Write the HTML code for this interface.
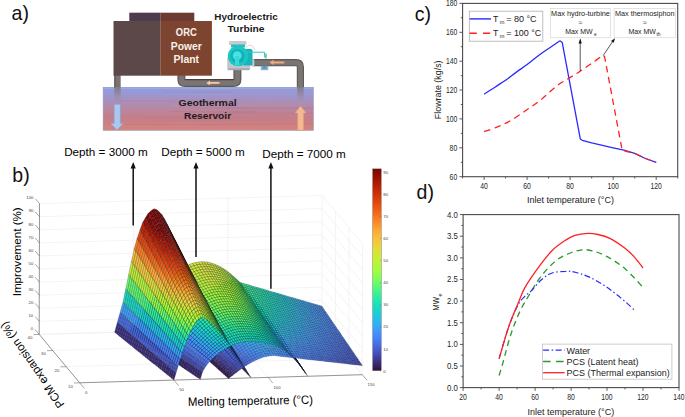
<!DOCTYPE html><html><head><meta charset="utf-8"><style>html,body{margin:0;padding:0;background:#fff;}svg{display:block}</style></head><body><svg width="685" height="417" viewBox="0 0 685 417"><line x1="39.2" y1="334.4" x2="321.8" y2="326.3" stroke="#ececec" stroke-width="0.6"/>
<line x1="321.8" y1="326.3" x2="362.3" y2="374.7" stroke="#ececec" stroke-width="0.6"/>
<line x1="39.2" y1="321.3" x2="321.8" y2="313.2" stroke="#ececec" stroke-width="0.6"/>
<line x1="321.8" y1="313.2" x2="362.3" y2="361.6" stroke="#ececec" stroke-width="0.6"/>
<line x1="39.3" y1="308.2" x2="321.9" y2="300.1" stroke="#ececec" stroke-width="0.6"/>
<line x1="321.9" y1="300.1" x2="362.4" y2="348.5" stroke="#ececec" stroke-width="0.6"/>
<line x1="39.3" y1="295.2" x2="321.9" y2="287.1" stroke="#ececec" stroke-width="0.6"/>
<line x1="321.9" y1="287.1" x2="362.4" y2="335.5" stroke="#ececec" stroke-width="0.6"/>
<line x1="39.3" y1="282.1" x2="321.9" y2="274.0" stroke="#ececec" stroke-width="0.6"/>
<line x1="321.9" y1="274.0" x2="362.4" y2="322.4" stroke="#ececec" stroke-width="0.6"/>
<line x1="39.4" y1="269.0" x2="321.9" y2="260.9" stroke="#ececec" stroke-width="0.6"/>
<line x1="321.9" y1="260.9" x2="362.4" y2="309.3" stroke="#ececec" stroke-width="0.6"/>
<line x1="39.4" y1="255.9" x2="322.0" y2="247.8" stroke="#ececec" stroke-width="0.6"/>
<line x1="322.0" y1="247.8" x2="362.5" y2="296.2" stroke="#ececec" stroke-width="0.6"/>
<line x1="39.4" y1="242.9" x2="322.0" y2="234.8" stroke="#ececec" stroke-width="0.6"/>
<line x1="322.0" y1="234.8" x2="362.5" y2="283.1" stroke="#ececec" stroke-width="0.6"/>
<line x1="39.4" y1="229.8" x2="322.0" y2="221.7" stroke="#ececec" stroke-width="0.6"/>
<line x1="322.0" y1="221.7" x2="362.5" y2="270.1" stroke="#ececec" stroke-width="0.6"/>
<line x1="39.5" y1="216.7" x2="322.1" y2="208.6" stroke="#ececec" stroke-width="0.6"/>
<line x1="322.1" y1="208.6" x2="362.6" y2="257.0" stroke="#ececec" stroke-width="0.6"/>
<line x1="39.5" y1="203.6" x2="322.1" y2="195.5" stroke="#ececec" stroke-width="0.6"/>
<line x1="322.1" y1="195.5" x2="362.6" y2="243.9" stroke="#ececec" stroke-width="0.6"/>
<line x1="39.2" y1="334.4" x2="39.5" y2="203.6" stroke="#ececec" stroke-width="0.6"/>
<line x1="39.2" y1="334.4" x2="79.7" y2="382.8" stroke="#ececec" stroke-width="0.6"/>
<line x1="133.4" y1="331.7" x2="133.7" y2="200.9" stroke="#ececec" stroke-width="0.6"/>
<line x1="133.4" y1="331.7" x2="173.9" y2="380.1" stroke="#ececec" stroke-width="0.6"/>
<line x1="227.6" y1="329.0" x2="227.9" y2="198.2" stroke="#ececec" stroke-width="0.6"/>
<line x1="227.6" y1="329.0" x2="268.1" y2="377.4" stroke="#ececec" stroke-width="0.6"/>
<line x1="321.8" y1="326.3" x2="322.1" y2="195.5" stroke="#ececec" stroke-width="0.6"/>
<line x1="321.8" y1="326.3" x2="362.3" y2="374.7" stroke="#ececec" stroke-width="0.6"/>
<line x1="362.3" y1="374.7" x2="362.6" y2="243.9" stroke="#ececec" stroke-width="0.6"/>
<line x1="348.8" y1="358.6" x2="349.1" y2="227.8" stroke="#ececec" stroke-width="0.6"/>
<line x1="335.3" y1="342.4" x2="335.6" y2="211.6" stroke="#ececec" stroke-width="0.6"/>
<line x1="79.7" y1="382.8" x2="362.3" y2="374.7" stroke="#ececec" stroke-width="0.6"/>
<line x1="66.2" y1="366.7" x2="348.8" y2="358.6" stroke="#ececec" stroke-width="0.6"/>
<line x1="52.7" y1="350.5" x2="335.3" y2="342.4" stroke="#ececec" stroke-width="0.6"/>
<line x1="39.2" y1="334.4" x2="321.8" y2="326.3" stroke="#ececec" stroke-width="0.6"/>
<line x1="39.2" y1="334.4" x2="39.5" y2="203.6" stroke="#555" stroke-width="0.6"/>
<line x1="39.2" y1="334.4" x2="79.7" y2="382.8" stroke="#555" stroke-width="0.6"/>
<line x1="79.7" y1="382.8" x2="362.3" y2="374.7" stroke="#555" stroke-width="0.6"/>
<line x1="39.2" y1="334.4" x2="35.1" y2="329.6" stroke="#555" stroke-width="0.5"/>
<text x="33.2" y="330.1" font-size="4.3" fill="#444" text-anchor="end" font-family="Liberation Sans, sans-serif">0</text>
<line x1="39.2" y1="321.3" x2="35.2" y2="316.5" stroke="#555" stroke-width="0.5"/>
<text x="33.2" y="317.0" font-size="4.3" fill="#444" text-anchor="end" font-family="Liberation Sans, sans-serif">10</text>
<line x1="39.3" y1="308.2" x2="35.2" y2="303.4" stroke="#555" stroke-width="0.5"/>
<text x="33.3" y="303.9" font-size="4.3" fill="#444" text-anchor="end" font-family="Liberation Sans, sans-serif">20</text>
<line x1="39.3" y1="295.2" x2="35.2" y2="290.3" stroke="#555" stroke-width="0.5"/>
<text x="33.3" y="290.9" font-size="4.3" fill="#444" text-anchor="end" font-family="Liberation Sans, sans-serif">30</text>
<line x1="39.3" y1="282.1" x2="35.3" y2="277.3" stroke="#555" stroke-width="0.5"/>
<text x="33.3" y="277.8" font-size="4.3" fill="#444" text-anchor="end" font-family="Liberation Sans, sans-serif">40</text>
<line x1="39.4" y1="269.0" x2="35.3" y2="264.2" stroke="#555" stroke-width="0.5"/>
<text x="33.4" y="264.7" font-size="4.3" fill="#444" text-anchor="end" font-family="Liberation Sans, sans-serif">50</text>
<line x1="39.4" y1="255.9" x2="35.3" y2="251.1" stroke="#555" stroke-width="0.5"/>
<text x="33.4" y="251.6" font-size="4.3" fill="#444" text-anchor="end" font-family="Liberation Sans, sans-serif">60</text>
<line x1="39.4" y1="242.9" x2="35.4" y2="238.0" stroke="#555" stroke-width="0.5"/>
<text x="33.4" y="238.6" font-size="4.3" fill="#444" text-anchor="end" font-family="Liberation Sans, sans-serif">70</text>
<line x1="39.4" y1="229.8" x2="35.4" y2="224.9" stroke="#555" stroke-width="0.5"/>
<text x="33.4" y="225.5" font-size="4.3" fill="#444" text-anchor="end" font-family="Liberation Sans, sans-serif">80</text>
<line x1="39.5" y1="216.7" x2="35.4" y2="211.9" stroke="#555" stroke-width="0.5"/>
<text x="33.5" y="212.4" font-size="4.3" fill="#444" text-anchor="end" font-family="Liberation Sans, sans-serif">90</text>
<line x1="39.5" y1="203.6" x2="35.4" y2="198.8" stroke="#555" stroke-width="0.5"/>
<text x="33.5" y="199.3" font-size="4.3" fill="#444" text-anchor="end" font-family="Liberation Sans, sans-serif">100</text>
<line x1="79.7" y1="382.8" x2="74.0" y2="383.0" stroke="#555" stroke-width="0.5"/>
<text x="70.5" y="387.6" font-size="4.3" fill="#444" text-anchor="middle" font-family="Liberation Sans, sans-serif">10</text>
<line x1="66.2" y1="366.7" x2="60.5" y2="366.8" stroke="#555" stroke-width="0.5"/>
<text x="57.0" y="371.5" font-size="4.3" fill="#444" text-anchor="middle" font-family="Liberation Sans, sans-serif">20</text>
<line x1="52.7" y1="350.5" x2="47.0" y2="350.7" stroke="#555" stroke-width="0.5"/>
<text x="43.5" y="355.3" font-size="4.3" fill="#444" text-anchor="middle" font-family="Liberation Sans, sans-serif">30</text>
<line x1="39.2" y1="334.4" x2="33.5" y2="334.6" stroke="#555" stroke-width="0.5"/>
<text x="30.0" y="339.2" font-size="4.3" fill="#444" text-anchor="middle" font-family="Liberation Sans, sans-serif">40</text>
<line x1="79.7" y1="382.8" x2="84.4" y2="388.4" stroke="#555" stroke-width="0.5"/>
<text x="85.0" y="394.1" font-size="4.3" fill="#444" font-family="Liberation Sans, sans-serif">0</text>
<line x1="173.9" y1="380.1" x2="178.6" y2="385.7" stroke="#555" stroke-width="0.5"/>
<text x="179.2" y="391.4" font-size="4.3" fill="#444" font-family="Liberation Sans, sans-serif">50</text>
<line x1="268.1" y1="377.4" x2="272.8" y2="383.0" stroke="#555" stroke-width="0.5"/>
<text x="273.4" y="388.7" font-size="4.3" fill="#444" font-family="Liberation Sans, sans-serif">100</text>
<line x1="362.3" y1="374.7" x2="367.0" y2="380.3" stroke="#555" stroke-width="0.5"/>
<text x="367.6" y="386.0" font-size="4.3" fill="#444" font-family="Liberation Sans, sans-serif">150</text>
<g stroke="#101018" stroke-opacity="0.55" stroke-width="0.45" stroke-linejoin="round">
<path d="M320.7 307.3l2.5 0.7 -1.3 -1.9 -2.5 -0.7z" fill="#458cfd"/>
<path d="M318.2 306.6l2.5 0.7 -1.3 -1.9 -2.5 -0.7z" fill="#4391fe"/>
<path d="M315.7 305.9l2.5 0.7 -1.3 -1.9 -2.5 -0.7z" fill="#4294ff"/>
<path d="M313.3 305.2l2.5 0.7 -1.3 -1.9 -2.5 -0.7z" fill="#4099ff"/>
<path d="M310.8 304.5l2.5 0.7 -1.3 -1.9 -2.5 -0.7z" fill="#3d9efe"/>
<path d="M308.4 303.8l2.5 0.7 -1.3 -1.9 -2.5 -0.7z" fill="#3ba0fd"/>
<path d="M305.9 303.1l2.5 0.7 -1.3 -1.9 -2.5 -0.7z" fill="#38a5fb"/>
<path d="M303.4 302.4l2.5 0.7 -1.3 -2.0 -2.5 -0.7z" fill="#35abf8"/>
<path d="M273.1 325.5l2.6 3.7 -1.0 -1.5 -2.6 -3.7z" fill="#351e58"/>
<path d="M301.0 301.7l2.5 0.7 -1.3 -2.0 -2.5 -0.7z" fill="#31aff5"/>
<path d="M298.5 301.0l2.5 0.7 -1.3 -2.0 -2.5 -0.7z" fill="#2fb2f4"/>
<path d="M270.5 321.8l2.6 3.7 -1.0 -1.5 -2.6 -3.7z" fill="#3d358b"/>
<path d="M296.1 300.3l2.5 0.7 -1.3 -2.0 -2.5 -0.7z" fill="#2cb7f0"/>
<path d="M293.6 299.6l2.5 0.7 -1.3 -2.0 -2.5 -0.7z" fill="#28bceb"/>
<path d="M267.9 318.1l2.6 3.7 -1.1 -1.6 -2.6 -3.7z" fill="#434eba"/>
<path d="M291.2 298.9l2.5 0.7 -1.3 -2.0 -2.5 -0.7z" fill="#25c0e7"/>
<path d="M288.7 298.2l2.5 0.7 -1.3 -2.0 -2.5 -0.7z" fill="#23c3e4"/>
<path d="M265.3 314.4l2.6 3.6 -1.1 -1.6 -2.6 -3.7z" fill="#4664da"/>
<path d="M286.2 297.5l2.5 0.7 -1.3 -2.0 -2.5 -0.7z" fill="#20c7df"/>
<path d="M321.9 309.2l2.5 0.7 -1.3 -1.9 -2.5 -0.7z" fill="#458cfd"/>
<path d="M283.8 296.8l2.5 0.7 -1.3 -2.1 -2.5 -0.7z" fill="#1ecbda"/>
<path d="M319.5 308.5l2.5 0.7 -1.3 -1.9 -2.5 -0.7z" fill="#448ffe"/>
<path d="M262.7 310.9l2.6 3.6 -1.1 -1.6 -2.6 -3.6z" fill="#4778f0"/>
<path d="M281.3 296.1l2.5 0.7 -1.3 -2.1 -2.5 -0.7z" fill="#1bd0d5"/>
<path d="M317.0 307.8l2.5 0.7 -1.3 -1.9 -2.5 -0.7z" fill="#4294ff"/>
<path d="M278.9 295.4l2.5 0.7 -1.3 -2.1 -2.5 -0.7z" fill="#1ad2d2"/>
<path d="M314.5 307.1l2.5 0.7 -1.3 -1.9 -2.5 -0.7z" fill="#4099ff"/>
<path d="M260.1 307.3l2.6 3.5 -1.1 -1.7 -2.6 -3.6z" fill="#458cfd"/>
<path d="M276.4 294.7l2.5 0.7 -1.3 -2.1 -2.5 -0.7z" fill="#19d5cd"/>
<path d="M312.1 306.5l2.5 0.7 -1.3 -1.9 -2.5 -0.7z" fill="#3d9efe"/>
<path d="M274.0 294.0l2.5 0.7 -1.3 -2.1 -2.5 -0.7z" fill="#18d9c8"/>
<path d="M309.6 305.8l2.5 0.7 -1.3 -1.9 -2.5 -0.7z" fill="#3ba0fd"/>
<path d="M257.5 303.9l2.6 3.4 -1.1 -1.7 -2.6 -3.5z" fill="#3ba0fd"/>
<path d="M271.5 293.3l2.5 0.7 -1.3 -2.1 -2.5 -0.7z" fill="#18dbc5"/>
<path d="M307.2 305.1l2.5 0.7 -1.3 -1.9 -2.5 -0.7z" fill="#38a5fb"/>
<path d="M269.0 292.6l2.5 0.7 -1.3 -2.1 -2.5 -0.7z" fill="#18dec0"/>
<path d="M304.7 304.4l2.5 0.7 -1.3 -2.0 -2.5 -0.7z" fill="#35abf8"/>
<path d="M274.2 327.0l2.6 3.7 -1.0 -1.5 -2.6 -3.7z" fill="#351e58"/>
<path d="M254.9 300.5l2.6 3.4 -1.1 -1.7 -2.6 -3.4z" fill="#2eb4f2"/>
<path d="M266.6 291.9l2.5 0.7 -1.3 -2.2 -2.5 -0.7z" fill="#19e2bb"/>
<path d="M302.3 303.7l2.5 0.7 -1.3 -2.0 -2.5 -0.7z" fill="#33adf7"/>
<path d="M264.1 291.2l2.5 0.7 -1.3 -2.2 -2.5 -0.7z" fill="#1ae4b6"/>
<path d="M299.8 303.0l2.5 0.7 -1.3 -2.0 -2.5 -0.7z" fill="#2fb2f4"/>
<path d="M271.6 323.3l2.6 3.7 -1.0 -1.5 -2.6 -3.7z" fill="#3d358b"/>
<path d="M252.3 297.3l2.6 3.3 -1.2 -1.8 -2.6 -3.3z" fill="#22c5e2"/>
<path d="M261.7 290.5l2.5 0.7 -1.3 -2.2 -2.5 -0.7z" fill="#1ce6b4"/>
<path d="M297.3 302.3l2.5 0.7 -1.3 -2.0 -2.5 -0.7z" fill="#2cb7f0"/>
<path d="M259.2 289.8l2.5 0.7 -1.3 -2.2 -2.5 -0.7z" fill="#1fe9af"/>
<path d="M294.9 301.6l2.5 0.7 -1.3 -2.0 -2.5 -0.7z" fill="#28bceb"/>
<path d="M269.0 319.7l2.6 3.6 -1.1 -1.6 -2.6 -3.7z" fill="#424bb5"/>
<path d="M249.7 294.1l2.6 3.2 -1.2 -1.8 -2.6 -3.2z" fill="#19d5cd"/>
<path d="M256.7 289.1l2.5 0.7 -1.3 -2.2 -2.5 -0.7z" fill="#22ebaa"/>
<path d="M292.4 301.0l2.5 0.7 -1.3 -2.0 -2.5 -0.7z" fill="#27bee9"/>
<path d="M254.3 288.4l2.5 0.7 -1.3 -2.2 -2.5 -0.7z" fill="#27eea4"/>
<path d="M290.0 300.3l2.5 0.7 -1.3 -2.0 -2.5 -0.7z" fill="#23c3e4"/>
<path d="M247.1 291.1l2.6 3.0 -1.2 -1.9 -2.6 -3.1z" fill="#19e2bb"/>
<path d="M266.4 316.1l2.6 3.6 -1.1 -1.6 -2.6 -3.6z" fill="#4664da"/>
<path d="M203.9 325.2l2.5 6.0 -1.4 -1.5 -2.5 -6.0z" fill="#372466"/>
<path d="M251.8 287.7l2.5 0.7 -1.3 -2.2 -2.5 -0.7z" fill="#2aefa1"/>
<path d="M287.5 299.6l2.5 0.7 -1.3 -2.0 -2.5 -0.7z" fill="#20c7df"/>
<path d="M323.2 311.1l2.5 0.7 -1.3 -1.9 -2.5 -0.7z" fill="#458afc"/>
<path d="M249.4 287.0l2.5 0.7 -1.3 -2.3 -2.5 -0.7z" fill="#2ff19b"/>
<path d="M285.0 298.9l2.5 0.7 -1.3 -2.1 -2.5 -0.7z" fill="#1ecbda"/>
<path d="M320.7 310.4l2.5 0.7 -1.3 -1.9 -2.5 -0.7z" fill="#448ffe"/>
<path d="M244.5 288.1l2.6 2.9 -1.2 -1.9 -2.6 -3.0z" fill="#22ebaa"/>
<path d="M263.9 312.5l2.6 3.5 -1.1 -1.6 -2.6 -3.6z" fill="#4778f0"/>
<path d="M246.9 286.3l2.5 0.7 -1.3 -2.3 -2.5 -0.7z" fill="#35f394"/>
<path d="M282.6 298.2l2.5 0.7 -1.3 -2.1 -2.5 -0.7z" fill="#1ccdd8"/>
<path d="M318.3 309.7l2.5 0.7 -1.3 -1.9 -2.5 -0.7z" fill="#4294ff"/>
<path d="M244.5 285.6l2.5 0.7 -1.3 -2.3 -2.5 -0.7z" fill="#3cf58e"/>
<path d="M201.3 317.8l2.5 7.4 -1.4 -1.6 -2.5 -7.5z" fill="#434eba"/>
<path d="M280.1 297.5l2.5 0.7 -1.3 -2.1 -2.5 -0.7z" fill="#1ad2d2"/>
<path d="M315.8 309.1l2.5 0.7 -1.3 -1.9 -2.5 -0.7z" fill="#4196ff"/>
<path d="M241.9 285.3l2.6 2.8 -1.2 -2.0 -2.6 -2.8z" fill="#32f298"/>
<path d="M261.3 309.0l2.6 3.5 -1.1 -1.7 -2.6 -3.5z" fill="#458cfd"/>
<path d="M242.0 284.9l2.5 0.7 -1.3 -2.3 -2.5 -0.7z" fill="#3ff68a"/>
<path d="M277.7 296.8l2.5 0.7 -1.3 -2.1 -2.5 -0.7z" fill="#19d5cd"/>
<path d="M313.4 308.4l2.5 0.7 -1.3 -1.9 -2.5 -0.7z" fill="#3e9bfe"/>
<path d="M239.5 284.2l2.5 0.7 -1.3 -2.3 -2.5 -0.7z" fill="#46f884"/>
<path d="M275.2 296.1l2.5 0.7 -1.3 -2.1 -2.5 -0.7z" fill="#18d7ca"/>
<path d="M239.3 282.7l2.6 2.6 -1.2 -2.0 -2.6 -2.7z" fill="#4af880"/>
<path d="M310.9 307.7l2.5 0.7 -1.3 -1.9 -2.5 -0.7z" fill="#3ba0fd"/>
<path d="M237.1 283.5l2.5 0.7 -1.3 -2.3 -2.5 -0.7z" fill="#4ef97d"/>
<path d="M258.7 305.6l2.6 3.4 -1.1 -1.7 -2.6 -3.4z" fill="#3ba0fd"/>
<path d="M272.8 295.5l2.5 0.7 -1.3 -2.1 -2.5 -0.7z" fill="#18dbc5"/>
<path d="M308.4 307.0l2.5 0.7 -1.3 -1.9 -2.5 -0.7z" fill="#38a5fb"/>
<path d="M198.8 309.4l2.5 8.4 -1.5 -1.7 -2.5 -8.5z" fill="#467df4"/>
<path d="M236.7 280.2l2.6 2.5 -1.3 -2.1 -2.6 -2.5z" fill="#61fc6c"/>
<path d="M234.6 282.8l2.5 0.7 -1.3 -2.3 -2.5 -0.7z" fill="#52fa7a"/>
<path d="M270.3 294.8l2.5 0.7 -1.3 -2.1 -2.5 -0.7z" fill="#18dec0"/>
<path d="M306.0 306.4l2.5 0.7 -1.3 -2.0 -2.5 -0.7z" fill="#37a8fa"/>
<path d="M176.5 332.0l3.2 -4.2 -1.7 -1.6 -3.3 4.3z" fill="#351e58"/>
<path d="M275.2 328.5l2.6 3.7 -1.0 -1.5 -2.6 -3.7z" fill="#351e58"/>
<path d="M231.4 283.1l3.2 -0.3 -1.3 -2.3 -3.2 0.3z" fill="#55fa76"/>
<path d="M179.8 327.8l3.2 -4.2 -1.6 -1.6 -3.3 4.3z" fill="#3e3891"/>
<path d="M256.1 302.3l2.6 3.3 -1.1 -1.7 -2.6 -3.4z" fill="#2eb4f2"/>
<path d="M267.8 294.1l2.5 0.7 -1.3 -2.2 -2.5 -0.7z" fill="#19e2bb"/>
<path d="M303.5 305.7l2.5 0.7 -1.3 -2.0 -2.5 -0.7z" fill="#33adf7"/>
<path d="M183.0 323.6l3.2 -4.1 -1.6 -1.7 -3.3 4.2z" fill="#4454c3"/>
<path d="M234.1 277.9l2.6 2.3 -1.3 -2.1 -2.6 -2.4z" fill="#75fe5c"/>
<path d="M228.2 283.7l3.2 -0.6 -1.3 -2.3 -3.2 0.6z" fill="#52fa7a"/>
<path d="M265.4 293.4l2.5 0.7 -1.3 -2.2 -2.5 -0.7z" fill="#19e3b9"/>
<path d="M186.2 319.4l3.2 -4.0 -1.6 -1.8 -3.3 4.1z" fill="#466be3"/>
<path d="M301.1 305.0l2.5 0.7 -1.3 -2.0 -2.5 -0.7z" fill="#2fb2f4"/>
<path d="M225.0 284.7l3.2 -1.0 -1.3 -2.3 -3.2 1.0z" fill="#4ef97d"/>
<path d="M189.5 315.4l3.2 -3.9 -1.6 -1.9 -3.3 4.0z" fill="#4680f6"/>
<path d="M272.7 324.9l2.6 3.7 -1.0 -1.5 -2.6 -3.7z" fill="#3d358b"/>
<path d="M192.7 311.5l3.2 -3.8 -1.5 -1.9 -3.3 3.8z" fill="#4196ff"/>
<path d="M221.7 286.0l3.2 -1.3 -1.3 -2.3 -3.2 1.4z" fill="#43f787"/>
<path d="M253.5 299.1l2.6 3.2 -1.2 -1.8 -2.6 -3.3z" fill="#22c5e2"/>
<path d="M262.9 292.7l2.5 0.7 -1.3 -2.2 -2.5 -0.7z" fill="#1ce6b4"/>
<path d="M298.6 304.3l2.5 0.7 -1.3 -2.0 -2.5 -0.7z" fill="#2eb4f2"/>
<path d="M231.5 275.7l2.6 2.2 -1.3 -2.2 -2.6 -2.2z" fill="#8bff4b"/>
<path d="M195.9 307.7l3.2 -3.6 -1.5 -2.0 -3.3 3.7z" fill="#35abf8"/>
<path d="M218.5 287.7l3.2 -1.7 -1.4 -2.3 -3.2 1.7z" fill="#38f491"/>
<path d="M199.1 304.1l3.2 -3.4 -1.5 -2.0 -3.3 3.4z" fill="#28bceb"/>
<path d="M215.3 289.7l3.2 -2.0 -1.4 -2.3 -3.2 2.0z" fill="#2cf09e"/>
<path d="M196.3 299.7l2.5 9.7 -1.5 -1.8 -2.5 -9.9z" fill="#2fb2f4"/>
<path d="M202.4 300.7l3.2 -3.2 -1.5 -2.1 -3.3 3.2z" fill="#1ccdd8"/>
<path d="M212.1 292.0l3.2 -2.3 -1.4 -2.2 -3.2 2.4z" fill="#22ebaa"/>
<path d="M205.6 297.6l3.2 -2.9 -1.4 -2.1 -3.3 2.9z" fill="#18d9c8"/>
<path d="M208.8 294.7l3.2 -2.6 -1.4 -2.2 -3.3 2.7z" fill="#19e3b9"/>
<path d="M260.5 292.0l2.5 0.7 -1.3 -2.2 -2.5 -0.7z" fill="#1fe9af"/>
<path d="M296.1 303.7l2.5 0.7 -1.3 -2.0 -2.5 -0.7z" fill="#2ab9ee"/>
<path d="M228.9 273.7l2.6 2.0 -1.3 -2.2 -2.6 -2.0z" fill="#99fe42"/>
<path d="M250.9 296.0l2.6 3.1 -1.2 -1.8 -2.6 -3.2z" fill="#19d5cd"/>
<path d="M258.0 291.3l2.5 0.7 -1.3 -2.2 -2.5 -0.7z" fill="#22ebaa"/>
<path d="M270.1 321.3l2.6 3.6 -1.1 -1.6 -2.6 -3.6z" fill="#424bb5"/>
<path d="M293.7 303.0l2.5 0.7 -1.3 -2.0 -2.5 -0.7z" fill="#27bee9"/>
<path d="M255.6 290.6l2.5 0.7 -1.3 -2.2 -2.5 -0.7z" fill="#25eca7"/>
<path d="M291.2 302.3l2.5 0.7 -1.3 -2.0 -2.5 -0.7z" fill="#23c3e4"/>
<path d="M226.3 271.9l2.6 1.8 -1.3 -2.3 -2.6 -1.9z" fill="#a7fc3a"/>
<path d="M248.4 293.0l2.6 3.0 -1.2 -1.9 -2.6 -3.0z" fill="#19e2bb"/>
<path d="M253.1 290.0l2.5 0.7 -1.3 -2.2 -2.5 -0.7z" fill="#2aefa1"/>
<path d="M205.3 326.8l2.5 5.9 -1.4 -1.5 -2.5 -6.0z" fill="#372466"/>
<path d="M267.5 317.7l2.6 3.6 -1.1 -1.6 -2.6 -3.6z" fill="#4664da"/>
<path d="M288.8 301.6l2.5 0.7 -1.3 -2.0 -2.5 -0.7z" fill="#22c5e2"/>
<path d="M324.4 312.9l2.5 0.7 -1.3 -1.9 -2.5 -0.7z" fill="#458afc"/>
<path d="M223.7 270.2l2.6 1.6 -1.3 -2.3 -2.6 -1.7z" fill="#b1f936"/>
<path d="M250.6 289.3l2.5 0.7 -1.3 -2.3 -2.5 -0.7z" fill="#2ff19b"/>
<path d="M193.7 290.5l2.5 9.1 -1.5 -2.0 -2.5 -9.3z" fill="#18dec0"/>
<path d="M286.3 301.0l2.5 0.7 -1.3 -2.1 -2.5 -0.7z" fill="#1fc9dd"/>
<path d="M322.0 312.3l2.5 0.7 -1.3 -1.9 -2.5 -0.7z" fill="#448ffe"/>
<path d="M245.8 290.1l2.6 2.9 -1.2 -1.9 -2.6 -2.9z" fill="#22ebaa"/>
<path d="M248.2 288.6l2.5 0.7 -1.3 -2.3 -2.5 -0.7z" fill="#32f298"/>
<path d="M221.1 268.8l2.6 1.4 -1.4 -2.3 -2.6 -1.5z" fill="#bcf534"/>
<path d="M283.9 300.3l2.5 0.7 -1.3 -2.1 -2.5 -0.7z" fill="#1ccdd8"/>
<path d="M265.0 314.2l2.6 3.5 -1.1 -1.6 -2.6 -3.5z" fill="#4778f0"/>
<path d="M319.5 311.6l2.5 0.7 -1.3 -1.9 -2.5 -0.7z" fill="#4391fe"/>
<path d="M245.7 287.9l2.5 0.7 -1.3 -2.3 -2.5 -0.7z" fill="#38f491"/>
<path d="M281.4 299.6l2.5 0.7 -1.3 -2.1 -2.5 -0.7z" fill="#1bd0d5"/>
<path d="M202.8 319.5l2.5 7.3 -1.4 -1.6 -2.5 -7.4z" fill="#434eba"/>
<path d="M218.5 267.5l2.6 1.3 -1.4 -2.4 -2.6 -1.3z" fill="#c3f134"/>
<path d="M317.1 311.0l2.5 0.7 -1.3 -1.9 -2.5 -0.7z" fill="#4196ff"/>
<path d="M243.2 287.4l2.6 2.7 -1.2 -2.0 -2.6 -2.8z" fill="#32f298"/>
<path d="M243.3 287.2l2.5 0.7 -1.3 -2.3 -2.5 -0.7z" fill="#3ff68a"/>
<path d="M278.9 298.9l2.5 0.7 -1.3 -2.1 -2.5 -0.7z" fill="#1ad4d0"/>
<path d="M262.4 310.7l2.6 3.4 -1.1 -1.7 -2.6 -3.5z" fill="#458cfd"/>
<path d="M314.6 310.3l2.5 0.7 -1.3 -1.9 -2.5 -0.7z" fill="#3e9bfe"/>
<path d="M215.9 266.5l2.6 1.1 -1.4 -2.4 -2.6 -1.1z" fill="#cbed34"/>
<path d="M240.8 286.5l2.5 0.7 -1.3 -2.3 -2.5 -0.7z" fill="#46f884"/>
<path d="M191.2 282.1l2.5 8.4 -1.5 -2.2 -2.5 -8.5z" fill="#43f787"/>
<path d="M276.5 298.3l2.5 0.7 -1.3 -2.1 -2.5 -0.7z" fill="#18d7ca"/>
<path d="M240.6 284.8l2.6 2.6 -1.2 -2.0 -2.6 -2.6z" fill="#46f884"/>
<path d="M312.2 309.6l2.5 0.7 -1.3 -1.9 -2.5 -0.7z" fill="#3d9efe"/>
<path d="M213.3 265.6l2.6 0.9 -1.4 -2.4 -2.6 -0.9z" fill="#d0ea34"/>
<path d="M238.3 285.8l2.5 0.7 -1.3 -2.3 -2.5 -0.7z" fill="#4af880"/>
<path d="M274.0 297.6l2.5 0.7 -1.3 -2.1 -2.5 -0.7z" fill="#18dbc5"/>
<path d="M259.8 307.4l2.6 3.4 -1.1 -1.7 -2.6 -3.4z" fill="#3ba0fd"/>
<path d="M309.7 309.0l2.5 0.7 -1.3 -1.9 -2.5 -0.7z" fill="#3aa3fc"/>
<path d="M131.8 333.3l3.0 -4.6 -2.2 -1.4 -3.0 4.5z" fill="#351e58"/>
<path d="M210.7 264.9l2.6 0.7 -1.4 -2.4 -2.6 -0.7z" fill="#d4e735"/>
<path d="M200.3 311.3l2.5 8.2 -1.5 -1.7 -2.5 -8.4z" fill="#467df4"/>
<path d="M235.9 285.1l2.5 0.7 -1.3 -2.3 -2.5 -0.7z" fill="#52fa7a"/>
<path d="M238.0 282.3l2.6 2.5 -1.3 -2.1 -2.6 -2.5z" fill="#5dfc6f"/>
<path d="M271.6 296.9l2.5 0.7 -1.3 -2.1 -2.5 -0.7z" fill="#18ddc2"/>
<path d="M307.2 308.3l2.5 0.7 -1.3 -2.0 -2.5 -0.7z" fill="#37a8fa"/>
<path d="M134.8 328.7l3.0 -4.5 -2.1 -1.4 -3.0 4.5z" fill="#3f3b97"/>
<path d="M178.2 333.5l3.2 -4.2 -1.7 -1.6 -3.2 4.2z" fill="#351e58"/>
<path d="M208.1 264.5l2.6 0.4 -1.4 -2.5 -2.6 -0.5z" fill="#d7e535"/>
<path d="M232.7 285.4l3.2 -0.3 -1.3 -2.3 -3.2 0.3z" fill="#55fa76"/>
<path d="M269.1 296.2l2.5 0.7 -1.3 -2.2 -2.5 -0.7z" fill="#18e0bd"/>
<path d="M181.4 329.4l3.2 -4.1 -1.6 -1.6 -3.2 4.2z" fill="#3e3891"/>
<path d="M137.8 324.2l3.0 -4.4 -2.1 -1.5 -3.0 4.5z" fill="#4456c7"/>
<path d="M276.3 330.1l2.5 3.7 -1.0 -1.5 -2.6 -3.7z" fill="#351e58"/>
<path d="M257.3 304.1l2.6 3.3 -1.1 -1.7 -2.6 -3.3z" fill="#2eb4f2"/>
<path d="M304.8 307.7l2.5 0.7 -1.3 -2.0 -2.5 -0.7z" fill="#33adf7"/>
<path d="M235.4 280.0l2.6 2.3 -1.3 -2.1 -2.6 -2.3z" fill="#75fe5c"/>
<path d="M184.6 325.2l3.2 -4.1 -1.6 -1.7 -3.2 4.1z" fill="#4454c3"/>
<path d="M205.5 264.3l2.6 0.2 -1.5 -2.5 -2.6 -0.2z" fill="#d9e436"/>
<path d="M229.5 286.0l3.2 -0.6 -1.3 -2.3 -3.2 0.6z" fill="#52fa7a"/>
<path d="M188.7 273.9l2.5 8.3 -1.5 -2.4 -2.5 -8.4z" fill="#8bff4b"/>
<path d="M140.7 319.8l3.0 -4.4 -2.1 -1.5 -3.0 4.4z" fill="#4771e9"/>
<path d="M266.6 295.6l2.5 0.7 -1.3 -2.2 -2.5 -0.7z" fill="#19e3b9"/>
<path d="M187.8 321.2l3.2 -4.0 -1.6 -1.8 -3.2 4.0z" fill="#4669e0"/>
<path d="M302.3 307.0l2.5 0.7 -1.3 -2.0 -2.5 -0.7z" fill="#31aff5"/>
<path d="M226.3 287.0l3.2 -1.0 -1.3 -2.3 -3.2 1.0z" fill="#4af880"/>
<path d="M202.9 264.2l2.6 0.0 -1.5 -2.5 -2.6 -0.0z" fill="#dbe236"/>
<path d="M143.7 315.4l3.0 -4.3 -2.1 -1.6 -3.0 4.3z" fill="#4687fb"/>
<path d="M191.0 317.2l3.2 -3.9 -1.6 -1.9 -3.2 3.9z" fill="#4680f6"/>
<path d="M223.1 288.3l3.2 -1.3 -1.3 -2.3 -3.2 1.3z" fill="#43f787"/>
<path d="M194.2 313.3l3.2 -3.7 -1.5 -1.9 -3.2 3.8z" fill="#4196ff"/>
<path d="M264.2 294.9l2.5 0.7 -1.3 -2.2 -2.5 -0.7z" fill="#1ae4b6"/>
<path d="M146.7 311.1l3.0 -4.2 -2.0 -1.7 -3.0 4.3z" fill="#3d9efe"/>
<path d="M254.7 300.9l2.6 3.2 -1.2 -1.8 -2.6 -3.2z" fill="#22c5e2"/>
<path d="M232.8 277.9l2.6 2.1 -1.3 -2.2 -2.6 -2.2z" fill="#88ff4e"/>
<path d="M273.7 326.4l2.5 3.6 -1.0 -1.5 -2.6 -3.7z" fill="#3d358b"/>
<path d="M299.9 306.3l2.5 0.7 -1.3 -2.0 -2.5 -0.7z" fill="#2eb4f2"/>
<path d="M199.9 264.5l3.0 -0.2 -1.5 -2.5 -3.0 0.2z" fill="#dbe236"/>
<path d="M197.5 309.6l3.2 -3.5 -1.5 -2.0 -3.2 3.6z" fill="#35abf8"/>
<path d="M219.9 290.0l3.2 -1.7 -1.4 -2.3 -3.2 1.7z" fill="#38f491"/>
<path d="M200.7 306.1l3.2 -3.3 -1.5 -2.0 -3.2 3.4z" fill="#28bceb"/>
<path d="M216.7 292.0l3.2 -2.0 -1.4 -2.3 -3.2 2.0z" fill="#2cf09e"/>
<path d="M149.6 306.9l3.0 -4.1 -2.0 -1.7 -3.0 4.1z" fill="#2cb7f0"/>
<path d="M203.9 302.8l3.2 -3.1 -1.5 -2.1 -3.2 3.2z" fill="#1ecbda"/>
<path d="M197.7 301.7l2.5 9.6 -1.5 -1.8 -2.5 -9.7z" fill="#2fb2f4"/>
<path d="M213.5 294.2l3.2 -2.3 -1.4 -2.2 -3.2 2.3z" fill="#20eaac"/>
<path d="M207.1 299.7l3.2 -2.8 -1.4 -2.1 -3.2 2.9z" fill="#18d9c8"/>
<path d="M210.3 296.8l3.2 -2.6 -1.4 -2.2 -3.2 2.6z" fill="#19e3b9"/>
<path d="M261.7 294.2l2.5 0.7 -1.3 -2.2 -2.5 -0.7z" fill="#1de7b2"/>
<path d="M197.0 265.0l3.0 -0.5 -1.5 -2.5 -3.0 0.5z" fill="#d9e436"/>
<path d="M297.4 305.7l2.5 0.7 -1.3 -2.0 -2.5 -0.7z" fill="#2ab9ee"/>
<path d="M152.6 302.9l3.0 -3.9 -2.0 -1.8 -3.0 4.0z" fill="#1fc9dd"/>
<path d="M194.0 265.8l3.0 -0.8 -1.6 -2.5 -3.0 0.8z" fill="#d7e535"/>
<path d="M230.3 275.9l2.6 2.0 -1.3 -2.2 -2.6 -2.0z" fill="#99fe42"/>
<path d="M155.5 298.9l3.0 -3.8 -1.9 -1.9 -3.0 3.9z" fill="#18dbc5"/>
<path d="M259.3 293.6l2.5 0.7 -1.3 -2.2 -2.5 -0.7z" fill="#20eaac"/>
<path d="M252.1 297.9l2.6 3.1 -1.2 -1.8 -2.6 -3.1z" fill="#1ad4d0"/>
<path d="M116.4 333.7l2.8 -9.9 -1.8 -1.6 -2.8 10.0z" fill="#3b2f80"/>
<path d="M295.0 305.0l2.5 0.7 -1.3 -2.0 -2.5 -0.7z" fill="#28bceb"/>
<path d="M191.1 266.8l3.0 -1.1 -1.6 -2.5 -3.0 1.1z" fill="#d2e935"/>
<path d="M158.5 295.1l3.0 -3.6 -1.9 -1.9 -3.0 3.7z" fill="#1de7b2"/>
<path d="M271.2 322.9l2.5 3.6 -1.1 -1.6 -2.6 -3.6z" fill="#424bb5"/>
<path d="M186.1 265.6l2.5 8.3 -1.5 -2.5 -2.5 -8.4z" fill="#c1f334"/>
<path d="M161.5 291.5l3.0 -3.5 -1.9 -2.0 -3.0 3.5z" fill="#2ff19b"/>
<path d="M188.1 268.2l3.0 -1.3 -1.6 -2.4 -3.0 1.4z" fill="#cbed34"/>
<path d="M164.4 288.0l3.0 -3.3 -1.9 -2.1 -3.0 3.3z" fill="#46f884"/>
<path d="M256.8 292.9l2.5 0.7 -1.3 -2.2 -2.5 -0.7z" fill="#25eca7"/>
<path d="M185.1 269.8l3.0 -1.6 -1.6 -2.4 -3.0 1.7z" fill="#c3f134"/>
<path d="M227.7 274.1l2.6 1.8 -1.3 -2.3 -2.6 -1.8z" fill="#a4fc3c"/>
<path d="M292.5 304.4l2.5 0.7 -1.3 -2.0 -2.5 -0.7z" fill="#25c0e7"/>
<path d="M167.4 284.8l3.0 -3.1 -1.8 -2.1 -3.0 3.1z" fill="#61fc6c"/>
<path d="M182.2 271.7l3.0 -1.9 -1.7 -2.4 -3.0 1.9z" fill="#b9f635"/>
<path d="M170.4 281.7l3.0 -2.9 -1.8 -2.2 -3.0 2.9z" fill="#7dff56"/>
<path d="M179.2 273.8l3.0 -2.1 -1.7 -2.3 -3.0 2.2z" fill="#affa37"/>
<path d="M173.3 278.8l3.0 -2.6 -1.8 -2.2 -3.0 2.7z" fill="#92ff47"/>
<path d="M176.3 276.2l3.0 -2.4 -1.7 -2.3 -3.0 2.4z" fill="#a1fd3d"/>
<path d="M249.6 294.9l2.6 3.0 -1.2 -1.9 -2.6 -3.0z" fill="#18e0bd"/>
<path d="M254.4 292.2l2.5 0.7 -1.3 -2.2 -2.5 -0.7z" fill="#27eea4"/>
<path d="M290.0 303.7l2.5 0.7 -1.3 -2.0 -2.5 -0.7z" fill="#22c5e2"/>
<path d="M206.8 328.3l2.5 5.8 -1.4 -1.5 -2.5 -5.9z" fill="#372466"/>
<path d="M268.6 319.3l2.5 3.5 -1.1 -1.6 -2.6 -3.6z" fill="#4664da"/>
<path d="M325.7 314.8l2.5 0.6 -1.3 -1.9 -2.5 -0.7z" fill="#458afc"/>
<path d="M225.1 272.5l2.6 1.6 -1.3 -2.3 -2.6 -1.6z" fill="#affa37"/>
<path d="M119.2 323.9l2.8 -9.9 -1.8 -1.7 -2.8 10.0z" fill="#466be3"/>
<path d="M195.2 292.7l2.5 9.0 -1.5 -2.0 -2.5 -9.1z" fill="#18dec0"/>
<path d="M251.9 291.5l2.5 0.7 -1.3 -2.3 -2.5 -0.7z" fill="#2cf09e"/>
<path d="M287.6 303.0l2.5 0.7 -1.3 -2.1 -2.5 -0.7z" fill="#1fc9dd"/>
<path d="M323.3 314.2l2.5 0.6 -1.3 -1.9 -2.5 -0.7z" fill="#458cfd"/>
<path d="M247.0 292.1l2.6 2.8 -1.2 -1.9 -2.6 -2.9z" fill="#20eaac"/>
<path d="M222.5 271.1l2.6 1.4 -1.4 -2.3 -2.6 -1.4z" fill="#b9f635"/>
<path d="M249.4 290.9l2.5 0.7 -1.3 -2.3 -2.5 -0.7z" fill="#32f298"/>
<path d="M183.6 259.1l2.5 6.5 -1.5 -2.7 -2.5 -6.6z" fill="#e7d739"/>
<path d="M285.1 302.4l2.5 0.7 -1.3 -2.1 -2.5 -0.7z" fill="#1ecbda"/>
<path d="M266.1 315.8l2.5 3.5 -1.1 -1.6 -2.6 -3.5z" fill="#4778f0"/>
<path d="M320.8 313.5l2.5 0.6 -1.3 -1.9 -2.5 -0.7z" fill="#4391fe"/>
<path d="M247.0 290.2l2.5 0.7 -1.3 -2.3 -2.5 -0.7z" fill="#38f491"/>
<path d="M282.7 301.7l2.5 0.7 -1.3 -2.1 -2.5 -0.7z" fill="#1bd0d5"/>
<path d="M219.9 269.9l2.6 1.2 -1.4 -2.4 -2.6 -1.3z" fill="#c1f334"/>
<path d="M204.3 321.2l2.5 7.2 -1.4 -1.6 -2.5 -7.3z" fill="#434eba"/>
<path d="M318.3 312.9l2.5 0.6 -1.3 -1.9 -2.5 -0.7z" fill="#4196ff"/>
<path d="M122.0 314.0l2.8 -9.9 -1.8 -1.8 -2.8 10.0z" fill="#3aa3fc"/>
<path d="M244.4 289.4l2.6 2.7 -1.2 -2.0 -2.6 -2.7z" fill="#32f298"/>
<path d="M244.5 289.5l2.5 0.7 -1.3 -2.3 -2.5 -0.7z" fill="#3cf58e"/>
<path d="M280.2 301.1l2.5 0.7 -1.3 -2.1 -2.5 -0.7z" fill="#1ad4d0"/>
<path d="M217.3 268.9l2.6 1.0 -1.4 -2.4 -2.6 -1.1z" fill="#c8ef34"/>
<path d="M263.5 312.4l2.5 3.4 -1.1 -1.7 -2.6 -3.4z" fill="#458cfd"/>
<path d="M315.9 312.2l2.5 0.6 -1.3 -1.9 -2.5 -0.7z" fill="#4099ff"/>
<path d="M192.7 284.5l2.5 8.2 -1.5 -2.2 -2.5 -8.4z" fill="#43f787"/>
<path d="M242.1 288.8l2.5 0.7 -1.3 -2.3 -2.5 -0.7z" fill="#43f787"/>
<path d="M277.7 300.4l2.5 0.7 -1.3 -2.1 -2.5 -0.7z" fill="#19d5cd"/>
<path d="M181.0 252.8l2.5 6.3 -1.5 -2.8 -2.5 -6.4z" fill="#faba39"/>
<path d="M241.9 286.8l2.6 2.6 -1.2 -2.0 -2.6 -2.6z" fill="#46f884"/>
<path d="M313.4 311.6l2.5 0.6 -1.3 -1.9 -2.5 -0.7z" fill="#3d9efe"/>
<path d="M214.7 268.0l2.6 0.8 -1.4 -2.4 -2.6 -0.9z" fill="#cdec34"/>
<path d="M239.6 288.2l2.5 0.7 -1.3 -2.3 -2.5 -0.7z" fill="#4af880"/>
<path d="M275.3 299.7l2.5 0.7 -1.3 -2.1 -2.5 -0.7z" fill="#18d9c8"/>
<path d="M311.0 310.9l2.5 0.6 -1.3 -1.9 -2.5 -0.7z" fill="#3aa3fc"/>
<path d="M261.0 309.1l2.5 3.3 -1.1 -1.7 -2.6 -3.4z" fill="#3ba0fd"/>
<path d="M212.1 267.4l2.6 0.6 -1.4 -2.4 -2.6 -0.7z" fill="#d2e935"/>
<path d="M134.0 334.8l2.9 -4.7 -2.2 -1.4 -3.0 4.6z" fill="#351e58"/>
<path d="M237.2 287.5l2.5 0.7 -1.3 -2.3 -2.5 -0.7z" fill="#4ef97d"/>
<path d="M201.7 313.1l2.5 8.1 -1.5 -1.7 -2.5 -8.2z" fill="#467df4"/>
<path d="M124.8 304.1l2.8 -13.3 -1.8 -2.0 -2.8 13.6z" fill="#18ddc2"/>
<path d="M239.3 284.4l2.6 2.4 -1.3 -2.1 -2.6 -2.5z" fill="#5dfc6f"/>
<path d="M272.8 299.1l2.5 0.7 -1.3 -2.1 -2.5 -0.7z" fill="#18ddc2"/>
<path d="M137.0 330.1l2.9 -4.5 -2.1 -1.4 -3.0 4.5z" fill="#3f3b97"/>
<path d="M308.5 310.3l2.5 0.6 -1.3 -2.0 -2.5 -0.7z" fill="#38a5fb"/>
<path d="M209.6 267.0l2.6 0.4 -1.4 -2.5 -2.6 -0.4z" fill="#d7e535"/>
<path d="M179.9 335.0l3.2 -4.1 -1.7 -1.6 -3.2 4.2z" fill="#351e58"/>
<path d="M234.0 287.8l3.2 -0.3 -1.3 -2.3 -3.2 0.3z" fill="#52fa7a"/>
<path d="M270.4 298.4l2.5 0.7 -1.3 -2.2 -2.5 -0.7z" fill="#18dec0"/>
<path d="M178.5 247.0l2.5 5.7 -1.5 -2.9 -2.5 -5.8z" fill="#fe962b"/>
<path d="M139.9 325.6l2.9 -4.4 -2.1 -1.5 -3.0 4.4z" fill="#4456c7"/>
<path d="M183.1 330.9l3.2 -4.1 -1.6 -1.6 -3.2 4.1z" fill="#3e3891"/>
<path d="M306.0 309.6l2.5 0.6 -1.3 -2.0 -2.5 -0.7z" fill="#35abf8"/>
<path d="M258.4 305.9l2.5 3.2 -1.1 -1.7 -2.6 -3.3z" fill="#2fb2f4"/>
<path d="M277.3 331.6l2.5 3.6 -1.0 -1.5 -2.5 -3.7z" fill="#351e58"/>
<path d="M207.0 266.7l2.6 0.2 -1.5 -2.5 -2.6 -0.2z" fill="#d9e436"/>
<path d="M236.7 282.2l2.6 2.2 -1.3 -2.1 -2.6 -2.3z" fill="#71fe5f"/>
<path d="M230.8 288.4l3.2 -0.6 -1.3 -2.3 -3.2 0.6z" fill="#4ef97d"/>
<path d="M190.1 276.4l2.5 8.1 -1.5 -2.4 -2.5 -8.3z" fill="#88ff4e"/>
<path d="M186.3 326.9l3.2 -4.0 -1.6 -1.7 -3.2 4.1z" fill="#4451bf"/>
<path d="M142.9 321.2l2.9 -4.3 -2.1 -1.5 -3.0 4.4z" fill="#4771e9"/>
<path d="M267.9 297.8l2.5 0.7 -1.3 -2.2 -2.5 -0.7z" fill="#19e2bb"/>
<path d="M189.4 322.9l3.2 -3.9 -1.6 -1.8 -3.2 4.0z" fill="#4669e0"/>
<path d="M204.4 266.7l2.6 0.0 -1.5 -2.5 -2.6 -0.0z" fill="#d9e436"/>
<path d="M227.6 289.3l3.2 -1.0 -1.3 -2.3 -3.2 1.0z" fill="#4af880"/>
<path d="M303.6 309.0l2.5 0.6 -1.3 -2.0 -2.5 -0.7z" fill="#31aff5"/>
<path d="M145.8 316.9l2.9 -4.2 -2.1 -1.6 -3.0 4.3z" fill="#4687fb"/>
<path d="M192.6 319.0l3.2 -3.8 -1.6 -1.9 -3.2 3.9z" fill="#4680f6"/>
<path d="M224.4 290.6l3.2 -1.3 -1.3 -2.3 -3.2 1.3z" fill="#3ff68a"/>
<path d="M195.8 315.2l3.2 -3.6 -1.5 -1.9 -3.2 3.7z" fill="#4294ff"/>
<path d="M265.5 297.1l2.5 0.7 -1.3 -2.2 -2.5 -0.7z" fill="#1ae4b6"/>
<path d="M148.7 312.7l2.9 -4.1 -2.0 -1.7 -3.0 4.2z" fill="#3d9efe"/>
<path d="M201.5 266.9l2.9 -0.2 -1.5 -2.5 -3.0 0.2z" fill="#d9e436"/>
<path d="M234.2 280.1l2.6 2.1 -1.3 -2.2 -2.6 -2.1z" fill="#88ff4e"/>
<path d="M221.3 292.2l3.2 -1.6 -1.4 -2.3 -3.2 1.7z" fill="#35f394"/>
<path d="M255.9 302.8l2.5 3.1 -1.2 -1.8 -2.6 -3.2z" fill="#22c5e2"/>
<path d="M301.1 308.3l2.5 0.6 -1.3 -2.0 -2.5 -0.7z" fill="#2fb2f4"/>
<path d="M199.0 311.5l3.2 -3.5 -1.5 -2.0 -3.2 3.5z" fill="#37a8fa"/>
<path d="M274.8 328.0l2.5 3.6 -1.0 -1.5 -2.5 -3.6z" fill="#3d358b"/>
<path d="M218.1 294.2l3.2 -1.9 -1.4 -2.3 -3.2 2.0z" fill="#2aefa1"/>
<path d="M202.2 308.1l3.2 -3.3 -1.5 -2.0 -3.2 3.3z" fill="#28bceb"/>
<path d="M151.7 308.6l2.9 -4.0 -2.0 -1.7 -3.0 4.1z" fill="#2eb4f2"/>
<path d="M205.4 304.8l3.2 -3.0 -1.5 -2.1 -3.2 3.1z" fill="#1ecbda"/>
<path d="M214.9 296.4l3.2 -2.2 -1.4 -2.2 -3.2 2.3z" fill="#20eaac"/>
<path d="M175.9 242.0l2.5 5.0 -1.5 -3.0 -2.6 -5.1z" fill="#f8721c"/>
<path d="M198.5 267.4l2.9 -0.5 -1.5 -2.5 -3.0 0.5z" fill="#d7e535"/>
<path d="M199.2 303.7l2.5 9.4 -1.5 -1.8 -2.5 -9.6z" fill="#31aff5"/>
<path d="M208.5 301.8l3.2 -2.8 -1.4 -2.1 -3.2 2.8z" fill="#18d7ca"/>
<path d="M211.7 299.0l3.2 -2.5 -1.4 -2.2 -3.2 2.6z" fill="#19e2bb"/>
<path d="M263.0 296.4l2.5 0.7 -1.3 -2.2 -2.5 -0.7z" fill="#1de7b2"/>
<path d="M127.6 290.8l2.8 -14.0 -1.7 -2.3 -2.8 14.3z" fill="#69fd66"/>
<path d="M154.6 304.6l2.9 -3.9 -2.0 -1.8 -3.0 3.9z" fill="#1fc9dd"/>
<path d="M298.7 307.7l2.5 0.6 -1.3 -2.0 -2.5 -0.7z" fill="#2cb7f0"/>
<path d="M195.6 268.2l2.9 -0.8 -1.6 -2.5 -3.0 0.8z" fill="#d4e735"/>
<path d="M231.6 278.2l2.6 1.9 -1.3 -2.2 -2.6 -2.0z" fill="#96fe44"/>
<path d="M157.5 300.7l2.9 -3.7 -1.9 -1.9 -3.0 3.8z" fill="#18dbc5"/>
<path d="M260.5 295.8l2.5 0.7 -1.3 -2.2 -2.5 -0.7z" fill="#1fe9af"/>
<path d="M192.7 269.3l2.9 -1.1 -1.6 -2.5 -3.0 1.1z" fill="#d0ea34"/>
<path d="M118.3 335.2l2.8 -9.8 -1.8 -1.6 -2.8 9.9z" fill="#3b2f80"/>
<path d="M160.4 297.0l2.9 -3.6 -1.9 -1.9 -3.0 3.6z" fill="#1de7b2"/>
<path d="M253.3 299.7l2.5 3.0 -1.2 -1.8 -2.6 -3.1z" fill="#1ad4d0"/>
<path d="M296.2 307.1l2.5 0.6 -1.3 -2.0 -2.5 -0.7z" fill="#28bceb"/>
<path d="M187.6 268.3l2.5 8.1 -1.5 -2.5 -2.5 -8.3z" fill="#bef434"/>
<path d="M189.7 270.6l2.9 -1.3 -1.6 -2.4 -3.0 1.3z" fill="#cbed34"/>
<path d="M163.4 293.4l2.9 -3.4 -1.9 -2.0 -3.0 3.5z" fill="#2ff19b"/>
<path d="M272.3 324.4l2.5 3.6 -1.1 -1.6 -2.5 -3.6z" fill="#424bb5"/>
<path d="M166.3 290.0l2.9 -3.2 -1.9 -2.1 -3.0 3.3z" fill="#46f884"/>
<path d="M186.8 272.2l2.9 -1.6 -1.6 -2.4 -3.0 1.6z" fill="#c3f134"/>
<path d="M258.1 295.1l2.5 0.7 -1.3 -2.2 -2.5 -0.7z" fill="#22ebaa"/>
<path d="M169.2 286.8l2.9 -3.0 -1.8 -2.1 -3.0 3.1z" fill="#61fc6c"/>
<path d="M183.9 274.0l2.9 -1.8 -1.7 -2.4 -3.0 1.9z" fill="#b9f635"/>
<path d="M229.0 276.4l2.6 1.7 -1.3 -2.3 -2.6 -1.8z" fill="#a4fc3c"/>
<path d="M293.8 306.4l2.5 0.6 -1.3 -2.0 -2.5 -0.7z" fill="#27bee9"/>
<path d="M172.2 283.8l2.9 -2.8 -1.8 -2.2 -3.0 2.9z" fill="#79fe59"/>
<path d="M181.0 276.1l2.9 -2.1 -1.7 -2.3 -3.0 2.1z" fill="#acfb38"/>
<path d="M175.1 281.0l2.9 -2.6 -1.8 -2.2 -3.0 2.6z" fill="#8fff49"/>
<path d="M178.0 278.5l2.9 -2.3 -1.7 -2.3 -3.0 2.4z" fill="#a1fd3d"/>
<path d="M173.4 237.0l2.5 5.0 -1.5 -3.0 -2.6 -5.1z" fill="#ec530f"/>
<path d="M255.6 294.5l2.5 0.7 -1.3 -2.2 -2.5 -0.7z" fill="#27eea4"/>
<path d="M250.8 296.8l2.6 2.9 -1.2 -1.9 -2.6 -3.0z" fill="#18e0bd"/>
<path d="M291.3 305.8l2.5 0.6 -1.3 -2.0 -2.5 -0.7z" fill="#23c3e4"/>
<path d="M208.2 329.9l2.5 5.8 -1.4 -1.5 -2.5 -5.8z" fill="#372466"/>
<path d="M226.5 274.9l2.6 1.6 -1.3 -2.3 -2.6 -1.6z" fill="#affa37"/>
<path d="M269.7 320.9l2.5 3.5 -1.1 -1.6 -2.5 -3.5z" fill="#4661d6"/>
<path d="M327.0 316.7l2.5 0.6 -1.3 -1.9 -2.5 -0.6z" fill="#4687fb"/>
<path d="M121.0 325.5l2.8 -9.8 -1.8 -1.7 -2.8 9.9z" fill="#466be3"/>
<path d="M196.7 294.9l2.5 8.8 -1.5 -2.0 -2.5 -9.0z" fill="#18ddc2"/>
<path d="M253.2 293.8l2.5 0.7 -1.3 -2.3 -2.5 -0.7z" fill="#2aefa1"/>
<path d="M130.4 276.7l2.8 -13.2 -1.7 -2.5 -2.8 13.4z" fill="#c6f034"/>
<path d="M288.8 305.1l2.5 0.6 -1.3 -2.1 -2.5 -0.7z" fill="#20c7df"/>
<path d="M324.5 316.0l2.5 0.6 -1.3 -1.9 -2.5 -0.6z" fill="#458cfd"/>
<path d="M185.1 261.9l2.5 6.4 -1.5 -2.7 -2.5 -6.5z" fill="#e5d938"/>
<path d="M223.9 273.5l2.6 1.4 -1.4 -2.3 -2.6 -1.4z" fill="#b7f735"/>
<path d="M248.2 294.1l2.6 2.8 -1.2 -1.9 -2.6 -2.8z" fill="#20eaac"/>
<path d="M250.7 293.1l2.5 0.7 -1.3 -2.3 -2.5 -0.7z" fill="#2ff19b"/>
<path d="M170.9 232.0l2.5 5.0 -1.5 -3.1 -2.6 -5.1z" fill="#da3907"/>
<path d="M286.4 304.5l2.5 0.6 -1.3 -2.1 -2.5 -0.7z" fill="#1ecbda"/>
<path d="M322.1 315.4l2.5 0.6 -1.3 -1.9 -2.5 -0.6z" fill="#448ffe"/>
<path d="M267.2 317.5l2.5 3.4 -1.1 -1.6 -2.5 -3.5z" fill="#4778f0"/>
<path d="M248.2 292.5l2.5 0.7 -1.3 -2.3 -2.5 -0.7z" fill="#35f394"/>
<path d="M221.3 272.3l2.6 1.2 -1.4 -2.4 -2.6 -1.2z" fill="#c1f334"/>
<path d="M283.9 303.8l2.5 0.6 -1.3 -2.1 -2.5 -0.7z" fill="#1ccdd8"/>
<path d="M205.7 322.8l2.5 7.1 -1.4 -1.6 -2.5 -7.2z" fill="#434eba"/>
<path d="M123.8 315.7l2.8 -9.8 -1.8 -1.8 -2.8 9.9z" fill="#3aa3fc"/>
<path d="M319.6 314.8l2.5 0.6 -1.3 -1.9 -2.5 -0.6z" fill="#4294ff"/>
<path d="M245.7 291.4l2.6 2.6 -1.2 -2.0 -2.6 -2.7z" fill="#2ff19b"/>
<path d="M245.8 291.8l2.5 0.7 -1.3 -2.3 -2.5 -0.7z" fill="#38f491"/>
<path d="M281.5 303.2l2.5 0.6 -1.3 -2.1 -2.5 -0.7z" fill="#1ad2d2"/>
<path d="M218.7 271.3l2.6 1.0 -1.4 -2.4 -2.6 -1.0z" fill="#c6f034"/>
<path d="M317.1 314.2l2.5 0.6 -1.3 -1.9 -2.5 -0.6z" fill="#4099ff"/>
<path d="M168.3 226.9l2.5 5.0 -1.5 -3.2 -2.6 -5.1z" fill="#c32503"/>
<path d="M264.7 314.1l2.5 3.4 -1.1 -1.7 -2.5 -3.4z" fill="#458cfd"/>
<path d="M194.1 286.9l2.5 8.1 -1.5 -2.2 -2.5 -8.2z" fill="#3ff68a"/>
<path d="M182.5 255.6l2.5 6.2 -1.5 -2.8 -2.5 -6.3z" fill="#f9bc39"/>
<path d="M243.3 291.2l2.5 0.7 -1.3 -2.3 -2.5 -0.7z" fill="#3ff68a"/>
<path d="M133.2 263.6l2.8 -12.3 -1.7 -2.7 -2.8 12.5z" fill="#f9bc39"/>
<path d="M279.0 302.5l2.5 0.6 -1.3 -2.1 -2.5 -0.7z" fill="#19d5cd"/>
<path d="M243.1 288.9l2.6 2.5 -1.2 -2.0 -2.6 -2.6z" fill="#43f787"/>
<path d="M216.2 270.5l2.6 0.8 -1.4 -2.4 -2.6 -0.8z" fill="#cdec34"/>
<path d="M314.7 313.5l2.5 0.6 -1.3 -1.9 -2.5 -0.6z" fill="#3e9bfe"/>
<path d="M240.9 290.5l2.5 0.7 -1.3 -2.3 -2.5 -0.7z" fill="#46f884"/>
<path d="M276.6 301.9l2.5 0.6 -1.3 -2.1 -2.5 -0.7z" fill="#18d7ca"/>
<path d="M213.6 269.9l2.6 0.6 -1.4 -2.4 -2.6 -0.6z" fill="#d0ea34"/>
<path d="M312.2 312.9l2.5 0.6 -1.3 -1.9 -2.5 -0.6z" fill="#3ba0fd"/>
<path d="M136.3 336.3l2.9 -4.8 -2.2 -1.4 -2.9 4.7z" fill="#351e58"/>
<path d="M262.1 310.9l2.5 3.3 -1.1 -1.7 -2.5 -3.3z" fill="#3d9efe"/>
<path d="M238.4 289.8l2.5 0.7 -1.3 -2.3 -2.5 -0.7z" fill="#4ef97d"/>
<path d="M126.6 305.9l2.8 -13.1 -1.8 -2.0 -2.8 13.3z" fill="#18ddc2"/>
<path d="M203.2 314.9l2.5 7.9 -1.5 -1.7 -2.5 -8.1z" fill="#467df4"/>
<path d="M240.6 286.6l2.6 2.4 -1.3 -2.1 -2.6 -2.4z" fill="#59fb73"/>
<path d="M274.1 301.2l2.5 0.6 -1.3 -2.1 -2.5 -0.7z" fill="#18dbc5"/>
<path d="M165.8 221.9l2.5 5.0 -1.5 -3.2 -2.6 -5.1z" fill="#a41301"/>
<path d="M211.0 269.5l2.6 0.4 -1.4 -2.5 -2.6 -0.4z" fill="#d4e735"/>
<path d="M139.2 331.5l2.9 -4.4 -2.1 -1.4 -2.9 4.5z" fill="#3f3b97"/>
<path d="M309.8 312.3l2.5 0.6 -1.3 -2.0 -2.5 -0.6z" fill="#38a5fb"/>
<path d="M235.3 290.1l3.2 -0.3 -1.3 -2.3 -3.2 0.3z" fill="#4ef97d"/>
<path d="M180.0 250.0l2.5 5.6 -1.5 -2.9 -2.5 -5.7z" fill="#fe992c"/>
<path d="M181.6 336.5l3.2 -4.0 -1.7 -1.6 -3.2 4.1z" fill="#351e58"/>
<path d="M271.6 300.6l2.5 0.6 -1.3 -2.2 -2.5 -0.7z" fill="#18dec0"/>
<path d="M142.1 327.1l2.9 -4.3 -2.1 -1.5 -2.9 4.4z" fill="#4456c7"/>
<path d="M136.0 251.3l2.8 -10.0 -1.7 -2.9 -2.8 10.2z" fill="#f9781e"/>
<path d="M184.7 332.5l3.2 -4.0 -1.6 -1.6 -3.2 4.1z" fill="#3e3891"/>
<path d="M208.5 269.2l2.6 0.2 -1.5 -2.5 -2.6 -0.2z" fill="#d7e535"/>
<path d="M307.3 311.6l2.5 0.6 -1.3 -2.0 -2.5 -0.6z" fill="#37a8fa"/>
<path d="M191.6 278.9l2.5 8.0 -1.5 -2.4 -2.5 -8.1z" fill="#88ff4e"/>
<path d="M232.1 290.7l3.2 -0.6 -1.3 -2.3 -3.2 0.6z" fill="#4af880"/>
<path d="M259.6 307.7l2.5 3.2 -1.1 -1.7 -2.5 -3.2z" fill="#2fb2f4"/>
<path d="M238.0 284.4l2.6 2.2 -1.3 -2.1 -2.6 -2.2z" fill="#71fe5f"/>
<path d="M278.4 333.2l2.5 3.6 -1.0 -1.5 -2.5 -3.6z" fill="#351e58"/>
<path d="M187.9 328.5l3.2 -3.9 -1.6 -1.7 -3.2 4.0z" fill="#4451bf"/>
<path d="M145.0 322.7l2.9 -4.2 -2.1 -1.5 -2.9 4.3z" fill="#4771e9"/>
<path d="M269.2 299.9l2.5 0.6 -1.3 -2.2 -2.5 -0.7z" fill="#18e0bd"/>
<path d="M205.9 269.2l2.6 0.0 -1.5 -2.5 -2.6 -0.0z" fill="#d7e535"/>
<path d="M191.0 324.6l3.2 -3.8 -1.6 -1.8 -3.2 3.9z" fill="#4669e0"/>
<path d="M229.0 291.6l3.2 -0.9 -1.3 -2.3 -3.2 1.0z" fill="#46f884"/>
<path d="M304.9 311.0l2.5 0.6 -1.3 -2.0 -2.5 -0.6z" fill="#33adf7"/>
<path d="M147.9 318.5l2.9 -4.2 -2.1 -1.6 -2.9 4.2z" fill="#4687fb"/>
<path d="M163.2 217.8l2.5 4.1 -1.5 -3.3 -2.6 -4.1z" fill="#850702"/>
<path d="M194.2 320.8l3.2 -3.7 -1.6 -1.9 -3.2 3.8z" fill="#4680f6"/>
<path d="M225.8 292.9l3.2 -1.3 -1.3 -2.3 -3.2 1.3z" fill="#3cf58e"/>
<path d="M203.0 269.4l2.9 -0.2 -1.5 -2.5 -2.9 0.2z" fill="#d7e535"/>
<path d="M197.4 317.0l3.2 -3.6 -1.5 -1.9 -3.2 3.6z" fill="#4294ff"/>
<path d="M266.7 299.3l2.5 0.6 -1.3 -2.2 -2.5 -0.7z" fill="#19e3b9"/>
<path d="M150.8 314.3l2.9 -4.0 -2.0 -1.7 -2.9 4.1z" fill="#3d9efe"/>
<path d="M235.5 282.3l2.6 2.0 -1.3 -2.2 -2.6 -2.1z" fill="#84ff51"/>
<path d="M222.6 294.5l3.2 -1.6 -1.4 -2.3 -3.2 1.6z" fill="#32f298"/>
<path d="M200.5 313.5l3.2 -3.4 -1.5 -2.0 -3.2 3.5z" fill="#37a8fa"/>
<path d="M302.4 310.4l2.5 0.6 -1.3 -2.0 -2.5 -0.6z" fill="#2fb2f4"/>
<path d="M177.4 245.0l2.5 5.0 -1.5 -3.0 -2.5 -5.0z" fill="#f9751d"/>
<path d="M257.1 304.6l2.5 3.1 -1.2 -1.8 -2.5 -3.1z" fill="#23c3e4"/>
<path d="M219.5 296.4l3.2 -1.9 -1.4 -2.3 -3.2 1.9z" fill="#27eea4"/>
<path d="M203.7 310.0l3.2 -3.2 -1.5 -2.0 -3.2 3.3z" fill="#2ab9ee"/>
<path d="M153.7 310.3l2.9 -3.9 -2.0 -1.7 -2.9 4.0z" fill="#2eb4f2"/>
<path d="M200.1 269.9l2.9 -0.5 -1.5 -2.5 -2.9 0.5z" fill="#d7e535"/>
<path d="M138.8 241.3l2.8 -8.4 -1.6 -3.0 -2.8 8.6z" fill="#e14109"/>
<path d="M216.3 298.6l3.2 -2.2 -1.4 -2.2 -3.2 2.2z" fill="#1fe9af"/>
<path d="M206.9 306.8l3.2 -3.0 -1.5 -2.1 -3.2 3.0z" fill="#1fc9dd"/>
<path d="M275.9 329.6l2.5 3.6 -1.0 -1.5 -2.5 -3.6z" fill="#3d358b"/>
<path d="M213.2 301.1l3.2 -2.5 -1.4 -2.2 -3.2 2.5z" fill="#19e2bb"/>
<path d="M210.0 303.8l3.2 -2.7 -1.4 -2.1 -3.2 2.8z" fill="#18d7ca"/>
<path d="M200.7 305.8l2.5 9.2 -1.5 -1.8 -2.5 -9.4z" fill="#31aff5"/>
<path d="M129.4 292.8l2.8 -13.8 -1.7 -2.3 -2.8 14.0z" fill="#65fd69"/>
<path d="M264.3 298.6l2.5 0.6 -1.3 -2.2 -2.5 -0.7z" fill="#1ce6b4"/>
<path d="M156.6 306.3l2.9 -3.8 -2.0 -1.8 -2.9 3.9z" fill="#1fc9dd"/>
<path d="M197.2 270.7l2.9 -0.8 -1.6 -2.5 -2.9 0.8z" fill="#d2e935"/>
<path d="M299.9 309.7l2.5 0.6 -1.3 -2.0 -2.5 -0.6z" fill="#2eb4f2"/>
<path d="M160.7 215.3l2.6 2.6 -1.5 -3.4 -2.6 -2.6z" fill="#7a0403"/>
<path d="M159.5 302.5l2.9 -3.7 -1.9 -1.9 -2.9 3.7z" fill="#18d9c8"/>
<path d="M232.9 280.4l2.6 1.9 -1.3 -2.2 -2.6 -1.9z" fill="#96fe44"/>
<path d="M194.3 271.7l2.9 -1.0 -1.6 -2.5 -2.9 1.1z" fill="#cdec34"/>
<path d="M261.8 298.0l2.5 0.6 -1.3 -2.2 -2.5 -0.7z" fill="#1de7b2"/>
<path d="M162.4 298.9l2.9 -3.5 -1.9 -1.9 -2.9 3.6z" fill="#1ce6b4"/>
<path d="M189.1 270.9l2.5 7.9 -1.5 -2.5 -2.5 -8.1z" fill="#bcf534"/>
<path d="M120.1 336.7l2.8 -9.7 -1.8 -1.6 -2.8 9.8z" fill="#3b2f80"/>
<path d="M191.4 273.0l2.9 -1.3 -1.6 -2.4 -2.9 1.3z" fill="#c8ef34"/>
<path d="M297.5 309.1l2.5 0.6 -1.3 -2.0 -2.5 -0.6z" fill="#2ab9ee"/>
<path d="M254.5 301.6l2.5 3.0 -1.2 -1.8 -2.5 -3.0z" fill="#1ad4d0"/>
<path d="M165.3 295.4l2.9 -3.3 -1.9 -2.0 -2.9 3.4z" fill="#2cf09e"/>
<path d="M188.5 274.6l2.9 -1.6 -1.6 -2.4 -2.9 1.6z" fill="#c1f334"/>
<path d="M168.2 292.0l2.9 -3.1 -1.9 -2.1 -2.9 3.2z" fill="#43f787"/>
<path d="M141.6 232.9l2.8 -7.5 -1.6 -3.2 -2.8 7.6z" fill="#be2102"/>
<path d="M273.3 326.0l2.5 3.5 -1.1 -1.6 -2.5 -3.6z" fill="#424bb5"/>
<path d="M185.6 276.4l2.9 -1.8 -1.7 -2.4 -2.9 1.8z" fill="#b7f735"/>
<path d="M171.1 288.9l2.9 -2.9 -1.8 -2.1 -2.9 3.0z" fill="#5dfc6f"/>
<path d="M259.3 297.4l2.5 0.6 -1.3 -2.2 -2.5 -0.7z" fill="#20eaac"/>
<path d="M174.9 240.1l2.5 5.0 -1.5 -3.0 -2.5 -5.0z" fill="#ed5510"/>
<path d="M230.4 278.7l2.6 1.7 -1.3 -2.3 -2.6 -1.7z" fill="#a1fd3d"/>
<path d="M182.7 278.4l2.9 -2.1 -1.7 -2.3 -2.9 2.1z" fill="#acfb38"/>
<path d="M174.0 286.0l2.9 -2.7 -1.8 -2.2 -2.9 2.8z" fill="#79fe59"/>
<path d="M179.8 280.7l2.9 -2.3 -1.7 -2.3 -2.9 2.3z" fill="#9ffd3f"/>
<path d="M176.9 283.2l2.9 -2.5 -1.8 -2.2 -2.9 2.6z" fill="#8fff49"/>
<path d="M158.1 213.1l2.6 2.1 -1.5 -3.4 -2.6 -2.2z" fill="#7a0403"/>
<path d="M295.0 308.5l2.5 0.6 -1.3 -2.0 -2.5 -0.6z" fill="#27bee9"/>
<path d="M256.9 296.7l2.5 0.6 -1.3 -2.2 -2.5 -0.7z" fill="#25eca7"/>
<path d="M144.4 225.4l2.8 -4.6 -1.6 -3.2 -2.8 4.7z" fill="#980e01"/>
<path d="M252.0 298.8l2.5 2.9 -1.2 -1.9 -2.6 -2.9z" fill="#18e0bd"/>
<path d="M292.6 307.8l2.5 0.6 -1.3 -2.0 -2.5 -0.6z" fill="#25c0e7"/>
<path d="M227.8 277.2l2.6 1.5 -1.3 -2.3 -2.6 -1.6z" fill="#acfb38"/>
<path d="M155.6 212.2l2.6 0.9 -1.5 -3.4 -2.6 -0.9z" fill="#7a0403"/>
<path d="M209.7 331.5l2.5 5.7 -1.4 -1.5 -2.5 -5.8z" fill="#372466"/>
<path d="M328.2 318.6l2.5 0.6 -1.3 -1.9 -2.5 -0.6z" fill="#4687fb"/>
<path d="M122.9 327.0l2.8 -9.7 -1.8 -1.7 -2.8 9.8z" fill="#466be3"/>
<path d="M270.8 322.6l2.5 3.5 -1.1 -1.6 -2.5 -3.5z" fill="#4661d6"/>
<path d="M198.1 297.1l2.5 8.6 -1.5 -2.0 -2.5 -8.8z" fill="#18ddc2"/>
<path d="M254.4 296.1l2.5 0.6 -1.3 -2.3 -2.5 -0.7z" fill="#27eea4"/>
<path d="M147.2 220.7l2.8 -4.4 -1.6 -3.3 -2.8 4.5z" fill="#7a0403"/>
<path d="M132.2 279.0l2.8 -12.9 -1.7 -2.5 -2.8 13.2z" fill="#c3f134"/>
<path d="M152.8 213.8l2.8 -1.6 -1.5 -3.4 -2.8 1.6z" fill="#7a0403"/>
<path d="M290.1 307.2l2.5 0.6 -1.3 -2.1 -2.5 -0.6z" fill="#22c5e2"/>
<path d="M150.0 216.3l2.8 -2.5 -1.5 -3.3 -2.8 2.6z" fill="#7a0403"/>
<path d="M186.5 264.6l2.5 6.3 -1.5 -2.7 -2.5 -6.4z" fill="#e3db38"/>
<path d="M172.4 235.1l2.5 5.0 -1.5 -3.1 -2.5 -5.0z" fill="#dc3b07"/>
<path d="M225.3 275.9l2.6 1.3 -1.4 -2.3 -2.6 -1.4z" fill="#b7f735"/>
<path d="M325.8 317.9l2.5 0.6 -1.3 -1.9 -2.5 -0.6z" fill="#458afc"/>
<path d="M252.0 295.4l2.5 0.6 -1.3 -2.3 -2.5 -0.7z" fill="#2cf09e"/>
<path d="M249.5 296.0l2.5 2.7 -1.2 -1.9 -2.6 -2.8z" fill="#1fe9af"/>
<path d="M287.6 306.6l2.5 0.6 -1.3 -2.1 -2.5 -0.6z" fill="#1fc9dd"/>
<path d="M323.3 317.3l2.5 0.6 -1.3 -1.9 -2.5 -0.6z" fill="#448ffe"/>
<path d="M249.5 294.8l2.5 0.6 -1.3 -2.3 -2.5 -0.7z" fill="#32f298"/>
<path d="M268.3 319.2l2.5 3.4 -1.1 -1.6 -2.5 -3.4z" fill="#4776ee"/>
<path d="M222.7 274.7l2.6 1.2 -1.4 -2.4 -2.6 -1.2z" fill="#bef434"/>
<path d="M285.2 305.9l2.5 0.6 -1.3 -2.1 -2.5 -0.6z" fill="#1ecbda"/>
<path d="M125.6 317.3l2.8 -9.7 -1.8 -1.8 -2.8 9.8z" fill="#3aa3fc"/>
<path d="M207.2 324.5l2.5 6.9 -1.4 -1.6 -2.5 -7.1z" fill="#434eba"/>
<path d="M320.9 316.7l2.5 0.6 -1.3 -1.9 -2.5 -0.6z" fill="#4294ff"/>
<path d="M246.9 293.4l2.5 2.6 -1.2 -2.0 -2.6 -2.6z" fill="#2ff19b"/>
<path d="M247.1 294.1l2.5 0.6 -1.3 -2.3 -2.5 -0.7z" fill="#38f491"/>
<path d="M220.2 273.7l2.6 1.0 -1.4 -2.4 -2.6 -1.0z" fill="#c3f134"/>
<path d="M169.8 230.2l2.5 5.0 -1.5 -3.2 -2.5 -5.0z" fill="#c52603"/>
<path d="M282.7 305.3l2.5 0.6 -1.3 -2.1 -2.5 -0.6z" fill="#1bd0d5"/>
<path d="M184.0 258.5l2.5 6.1 -1.5 -2.8 -2.5 -6.2z" fill="#f8be39"/>
<path d="M318.4 316.1l2.5 0.6 -1.3 -1.9 -2.5 -0.6z" fill="#4196ff"/>
<path d="M195.6 289.2l2.5 7.9 -1.5 -2.2 -2.5 -8.1z" fill="#3cf58e"/>
<path d="M134.9 266.1l2.8 -12.1 -1.7 -2.7 -2.8 12.3z" fill="#f9bc39"/>
<path d="M244.6 293.5l2.5 0.6 -1.3 -2.3 -2.5 -0.7z" fill="#3cf58e"/>
<path d="M265.8 315.8l2.5 3.3 -1.1 -1.7 -2.5 -3.4z" fill="#458afc"/>
<path d="M280.3 304.7l2.5 0.6 -1.3 -2.1 -2.5 -0.6z" fill="#1ad4d0"/>
<path d="M217.6 272.9l2.6 0.8 -1.4 -2.4 -2.6 -0.8z" fill="#cbed34"/>
<path d="M244.4 291.0l2.5 2.5 -1.2 -2.0 -2.6 -2.5z" fill="#43f787"/>
<path d="M316.0 315.5l2.5 0.6 -1.3 -1.9 -2.5 -0.6z" fill="#3e9bfe"/>
<path d="M242.1 292.8l2.5 0.6 -1.3 -2.3 -2.5 -0.7z" fill="#43f787"/>
<path d="M277.8 304.0l2.5 0.6 -1.3 -2.1 -2.5 -0.6z" fill="#19d5cd"/>
<path d="M215.0 272.3l2.6 0.6 -1.4 -2.4 -2.6 -0.6z" fill="#d0ea34"/>
<path d="M313.5 314.8l2.5 0.6 -1.3 -1.9 -2.5 -0.6z" fill="#3ba0fd"/>
<path d="M138.5 337.8l2.9 -4.9 -2.2 -1.4 -2.9 4.8z" fill="#36215f"/>
<path d="M167.3 225.2l2.5 4.9 -1.5 -3.2 -2.5 -5.0z" fill="#a71401"/>
<path d="M239.7 292.2l2.5 0.6 -1.3 -2.3 -2.5 -0.7z" fill="#4af880"/>
<path d="M128.4 307.7l2.8 -12.9 -1.8 -2.0 -2.8 13.1z" fill="#18dbc5"/>
<path d="M263.3 312.6l2.5 3.2 -1.1 -1.7 -2.5 -3.3z" fill="#3d9efe"/>
<path d="M241.9 288.7l2.5 2.3 -1.3 -2.1 -2.6 -2.4z" fill="#59fb73"/>
<path d="M275.4 303.4l2.5 0.6 -1.3 -2.1 -2.5 -0.6z" fill="#18d9c8"/>
<path d="M204.6 316.8l2.5 7.8 -1.5 -1.7 -2.5 -7.9z" fill="#477bf2"/>
<path d="M212.5 271.9l2.6 0.4 -1.4 -2.5 -2.6 -0.4z" fill="#d2e935"/>
<path d="M141.3 332.9l2.9 -4.4 -2.1 -1.4 -2.9 4.4z" fill="#3f3b97"/>
<path d="M181.5 252.9l2.5 5.5 -1.5 -2.9 -2.5 -5.6z" fill="#fe9b2d"/>
<path d="M311.0 314.2l2.5 0.6 -1.3 -2.0 -2.5 -0.6z" fill="#3aa3fc"/>
<path d="M236.6 292.4l3.1 -0.3 -1.3 -2.3 -3.2 0.3z" fill="#4af880"/>
<path d="M137.7 254.0l2.8 -9.8 -1.7 -2.9 -2.8 10.0z" fill="#f9781e"/>
<path d="M183.2 338.0l3.1 -3.9 -1.7 -1.6 -3.2 4.0z" fill="#351e58"/>
<path d="M272.9 302.8l2.5 0.6 -1.3 -2.2 -2.5 -0.6z" fill="#18ddc2"/>
<path d="M144.2 328.5l2.9 -4.3 -2.1 -1.5 -2.9 4.3z" fill="#4456c7"/>
<path d="M209.9 271.7l2.6 0.2 -1.5 -2.5 -2.6 -0.2z" fill="#d4e735"/>
<path d="M193.1 281.4l2.5 7.8 -1.5 -2.4 -2.5 -8.0z" fill="#84ff51"/>
<path d="M186.4 334.1l3.1 -3.9 -1.6 -1.6 -3.2 4.0z" fill="#3e3891"/>
<path d="M233.4 293.0l3.1 -0.6 -1.3 -2.3 -3.2 0.6z" fill="#46f884"/>
<path d="M308.6 313.6l2.5 0.6 -1.3 -2.0 -2.5 -0.6z" fill="#37a8fa"/>
<path d="M239.3 286.5l2.5 2.2 -1.3 -2.1 -2.6 -2.2z" fill="#6dfe62"/>
<path d="M260.8 309.5l2.5 3.1 -1.1 -1.7 -2.5 -3.2z" fill="#2fb2f4"/>
<path d="M147.1 324.2l2.9 -4.2 -2.1 -1.5 -2.9 4.2z" fill="#4771e9"/>
<path d="M189.5 330.2l3.1 -3.9 -1.6 -1.7 -3.2 3.9z" fill="#4451bf"/>
<path d="M207.4 271.7l2.6 0.0 -1.5 -2.5 -2.6 -0.0z" fill="#d4e735"/>
<path d="M279.4 334.7l2.5 3.6 -1.0 -1.5 -2.5 -3.6z" fill="#351e58"/>
<path d="M270.4 302.1l2.5 0.6 -1.3 -2.2 -2.5 -0.6z" fill="#18dec0"/>
<path d="M164.7 221.2l2.5 4.0 -1.5 -3.3 -2.5 -4.1z" fill="#880802"/>
<path d="M230.3 294.0l3.1 -0.9 -1.3 -2.3 -3.2 0.9z" fill="#43f787"/>
<path d="M192.7 326.3l3.1 -3.8 -1.6 -1.8 -3.2 3.8z" fill="#4669e0"/>
<path d="M150.0 320.0l2.9 -4.1 -2.1 -1.6 -2.9 4.2z" fill="#4687fb"/>
<path d="M306.1 313.0l2.5 0.6 -1.3 -2.0 -2.5 -0.6z" fill="#35abf8"/>
<path d="M195.8 322.5l3.1 -3.7 -1.6 -1.9 -3.2 3.7z" fill="#467df4"/>
<path d="M204.5 271.9l2.9 -0.2 -1.5 -2.5 -2.9 0.2z" fill="#d4e735"/>
<path d="M227.2 295.2l3.1 -1.2 -1.3 -2.3 -3.2 1.3z" fill="#38f491"/>
<path d="M152.8 315.9l2.9 -4.0 -2.0 -1.7 -2.9 4.0z" fill="#3d9efe"/>
<path d="M268.0 301.5l2.5 0.6 -1.3 -2.2 -2.5 -0.6z" fill="#19e2bb"/>
<path d="M198.9 318.9l3.1 -3.5 -1.5 -1.9 -3.2 3.6z" fill="#4391fe"/>
<path d="M178.9 248.0l2.5 4.9 -1.5 -3.0 -2.5 -5.0z" fill="#f9781e"/>
<path d="M236.8 284.5l2.5 2.0 -1.3 -2.2 -2.6 -2.0z" fill="#80ff53"/>
<path d="M224.0 296.8l3.1 -1.6 -1.4 -2.3 -3.2 1.6z" fill="#2ff19b"/>
<path d="M140.5 244.2l2.8 -8.3 -1.6 -3.0 -2.8 8.4z" fill="#e2430a"/>
<path d="M202.1 315.4l3.1 -3.3 -1.5 -2.0 -3.2 3.4z" fill="#38a5fb"/>
<path d="M201.6 272.4l2.9 -0.5 -1.5 -2.5 -2.9 0.5z" fill="#d4e735"/>
<path d="M303.7 312.4l2.5 0.6 -1.3 -2.0 -2.5 -0.6z" fill="#31aff5"/>
<path d="M220.9 298.6l3.1 -1.9 -1.4 -2.3 -3.2 1.9z" fill="#27eea4"/>
<path d="M155.7 311.9l2.9 -3.9 -2.0 -1.7 -2.9 3.9z" fill="#2eb4f2"/>
<path d="M205.2 312.0l3.1 -3.2 -1.5 -2.0 -3.2 3.2z" fill="#2ab9ee"/>
<path d="M258.2 306.4l2.5 3.0 -1.2 -1.8 -2.5 -3.1z" fill="#23c3e4"/>
<path d="M217.8 300.8l3.1 -2.2 -1.4 -2.2 -3.2 2.2z" fill="#1de7b2"/>
<path d="M208.3 308.9l3.1 -2.9 -1.5 -2.1 -3.2 3.0z" fill="#1fc9dd"/>
<path d="M214.6 303.2l3.1 -2.4 -1.4 -2.2 -3.2 2.5z" fill="#18e0bd"/>
<path d="M211.5 305.9l3.1 -2.7 -1.4 -2.1 -3.2 2.7z" fill="#19d5cd"/>
<path d="M131.1 294.8l2.8 -13.5 -1.7 -2.3 -2.8 13.8z" fill="#65fd69"/>
<path d="M202.1 307.8l2.5 9.0 -1.5 -1.8 -2.5 -9.2z" fill="#33adf7"/>
<path d="M265.5 300.9l2.5 0.6 -1.3 -2.2 -2.5 -0.6z" fill="#1ae4b6"/>
<path d="M158.6 308.1l2.9 -3.7 -2.0 -1.8 -2.9 3.8z" fill="#1fc9dd"/>
<path d="M276.9 331.1l2.5 3.6 -1.0 -1.5 -2.5 -3.6z" fill="#3d358b"/>
<path d="M198.8 273.1l2.9 -0.7 -1.6 -2.5 -2.9 0.8z" fill="#d0ea34"/>
<path d="M162.2 218.7l2.5 2.5 -1.5 -3.4 -2.6 -2.6z" fill="#7a0403"/>
<path d="M301.2 311.7l2.5 0.6 -1.3 -2.0 -2.5 -0.6z" fill="#2eb4f2"/>
<path d="M161.5 304.3l2.9 -3.6 -1.9 -1.9 -2.9 3.7z" fill="#18d9c8"/>
<path d="M234.3 282.7l2.5 1.8 -1.3 -2.2 -2.6 -1.9z" fill="#92ff47"/>
<path d="M195.9 274.1l2.9 -1.0 -1.6 -2.5 -2.9 1.0z" fill="#cbed34"/>
<path d="M190.5 273.6l2.5 7.8 -1.5 -2.5 -2.5 -7.9z" fill="#b9f635"/>
<path d="M164.3 300.7l2.9 -3.4 -1.9 -1.9 -2.9 3.5z" fill="#1ce6b4"/>
<path d="M263.1 300.2l2.5 0.6 -1.3 -2.2 -2.5 -0.6z" fill="#1ce6b4"/>
<path d="M193.0 275.4l2.9 -1.3 -1.6 -2.4 -2.9 1.3z" fill="#c6f034"/>
<path d="M122.0 338.2l2.7 -9.6 -1.8 -1.6 -2.8 9.7z" fill="#3b2f80"/>
<path d="M167.2 297.3l2.9 -3.3 -1.9 -2.0 -2.9 3.3z" fill="#2cf09e"/>
<path d="M143.3 235.9l2.8 -7.4 -1.6 -3.2 -2.8 7.5z" fill="#be2102"/>
<path d="M298.7 311.1l2.5 0.6 -1.3 -2.0 -2.5 -0.6z" fill="#2cb7f0"/>
<path d="M190.2 276.9l2.9 -1.5 -1.6 -2.4 -2.9 1.6z" fill="#bef434"/>
<path d="M255.7 303.5l2.5 2.9 -1.2 -1.8 -2.5 -3.0z" fill="#1ad2d2"/>
<path d="M170.1 294.0l2.9 -3.1 -1.9 -2.1 -2.9 3.1z" fill="#43f787"/>
<path d="M176.4 243.2l2.5 4.9 -1.5 -3.0 -2.5 -5.0z" fill="#ef5811"/>
<path d="M159.6 216.5l2.5 2.1 -1.5 -3.4 -2.6 -2.1z" fill="#7a0403"/>
<path d="M187.3 278.7l2.9 -1.8 -1.7 -2.4 -2.9 1.8z" fill="#b4f836"/>
<path d="M173.0 291.0l2.9 -2.9 -1.8 -2.1 -2.9 2.9z" fill="#5dfc6f"/>
<path d="M184.4 280.7l2.9 -2.0 -1.7 -2.3 -2.9 2.1z" fill="#a9fb39"/>
<path d="M260.6 299.6l2.5 0.6 -1.3 -2.2 -2.5 -0.6z" fill="#1fe9af"/>
<path d="M175.8 288.1l2.9 -2.7 -1.8 -2.2 -2.9 2.7z" fill="#75fe5c"/>
<path d="M181.6 282.9l2.9 -2.2 -1.7 -2.3 -2.9 2.3z" fill="#9cfe40"/>
<path d="M231.7 281.0l2.5 1.7 -1.3 -2.3 -2.6 -1.7z" fill="#9ffd3f"/>
<path d="M178.7 285.4l2.9 -2.5 -1.8 -2.2 -2.9 2.5z" fill="#8bff4b"/>
<path d="M274.4 327.6l2.5 3.5 -1.1 -1.6 -2.5 -3.5z" fill="#424bb5"/>
<path d="M296.3 310.5l2.5 0.6 -1.3 -2.0 -2.5 -0.6z" fill="#28bceb"/>
<path d="M146.0 228.5l2.8 -4.6 -1.6 -3.2 -2.8 4.6z" fill="#9b0f01"/>
<path d="M258.2 299.0l2.5 0.6 -1.3 -2.2 -2.5 -0.6z" fill="#22ebaa"/>
<path d="M157.1 215.6l2.6 0.9 -1.5 -3.4 -2.6 -0.9z" fill="#7a0403"/>
<path d="M253.2 300.7l2.5 2.8 -1.2 -1.9 -2.5 -2.9z" fill="#18dec0"/>
<path d="M293.8 309.9l2.5 0.6 -1.3 -2.0 -2.5 -0.6z" fill="#25c0e7"/>
<path d="M229.2 279.5l2.5 1.5 -1.3 -2.3 -2.6 -1.5z" fill="#a9fb39"/>
<path d="M148.8 224.0l2.8 -4.3 -1.6 -3.3 -2.8 4.4z" fill="#7a0403"/>
<path d="M154.3 217.2l2.8 -1.6 -1.5 -3.4 -2.8 1.6z" fill="#7a0403"/>
<path d="M133.9 281.3l2.8 -12.7 -1.7 -2.5 -2.8 12.9z" fill="#c3f134"/>
<path d="M211.1 333.1l2.5 5.6 -1.4 -1.5 -2.5 -5.7z" fill="#372466"/>
<path d="M151.6 219.6l2.8 -2.5 -1.5 -3.3 -2.8 2.5z" fill="#7a0403"/>
<path d="M199.6 299.4l2.5 8.4 -1.5 -2.0 -2.5 -8.6z" fill="#18dbc5"/>
<path d="M255.7 298.3l2.5 0.6 -1.3 -2.3 -2.5 -0.6z" fill="#25eca7"/>
<path d="M329.5 320.4l2.5 0.6 -1.3 -1.9 -2.5 -0.6z" fill="#4685fa"/>
<path d="M124.7 328.6l2.7 -9.6 -1.8 -1.7 -2.8 9.7z" fill="#466be3"/>
<path d="M271.9 324.2l2.5 3.4 -1.1 -1.6 -2.5 -3.5z" fill="#4661d6"/>
<path d="M173.9 238.3l2.5 4.9 -1.5 -3.1 -2.5 -5.0z" fill="#dd3d08"/>
<path d="M188.0 267.4l2.5 6.2 -1.5 -2.7 -2.5 -6.3z" fill="#e1dd37"/>
<path d="M291.4 309.3l2.5 0.6 -1.3 -2.1 -2.5 -0.6z" fill="#23c3e4"/>
<path d="M226.6 278.2l2.5 1.3 -1.4 -2.3 -2.6 -1.3z" fill="#b4f836"/>
<path d="M327.0 319.8l2.5 0.6 -1.3 -1.9 -2.5 -0.6z" fill="#458afc"/>
<path d="M253.2 297.7l2.5 0.6 -1.3 -2.3 -2.5 -0.6z" fill="#2aefa1"/>
<path d="M250.7 298.0l2.5 2.7 -1.2 -1.9 -2.5 -2.7z" fill="#1fe9af"/>
<path d="M288.9 308.6l2.5 0.6 -1.3 -2.1 -2.5 -0.6z" fill="#20c7df"/>
<path d="M324.6 319.2l2.5 0.6 -1.3 -1.9 -2.5 -0.6z" fill="#458cfd"/>
<path d="M250.8 297.1l2.5 0.6 -1.3 -2.3 -2.5 -0.6z" fill="#2ff19b"/>
<path d="M224.1 277.1l2.5 1.1 -1.4 -2.4 -2.6 -1.2z" fill="#bcf534"/>
<path d="M269.4 320.8l2.5 3.4 -1.1 -1.6 -2.5 -3.4z" fill="#4776ee"/>
<path d="M286.5 308.0l2.5 0.6 -1.3 -2.1 -2.5 -0.6z" fill="#1ecbda"/>
<path d="M127.4 319.0l2.7 -9.6 -1.8 -1.8 -2.8 9.7z" fill="#3aa3fc"/>
<path d="M171.3 233.4l2.5 4.9 -1.5 -3.2 -2.5 -5.0z" fill="#c82803"/>
<path d="M322.1 318.6l2.5 0.6 -1.3 -1.9 -2.5 -0.6z" fill="#4391fe"/>
<path d="M248.2 295.5l2.5 2.5 -1.2 -2.0 -2.5 -2.6z" fill="#2cf09e"/>
<path d="M208.6 326.2l2.5 6.8 -1.4 -1.6 -2.5 -6.9z" fill="#434eba"/>
<path d="M248.3 296.4l2.5 0.6 -1.3 -2.3 -2.5 -0.6z" fill="#32f298"/>
<path d="M221.6 276.1l2.5 0.9 -1.4 -2.4 -2.6 -1.0z" fill="#c1f334"/>
<path d="M284.0 307.4l2.5 0.6 -1.3 -2.1 -2.5 -0.6z" fill="#1ccdd8"/>
<path d="M185.5 261.4l2.5 6.0 -1.5 -2.8 -2.5 -6.1z" fill="#f7c13a"/>
<path d="M136.7 268.6l2.8 -11.8 -1.7 -2.7 -2.8 12.1z" fill="#f8be39"/>
<path d="M197.1 291.6l2.5 7.8 -1.5 -2.2 -2.5 -7.9z" fill="#38f491"/>
<path d="M319.7 318.0l2.5 0.6 -1.3 -1.9 -2.5 -0.6z" fill="#4196ff"/>
<path d="M245.9 295.8l2.5 0.6 -1.3 -2.3 -2.5 -0.6z" fill="#38f491"/>
<path d="M219.0 275.4l2.5 0.8 -1.4 -2.4 -2.6 -0.8z" fill="#c8ef34"/>
<path d="M266.9 317.5l2.5 3.3 -1.1 -1.7 -2.5 -3.3z" fill="#458afc"/>
<path d="M281.5 306.8l2.5 0.6 -1.3 -2.1 -2.5 -0.6z" fill="#1ad2d2"/>
<path d="M245.7 293.1l2.5 2.4 -1.2 -2.0 -2.5 -2.5z" fill="#3ff68a"/>
<path d="M317.2 317.4l2.5 0.6 -1.3 -1.9 -2.5 -0.6z" fill="#4099ff"/>
<path d="M243.4 295.2l2.5 0.6 -1.3 -2.3 -2.5 -0.6z" fill="#3ff68a"/>
<path d="M216.5 274.8l2.5 0.6 -1.4 -2.4 -2.6 -0.6z" fill="#cbed34"/>
<path d="M279.1 306.2l2.5 0.6 -1.3 -2.1 -2.5 -0.6z" fill="#19d5cd"/>
<path d="M168.8 228.5l2.5 4.9 -1.5 -3.2 -2.5 -4.9z" fill="#ac1701"/>
<path d="M140.7 339.2l2.8 -4.9 -2.2 -1.4 -2.9 4.9z" fill="#36215f"/>
<path d="M314.8 316.8l2.5 0.6 -1.3 -1.9 -2.5 -0.6z" fill="#3d9efe"/>
<path d="M240.9 294.5l2.5 0.6 -1.3 -2.3 -2.5 -0.6z" fill="#43f787"/>
<path d="M130.2 309.5l2.7 -12.7 -1.8 -2.0 -2.8 12.9z" fill="#18dbc5"/>
<path d="M264.4 314.4l2.5 3.2 -1.1 -1.7 -2.5 -3.2z" fill="#3d9efe"/>
<path d="M214.0 274.4l2.5 0.4 -1.4 -2.5 -2.6 -0.4z" fill="#d0ea34"/>
<path d="M243.1 290.8l2.5 2.3 -1.3 -2.1 -2.5 -2.3z" fill="#55fa76"/>
<path d="M183.0 255.9l2.5 5.5 -1.5 -2.9 -2.5 -5.5z" fill="#fea130"/>
<path d="M276.6 305.5l2.5 0.6 -1.3 -2.1 -2.5 -0.6z" fill="#18d7ca"/>
<path d="M206.1 318.6l2.5 7.6 -1.5 -1.7 -2.5 -7.8z" fill="#477bf2"/>
<path d="M143.5 334.3l2.8 -4.4 -2.1 -1.4 -2.9 4.4z" fill="#3f3e9c"/>
<path d="M139.4 256.7l2.8 -9.6 -1.7 -2.9 -2.8 9.8z" fill="#fb7e21"/>
<path d="M237.8 294.8l3.1 -0.3 -1.3 -2.3 -3.1 0.3z" fill="#46f884"/>
<path d="M312.3 316.2l2.5 0.6 -1.3 -2.0 -2.5 -0.6z" fill="#3ba0fd"/>
<path d="M211.4 274.2l2.5 0.2 -1.5 -2.5 -2.6 -0.2z" fill="#d2e935"/>
<path d="M184.9 339.5l3.1 -3.9 -1.7 -1.6 -3.1 3.9z" fill="#351e58"/>
<path d="M274.2 304.9l2.5 0.6 -1.3 -2.2 -2.5 -0.6z" fill="#18dbc5"/>
<path d="M146.4 329.9l2.8 -4.2 -2.1 -1.5 -2.9 4.3z" fill="#4456c7"/>
<path d="M194.5 283.9l2.5 7.7 -1.5 -2.4 -2.5 -7.8z" fill="#80ff53"/>
<path d="M234.7 295.4l3.1 -0.6 -1.3 -2.3 -3.1 0.6z" fill="#43f787"/>
<path d="M188.0 335.7l3.1 -3.8 -1.6 -1.6 -3.1 3.9z" fill="#3e3891"/>
<path d="M309.8 315.6l2.5 0.6 -1.3 -2.0 -2.5 -0.6z" fill="#38a5fb"/>
<path d="M240.6 288.7l2.5 2.1 -1.3 -2.1 -2.5 -2.2z" fill="#69fd66"/>
<path d="M166.2 224.6l2.5 4.0 -1.5 -3.3 -2.5 -4.0z" fill="#8e0a01"/>
<path d="M208.9 274.2l2.5 0.0 -1.5 -2.5 -2.6 -0.0z" fill="#d2e935"/>
<path d="M149.2 325.7l2.8 -4.1 -2.1 -1.5 -2.9 4.2z" fill="#4771e9"/>
<path d="M191.1 331.8l3.1 -3.8 -1.6 -1.7 -3.1 3.9z" fill="#4451bf"/>
<path d="M261.9 311.3l2.5 3.1 -1.1 -1.7 -2.5 -3.1z" fill="#31aff5"/>
<path d="M271.7 304.3l2.5 0.6 -1.3 -2.2 -2.5 -0.6z" fill="#18dec0"/>
<path d="M231.6 296.3l3.1 -0.9 -1.3 -2.3 -3.1 0.9z" fill="#3ff68a"/>
<path d="M194.3 328.0l3.1 -3.7 -1.6 -1.8 -3.1 3.8z" fill="#4666dd"/>
<path d="M280.5 336.2l2.5 3.6 -1.0 -1.5 -2.5 -3.6z" fill="#351e58"/>
<path d="M152.1 321.5l2.8 -4.0 -2.1 -1.6 -2.9 4.1z" fill="#4687fb"/>
<path d="M206.0 274.4l2.8 -0.2 -1.5 -2.5 -2.9 0.2z" fill="#d2e935"/>
<path d="M307.4 315.0l2.5 0.6 -1.3 -2.0 -2.5 -0.6z" fill="#35abf8"/>
<path d="M228.5 297.5l3.1 -1.2 -1.3 -2.3 -3.1 1.2z" fill="#35f394"/>
<path d="M197.4 324.3l3.1 -3.6 -1.6 -1.9 -3.1 3.7z" fill="#467df4"/>
<path d="M180.4 251.1l2.5 4.8 -1.5 -3.0 -2.5 -4.9z" fill="#fb7e21"/>
<path d="M142.2 247.1l2.7 -8.1 -1.6 -3.0 -2.8 8.3z" fill="#e4450a"/>
<path d="M154.9 317.5l2.8 -3.9 -2.0 -1.7 -2.9 4.0z" fill="#3d9efe"/>
<path d="M269.2 303.7l2.5 0.6 -1.3 -2.2 -2.5 -0.6z" fill="#18e0bd"/>
<path d="M200.5 320.7l3.1 -3.4 -1.5 -1.9 -3.1 3.5z" fill="#4391fe"/>
<path d="M225.4 299.0l3.1 -1.5 -1.4 -2.3 -3.1 1.6z" fill="#2cf09e"/>
<path d="M238.1 286.7l2.5 2.0 -1.3 -2.2 -2.5 -2.0z" fill="#7dff56"/>
<path d="M203.2 274.9l2.8 -0.5 -1.5 -2.5 -2.9 0.5z" fill="#d0ea34"/>
<path d="M203.6 317.3l3.1 -3.3 -1.5 -2.0 -3.1 3.3z" fill="#38a5fb"/>
<path d="M222.3 300.9l3.1 -1.8 -1.4 -2.3 -3.1 1.9z" fill="#25eca7"/>
<path d="M157.7 313.6l2.8 -3.8 -2.0 -1.7 -2.9 3.9z" fill="#2eb4f2"/>
<path d="M304.9 314.4l2.5 0.6 -1.3 -2.0 -2.5 -0.6z" fill="#33adf7"/>
<path d="M206.7 314.0l3.1 -3.1 -1.5 -2.0 -3.1 3.2z" fill="#2cb7f0"/>
<path d="M163.7 222.0l2.5 2.5 -1.5 -3.4 -2.5 -2.5z" fill="#7a0403"/>
<path d="M219.2 303.0l3.1 -2.1 -1.4 -2.2 -3.1 2.2z" fill="#1ce6b4"/>
<path d="M132.9 296.8l2.7 -13.3 -1.7 -2.3 -2.8 13.5z" fill="#61fc6c"/>
<path d="M209.8 310.9l3.1 -2.9 -1.5 -2.1 -3.1 2.9z" fill="#20c7df"/>
<path d="M216.1 305.4l3.1 -2.4 -1.4 -2.2 -3.1 2.4z" fill="#18dec0"/>
<path d="M213.0 308.0l3.1 -2.6 -1.4 -2.1 -3.1 2.7z" fill="#1ad4d0"/>
<path d="M259.4 308.3l2.5 3.0 -1.2 -1.8 -2.5 -3.0z" fill="#23c3e4"/>
<path d="M200.4 275.6l2.8 -0.7 -1.6 -2.5 -2.9 0.7z" fill="#cdec34"/>
<path d="M203.6 309.8l2.5 8.8 -1.5 -1.8 -2.5 -9.0z" fill="#33adf7"/>
<path d="M266.8 303.1l2.5 0.6 -1.3 -2.2 -2.5 -0.6z" fill="#19e3b9"/>
<path d="M160.6 309.8l2.8 -3.7 -2.0 -1.8 -2.9 3.7z" fill="#20c7df"/>
<path d="M278.0 332.7l2.5 3.5 -1.0 -1.5 -2.5 -3.6z" fill="#3d358b"/>
<path d="M197.5 276.6l2.8 -1.0 -1.6 -2.5 -2.9 1.0z" fill="#c8ef34"/>
<path d="M163.4 306.1l2.8 -3.5 -1.9 -1.9 -2.9 3.6z" fill="#18d9c8"/>
<path d="M302.5 313.8l2.5 0.6 -1.3 -2.0 -2.5 -0.6z" fill="#2fb2f4"/>
<path d="M235.6 284.9l2.5 1.8 -1.3 -2.2 -2.5 -1.8z" fill="#8fff49"/>
<path d="M192.0 276.3l2.5 7.6 -1.5 -2.5 -2.5 -7.8z" fill="#b7f735"/>
<path d="M166.3 302.6l2.8 -3.4 -1.9 -1.9 -2.9 3.4z" fill="#1ce6b4"/>
<path d="M144.9 238.9l2.7 -7.2 -1.6 -3.2 -2.8 7.4z" fill="#c32503"/>
<path d="M194.7 277.8l2.8 -1.2 -1.6 -2.4 -2.9 1.3z" fill="#c3f134"/>
<path d="M264.3 302.4l2.5 0.6 -1.3 -2.2 -2.5 -0.6z" fill="#1ae4b6"/>
<path d="M169.1 299.2l2.8 -3.2 -1.9 -2.0 -2.9 3.3z" fill="#2aefa1"/>
<path d="M161.2 219.9l2.5 2.1 -1.5 -3.4 -2.5 -2.1z" fill="#7a0403"/>
<path d="M177.9 246.2l2.5 4.8 -1.5 -3.0 -2.5 -4.9z" fill="#f05b12"/>
<path d="M191.8 279.3l2.8 -1.5 -1.6 -2.4 -2.9 1.5z" fill="#bcf534"/>
<path d="M123.8 339.7l2.7 -9.5 -1.8 -1.6 -2.7 9.6z" fill="#3b2f80"/>
<path d="M300.0 313.2l2.5 0.6 -1.3 -2.0 -2.5 -0.6z" fill="#2cb7f0"/>
<path d="M172.0 296.1l2.8 -3.0 -1.9 -2.1 -2.9 3.1z" fill="#3ff68a"/>
<path d="M189.0 281.0l2.8 -1.7 -1.7 -2.4 -2.9 1.8z" fill="#b1f936"/>
<path d="M256.9 305.4l2.5 2.9 -1.2 -1.8 -2.5 -2.9z" fill="#1ad2d2"/>
<path d="M174.8 293.0l2.8 -2.8 -1.8 -2.1 -2.9 2.9z" fill="#59fb73"/>
<path d="M186.2 283.0l2.8 -2.0 -1.7 -2.3 -2.9 2.0z" fill="#a7fc3a"/>
<path d="M177.6 290.2l2.8 -2.6 -1.8 -2.2 -2.9 2.7z" fill="#71fe5f"/>
<path d="M183.3 285.2l2.8 -2.2 -1.7 -2.3 -2.9 2.2z" fill="#99fe42"/>
<path d="M180.5 287.6l2.8 -2.4 -1.8 -2.2 -2.9 2.5z" fill="#88ff4e"/>
<path d="M261.9 301.8l2.5 0.6 -1.3 -2.2 -2.5 -0.6z" fill="#1de7b2"/>
<path d="M233.1 283.3l2.5 1.6 -1.3 -2.3 -2.5 -1.7z" fill="#9cfe40"/>
<path d="M147.7 231.7l2.7 -4.5 -1.6 -3.2 -2.8 4.6z" fill="#9e1001"/>
<path d="M275.5 329.2l2.5 3.5 -1.1 -1.6 -2.5 -3.5z" fill="#424bb5"/>
<path d="M297.6 312.5l2.5 0.6 -1.3 -2.0 -2.5 -0.6z" fill="#2ab9ee"/>
<path d="M158.6 219.0l2.5 0.9 -1.5 -3.4 -2.6 -0.9z" fill="#7a0403"/>
<path d="M259.4 301.2l2.5 0.6 -1.3 -2.2 -2.5 -0.6z" fill="#20eaac"/>
<path d="M150.4 227.2l2.7 -4.3 -1.6 -3.3 -2.8 4.3z" fill="#810602"/>
<path d="M155.9 220.5l2.7 -1.5 -1.5 -3.4 -2.8 1.6z" fill="#7a0403"/>
<path d="M230.5 281.9l2.5 1.5 -1.3 -2.3 -2.5 -1.5z" fill="#a7fc3a"/>
<path d="M153.1 222.9l2.7 -2.4 -1.5 -3.3 -2.8 2.5z" fill="#7a0403"/>
<path d="M295.1 311.9l2.5 0.6 -1.3 -2.0 -2.5 -0.6z" fill="#27bee9"/>
<path d="M254.4 302.6l2.5 2.8 -1.2 -1.9 -2.5 -2.8z" fill="#18dec0"/>
<path d="M135.6 283.5l2.7 -12.5 -1.7 -2.5 -2.8 12.7z" fill="#c1f334"/>
<path d="M175.4 241.4l2.5 4.8 -1.5 -3.1 -2.5 -4.9z" fill="#e14109"/>
<path d="M201.1 301.6l2.5 8.3 -1.5 -2.0 -2.5 -8.4z" fill="#18d9c8"/>
<path d="M257.0 300.6l2.5 0.6 -1.3 -2.3 -2.5 -0.6z" fill="#22ebaa"/>
<path d="M126.5 330.2l2.7 -9.5 -1.8 -1.7 -2.7 9.6z" fill="#466be3"/>
<path d="M212.6 334.6l2.5 5.6 -1.4 -1.5 -2.5 -5.6z" fill="#372466"/>
<path d="M189.5 270.2l2.5 6.1 -1.5 -2.7 -2.5 -6.2z" fill="#dde037"/>
<path d="M330.8 322.3l2.5 0.6 -1.3 -1.9 -2.5 -0.6z" fill="#4682f8"/>
<path d="M292.6 311.3l2.5 0.6 -1.3 -2.1 -2.5 -0.6z" fill="#25c0e7"/>
<path d="M273.0 325.8l2.5 3.4 -1.1 -1.6 -2.5 -3.4z" fill="#4661d6"/>
<path d="M228.0 280.6l2.5 1.3 -1.4 -2.3 -2.5 -1.3z" fill="#b1f936"/>
<path d="M254.5 300.0l2.5 0.6 -1.3 -2.3 -2.5 -0.6z" fill="#27eea4"/>
<path d="M328.3 321.7l2.5 0.6 -1.3 -1.9 -2.5 -0.6z" fill="#4687fb"/>
<path d="M251.9 300.0l2.5 2.6 -1.2 -1.9 -2.5 -2.7z" fill="#1de7b2"/>
<path d="M290.2 310.7l2.5 0.6 -1.3 -2.1 -2.5 -0.6z" fill="#22c5e2"/>
<path d="M225.5 279.5l2.5 1.1 -1.4 -2.4 -2.5 -1.1z" fill="#b9f635"/>
<path d="M252.0 299.4l2.5 0.6 -1.3 -2.3 -2.5 -0.6z" fill="#2cf09e"/>
<path d="M325.9 321.1l2.5 0.6 -1.3 -1.9 -2.5 -0.6z" fill="#458cfd"/>
<path d="M287.7 310.1l2.5 0.6 -1.3 -2.1 -2.5 -0.6z" fill="#1fc9dd"/>
<path d="M172.8 236.6l2.5 4.8 -1.5 -3.2 -2.5 -4.9z" fill="#cc2b04"/>
<path d="M270.5 322.5l2.5 3.3 -1.1 -1.6 -2.5 -3.4z" fill="#4776ee"/>
<path d="M129.2 320.7l2.7 -9.5 -1.8 -1.8 -2.7 9.6z" fill="#3ba0fd"/>
<path d="M249.6 298.7l2.5 0.6 -1.3 -2.3 -2.5 -0.6z" fill="#2ff19b"/>
<path d="M249.4 297.5l2.5 2.5 -1.2 -2.0 -2.5 -2.5z" fill="#2aefa1"/>
<path d="M323.4 320.5l2.5 0.6 -1.3 -1.9 -2.5 -0.6z" fill="#448ffe"/>
<path d="M223.0 278.6l2.5 0.9 -1.4 -2.4 -2.5 -0.9z" fill="#bef434"/>
<path d="M210.1 327.9l2.5 6.7 -1.4 -1.6 -2.5 -6.8z" fill="#434eba"/>
<path d="M187.0 264.2l2.5 5.9 -1.5 -2.8 -2.5 -6.0z" fill="#f5c53a"/>
<path d="M138.4 271.1l2.7 -11.6 -1.7 -2.7 -2.8 11.8z" fill="#f7c13a"/>
<path d="M285.3 309.5l2.5 0.6 -1.3 -2.1 -2.5 -0.6z" fill="#1ecbda"/>
<path d="M198.5 293.9l2.5 7.6 -1.5 -2.2 -2.5 -7.8z" fill="#35f394"/>
<path d="M247.1 298.1l2.5 0.6 -1.3 -2.3 -2.5 -0.6z" fill="#35f394"/>
<path d="M320.9 319.9l2.5 0.6 -1.3 -1.9 -2.5 -0.6z" fill="#4294ff"/>
<path d="M220.5 277.8l2.5 0.7 -1.4 -2.4 -2.5 -0.8z" fill="#c3f134"/>
<path d="M282.8 308.9l2.5 0.6 -1.3 -2.1 -2.5 -0.6z" fill="#1bd0d5"/>
<path d="M268.1 319.2l2.5 3.2 -1.1 -1.7 -2.5 -3.3z" fill="#458afc"/>
<path d="M246.9 295.1l2.5 2.4 -1.2 -2.0 -2.5 -2.4z" fill="#3cf58e"/>
<path d="M244.7 297.5l2.5 0.6 -1.3 -2.3 -2.5 -0.6z" fill="#3cf58e"/>
<path d="M318.5 319.3l2.5 0.6 -1.3 -1.9 -2.5 -0.6z" fill="#4099ff"/>
<path d="M170.3 231.8l2.5 4.8 -1.5 -3.2 -2.5 -4.9z" fill="#b21a01"/>
<path d="M217.9 277.3l2.5 0.6 -1.4 -2.4 -2.5 -0.6z" fill="#c8ef34"/>
<path d="M280.3 308.3l2.5 0.6 -1.3 -2.1 -2.5 -0.6z" fill="#1ad4d0"/>
<path d="M142.9 340.7l2.8 -5.0 -2.2 -1.4 -2.8 4.9z" fill="#36215f"/>
<path d="M242.2 296.9l2.5 0.6 -1.3 -2.3 -2.5 -0.6z" fill="#3ff68a"/>
<path d="M131.9 311.2l2.7 -12.5 -1.8 -2.0 -2.7 12.7z" fill="#18dbc5"/>
<path d="M316.0 318.7l2.5 0.6 -1.3 -1.9 -2.5 -0.6z" fill="#3e9bfe"/>
<path d="M184.4 258.8l2.5 5.4 -1.5 -2.9 -2.5 -5.5z" fill="#fea431"/>
<path d="M215.4 276.9l2.5 0.4 -1.4 -2.5 -2.5 -0.4z" fill="#cdec34"/>
<path d="M244.4 292.9l2.5 2.2 -1.3 -2.1 -2.5 -2.3z" fill="#52fa7a"/>
<path d="M277.9 307.7l2.5 0.6 -1.3 -2.1 -2.5 -0.6z" fill="#19d5cd"/>
<path d="M141.1 259.5l2.7 -9.5 -1.7 -2.9 -2.8 9.6z" fill="#fb8122"/>
<path d="M265.6 316.1l2.5 3.2 -1.1 -1.7 -2.5 -3.2z" fill="#3e9bfe"/>
<path d="M207.5 320.4l2.5 7.5 -1.5 -1.7 -2.5 -7.6z" fill="#477bf2"/>
<path d="M145.7 335.7l2.8 -4.4 -2.1 -1.4 -2.8 4.4z" fill="#3f3e9c"/>
<path d="M239.1 297.1l3.1 -0.3 -1.3 -2.3 -3.1 0.3z" fill="#43f787"/>
<path d="M313.6 318.1l2.5 0.6 -1.3 -2.0 -2.5 -0.6z" fill="#3ba0fd"/>
<path d="M212.9 276.7l2.5 0.2 -1.5 -2.5 -2.5 -0.2z" fill="#cdec34"/>
<path d="M196.0 286.4l2.5 7.5 -1.5 -2.4 -2.5 -7.7z" fill="#79fe59"/>
<path d="M275.4 307.1l2.5 0.6 -1.3 -2.2 -2.5 -0.6z" fill="#18d9c8"/>
<path d="M148.5 331.3l2.8 -4.2 -2.1 -1.5 -2.8 4.2z" fill="#4456c7"/>
<path d="M186.6 341.0l3.1 -3.8 -1.7 -1.6 -3.1 3.9z" fill="#351e58"/>
<path d="M167.8 227.9l2.5 3.9 -1.5 -3.3 -2.5 -4.0z" fill="#920b01"/>
<path d="M236.0 297.7l3.1 -0.6 -1.3 -2.3 -3.1 0.6z" fill="#3ff68a"/>
<path d="M189.7 337.2l3.1 -3.8 -1.6 -1.6 -3.1 3.8z" fill="#3e3891"/>
<path d="M210.4 276.7l2.5 0.0 -1.5 -2.5 -2.5 -0.0z" fill="#d0ea34"/>
<path d="M241.9 290.8l2.5 2.1 -1.3 -2.1 -2.5 -2.1z" fill="#65fd69"/>
<path d="M311.1 317.6l2.5 0.6 -1.3 -2.0 -2.5 -0.6z" fill="#3aa3fc"/>
<path d="M151.3 327.1l2.8 -4.1 -2.1 -1.5 -2.8 4.1z" fill="#4771e9"/>
<path d="M192.8 333.5l3.1 -3.7 -1.6 -1.7 -3.1 3.8z" fill="#434eba"/>
<path d="M233.0 298.6l3.1 -0.9 -1.3 -2.3 -3.1 0.9z" fill="#3cf58e"/>
<path d="M273.0 306.5l2.5 0.6 -1.3 -2.2 -2.5 -0.6z" fill="#18dbc5"/>
<path d="M263.1 313.0l2.5 3.1 -1.1 -1.7 -2.5 -3.1z" fill="#31aff5"/>
<path d="M207.6 276.9l2.8 -0.2 -1.5 -2.5 -2.8 0.2z" fill="#d0ea34"/>
<path d="M154.1 323.1l2.8 -4.0 -2.1 -1.6 -2.8 4.0z" fill="#4687fb"/>
<path d="M195.9 329.7l3.1 -3.6 -1.6 -1.8 -3.1 3.7z" fill="#4666dd"/>
<path d="M181.9 254.1l2.5 4.8 -1.5 -3.0 -2.5 -4.8z" fill="#fb8122"/>
<path d="M143.8 250.0l2.7 -8.0 -1.6 -3.0 -2.7 8.1z" fill="#e7490c"/>
<path d="M229.9 299.8l3.1 -1.2 -1.3 -2.3 -3.1 1.2z" fill="#32f298"/>
<path d="M308.6 317.0l2.5 0.6 -1.3 -2.0 -2.5 -0.6z" fill="#37a8fa"/>
<path d="M281.5 337.8l2.5 3.6 -1.0 -1.5 -2.5 -3.6z" fill="#351e58"/>
<path d="M199.0 326.1l3.1 -3.5 -1.6 -1.9 -3.1 3.6z" fill="#477bf2"/>
<path d="M157.0 319.1l2.8 -3.8 -2.0 -1.7 -2.8 3.9z" fill="#3d9efe"/>
<path d="M270.5 305.9l2.5 0.6 -1.3 -2.2 -2.5 -0.6z" fill="#18dec0"/>
<path d="M226.8 301.3l3.1 -1.5 -1.4 -2.3 -3.1 1.5z" fill="#2aefa1"/>
<path d="M204.8 277.3l2.8 -0.5 -1.5 -2.5 -2.8 0.5z" fill="#cdec34"/>
<path d="M202.1 322.6l3.1 -3.4 -1.5 -1.9 -3.1 3.4z" fill="#448ffe"/>
<path d="M165.2 225.4l2.5 2.5 -1.5 -3.4 -2.5 -2.5z" fill="#7a0403"/>
<path d="M239.4 288.9l2.5 1.9 -1.3 -2.2 -2.5 -2.0z" fill="#79fe59"/>
<path d="M205.1 319.2l3.1 -3.2 -1.5 -2.0 -3.1 3.3z" fill="#3aa3fc"/>
<path d="M223.7 303.1l3.1 -1.8 -1.4 -2.3 -3.1 1.8z" fill="#22ebaa"/>
<path d="M159.8 315.2l2.8 -3.7 -2.0 -1.7 -2.8 3.8z" fill="#2eb4f2"/>
<path d="M208.2 316.0l3.1 -3.0 -1.5 -2.0 -3.1 3.1z" fill="#2eb4f2"/>
<path d="M134.7 298.8l2.7 -13.0 -1.7 -2.3 -2.7 13.3z" fill="#5dfc6f"/>
<path d="M220.6 305.2l3.1 -2.1 -1.4 -2.2 -3.1 2.1z" fill="#1ae4b6"/>
<path d="M306.2 316.4l2.5 0.6 -1.3 -2.0 -2.5 -0.6z" fill="#33adf7"/>
<path d="M211.3 313.0l3.1 -2.8 -1.5 -2.1 -3.1 2.9z" fill="#22c5e2"/>
<path d="M217.5 307.5l3.1 -2.3 -1.4 -2.2 -3.1 2.4z" fill="#18ddc2"/>
<path d="M202.0 278.1l2.8 -0.7 -1.6 -2.5 -2.8 0.7z" fill="#cbed34"/>
<path d="M214.4 310.1l3.1 -2.6 -1.4 -2.1 -3.1 2.6z" fill="#1ad2d2"/>
<path d="M162.6 311.5l2.8 -3.6 -2.0 -1.8 -2.8 3.7z" fill="#20c7df"/>
<path d="M260.6 310.1l2.5 2.9 -1.2 -1.8 -2.5 -3.0z" fill="#25c0e7"/>
<path d="M268.1 305.3l2.5 0.6 -1.3 -2.2 -2.5 -0.6z" fill="#19e2bb"/>
<path d="M205.0 311.8l2.5 8.6 -1.5 -1.8 -2.5 -8.8z" fill="#35abf8"/>
<path d="M199.1 279.0l2.8 -1.0 -1.6 -2.5 -2.8 1.0z" fill="#c6f034"/>
<path d="M165.4 307.9l2.8 -3.4 -1.9 -1.9 -2.8 3.5z" fill="#18d7ca"/>
<path d="M146.6 242.0l2.7 -7.1 -1.6 -3.2 -2.7 7.2z" fill="#c52603"/>
<path d="M193.5 278.9l2.5 7.5 -1.5 -2.5 -2.5 -7.6z" fill="#b4f836"/>
<path d="M236.9 287.2l2.5 1.7 -1.3 -2.2 -2.5 -1.8z" fill="#8bff4b"/>
<path d="M303.7 315.8l2.5 0.6 -1.3 -2.0 -2.5 -0.6z" fill="#31aff5"/>
<path d="M279.0 334.3l2.5 3.5 -1.0 -1.5 -2.5 -3.5z" fill="#3d358b"/>
<path d="M162.7 223.3l2.5 2.1 -1.5 -3.4 -2.5 -2.1z" fill="#7a0403"/>
<path d="M196.3 280.2l2.8 -1.2 -1.6 -2.4 -2.8 1.2z" fill="#c1f334"/>
<path d="M168.2 304.5l2.8 -3.3 -1.9 -1.9 -2.8 3.4z" fill="#1ae4b6"/>
<path d="M179.4 249.3l2.5 4.8 -1.5 -3.0 -2.5 -4.8z" fill="#f26014"/>
<path d="M265.6 304.7l2.5 0.6 -1.3 -2.2 -2.5 -0.6z" fill="#19e3b9"/>
<path d="M171.0 301.2l2.8 -3.1 -1.9 -2.0 -2.8 3.2z" fill="#27eea4"/>
<path d="M193.5 281.7l2.8 -1.5 -1.6 -2.4 -2.8 1.5z" fill="#b9f635"/>
<path d="M173.8 298.1l2.8 -2.9 -1.9 -2.1 -2.8 3.0z" fill="#3ff68a"/>
<path d="M190.7 283.4l2.8 -1.7 -1.7 -2.4 -2.8 1.7z" fill="#affa37"/>
<path d="M125.7 341.2l2.7 -9.4 -1.8 -1.6 -2.7 9.5z" fill="#3b2f80"/>
<path d="M301.3 315.2l2.5 0.6 -1.3 -2.0 -2.5 -0.6z" fill="#2eb4f2"/>
<path d="M176.7 295.1l2.8 -2.8 -1.8 -2.1 -2.8 2.8z" fill="#55fa76"/>
<path d="M187.9 285.3l2.8 -1.9 -1.7 -2.3 -2.8 2.0z" fill="#a4fc3c"/>
<path d="M179.5 292.3l2.8 -2.6 -1.8 -2.2 -2.8 2.6z" fill="#6dfe62"/>
<path d="M185.1 287.4l2.8 -2.1 -1.7 -2.3 -2.8 2.2z" fill="#96fe44"/>
<path d="M182.3 289.8l2.8 -2.4 -1.8 -2.2 -2.8 2.4z" fill="#84ff51"/>
<path d="M149.3 234.9l2.7 -4.5 -1.6 -3.2 -2.7 4.5z" fill="#a41301"/>
<path d="M258.1 307.3l2.5 2.8 -1.2 -1.8 -2.5 -2.9z" fill="#1bd0d5"/>
<path d="M263.1 304.1l2.5 0.6 -1.3 -2.2 -2.5 -0.6z" fill="#1ce6b4"/>
<path d="M234.4 285.6l2.5 1.6 -1.3 -2.3 -2.5 -1.6z" fill="#99fe42"/>
<path d="M160.1 222.4l2.5 0.9 -1.5 -3.4 -2.5 -0.9z" fill="#7a0403"/>
<path d="M152.0 230.4l2.7 -4.2 -1.6 -3.3 -2.7 4.3z" fill="#850702"/>
<path d="M298.8 314.6l2.5 0.6 -1.3 -2.0 -2.5 -0.6z" fill="#2cb7f0"/>
<path d="M276.6 330.8l2.5 3.4 -1.1 -1.6 -2.5 -3.5z" fill="#424bb5"/>
<path d="M157.4 223.8l2.7 -1.5 -1.5 -3.4 -2.7 1.5z" fill="#7a0403"/>
<path d="M154.7 226.2l2.7 -2.4 -1.5 -3.3 -2.7 2.4z" fill="#7a0403"/>
<path d="M260.7 303.5l2.5 0.6 -1.3 -2.2 -2.5 -0.6z" fill="#1fe9af"/>
<path d="M231.9 284.2l2.5 1.4 -1.3 -2.3 -2.5 -1.5z" fill="#a4fc3c"/>
<path d="M137.4 285.8l2.7 -12.2 -1.7 -2.5 -2.7 12.5z" fill="#bef434"/>
<path d="M176.9 244.6l2.5 4.7 -1.5 -3.1 -2.5 -4.8z" fill="#e4450a"/>
<path d="M296.4 314.0l2.5 0.6 -1.3 -2.0 -2.5 -0.6z" fill="#28bceb"/>
<path d="M255.6 304.6l2.5 2.7 -1.2 -1.9 -2.5 -2.8z" fill="#18ddc2"/>
<path d="M191.0 272.9l2.5 6.0 -1.5 -2.7 -2.5 -6.1z" fill="#dbe236"/>
<path d="M202.5 303.8l2.5 8.1 -1.5 -2.0 -2.5 -8.3z" fill="#18d7ca"/>
<path d="M258.2 302.9l2.5 0.6 -1.3 -2.3 -2.5 -0.6z" fill="#20eaac"/>
<path d="M128.4 331.8l2.7 -9.4 -1.8 -1.7 -2.7 9.5z" fill="#466be3"/>
<path d="M214.0 336.2l2.5 5.5 -1.4 -1.5 -2.5 -5.6z" fill="#372466"/>
<path d="M332.0 324.2l2.5 0.6 -1.3 -1.9 -2.5 -0.6z" fill="#4682f8"/>
<path d="M293.9 313.4l2.5 0.6 -1.3 -2.1 -2.5 -0.6z" fill="#25c0e7"/>
<path d="M229.4 282.9l2.5 1.2 -1.4 -2.3 -2.5 -1.3z" fill="#acfb38"/>
<path d="M274.1 327.4l2.5 3.4 -1.1 -1.6 -2.5 -3.4z" fill="#4661d6"/>
<path d="M255.8 302.2l2.5 0.6 -1.3 -2.3 -2.5 -0.6z" fill="#25eca7"/>
<path d="M329.6 323.6l2.5 0.6 -1.3 -1.9 -2.5 -0.6z" fill="#4685fa"/>
<path d="M253.2 302.0l2.5 2.6 -1.2 -1.9 -2.5 -2.6z" fill="#1ce6b4"/>
<path d="M291.4 312.8l2.5 0.6 -1.3 -2.1 -2.5 -0.6z" fill="#23c3e4"/>
<path d="M226.9 281.9l2.5 1.1 -1.4 -2.4 -2.5 -1.1z" fill="#b4f836"/>
<path d="M253.3 301.6l2.5 0.6 -1.3 -2.3 -2.5 -0.6z" fill="#2aefa1"/>
<path d="M174.3 239.9l2.5 4.7 -1.5 -3.2 -2.5 -4.8z" fill="#d02f05"/>
<path d="M327.1 323.0l2.5 0.6 -1.3 -1.9 -2.5 -0.6z" fill="#458afc"/>
<path d="M289.0 312.2l2.5 0.6 -1.3 -2.1 -2.5 -0.6z" fill="#20c7df"/>
<path d="M131.0 322.4l2.7 -9.4 -1.8 -1.8 -2.7 9.5z" fill="#3ba0fd"/>
<path d="M271.6 324.1l2.5 3.3 -1.1 -1.6 -2.5 -3.3z" fill="#4776ee"/>
<path d="M188.5 267.1l2.5 5.8 -1.5 -2.8 -2.5 -5.9z" fill="#f4c73a"/>
<path d="M250.8 301.0l2.5 0.6 -1.3 -2.3 -2.5 -0.6z" fill="#2cf09e"/>
<path d="M224.4 281.0l2.5 0.9 -1.4 -2.4 -2.5 -0.9z" fill="#bcf534"/>
<path d="M140.1 273.6l2.7 -11.4 -1.7 -2.7 -2.7 11.6z" fill="#f5c53a"/>
<path d="M250.7 299.5l2.5 2.5 -1.2 -2.0 -2.5 -2.5z" fill="#2aefa1"/>
<path d="M324.7 322.4l2.5 0.6 -1.3 -1.9 -2.5 -0.6z" fill="#448ffe"/>
<path d="M211.5 329.6l2.5 6.6 -1.4 -1.6 -2.5 -6.7z" fill="#424bb5"/>
<path d="M286.5 311.6l2.5 0.6 -1.3 -2.1 -2.5 -0.6z" fill="#1fc9dd"/>
<path d="M200.0 296.3l2.5 7.5 -1.5 -2.2 -2.5 -7.6z" fill="#32f298"/>
<path d="M248.4 300.4l2.5 0.6 -1.3 -2.3 -2.5 -0.6z" fill="#32f298"/>
<path d="M221.9 280.3l2.5 0.7 -1.4 -2.4 -2.5 -0.7z" fill="#c1f334"/>
<path d="M322.2 321.8l2.5 0.6 -1.3 -1.9 -2.5 -0.6z" fill="#4391fe"/>
<path d="M284.1 311.0l2.5 0.6 -1.3 -2.1 -2.5 -0.6z" fill="#1ccdd8"/>
<path d="M171.8 235.1l2.5 4.7 -1.5 -3.2 -2.5 -4.8z" fill="#b71d02"/>
<path d="M248.2 297.2l2.5 2.3 -1.2 -2.0 -2.5 -2.4z" fill="#38f491"/>
<path d="M269.2 320.9l2.5 3.2 -1.1 -1.7 -2.5 -3.2z" fill="#458afc"/>
<path d="M245.9 299.8l2.5 0.6 -1.3 -2.3 -2.5 -0.6z" fill="#35f394"/>
<path d="M219.4 279.7l2.5 0.5 -1.4 -2.4 -2.5 -0.6z" fill="#c6f034"/>
<path d="M319.7 321.3l2.5 0.6 -1.3 -1.9 -2.5 -0.6z" fill="#4196ff"/>
<path d="M281.6 310.4l2.5 0.6 -1.3 -2.1 -2.5 -0.6z" fill="#1ad2d2"/>
<path d="M185.9 261.8l2.5 5.3 -1.5 -2.9 -2.5 -5.4z" fill="#fea933"/>
<path d="M145.1 342.2l2.8 -5.1 -2.2 -1.4 -2.8 5.0z" fill="#36215f"/>
<path d="M243.5 299.2l2.5 0.6 -1.3 -2.3 -2.5 -0.6z" fill="#3cf58e"/>
<path d="M133.7 313.0l2.7 -12.2 -1.8 -2.0 -2.7 12.5z" fill="#18d9c8"/>
<path d="M216.9 279.4l2.5 0.4 -1.4 -2.5 -2.5 -0.4z" fill="#c8ef34"/>
<path d="M142.8 262.2l2.7 -9.3 -1.7 -2.9 -2.7 9.5z" fill="#fc8423"/>
<path d="M317.3 320.7l2.5 0.6 -1.3 -1.9 -2.5 -0.6z" fill="#4099ff"/>
<path d="M245.7 295.0l2.5 2.2 -1.3 -2.1 -2.5 -2.2z" fill="#4ef97d"/>
<path d="M279.2 309.9l2.5 0.6 -1.3 -2.1 -2.5 -0.6z" fill="#1ad4d0"/>
<path d="M209.0 322.3l2.5 7.3 -1.5 -1.7 -2.5 -7.5z" fill="#4778f0"/>
<path d="M147.9 337.1l2.8 -4.3 -2.1 -1.4 -2.8 4.4z" fill="#3f3e9c"/>
<path d="M266.7 317.8l2.5 3.1 -1.1 -1.7 -2.5 -3.2z" fill="#3e9bfe"/>
<path d="M240.4 299.5l3.1 -0.2 -1.3 -2.3 -3.1 0.3z" fill="#3ff68a"/>
<path d="M214.4 279.2l2.5 0.2 -1.5 -2.5 -2.5 -0.2z" fill="#cbed34"/>
<path d="M169.3 231.3l2.5 3.9 -1.5 -3.3 -2.5 -3.9z" fill="#9b0f01"/>
<path d="M314.8 320.1l2.5 0.6 -1.3 -2.0 -2.5 -0.6z" fill="#3d9efe"/>
<path d="M197.5 288.9l2.5 7.4 -1.5 -2.4 -2.5 -7.5z" fill="#75fe5c"/>
<path d="M276.7 309.3l2.5 0.6 -1.3 -2.2 -2.5 -0.6z" fill="#18d7ca"/>
<path d="M150.7 332.8l2.8 -4.2 -2.1 -1.5 -2.8 4.2z" fill="#4456c7"/>
<path d="M188.3 342.5l3.1 -3.7 -1.7 -1.6 -3.1 3.8z" fill="#351e58"/>
<path d="M237.3 300.0l3.1 -0.6 -1.3 -2.3 -3.1 0.6z" fill="#3cf58e"/>
<path d="M211.9 279.2l2.5 0.0 -1.5 -2.5 -2.5 -0.0z" fill="#cbed34"/>
<path d="M243.2 293.0l2.5 2.0 -1.3 -2.1 -2.5 -2.1z" fill="#61fc6c"/>
<path d="M191.3 338.8l3.1 -3.7 -1.6 -1.6 -3.1 3.8z" fill="#3e3891"/>
<path d="M312.4 319.5l2.5 0.6 -1.3 -2.0 -2.5 -0.6z" fill="#3aa3fc"/>
<path d="M153.4 328.6l2.8 -4.0 -2.1 -1.5 -2.8 4.1z" fill="#4771e9"/>
<path d="M234.3 300.9l3.1 -0.9 -1.3 -2.3 -3.1 0.9z" fill="#35f394"/>
<path d="M183.4 257.1l2.5 4.7 -1.5 -3.0 -2.5 -4.8z" fill="#fc8725"/>
<path d="M274.2 308.7l2.5 0.6 -1.3 -2.2 -2.5 -0.6z" fill="#18d9c8"/>
<path d="M194.4 335.1l3.1 -3.6 -1.6 -1.7 -3.1 3.7z" fill="#434eba"/>
<path d="M145.5 252.9l2.7 -7.9 -1.6 -3.0 -2.7 8.0z" fill="#e84b0c"/>
<path d="M209.1 279.4l2.8 -0.2 -1.5 -2.5 -2.8 0.2z" fill="#cbed34"/>
<path d="M264.3 314.8l2.5 3.0 -1.1 -1.7 -2.5 -3.1z" fill="#33adf7"/>
<path d="M156.2 324.6l2.8 -3.9 -2.1 -1.6 -2.8 4.0z" fill="#4687fb"/>
<path d="M197.5 331.5l3.1 -3.6 -1.6 -1.8 -3.1 3.6z" fill="#4666dd"/>
<path d="M231.2 302.1l3.1 -1.2 -1.3 -2.3 -3.1 1.2z" fill="#2ff19b"/>
<path d="M166.7 228.8l2.5 2.5 -1.5 -3.4 -2.5 -2.5z" fill="#810602"/>
<path d="M309.9 319.0l2.5 0.6 -1.3 -2.0 -2.5 -0.6z" fill="#38a5fb"/>
<path d="M200.5 327.9l3.1 -3.5 -1.6 -1.9 -3.1 3.5z" fill="#477bf2"/>
<path d="M206.3 279.8l2.8 -0.5 -1.5 -2.5 -2.8 0.5z" fill="#cbed34"/>
<path d="M159.0 320.7l2.8 -3.8 -2.0 -1.7 -2.8 3.8z" fill="#3d9efe"/>
<path d="M228.2 303.6l3.1 -1.5 -1.4 -2.3 -3.1 1.5z" fill="#27eea4"/>
<path d="M282.6 339.3l2.4 3.5 -1.0 -1.5 -2.5 -3.6z" fill="#351e58"/>
<path d="M271.8 308.1l2.5 0.6 -1.3 -2.2 -2.5 -0.6z" fill="#18ddc2"/>
<path d="M203.6 324.5l3.1 -3.3 -1.5 -1.9 -3.1 3.4z" fill="#448ffe"/>
<path d="M240.7 291.2l2.5 1.9 -1.3 -2.2 -2.5 -1.9z" fill="#75fe5c"/>
<path d="M225.1 305.3l3.1 -1.8 -1.4 -2.3 -3.1 1.8z" fill="#1fe9af"/>
<path d="M206.7 321.1l3.1 -3.2 -1.5 -2.0 -3.1 3.2z" fill="#3ba0fd"/>
<path d="M161.8 316.9l2.8 -3.7 -2.0 -1.7 -2.8 3.7z" fill="#2fb2f4"/>
<path d="M136.4 300.8l2.7 -12.8 -1.7 -2.3 -2.7 13.0z" fill="#59fb73"/>
<path d="M203.5 280.5l2.8 -0.7 -1.6 -2.5 -2.8 0.7z" fill="#c8ef34"/>
<path d="M222.0 307.4l3.1 -2.0 -1.4 -2.2 -3.1 2.1z" fill="#19e3b9"/>
<path d="M209.8 318.0l3.1 -3.0 -1.5 -2.0 -3.1 3.0z" fill="#2eb4f2"/>
<path d="M219.0 309.7l3.1 -2.3 -1.4 -2.2 -3.1 2.3z" fill="#18dbc5"/>
<path d="M307.5 318.4l2.5 0.6 -1.3 -2.0 -2.5 -0.6z" fill="#35abf8"/>
<path d="M212.8 315.0l3.1 -2.8 -1.5 -2.1 -3.1 2.8z" fill="#23c3e4"/>
<path d="M215.9 312.2l3.1 -2.5 -1.4 -2.1 -3.1 2.6z" fill="#1bd0d5"/>
<path d="M164.6 313.2l2.8 -3.5 -2.0 -1.8 -2.8 3.6z" fill="#20c7df"/>
<path d="M269.3 307.5l2.5 0.6 -1.3 -2.2 -2.5 -0.6z" fill="#18e0bd"/>
<path d="M148.2 245.0l2.7 -7.0 -1.6 -3.2 -2.7 7.1z" fill="#ca2a04"/>
<path d="M206.5 313.9l2.5 8.4 -1.5 -1.8 -2.5 -8.6z" fill="#37a8fa"/>
<path d="M200.8 281.4l2.8 -0.9 -1.6 -2.5 -2.8 1.0z" fill="#c3f134"/>
<path d="M261.8 311.9l2.5 2.9 -1.2 -1.8 -2.5 -2.9z" fill="#25c0e7"/>
<path d="M164.2 226.7l2.5 2.1 -1.5 -3.4 -2.5 -2.1z" fill="#7a0403"/>
<path d="M167.4 309.7l2.8 -3.4 -1.9 -1.9 -2.8 3.4z" fill="#18d7ca"/>
<path d="M195.0 281.6l2.5 7.3 -1.5 -2.5 -2.5 -7.5z" fill="#affa37"/>
<path d="M180.9 252.4l2.5 4.7 -1.5 -3.0 -2.5 -4.8z" fill="#f46617"/>
<path d="M238.2 289.4l2.5 1.7 -1.3 -2.2 -2.5 -1.7z" fill="#88ff4e"/>
<path d="M198.0 282.6l2.8 -1.2 -1.6 -2.4 -2.8 1.2z" fill="#bcf534"/>
<path d="M305.0 317.8l2.5 0.6 -1.3 -2.0 -2.5 -0.6z" fill="#33adf7"/>
<path d="M170.2 306.3l2.8 -3.2 -1.9 -1.9 -2.8 3.3z" fill="#19e3b9"/>
<path d="M195.2 284.0l2.8 -1.4 -1.6 -2.4 -2.8 1.5z" fill="#b4f836"/>
<path d="M266.9 306.9l2.5 0.6 -1.3 -2.2 -2.5 -0.6z" fill="#19e2bb"/>
<path d="M172.9 303.1l2.8 -3.1 -1.9 -2.0 -2.8 3.1z" fill="#27eea4"/>
<path d="M280.1 335.8l2.4 3.5 -1.0 -1.5 -2.5 -3.5z" fill="#3d358b"/>
<path d="M192.4 285.7l2.8 -1.6 -1.7 -2.4 -2.8 1.7z" fill="#acfb38"/>
<path d="M175.7 300.1l2.8 -2.9 -1.9 -2.1 -2.8 2.9z" fill="#3cf58e"/>
<path d="M150.9 238.0l2.7 -4.4 -1.6 -3.2 -2.7 4.5z" fill="#a91601"/>
<path d="M189.6 287.6l2.8 -1.9 -1.7 -2.3 -2.8 1.9z" fill="#a1fd3d"/>
<path d="M178.5 297.2l2.8 -2.7 -1.8 -2.1 -2.8 2.8z" fill="#52fa7a"/>
<path d="M127.5 342.7l2.7 -9.3 -1.8 -1.6 -2.7 9.4z" fill="#3b2f80"/>
<path d="M186.9 289.7l2.8 -2.1 -1.7 -2.3 -2.8 2.1z" fill="#92ff47"/>
<path d="M181.3 294.5l2.8 -2.5 -1.8 -2.2 -2.8 2.6z" fill="#69fd66"/>
<path d="M161.7 225.8l2.5 1.0 -1.5 -3.4 -2.5 -0.9z" fill="#7a0403"/>
<path d="M184.1 292.0l2.8 -2.3 -1.8 -2.2 -2.8 2.4z" fill="#80ff53"/>
<path d="M302.5 317.2l2.5 0.6 -1.3 -2.0 -2.5 -0.6z" fill="#2fb2f4"/>
<path d="M235.8 287.9l2.5 1.5 -1.3 -2.3 -2.5 -1.6z" fill="#96fe44"/>
<path d="M264.4 306.3l2.5 0.6 -1.3 -2.2 -2.5 -0.6z" fill="#1ae4b6"/>
<path d="M259.3 309.1l2.5 2.8 -1.2 -1.8 -2.5 -2.8z" fill="#1bd0d5"/>
<path d="M153.6 233.7l2.7 -4.1 -1.6 -3.3 -2.7 4.2z" fill="#8b0902"/>
<path d="M159.0 227.2l2.7 -1.4 -1.5 -3.4 -2.7 1.5z" fill="#7a0403"/>
<path d="M156.3 229.6l2.7 -2.4 -1.5 -3.3 -2.7 2.4z" fill="#7a0403"/>
<path d="M300.1 316.6l2.5 0.6 -1.3 -2.0 -2.5 -0.6z" fill="#2eb4f2"/>
<path d="M261.9 305.7l2.5 0.6 -1.3 -2.2 -2.5 -0.6z" fill="#1ce6b4"/>
<path d="M277.7 332.4l2.4 3.4 -1.1 -1.6 -2.5 -3.4z" fill="#424bb5"/>
<path d="M178.4 247.7l2.5 4.7 -1.5 -3.1 -2.5 -4.7z" fill="#e7490c"/>
<path d="M139.1 288.0l2.7 -12.0 -1.7 -2.5 -2.7 12.2z" fill="#bcf534"/>
<path d="M233.3 286.5l2.5 1.4 -1.3 -2.3 -2.5 -1.4z" fill="#a1fd3d"/>
<path d="M297.6 316.1l2.5 0.6 -1.3 -2.0 -2.5 -0.6z" fill="#2ab9ee"/>
<path d="M192.5 275.7l2.5 5.9 -1.5 -2.7 -2.5 -6.0z" fill="#d7e535"/>
<path d="M256.9 306.5l2.5 2.7 -1.2 -1.9 -2.5 -2.7z" fill="#18dbc5"/>
<path d="M204.0 306.0l2.5 7.9 -1.5 -2.0 -2.5 -8.1z" fill="#19d5cd"/>
<path d="M259.5 305.1l2.5 0.6 -1.3 -2.3 -2.5 -0.6z" fill="#1fe9af"/>
<path d="M130.2 333.4l2.7 -9.3 -1.8 -1.7 -2.7 9.4z" fill="#4669e0"/>
<path d="M333.3 326.0l2.5 0.6 -1.3 -1.9 -2.5 -0.6z" fill="#4680f6"/>
<path d="M215.5 337.8l2.5 5.4 -1.4 -1.5 -2.5 -5.5z" fill="#372466"/>
<path d="M230.8 285.3l2.5 1.2 -1.4 -2.3 -2.5 -1.2z" fill="#a9fb39"/>
<path d="M295.2 315.5l2.5 0.6 -1.3 -2.1 -2.5 -0.6z" fill="#27bee9"/>
<path d="M257.0 304.5l2.5 0.6 -1.3 -2.3 -2.5 -0.6z" fill="#22ebaa"/>
<path d="M275.2 329.1l2.4 3.3 -1.1 -1.6 -2.5 -3.4z" fill="#4661d6"/>
<path d="M330.8 325.5l2.5 0.6 -1.3 -1.9 -2.5 -0.6z" fill="#4685fa"/>
<path d="M254.4 303.9l2.5 2.5 -1.2 -1.9 -2.5 -2.6z" fill="#1ce6b4"/>
<path d="M292.7 314.9l2.5 0.6 -1.3 -2.1 -2.5 -0.6z" fill="#25c0e7"/>
<path d="M175.8 243.1l2.5 4.7 -1.5 -3.2 -2.5 -4.7z" fill="#d43305"/>
<path d="M228.3 284.3l2.5 1.0 -1.4 -2.4 -2.5 -1.1z" fill="#b1f936"/>
<path d="M254.6 303.9l2.5 0.6 -1.3 -2.3 -2.5 -0.6z" fill="#25eca7"/>
<path d="M328.4 324.9l2.5 0.6 -1.3 -1.9 -2.5 -0.6z" fill="#4687fb"/>
<path d="M290.2 314.3l2.5 0.6 -1.3 -2.1 -2.5 -0.6z" fill="#22c5e2"/>
<path d="M189.9 270.0l2.5 5.7 -1.5 -2.8 -2.5 -5.8z" fill="#f1cb3a"/>
<path d="M141.8 276.1l2.7 -11.1 -1.7 -2.7 -2.7 11.4z" fill="#f4c73a"/>
<path d="M132.9 324.1l2.7 -9.3 -1.8 -1.8 -2.7 9.4z" fill="#3ba0fd"/>
<path d="M225.8 283.4l2.5 0.9 -1.4 -2.4 -2.5 -0.9z" fill="#b9f635"/>
<path d="M252.1 303.3l2.5 0.6 -1.3 -2.3 -2.5 -0.6z" fill="#2aefa1"/>
<path d="M272.8 325.8l2.4 3.3 -1.1 -1.6 -2.5 -3.3z" fill="#4776ee"/>
<path d="M251.9 301.5l2.5 2.4 -1.2 -2.0 -2.5 -2.5z" fill="#27eea4"/>
<path d="M325.9 324.3l2.5 0.6 -1.3 -1.9 -2.5 -0.6z" fill="#458cfd"/>
<path d="M213.0 331.3l2.5 6.5 -1.4 -1.6 -2.5 -6.6z" fill="#424bb5"/>
<path d="M287.8 313.7l2.5 0.6 -1.3 -2.1 -2.5 -0.6z" fill="#20c7df"/>
<path d="M201.5 298.7l2.5 7.3 -1.5 -2.2 -2.5 -7.5z" fill="#2ff19b"/>
<path d="M249.7 302.8l2.5 0.6 -1.3 -2.3 -2.5 -0.6z" fill="#2cf09e"/>
<path d="M223.3 282.7l2.5 0.7 -1.4 -2.4 -2.5 -0.7z" fill="#bef434"/>
<path d="M173.3 238.5l2.5 4.6 -1.5 -3.2 -2.5 -4.7z" fill="#bc2002"/>
<path d="M323.5 323.8l2.5 0.6 -1.3 -1.9 -2.5 -0.6z" fill="#448ffe"/>
<path d="M285.3 313.2l2.5 0.6 -1.3 -2.1 -2.5 -0.6z" fill="#1ecbda"/>
<path d="M247.2 302.2l2.5 0.6 -1.3 -2.3 -2.5 -0.6z" fill="#32f298"/>
<path d="M249.5 299.3l2.5 2.3 -1.2 -2.0 -2.5 -2.3z" fill="#38f491"/>
<path d="M220.8 282.2l2.5 0.5 -1.4 -2.4 -2.5 -0.5z" fill="#c1f334"/>
<path d="M270.3 322.6l2.4 3.2 -1.1 -1.7 -2.5 -3.2z" fill="#4687fb"/>
<path d="M321.0 323.2l2.5 0.6 -1.3 -1.9 -2.5 -0.6z" fill="#4294ff"/>
<path d="M187.4 264.7l2.5 5.2 -1.5 -2.9 -2.5 -5.3z" fill="#fdae35"/>
<path d="M282.9 312.6l2.5 0.6 -1.3 -2.1 -2.5 -0.6z" fill="#1ccdd8"/>
<path d="M144.5 264.9l2.7 -9.1 -1.7 -2.9 -2.7 9.3z" fill="#fd8a26"/>
<path d="M147.3 343.7l2.8 -5.2 -2.2 -1.4 -2.8 5.1z" fill="#36215f"/>
<path d="M244.7 301.6l2.5 0.6 -1.3 -2.3 -2.5 -0.6z" fill="#38f491"/>
<path d="M218.3 281.8l2.5 0.4 -1.4 -2.5 -2.5 -0.4z" fill="#c6f034"/>
<path d="M135.5 314.8l2.7 -12.0 -1.8 -2.0 -2.7 12.2z" fill="#18d7ca"/>
<path d="M318.6 322.6l2.5 0.6 -1.3 -1.9 -2.5 -0.6z" fill="#4099ff"/>
<path d="M280.4 312.0l2.5 0.6 -1.3 -2.1 -2.5 -0.6z" fill="#1ad2d2"/>
<path d="M247.0 297.2l2.5 2.1 -1.3 -2.1 -2.5 -2.2z" fill="#4af880"/>
<path d="M170.8 234.7l2.5 3.8 -1.5 -3.3 -2.5 -3.9z" fill="#a11201"/>
<path d="M150.1 338.5l2.8 -4.3 -2.1 -1.4 -2.8 4.3z" fill="#3f3e9c"/>
<path d="M215.9 281.7l2.5 0.2 -1.5 -2.5 -2.5 -0.2z" fill="#c6f034"/>
<path d="M241.7 301.8l3.0 -0.2 -1.3 -2.3 -3.1 0.2z" fill="#38f491"/>
<path d="M210.4 324.1l2.5 7.2 -1.5 -1.7 -2.5 -7.3z" fill="#4778f0"/>
<path d="M267.9 319.6l2.4 3.1 -1.1 -1.7 -2.5 -3.1z" fill="#3e9bfe"/>
<path d="M199.0 291.4l2.5 7.2 -1.5 -2.4 -2.5 -7.4z" fill="#71fe5f"/>
<path d="M316.1 322.1l2.5 0.6 -1.3 -2.0 -2.5 -0.6z" fill="#3e9bfe"/>
<path d="M278.0 311.4l2.5 0.6 -1.3 -2.2 -2.5 -0.6z" fill="#19d5cd"/>
<path d="M152.8 334.2l2.8 -4.1 -2.1 -1.5 -2.8 4.2z" fill="#4456c7"/>
<path d="M213.4 281.6l2.5 0.0 -1.5 -2.5 -2.5 -0.0z" fill="#c8ef34"/>
<path d="M238.7 302.4l3.0 -0.6 -1.3 -2.3 -3.1 0.6z" fill="#35f394"/>
<path d="M189.9 344.0l3.0 -3.7 -1.7 -1.6 -3.1 3.7z" fill="#351e58"/>
<path d="M244.5 295.2l2.5 2.0 -1.3 -2.1 -2.5 -2.0z" fill="#5dfc6f"/>
<path d="M184.9 260.1l2.5 4.6 -1.5 -3.0 -2.5 -4.7z" fill="#fd8d27"/>
<path d="M147.2 255.8l2.7 -7.7 -1.6 -3.0 -2.7 7.9z" fill="#eb500e"/>
<path d="M193.0 340.4l3.0 -3.6 -1.6 -1.6 -3.1 3.7z" fill="#3d358b"/>
<path d="M155.6 330.1l2.8 -4.0 -2.1 -1.5 -2.8 4.0z" fill="#4771e9"/>
<path d="M313.6 321.5l2.5 0.6 -1.3 -2.0 -2.5 -0.6z" fill="#3ba0fd"/>
<path d="M235.6 303.2l3.0 -0.9 -1.3 -2.3 -3.1 0.9z" fill="#32f298"/>
<path d="M210.6 281.8l2.7 -0.2 -1.5 -2.5 -2.8 0.2z" fill="#c8ef34"/>
<path d="M275.5 310.9l2.5 0.6 -1.3 -2.2 -2.5 -0.6z" fill="#18d7ca"/>
<path d="M168.2 232.2l2.5 2.5 -1.5 -3.4 -2.5 -2.5z" fill="#8b0902"/>
<path d="M196.0 336.8l3.0 -3.6 -1.6 -1.7 -3.1 3.6z" fill="#434eba"/>
<path d="M158.3 326.1l2.8 -3.8 -2.1 -1.6 -2.8 3.9z" fill="#4687fb"/>
<path d="M232.6 304.4l3.0 -1.2 -1.3 -2.3 -3.1 1.2z" fill="#2cf09e"/>
<path d="M265.4 316.6l2.4 3.0 -1.1 -1.7 -2.5 -3.0z" fill="#33adf7"/>
<path d="M199.1 333.2l3.0 -3.5 -1.6 -1.8 -3.1 3.6z" fill="#4664da"/>
<path d="M207.9 282.3l2.7 -0.4 -1.5 -2.5 -2.8 0.5z" fill="#c6f034"/>
<path d="M311.2 320.9l2.5 0.6 -1.3 -2.0 -2.5 -0.6z" fill="#3aa3fc"/>
<path d="M202.1 329.7l3.0 -3.4 -1.6 -1.9 -3.1 3.5z" fill="#4778f0"/>
<path d="M161.1 322.3l2.8 -3.7 -2.0 -1.7 -2.8 3.8z" fill="#3e9bfe"/>
<path d="M229.5 305.8l3.0 -1.5 -1.4 -2.3 -3.1 1.5z" fill="#25eca7"/>
<path d="M273.0 310.3l2.5 0.6 -1.3 -2.2 -2.5 -0.6z" fill="#18dbc5"/>
<path d="M242.0 293.4l2.5 1.8 -1.3 -2.2 -2.5 -1.9z" fill="#71fe5f"/>
<path d="M205.2 326.3l3.0 -3.3 -1.5 -1.9 -3.1 3.3z" fill="#458cfd"/>
<path d="M226.5 307.6l3.0 -1.7 -1.4 -2.3 -3.1 1.8z" fill="#1de7b2"/>
<path d="M283.6 340.8l2.4 3.5 -1.0 -1.5 -2.4 -3.5z" fill="#351e58"/>
<path d="M138.2 302.8l2.7 -12.5 -1.7 -2.3 -2.7 12.8z" fill="#59fb73"/>
<path d="M205.1 283.0l2.7 -0.7 -1.6 -2.5 -2.8 0.7z" fill="#c3f134"/>
<path d="M208.2 323.1l3.0 -3.1 -1.5 -2.0 -3.1 3.2z" fill="#3ba0fd"/>
<path d="M163.8 318.6l2.8 -3.6 -2.0 -1.7 -2.8 3.7z" fill="#2fb2f4"/>
<path d="M223.4 309.6l3.0 -2.0 -1.4 -2.2 -3.1 2.0z" fill="#19e2bb"/>
<path d="M211.3 320.0l3.0 -2.9 -1.5 -2.0 -3.1 3.0z" fill="#2fb2f4"/>
<path d="M149.8 248.1l2.7 -6.8 -1.6 -3.2 -2.7 7.0z" fill="#ce2d04"/>
<path d="M220.4 311.8l3.0 -2.3 -1.4 -2.2 -3.1 2.3z" fill="#18d9c8"/>
<path d="M214.3 317.0l3.0 -2.7 -1.5 -2.1 -3.1 2.8z" fill="#25c0e7"/>
<path d="M217.4 314.3l3.0 -2.5 -1.4 -2.1 -3.1 2.5z" fill="#1ccdd8"/>
<path d="M165.7 230.1l2.5 2.1 -1.5 -3.4 -2.5 -2.1z" fill="#7a0403"/>
<path d="M308.7 320.4l2.5 0.6 -1.3 -2.0 -2.5 -0.6z" fill="#37a8fa"/>
<path d="M166.6 315.0l2.8 -3.5 -2.0 -1.8 -2.8 3.5z" fill="#22c5e2"/>
<path d="M202.4 283.9l2.7 -0.9 -1.6 -2.5 -2.8 0.9z" fill="#bef434"/>
<path d="M270.6 309.7l2.5 0.6 -1.3 -2.2 -2.5 -0.6z" fill="#18ddc2"/>
<path d="M207.9 315.9l2.5 8.2 -1.5 -1.8 -2.5 -8.4z" fill="#37a8fa"/>
<path d="M196.4 284.3l2.5 7.2 -1.5 -2.5 -2.5 -7.3z" fill="#a9fb39"/>
<path d="M182.4 255.5l2.5 4.6 -1.5 -3.0 -2.5 -4.7z" fill="#f66c19"/>
<path d="M169.3 311.5l2.8 -3.3 -1.9 -1.9 -2.8 3.4z" fill="#19d5cd"/>
<path d="M263.0 313.8l2.4 2.9 -1.2 -1.8 -2.5 -2.9z" fill="#27bee9"/>
<path d="M199.6 285.0l2.7 -1.2 -1.6 -2.4 -2.8 1.2z" fill="#b9f635"/>
<path d="M239.6 291.7l2.5 1.7 -1.3 -2.2 -2.5 -1.7z" fill="#84ff51"/>
<path d="M172.1 308.2l2.8 -3.2 -1.9 -1.9 -2.8 3.2z" fill="#19e3b9"/>
<path d="M306.3 319.8l2.5 0.6 -1.3 -2.0 -2.5 -0.6z" fill="#35abf8"/>
<path d="M196.9 286.4l2.8 -1.4 -1.6 -2.4 -2.8 1.4z" fill="#b1f936"/>
<path d="M152.5 241.2l2.7 -4.3 -1.6 -3.2 -2.7 4.4z" fill="#af1801"/>
<path d="M174.9 305.1l2.8 -3.0 -1.9 -2.0 -2.8 3.1z" fill="#25eca7"/>
<path d="M268.1 309.1l2.5 0.6 -1.3 -2.2 -2.5 -0.6z" fill="#18e0bd"/>
<path d="M194.1 288.0l2.8 -1.6 -1.7 -2.4 -2.8 1.6z" fill="#a9fb39"/>
<path d="M163.2 229.1l2.5 1.0 -1.5 -3.4 -2.5 -1.0z" fill="#7a0403"/>
<path d="M177.6 302.1l2.8 -2.8 -1.9 -2.1 -2.8 2.9z" fill="#38f491"/>
<path d="M191.4 289.9l2.8 -1.8 -1.7 -2.3 -2.8 1.9z" fill="#9ffd3f"/>
<path d="M180.4 299.2l2.8 -2.6 -1.8 -2.1 -2.8 2.7z" fill="#4ef97d"/>
<path d="M281.2 337.4l2.4 3.5 -1.0 -1.5 -2.4 -3.5z" fill="#3d358b"/>
<path d="M188.6 291.9l2.8 -2.0 -1.7 -2.3 -2.8 2.1z" fill="#8fff49"/>
<path d="M183.1 296.6l2.8 -2.4 -1.8 -2.2 -2.8 2.5z" fill="#65fd69"/>
<path d="M185.9 294.2l2.8 -2.3 -1.8 -2.2 -2.8 2.3z" fill="#7dff56"/>
<path d="M129.4 344.2l2.6 -9.2 -1.8 -1.6 -2.7 9.3z" fill="#3b2f80"/>
<path d="M155.2 236.9l2.7 -4.0 -1.6 -3.3 -2.7 4.1z" fill="#950d01"/>
<path d="M303.8 319.3l2.5 0.6 -1.3 -2.0 -2.5 -0.6z" fill="#31aff5"/>
<path d="M160.5 230.5l2.7 -1.4 -1.5 -3.4 -2.7 1.4z" fill="#7a0403"/>
<path d="M237.1 290.2l2.5 1.5 -1.3 -2.3 -2.5 -1.5z" fill="#92ff47"/>
<path d="M157.9 232.9l2.7 -2.3 -1.5 -3.3 -2.7 2.4z" fill="#7a0403"/>
<path d="M265.7 308.5l2.5 0.6 -1.3 -2.2 -2.5 -0.6z" fill="#19e3b9"/>
<path d="M260.5 311.0l2.4 2.7 -1.2 -1.8 -2.5 -2.8z" fill="#1ccdd8"/>
<path d="M179.9 250.9l2.5 4.6 -1.5 -3.1 -2.5 -4.7z" fill="#ea4e0d"/>
<path d="M301.3 318.7l2.5 0.6 -1.3 -2.0 -2.5 -0.6z" fill="#2fb2f4"/>
<path d="M263.2 308.0l2.5 0.6 -1.3 -2.2 -2.5 -0.6z" fill="#1ae4b6"/>
<path d="M140.8 290.3l2.7 -11.7 -1.7 -2.5 -2.7 12.0z" fill="#b7f735"/>
<path d="M234.6 288.9l2.5 1.3 -1.3 -2.3 -2.5 -1.4z" fill="#9cfe40"/>
<path d="M193.9 278.5l2.5 5.8 -1.5 -2.7 -2.5 -5.9z" fill="#d2e935"/>
<path d="M278.7 334.0l2.4 3.4 -1.1 -1.6 -2.4 -3.4z" fill="#424bb5"/>
<path d="M298.9 318.1l2.5 0.6 -1.3 -2.0 -2.5 -0.6z" fill="#2cb7f0"/>
<path d="M205.4 308.2l2.5 7.7 -1.5 -2.0 -2.5 -7.9z" fill="#1ad4d0"/>
<path d="M260.7 307.4l2.5 0.6 -1.3 -2.3 -2.5 -0.6z" fill="#1de7b2"/>
<path d="M258.1 308.4l2.4 2.6 -1.2 -1.9 -2.5 -2.7z" fill="#18dbc5"/>
<path d="M132.0 335.0l2.6 -9.2 -1.8 -1.7 -2.7 9.3z" fill="#4669e0"/>
<path d="M232.2 287.7l2.5 1.2 -1.4 -2.3 -2.5 -1.2z" fill="#a7fc3a"/>
<path d="M334.6 327.9l2.5 0.6 -1.3 -1.9 -2.5 -0.6z" fill="#4680f6"/>
<path d="M296.4 317.6l2.5 0.6 -1.3 -2.1 -2.5 -0.6z" fill="#28bceb"/>
<path d="M216.9 339.3l2.5 5.4 -1.4 -1.5 -2.5 -5.4z" fill="#372466"/>
<path d="M258.3 306.8l2.5 0.6 -1.3 -2.3 -2.5 -0.6z" fill="#1fe9af"/>
<path d="M177.3 246.3l2.5 4.6 -1.5 -3.2 -2.5 -4.7z" fill="#d83706"/>
<path d="M276.3 330.7l2.4 3.3 -1.1 -1.6 -2.4 -3.3z" fill="#4661d6"/>
<path d="M332.1 327.4l2.5 0.6 -1.3 -1.9 -2.5 -0.6z" fill="#4682f8"/>
<path d="M294.0 317.0l2.5 0.6 -1.3 -2.1 -2.5 -0.6z" fill="#27bee9"/>
<path d="M229.7 286.7l2.5 1.0 -1.4 -2.4 -2.5 -1.0z" fill="#affa37"/>
<path d="M255.6 305.9l2.5 2.5 -1.2 -1.9 -2.5 -2.5z" fill="#1ae4b6"/>
<path d="M255.8 306.2l2.5 0.6 -1.3 -2.3 -2.5 -0.6z" fill="#22ebaa"/>
<path d="M191.4 272.8l2.5 5.6 -1.5 -2.8 -2.5 -5.7z" fill="#eecf3a"/>
<path d="M329.6 326.8l2.5 0.6 -1.3 -1.9 -2.5 -0.6z" fill="#4687fb"/>
<path d="M143.5 278.5l2.7 -10.9 -1.7 -2.7 -2.7 11.1z" fill="#f1cb3a"/>
<path d="M291.5 316.4l2.5 0.6 -1.3 -2.1 -2.5 -0.6z" fill="#23c3e4"/>
<path d="M227.2 285.8l2.5 0.8 -1.4 -2.4 -2.5 -0.9z" fill="#b4f836"/>
<path d="M134.7 325.8l2.6 -9.2 -1.8 -1.8 -2.7 9.3z" fill="#3d9efe"/>
<path d="M253.4 305.6l2.5 0.6 -1.3 -2.3 -2.5 -0.6z" fill="#25eca7"/>
<path d="M253.2 303.6l2.5 2.4 -1.2 -2.0 -2.5 -2.4z" fill="#25eca7"/>
<path d="M273.9 327.5l2.4 3.2 -1.1 -1.6 -2.4 -3.3z" fill="#4773eb"/>
<path d="M327.2 326.2l2.5 0.6 -1.3 -1.9 -2.5 -0.6z" fill="#458afc"/>
<path d="M202.9 301.0l2.5 7.2 -1.5 -2.2 -2.5 -7.3z" fill="#2cf09e"/>
<path d="M289.1 315.9l2.5 0.6 -1.3 -2.1 -2.5 -0.6z" fill="#22c5e2"/>
<path d="M214.4 333.0l2.5 6.4 -1.4 -1.6 -2.5 -6.5z" fill="#424bb5"/>
<path d="M174.8 241.8l2.5 4.5 -1.5 -3.2 -2.5 -4.6z" fill="#c12302"/>
<path d="M224.8 285.1l2.5 0.7 -1.4 -2.4 -2.5 -0.7z" fill="#b9f635"/>
<path d="M250.9 305.1l2.5 0.6 -1.3 -2.3 -2.5 -0.6z" fill="#2aefa1"/>
<path d="M324.7 325.7l2.5 0.6 -1.3 -1.9 -2.5 -0.6z" fill="#448ffe"/>
<path d="M286.6 315.3l2.5 0.6 -1.3 -2.1 -2.5 -0.6z" fill="#1fc9dd"/>
<path d="M222.3 284.6l2.5 0.5 -1.4 -2.4 -2.5 -0.5z" fill="#bef434"/>
<path d="M248.5 304.5l2.5 0.6 -1.3 -2.3 -2.5 -0.6z" fill="#2ff19b"/>
<path d="M250.7 301.3l2.5 2.2 -1.2 -2.0 -2.5 -2.3z" fill="#35f394"/>
<path d="M188.9 267.7l2.5 5.1 -1.5 -2.9 -2.5 -5.2z" fill="#fcb336"/>
<path d="M271.4 324.3l2.4 3.1 -1.1 -1.7 -2.4 -3.2z" fill="#4687fb"/>
<path d="M322.3 325.1l2.5 0.6 -1.3 -1.9 -2.5 -0.6z" fill="#4391fe"/>
<path d="M146.2 267.6l2.7 -9.0 -1.7 -2.9 -2.7 9.1z" fill="#fe9029"/>
<path d="M284.1 314.7l2.5 0.6 -1.3 -2.1 -2.5 -0.6z" fill="#1ecbda"/>
<path d="M219.8 284.3l2.5 0.3 -1.4 -2.5 -2.5 -0.4z" fill="#c1f334"/>
<path d="M246.0 303.9l2.5 0.6 -1.3 -2.3 -2.5 -0.6z" fill="#32f298"/>
<path d="M149.5 345.2l2.7 -5.3 -2.2 -1.4 -2.8 5.2z" fill="#36215f"/>
<path d="M137.3 316.6l2.6 -11.8 -1.8 -2.0 -2.7 12.0z" fill="#18d7ca"/>
<path d="M172.3 238.0l2.5 3.7 -1.5 -3.3 -2.5 -3.8z" fill="#a91601"/>
<path d="M319.8 324.6l2.5 0.6 -1.3 -1.9 -2.5 -0.6z" fill="#4196ff"/>
<path d="M281.7 314.2l2.5 0.6 -1.3 -2.1 -2.5 -0.6z" fill="#1bd0d5"/>
<path d="M248.3 299.3l2.5 2.1 -1.3 -2.1 -2.5 -2.1z" fill="#46f884"/>
<path d="M217.3 284.1l2.5 0.2 -1.5 -2.5 -2.5 -0.2z" fill="#c3f134"/>
<path d="M243.0 304.2l3.0 -0.2 -1.3 -2.3 -3.0 0.2z" fill="#35f394"/>
<path d="M152.2 339.9l2.7 -4.3 -2.1 -1.4 -2.8 4.3z" fill="#3f3e9c"/>
<path d="M200.4 294.0l2.5 7.1 -1.5 -2.4 -2.5 -7.2z" fill="#69fd66"/>
<path d="M211.9 325.9l2.5 7.0 -1.5 -1.7 -2.5 -7.2z" fill="#4776ee"/>
<path d="M269.0 321.3l2.4 3.0 -1.1 -1.7 -2.4 -3.1z" fill="#4099ff"/>
<path d="M317.4 324.0l2.5 0.6 -1.3 -2.0 -2.5 -0.6z" fill="#4099ff"/>
<path d="M214.9 284.1l2.5 0.0 -1.5 -2.5 -2.5 -0.0z" fill="#c3f134"/>
<path d="M279.2 313.6l2.5 0.6 -1.3 -2.2 -2.5 -0.6z" fill="#1ad2d2"/>
<path d="M155.0 335.6l2.7 -4.1 -2.1 -1.5 -2.8 4.1z" fill="#4456c7"/>
<path d="M240.0 304.7l3.0 -0.5 -1.3 -2.3 -3.0 0.6z" fill="#32f298"/>
<path d="M148.8 258.7l2.7 -7.6 -1.6 -3.0 -2.7 7.7z" fill="#ed5510"/>
<path d="M186.4 263.1l2.5 4.6 -1.5 -3.0 -2.5 -4.6z" fill="#fe962b"/>
<path d="M191.6 345.5l3.0 -3.6 -1.7 -1.6 -3.0 3.7z" fill="#351e58"/>
<path d="M169.8 235.6l2.5 2.5 -1.5 -3.4 -2.5 -2.5z" fill="#920b01"/>
<path d="M245.8 297.3l2.5 1.9 -1.3 -2.1 -2.5 -2.0z" fill="#59fb73"/>
<path d="M157.7 331.6l2.7 -3.9 -2.1 -1.5 -2.8 4.0z" fill="#4771e9"/>
<path d="M212.2 284.3l2.7 -0.2 -1.5 -2.5 -2.7 0.2z" fill="#c3f134"/>
<path d="M236.9 305.5l3.0 -0.8 -1.3 -2.3 -3.0 0.9z" fill="#2ff19b"/>
<path d="M194.6 341.9l3.0 -3.6 -1.6 -1.6 -3.0 3.6z" fill="#3d358b"/>
<path d="M314.9 323.5l2.5 0.6 -1.3 -2.0 -2.5 -0.6z" fill="#3d9efe"/>
<path d="M276.8 313.0l2.5 0.6 -1.3 -2.2 -2.5 -0.6z" fill="#19d5cd"/>
<path d="M197.7 338.4l3.0 -3.5 -1.6 -1.7 -3.0 3.6z" fill="#434eba"/>
<path d="M160.4 327.6l2.7 -3.8 -2.1 -1.6 -2.8 3.8z" fill="#4685fa"/>
<path d="M233.9 306.7l3.0 -1.1 -1.3 -2.3 -3.0 1.2z" fill="#27eea4"/>
<path d="M209.4 284.8l2.7 -0.4 -1.5 -2.5 -2.7 0.4z" fill="#c3f134"/>
<path d="M200.7 334.9l3.0 -3.4 -1.6 -1.8 -3.0 3.5z" fill="#4664da"/>
<path d="M266.6 318.4l2.4 2.9 -1.1 -1.7 -2.4 -3.0z" fill="#33adf7"/>
<path d="M230.9 308.1l3.0 -1.4 -1.4 -2.3 -3.0 1.5z" fill="#20eaac"/>
<path d="M163.1 323.9l2.7 -3.6 -2.0 -1.7 -2.8 3.7z" fill="#3e9bfe"/>
<path d="M312.4 322.9l2.5 0.6 -1.3 -2.0 -2.5 -0.6z" fill="#3ba0fd"/>
<path d="M203.7 331.5l3.0 -3.3 -1.6 -1.9 -3.0 3.4z" fill="#4778f0"/>
<path d="M274.3 312.5l2.5 0.6 -1.3 -2.2 -2.5 -0.6z" fill="#18d9c8"/>
<path d="M243.4 295.6l2.5 1.8 -1.3 -2.2 -2.5 -1.8z" fill="#6dfe62"/>
<path d="M151.5 251.1l2.7 -6.7 -1.6 -3.2 -2.7 6.8z" fill="#d43305"/>
<path d="M206.7 285.4l2.7 -0.7 -1.6 -2.5 -2.7 0.7z" fill="#c1f334"/>
<path d="M206.7 328.2l3.0 -3.2 -1.5 -1.9 -3.0 3.3z" fill="#458afc"/>
<path d="M227.9 309.8l3.0 -1.7 -1.4 -2.3 -3.0 1.7z" fill="#1ce6b4"/>
<path d="M167.2 233.5l2.5 2.1 -1.5 -3.4 -2.5 -2.1z" fill="#810602"/>
<path d="M139.9 304.8l2.6 -12.2 -1.7 -2.3 -2.7 12.5z" fill="#55fa76"/>
<path d="M165.9 320.2l2.7 -3.5 -2.0 -1.7 -2.8 3.6z" fill="#2fb2f4"/>
<path d="M209.8 325.0l3.0 -3.0 -1.5 -2.0 -3.0 3.1z" fill="#3d9efe"/>
<path d="M224.9 311.8l3.0 -2.0 -1.4 -2.2 -3.0 2.0z" fill="#18e0bd"/>
<path d="M212.8 321.9l3.0 -2.9 -1.5 -2.0 -3.0 2.9z" fill="#31aff5"/>
<path d="M221.9 314.0l3.0 -2.2 -1.4 -2.2 -3.0 2.3z" fill="#18d7ca"/>
<path d="M284.6 342.4l2.4 3.5 -1.0 -1.5 -2.4 -3.5z" fill="#351e58"/>
<path d="M215.8 319.1l3.0 -2.7 -1.5 -2.1 -3.0 2.7z" fill="#27bee9"/>
<path d="M218.8 316.4l3.0 -2.4 -1.4 -2.1 -3.0 2.5z" fill="#1ecbda"/>
<path d="M204.0 286.3l2.7 -0.9 -1.6 -2.5 -2.7 0.9z" fill="#bcf534"/>
<path d="M183.9 258.6l2.5 4.6 -1.5 -3.0 -2.5 -4.6z" fill="#f9751d"/>
<path d="M168.6 316.7l2.7 -3.4 -2.0 -1.8 -2.8 3.5z" fill="#22c5e2"/>
<path d="M310.0 322.4l2.5 0.6 -1.3 -2.0 -2.5 -0.6z" fill="#38a5fb"/>
<path d="M197.9 286.9l2.5 7.0 -1.5 -2.5 -2.5 -7.2z" fill="#a4fc3c"/>
<path d="M271.8 311.9l2.5 0.6 -1.3 -2.2 -2.5 -0.6z" fill="#18dbc5"/>
<path d="M209.4 317.9l2.5 8.0 -1.5 -1.8 -2.5 -8.2z" fill="#38a5fb"/>
<path d="M201.3 287.4l2.7 -1.1 -1.6 -2.4 -2.7 1.2z" fill="#b4f836"/>
<path d="M171.3 313.3l2.7 -3.2 -1.9 -1.9 -2.8 3.3z" fill="#19d5cd"/>
<path d="M154.1 244.4l2.6 -4.3 -1.6 -3.2 -2.7 4.3z" fill="#b71d02"/>
<path d="M240.9 294.0l2.5 1.6 -1.3 -2.2 -2.5 -1.7z" fill="#7dff56"/>
<path d="M174.0 310.1l2.7 -3.1 -1.9 -1.9 -2.8 3.2z" fill="#19e2bb"/>
<path d="M264.1 315.6l2.4 2.8 -1.2 -1.8 -2.4 -2.9z" fill="#27bee9"/>
<path d="M164.7 232.5l2.5 1.0 -1.5 -3.4 -2.5 -1.0z" fill="#7a0403"/>
<path d="M198.6 288.8l2.7 -1.4 -1.6 -2.4 -2.8 1.4z" fill="#affa37"/>
<path d="M176.8 307.0l2.7 -2.9 -1.9 -2.0 -2.8 3.0z" fill="#22ebaa"/>
<path d="M307.5 321.8l2.5 0.6 -1.3 -2.0 -2.5 -0.6z" fill="#37a8fa"/>
<path d="M195.8 290.4l2.7 -1.6 -1.7 -2.4 -2.8 1.6z" fill="#a4fc3c"/>
<path d="M269.4 311.3l2.5 0.6 -1.3 -2.2 -2.5 -0.6z" fill="#18dec0"/>
<path d="M179.5 304.1l2.7 -2.8 -1.9 -2.1 -2.8 2.8z" fill="#35f394"/>
<path d="M156.8 240.1l2.6 -3.9 -1.6 -3.3 -2.7 4.0z" fill="#9b0f01"/>
<path d="M193.1 292.2l2.7 -1.8 -1.7 -2.3 -2.8 1.8z" fill="#99fe42"/>
<path d="M182.2 301.3l2.7 -2.6 -1.8 -2.1 -2.8 2.6z" fill="#4af880"/>
<path d="M190.4 294.1l2.7 -2.0 -1.7 -2.3 -2.8 2.0z" fill="#8bff4b"/>
<path d="M184.9 298.7l2.7 -2.4 -1.8 -2.2 -2.8 2.4z" fill="#61fc6c"/>
<path d="M162.1 233.9l2.6 -1.4 -1.5 -3.4 -2.7 1.4z" fill="#7a0403"/>
<path d="M187.7 296.3l2.7 -2.2 -1.8 -2.2 -2.8 2.3z" fill="#79fe59"/>
<path d="M159.4 236.2l2.6 -2.3 -1.5 -3.3 -2.7 2.3z" fill="#850702"/>
<path d="M131.2 345.7l2.6 -9.1 -1.8 -1.6 -2.6 9.2z" fill="#3b2f80"/>
<path d="M282.2 338.9l2.4 3.4 -1.0 -1.5 -2.4 -3.5z" fill="#3d358b"/>
<path d="M305.1 321.3l2.5 0.6 -1.3 -2.0 -2.5 -0.6z" fill="#33adf7"/>
<path d="M238.5 292.5l2.5 1.5 -1.3 -2.3 -2.5 -1.5z" fill="#8bff4b"/>
<path d="M266.9 310.8l2.5 0.6 -1.3 -2.2 -2.5 -0.6z" fill="#18e0bd"/>
<path d="M181.4 254.0l2.5 4.5 -1.5 -3.1 -2.5 -4.6z" fill="#ed5510"/>
<path d="M261.7 312.9l2.4 2.7 -1.2 -1.8 -2.4 -2.7z" fill="#1ecbda"/>
<path d="M302.6 320.7l2.5 0.6 -1.3 -2.0 -2.5 -0.6z" fill="#31aff5"/>
<path d="M142.6 292.5l2.6 -11.5 -1.7 -2.5 -2.7 11.7z" fill="#b4f836"/>
<path d="M264.5 310.2l2.5 0.6 -1.3 -2.2 -2.5 -0.6z" fill="#19e3b9"/>
<path d="M195.4 281.2l2.5 5.7 -1.5 -2.7 -2.5 -5.8z" fill="#cdec34"/>
<path d="M236.0 291.2l2.5 1.3 -1.3 -2.3 -2.5 -1.3z" fill="#99fe42"/>
<path d="M279.8 335.6l2.4 3.4 -1.1 -1.6 -2.4 -3.4z" fill="#424bb5"/>
<path d="M300.2 320.2l2.5 0.6 -1.3 -2.0 -2.5 -0.6z" fill="#2eb4f2"/>
<path d="M206.9 310.4l2.5 7.6 -1.5 -2.0 -2.5 -7.7z" fill="#1ad2d2"/>
<path d="M262.0 309.6l2.5 0.6 -1.3 -2.3 -2.5 -0.6z" fill="#1ae4b6"/>
<path d="M259.3 310.3l2.4 2.6 -1.2 -1.9 -2.4 -2.6z" fill="#18d9c8"/>
<path d="M133.9 336.6l2.6 -9.1 -1.8 -1.7 -2.6 9.2z" fill="#4669e0"/>
<path d="M233.6 290.0l2.5 1.1 -1.4 -2.3 -2.5 -1.2z" fill="#a1fd3d"/>
<path d="M335.8 329.8l2.5 0.5 -1.3 -1.9 -2.5 -0.6z" fill="#467df4"/>
<path d="M297.7 319.6l2.5 0.6 -1.3 -2.1 -2.5 -0.6z" fill="#2cb7f0"/>
<path d="M178.8 249.5l2.5 4.5 -1.5 -3.2 -2.5 -4.6z" fill="#dd3d08"/>
<path d="M218.4 340.9l2.5 5.3 -1.4 -1.5 -2.5 -5.4z" fill="#372466"/>
<path d="M259.6 309.1l2.5 0.6 -1.3 -2.3 -2.5 -0.6z" fill="#1de7b2"/>
<path d="M231.1 289.1l2.5 1.0 -1.4 -2.4 -2.5 -1.0z" fill="#a9fb39"/>
<path d="M333.4 329.2l2.5 0.5 -1.3 -1.9 -2.5 -0.6z" fill="#4680f6"/>
<path d="M295.2 319.1l2.5 0.6 -1.3 -2.1 -2.5 -0.6z" fill="#28bceb"/>
<path d="M277.4 332.3l2.4 3.3 -1.1 -1.6 -2.4 -3.3z" fill="#455ed3"/>
<path d="M256.8 307.9l2.4 2.4 -1.2 -1.9 -2.5 -2.5z" fill="#19e3b9"/>
<path d="M257.1 308.5l2.5 0.6 -1.3 -2.3 -2.5 -0.6z" fill="#1fe9af"/>
<path d="M192.9 275.7l2.5 5.5 -1.5 -2.8 -2.5 -5.6z" fill="#ebd339"/>
<path d="M145.2 281.0l2.6 -10.7 -1.7 -2.7 -2.7 10.9z" fill="#efcd3a"/>
<path d="M330.9 328.7l2.5 0.5 -1.3 -1.9 -2.5 -0.6z" fill="#4685fa"/>
<path d="M228.6 288.2l2.5 0.8 -1.4 -2.4 -2.5 -0.8z" fill="#affa37"/>
<path d="M292.8 318.5l2.5 0.6 -1.3 -2.1 -2.5 -0.6z" fill="#25c0e7"/>
<path d="M136.5 327.4l2.6 -9.1 -1.8 -1.8 -2.6 9.2z" fill="#3d9efe"/>
<path d="M254.6 308.0l2.5 0.6 -1.3 -2.3 -2.5 -0.6z" fill="#22ebaa"/>
<path d="M176.3 245.1l2.5 4.5 -1.5 -3.2 -2.5 -4.5z" fill="#c82803"/>
<path d="M204.4 303.4l2.5 7.0 -1.5 -2.2 -2.5 -7.2z" fill="#27eea4"/>
<path d="M254.4 305.6l2.4 2.3 -1.2 -2.0 -2.5 -2.4z" fill="#22ebaa"/>
<path d="M328.5 328.2l2.5 0.5 -1.3 -1.9 -2.5 -0.6z" fill="#4687fb"/>
<path d="M290.3 318.0l2.5 0.6 -1.3 -2.1 -2.5 -0.6z" fill="#23c3e4"/>
<path d="M275.0 329.1l2.4 3.2 -1.1 -1.6 -2.4 -3.2z" fill="#4773eb"/>
<path d="M226.2 287.6l2.5 0.7 -1.4 -2.4 -2.5 -0.7z" fill="#b4f836"/>
<path d="M215.9 334.7l2.5 6.3 -1.4 -1.6 -2.5 -6.4z" fill="#424bb5"/>
<path d="M252.2 307.4l2.5 0.6 -1.3 -2.3 -2.5 -0.6z" fill="#27eea4"/>
<path d="M326.0 327.6l2.5 0.5 -1.3 -1.9 -2.5 -0.6z" fill="#458cfd"/>
<path d="M287.9 317.4l2.5 0.6 -1.3 -2.1 -2.5 -0.6z" fill="#20c7df"/>
<path d="M223.7 287.1l2.5 0.5 -1.4 -2.4 -2.5 -0.5z" fill="#b9f635"/>
<path d="M190.4 270.7l2.5 5.1 -1.5 -2.9 -2.5 -5.1z" fill="#faba39"/>
<path d="M249.7 306.8l2.5 0.6 -1.3 -2.3 -2.5 -0.6z" fill="#2aefa1"/>
<path d="M252.0 303.4l2.4 2.2 -1.2 -2.0 -2.5 -2.2z" fill="#32f298"/>
<path d="M147.9 270.4l2.6 -8.8 -1.7 -2.9 -2.7 9.0z" fill="#fe962b"/>
<path d="M323.5 327.1l2.5 0.5 -1.3 -1.9 -2.5 -0.6z" fill="#448ffe"/>
<path d="M173.8 241.4l2.5 3.7 -1.5 -3.3 -2.5 -3.7z" fill="#af1801"/>
<path d="M285.4 316.9l2.5 0.6 -1.3 -2.1 -2.5 -0.6z" fill="#1fc9dd"/>
<path d="M272.6 326.0l2.4 3.1 -1.1 -1.7 -2.4 -3.1z" fill="#4687fb"/>
<path d="M221.3 286.8l2.5 0.3 -1.4 -2.5 -2.5 -0.3z" fill="#bcf534"/>
<path d="M247.3 306.3l2.5 0.6 -1.3 -2.3 -2.5 -0.6z" fill="#2ff19b"/>
<path d="M151.7 346.7l2.7 -5.4 -2.2 -1.4 -2.7 5.3z" fill="#36215f"/>
<path d="M139.1 318.4l2.6 -11.6 -1.8 -2.0 -2.6 11.8z" fill="#19d5cd"/>
<path d="M218.8 286.6l2.5 0.2 -1.5 -2.5 -2.5 -0.2z" fill="#bef434"/>
<path d="M321.1 326.5l2.5 0.5 -1.3 -1.9 -2.5 -0.6z" fill="#4294ff"/>
<path d="M282.9 316.3l2.5 0.6 -1.3 -2.1 -2.5 -0.6z" fill="#1ccdd8"/>
<path d="M249.5 301.4l2.4 2.0 -1.3 -2.1 -2.5 -2.1z" fill="#43f787"/>
<path d="M244.3 306.5l3.0 -0.2 -1.3 -2.3 -3.0 0.2z" fill="#2ff19b"/>
<path d="M201.9 296.5l2.5 6.9 -1.5 -2.4 -2.5 -7.1z" fill="#65fd69"/>
<path d="M154.4 341.3l2.7 -4.3 -2.1 -1.4 -2.7 4.3z" fill="#3f3e9c"/>
<path d="M213.4 327.8l2.5 6.9 -1.5 -1.7 -2.5 -7.0z" fill="#4776ee"/>
<path d="M216.4 286.6l2.5 0.0 -1.5 -2.5 -2.5 -0.0z" fill="#c1f334"/>
<path d="M150.5 261.6l2.6 -7.4 -1.6 -3.0 -2.7 7.6z" fill="#f15d13"/>
<path d="M187.9 266.1l2.5 4.5 -1.5 -3.0 -2.5 -4.6z" fill="#fe9b2d"/>
<path d="M318.6 326.0l2.5 0.5 -1.3 -2.0 -2.5 -0.6z" fill="#4196ff"/>
<path d="M270.2 323.1l2.4 3.0 -1.1 -1.7 -2.4 -3.0z" fill="#4099ff"/>
<path d="M171.3 238.9l2.5 2.4 -1.5 -3.4 -2.5 -2.5z" fill="#9b0f01"/>
<path d="M241.3 307.0l3.0 -0.5 -1.3 -2.3 -3.0 0.5z" fill="#2ff19b"/>
<path d="M280.5 315.8l2.5 0.6 -1.3 -2.2 -2.5 -0.6z" fill="#1bd0d5"/>
<path d="M157.1 337.0l2.7 -4.0 -2.1 -1.5 -2.7 4.1z" fill="#4456c7"/>
<path d="M193.3 347.0l3.0 -3.5 -1.7 -1.6 -3.0 3.6z" fill="#351e58"/>
<path d="M213.7 286.8l2.7 -0.2 -1.5 -2.5 -2.7 0.2z" fill="#c1f334"/>
<path d="M247.1 299.5l2.4 1.9 -1.3 -2.1 -2.5 -1.9z" fill="#55fa76"/>
<path d="M159.8 333.0l2.7 -3.9 -2.1 -1.5 -2.7 3.9z" fill="#476ee6"/>
<path d="M238.3 307.9l3.0 -0.8 -1.3 -2.3 -3.0 0.8z" fill="#2aefa1"/>
<path d="M196.3 343.5l3.0 -3.5 -1.6 -1.6 -3.0 3.6z" fill="#3d358b"/>
<path d="M316.2 325.5l2.5 0.5 -1.3 -2.0 -2.5 -0.6z" fill="#3e9bfe"/>
<path d="M278.0 315.2l2.5 0.6 -1.3 -2.2 -2.5 -0.6z" fill="#1ad4d0"/>
<path d="M199.3 340.0l3.0 -3.4 -1.6 -1.7 -3.0 3.5z" fill="#424bb5"/>
<path d="M162.5 329.2l2.7 -3.7 -2.1 -1.6 -2.7 3.8z" fill="#4685fa"/>
<path d="M235.3 309.0l3.0 -1.1 -1.3 -2.3 -3.0 1.1z" fill="#25eca7"/>
<path d="M211.0 287.2l2.7 -0.4 -1.5 -2.5 -2.7 0.4z" fill="#bef434"/>
<path d="M202.3 336.6l3.0 -3.3 -1.6 -1.8 -3.0 3.4z" fill="#4661d6"/>
<path d="M153.1 254.1l2.6 -6.6 -1.6 -3.2 -2.7 6.7z" fill="#d83706"/>
<path d="M168.8 236.9l2.5 2.1 -1.5 -3.4 -2.5 -2.1z" fill="#8b0902"/>
<path d="M232.3 310.4l3.0 -1.4 -1.4 -2.3 -3.0 1.4z" fill="#1fe9af"/>
<path d="M165.2 325.5l2.7 -3.6 -2.0 -1.7 -2.7 3.6z" fill="#3e9bfe"/>
<path d="M267.7 320.2l2.4 2.9 -1.1 -1.7 -2.4 -2.9z" fill="#35abf8"/>
<path d="M205.3 333.3l3.0 -3.2 -1.6 -1.9 -3.0 3.3z" fill="#4776ee"/>
<path d="M313.7 324.9l2.5 0.5 -1.3 -2.0 -2.5 -0.6z" fill="#3d9efe"/>
<path d="M208.3 287.9l2.7 -0.6 -1.6 -2.5 -2.7 0.7z" fill="#bcf534"/>
<path d="M275.6 314.7l2.5 0.6 -1.3 -2.2 -2.5 -0.6z" fill="#19d5cd"/>
<path d="M141.7 306.8l2.6 -12.0 -1.7 -2.3 -2.6 12.2z" fill="#52fa7a"/>
<path d="M244.7 297.8l2.4 1.7 -1.3 -2.2 -2.5 -1.8z" fill="#69fd66"/>
<path d="M229.3 312.0l3.0 -1.7 -1.4 -2.3 -3.0 1.7z" fill="#1ae4b6"/>
<path d="M208.3 330.0l3.0 -3.1 -1.5 -1.9 -3.0 3.2z" fill="#458afc"/>
<path d="M167.9 321.9l2.7 -3.4 -2.0 -1.7 -2.7 3.5z" fill="#31aff5"/>
<path d="M185.4 261.6l2.5 4.5 -1.5 -3.0 -2.5 -4.6z" fill="#fa7b1f"/>
<path d="M226.3 314.0l3.0 -1.9 -1.4 -2.2 -3.0 2.0z" fill="#18ddc2"/>
<path d="M211.3 326.9l3.0 -3.0 -1.5 -2.0 -3.0 3.0z" fill="#3e9bfe"/>
<path d="M205.6 288.8l2.7 -0.9 -1.6 -2.5 -2.7 0.9z" fill="#b7f735"/>
<path d="M214.3 323.9l3.0 -2.8 -1.5 -2.0 -3.0 2.9z" fill="#33adf7"/>
<path d="M223.3 316.1l3.0 -2.2 -1.4 -2.2 -3.0 2.2z" fill="#19d5cd"/>
<path d="M217.3 321.1l3.0 -2.6 -1.5 -2.1 -3.0 2.7z" fill="#28bceb"/>
<path d="M220.3 318.5l3.0 -2.4 -1.4 -2.1 -3.0 2.4z" fill="#1fc9dd"/>
<path d="M199.4 289.6l2.5 6.9 -1.5 -2.5 -2.5 -7.0z" fill="#a1fd3d"/>
<path d="M170.6 318.4l2.7 -3.3 -2.0 -1.8 -2.7 3.4z" fill="#23c3e4"/>
<path d="M155.8 247.5l2.6 -4.2 -1.6 -3.2 -2.6 4.3z" fill="#bc2002"/>
<path d="M311.2 324.4l2.5 0.5 -1.3 -2.0 -2.5 -0.6z" fill="#3aa3fc"/>
<path d="M285.7 343.9l2.4 3.5 -1.0 -1.5 -2.4 -3.5z" fill="#351e58"/>
<path d="M202.9 289.8l2.7 -1.1 -1.6 -2.4 -2.7 1.1z" fill="#b1f936"/>
<path d="M273.1 314.1l2.5 0.6 -1.3 -2.2 -2.5 -0.6z" fill="#18d9c8"/>
<path d="M166.2 235.9l2.5 1.0 -1.5 -3.4 -2.5 -1.0z" fill="#7e0502"/>
<path d="M173.3 315.1l2.7 -3.2 -1.9 -1.9 -2.7 3.2z" fill="#1ad4d0"/>
<path d="M210.9 320.0l2.5 7.8 -1.5 -1.8 -2.5 -8.0z" fill="#3aa3fc"/>
<path d="M200.2 291.2l2.7 -1.3 -1.6 -2.4 -2.7 1.4z" fill="#a9fb39"/>
<path d="M176.0 312.0l2.7 -3.0 -1.9 -1.9 -2.7 3.1z" fill="#18e0bd"/>
<path d="M242.2 296.2l2.4 1.6 -1.3 -2.2 -2.5 -1.6z" fill="#79fe59"/>
<path d="M158.4 243.3l2.6 -3.9 -1.6 -3.3 -2.6 3.9z" fill="#a41301"/>
<path d="M197.5 292.7l2.7 -1.5 -1.7 -2.4 -2.7 1.6z" fill="#a1fd3d"/>
<path d="M178.7 308.9l2.7 -2.9 -1.9 -2.0 -2.7 2.9z" fill="#20eaac"/>
<path d="M265.3 317.4l2.4 2.8 -1.2 -1.8 -2.4 -2.8z" fill="#28bceb"/>
<path d="M163.6 237.2l2.6 -1.3 -1.5 -3.4 -2.6 1.4z" fill="#810602"/>
<path d="M308.8 323.9l2.5 0.5 -1.3 -2.0 -2.5 -0.6z" fill="#38a5fb"/>
<path d="M194.8 294.4l2.7 -1.7 -1.7 -2.3 -2.7 1.8z" fill="#96fe44"/>
<path d="M181.4 306.1l2.7 -2.7 -1.9 -2.1 -2.7 2.8z" fill="#32f298"/>
<path d="M161.0 239.5l2.6 -2.2 -1.5 -3.3 -2.6 2.3z" fill="#8e0a01"/>
<path d="M270.7 313.6l2.5 0.6 -1.3 -2.2 -2.5 -0.6z" fill="#18dbc5"/>
<path d="M184.1 303.4l2.7 -2.5 -1.8 -2.1 -2.7 2.6z" fill="#46f884"/>
<path d="M192.2 296.4l2.7 -1.9 -1.7 -2.3 -2.7 2.0z" fill="#84ff51"/>
<path d="M186.8 300.9l2.7 -2.3 -1.8 -2.2 -2.7 2.4z" fill="#5dfc6f"/>
<path d="M189.5 298.5l2.7 -2.1 -1.8 -2.2 -2.7 2.2z" fill="#71fe5f"/>
<path d="M133.1 347.2l2.6 -9.1 -1.8 -1.6 -2.6 9.1z" fill="#3b2f80"/>
<path d="M239.8 294.8l2.4 1.4 -1.3 -2.3 -2.5 -1.5z" fill="#88ff4e"/>
<path d="M306.3 323.3l2.5 0.5 -1.3 -2.0 -2.5 -0.6z" fill="#35abf8"/>
<path d="M182.9 257.2l2.5 4.5 -1.5 -3.1 -2.5 -4.5z" fill="#f15d13"/>
<path d="M268.2 313.0l2.5 0.6 -1.3 -2.2 -2.5 -0.6z" fill="#18dec0"/>
<path d="M283.3 340.5l2.4 3.4 -1.0 -1.5 -2.4 -3.4z" fill="#3d358b"/>
<path d="M262.9 314.8l2.4 2.6 -1.2 -1.8 -2.4 -2.7z" fill="#1ecbda"/>
<path d="M144.3 294.8l2.6 -11.3 -1.7 -2.5 -2.6 11.5z" fill="#b1f936"/>
<path d="M303.9 322.8l2.5 0.5 -1.3 -2.0 -2.5 -0.6z" fill="#33adf7"/>
<path d="M196.9 284.0l2.5 5.6 -1.5 -2.7 -2.5 -5.7z" fill="#c8ef34"/>
<path d="M265.7 312.5l2.5 0.6 -1.3 -2.2 -2.5 -0.6z" fill="#18e0bd"/>
<path d="M237.4 293.5l2.4 1.3 -1.3 -2.3 -2.5 -1.3z" fill="#92ff47"/>
<path d="M301.4 322.2l2.5 0.5 -1.3 -2.0 -2.5 -0.6z" fill="#2fb2f4"/>
<path d="M208.4 312.6l2.5 7.4 -1.5 -2.0 -2.5 -7.6z" fill="#1bd0d5"/>
<path d="M263.3 311.9l2.5 0.6 -1.3 -2.3 -2.5 -0.6z" fill="#19e3b9"/>
<path d="M280.9 337.2l2.4 3.3 -1.1 -1.6 -2.4 -3.4z" fill="#4249b1"/>
<path d="M260.5 312.3l2.4 2.5 -1.2 -1.9 -2.4 -2.6z" fill="#18d7ca"/>
<path d="M135.7 338.2l2.6 -9.0 -1.8 -1.7 -2.6 9.1z" fill="#4669e0"/>
<path d="M234.9 292.4l2.4 1.1 -1.4 -2.3 -2.5 -1.1z" fill="#9ffd3f"/>
<path d="M180.3 252.8l2.5 4.4 -1.5 -3.2 -2.5 -4.5z" fill="#e2430a"/>
<path d="M299.0 321.7l2.5 0.5 -1.3 -2.1 -2.5 -0.6z" fill="#2eb4f2"/>
<path d="M337.1 331.6l2.5 0.5 -1.3 -1.9 -2.5 -0.5z" fill="#477bf2"/>
<path d="M260.8 311.4l2.5 0.6 -1.3 -2.3 -2.5 -0.6z" fill="#1ae4b6"/>
<path d="M219.8 342.5l2.5 5.3 -1.4 -1.5 -2.5 -5.3z" fill="#372466"/>
<path d="M232.5 291.5l2.4 0.9 -1.4 -2.4 -2.5 -1.0z" fill="#a4fc3c"/>
<path d="M194.4 278.6l2.5 5.4 -1.5 -2.8 -2.5 -5.5z" fill="#e5d938"/>
<path d="M296.5 321.2l2.5 0.5 -1.3 -2.1 -2.5 -0.6z" fill="#2ab9ee"/>
<path d="M334.6 331.1l2.5 0.5 -1.3 -1.9 -2.5 -0.5z" fill="#4680f6"/>
<path d="M258.4 310.8l2.5 0.6 -1.3 -2.3 -2.5 -0.6z" fill="#1de7b2"/>
<path d="M258.1 309.9l2.4 2.4 -1.2 -1.9 -2.4 -2.4z" fill="#19e2bb"/>
<path d="M146.9 283.5l2.6 -10.5 -1.7 -2.7 -2.6 10.7z" fill="#ecd13a"/>
<path d="M278.5 333.9l2.4 3.2 -1.1 -1.6 -2.4 -3.3z" fill="#455ed3"/>
<path d="M230.1 290.7l2.4 0.8 -1.4 -2.4 -2.5 -0.8z" fill="#acfb38"/>
<path d="M294.0 320.6l2.5 0.5 -1.3 -2.1 -2.5 -0.6z" fill="#28bceb"/>
<path d="M332.2 330.6l2.5 0.5 -1.3 -1.9 -2.5 -0.5z" fill="#4682f8"/>
<path d="M177.8 248.4l2.5 4.4 -1.5 -3.2 -2.5 -4.5z" fill="#ce2d04"/>
<path d="M255.9 310.3l2.5 0.6 -1.3 -2.3 -2.5 -0.6z" fill="#1fe9af"/>
<path d="M138.3 329.1l2.6 -9.0 -1.8 -1.8 -2.6 9.1z" fill="#3e9bfe"/>
<path d="M205.9 305.7l2.5 6.8 -1.5 -2.2 -2.5 -7.0z" fill="#25eca7"/>
<path d="M255.7 307.6l2.4 2.3 -1.2 -2.0 -2.4 -2.3z" fill="#20eaac"/>
<path d="M227.6 290.0l2.4 0.6 -1.4 -2.4 -2.5 -0.7z" fill="#b1f936"/>
<path d="M291.6 320.1l2.5 0.5 -1.3 -2.1 -2.5 -0.6z" fill="#25c0e7"/>
<path d="M329.7 330.1l2.5 0.5 -1.3 -1.9 -2.5 -0.5z" fill="#4685fa"/>
<path d="M253.4 309.7l2.5 0.6 -1.3 -2.3 -2.5 -0.6z" fill="#22ebaa"/>
<path d="M276.1 330.8l2.4 3.1 -1.1 -1.6 -2.4 -3.2z" fill="#4773eb"/>
<path d="M217.3 336.3l2.5 6.2 -1.4 -1.6 -2.5 -6.3z" fill="#424bb5"/>
<path d="M191.9 273.6l2.5 5.0 -1.5 -2.9 -2.5 -5.1z" fill="#f8be39"/>
<path d="M225.2 289.6l2.4 0.5 -1.4 -2.4 -2.5 -0.5z" fill="#b4f836"/>
<path d="M289.1 319.6l2.5 0.5 -1.3 -2.1 -2.5 -0.6z" fill="#23c3e4"/>
<path d="M327.3 329.5l2.5 0.5 -1.3 -1.9 -2.5 -0.5z" fill="#458afc"/>
<path d="M149.6 273.1l2.6 -8.6 -1.7 -2.9 -2.6 8.8z" fill="#fe9b2d"/>
<path d="M251.0 309.2l2.5 0.6 -1.3 -2.3 -2.5 -0.6z" fill="#27eea4"/>
<path d="M175.3 244.8l2.5 3.6 -1.5 -3.3 -2.5 -3.7z" fill="#b71d02"/>
<path d="M253.2 305.5l2.4 2.1 -1.2 -2.0 -2.4 -2.2z" fill="#2ff19b"/>
<path d="M222.7 289.3l2.4 0.3 -1.4 -2.5 -2.5 -0.3z" fill="#b9f635"/>
<path d="M286.7 319.0l2.5 0.5 -1.3 -2.1 -2.5 -0.6z" fill="#20c7df"/>
<path d="M324.8 329.0l2.5 0.5 -1.3 -1.9 -2.5 -0.5z" fill="#458cfd"/>
<path d="M248.5 308.6l2.5 0.6 -1.3 -2.3 -2.5 -0.6z" fill="#2aefa1"/>
<path d="M273.7 327.7l2.4 3.0 -1.1 -1.7 -2.4 -3.1z" fill="#4685fa"/>
<path d="M140.9 320.2l2.6 -11.4 -1.8 -2.0 -2.6 11.6z" fill="#19d5cd"/>
<path d="M153.9 348.2l2.7 -5.4 -2.2 -1.4 -2.7 5.4z" fill="#36215f"/>
<path d="M220.3 289.1l2.4 0.2 -1.5 -2.5 -2.5 -0.2z" fill="#b9f635"/>
<path d="M284.2 318.5l2.5 0.5 -1.3 -2.1 -2.5 -0.6z" fill="#1fc9dd"/>
<path d="M322.3 328.5l2.5 0.5 -1.3 -1.9 -2.5 -0.5z" fill="#4391fe"/>
<path d="M250.8 303.5l2.4 2.0 -1.3 -2.1 -2.4 -2.0z" fill="#3ff68a"/>
<path d="M203.4 299.0l2.5 6.8 -1.5 -2.4 -2.5 -6.9z" fill="#5dfc6f"/>
<path d="M245.6 308.8l3.0 -0.2 -1.3 -2.3 -3.0 0.2z" fill="#2cf09e"/>
<path d="M156.6 342.7l2.7 -4.2 -2.1 -1.4 -2.7 4.3z" fill="#3f3e9c"/>
<path d="M152.2 264.5l2.6 -7.3 -1.6 -3.0 -2.6 7.4z" fill="#f36315"/>
<path d="M172.8 242.3l2.5 2.4 -1.5 -3.4 -2.5 -2.4z" fill="#a41301"/>
<path d="M189.4 269.1l2.5 4.5 -1.5 -3.0 -2.5 -4.5z" fill="#fea431"/>
<path d="M217.9 289.1l2.4 0.0 -1.5 -2.5 -2.5 -0.0z" fill="#bcf534"/>
<path d="M214.8 329.6l2.5 6.7 -1.5 -1.7 -2.5 -6.9z" fill="#4773eb"/>
<path d="M242.6 309.4l3.0 -0.5 -1.3 -2.3 -3.0 0.5z" fill="#2aefa1"/>
<path d="M319.9 328.0l2.5 0.5 -1.3 -2.0 -2.5 -0.5z" fill="#4294ff"/>
<path d="M159.3 338.5l2.7 -4.0 -2.1 -1.5 -2.7 4.0z" fill="#4456c7"/>
<path d="M281.7 317.9l2.5 0.5 -1.3 -2.2 -2.5 -0.6z" fill="#1ccdd8"/>
<path d="M271.3 324.8l2.4 2.9 -1.1 -1.7 -2.4 -3.0z" fill="#4099ff"/>
<path d="M215.2 289.3l2.7 -0.2 -1.5 -2.5 -2.7 0.2z" fill="#bcf534"/>
<path d="M248.4 301.7l2.4 1.8 -1.3 -2.1 -2.4 -1.9z" fill="#52fa7a"/>
<path d="M195.0 348.5l3.0 -3.4 -1.7 -1.6 -3.0 3.5z" fill="#351e58"/>
<path d="M239.6 310.2l3.0 -0.8 -1.3 -2.3 -3.0 0.8z" fill="#25eca7"/>
<path d="M161.9 334.5l2.7 -3.8 -2.1 -1.5 -2.7 3.9z" fill="#476ee6"/>
<path d="M198.0 345.1l3.0 -3.4 -1.6 -1.6 -3.0 3.5z" fill="#3d358b"/>
<path d="M317.4 327.4l2.5 0.5 -1.3 -2.0 -2.5 -0.5z" fill="#4099ff"/>
<path d="M279.3 317.4l2.5 0.5 -1.3 -2.2 -2.5 -0.6z" fill="#1bd0d5"/>
<path d="M212.5 289.7l2.7 -0.4 -1.5 -2.5 -2.7 0.4z" fill="#b9f635"/>
<path d="M170.3 240.3l2.5 2.0 -1.5 -3.4 -2.5 -2.1z" fill="#950d01"/>
<path d="M154.8 257.2l2.6 -6.4 -1.6 -3.2 -2.6 6.6z" fill="#dd3d08"/>
<path d="M236.6 311.3l3.0 -1.1 -1.3 -2.3 -3.0 1.1z" fill="#20eaac"/>
<path d="M164.6 330.7l2.7 -3.6 -2.1 -1.6 -2.7 3.7z" fill="#4685fa"/>
<path d="M200.9 341.7l3.0 -3.4 -1.6 -1.7 -3.0 3.4z" fill="#424bb5"/>
<path d="M203.9 338.3l3.0 -3.3 -1.6 -1.8 -3.0 3.3z" fill="#4661d6"/>
<path d="M233.7 312.6l3.0 -1.4 -1.4 -2.3 -3.0 1.4z" fill="#1de7b2"/>
<path d="M209.9 290.3l2.7 -0.6 -1.6 -2.5 -2.7 0.6z" fill="#b7f735"/>
<path d="M167.3 327.1l2.7 -3.5 -2.0 -1.7 -2.7 3.6z" fill="#3e9bfe"/>
<path d="M143.5 308.8l2.6 -11.7 -1.7 -2.3 -2.6 12.0z" fill="#4af880"/>
<path d="M206.9 335.1l3.0 -3.2 -1.6 -1.9 -3.0 3.2z" fill="#4776ee"/>
<path d="M186.9 264.7l2.5 4.4 -1.5 -3.0 -2.5 -4.5z" fill="#fc8423"/>
<path d="M315.0 326.9l2.5 0.5 -1.3 -2.0 -2.5 -0.5z" fill="#3e9bfe"/>
<path d="M276.8 316.9l2.5 0.5 -1.3 -2.2 -2.5 -0.6z" fill="#1ad4d0"/>
<path d="M230.7 314.3l3.0 -1.6 -1.4 -2.3 -3.0 1.7z" fill="#19e2bb"/>
<path d="M246.0 300.0l2.4 1.7 -1.3 -2.2 -2.4 -1.7z" fill="#61fc6c"/>
<path d="M268.9 322.0l2.4 2.8 -1.1 -1.7 -2.4 -2.9z" fill="#35abf8"/>
<path d="M209.9 331.9l3.0 -3.1 -1.5 -1.9 -3.0 3.1z" fill="#4687fb"/>
<path d="M169.9 323.5l2.7 -3.4 -2.0 -1.7 -2.7 3.4z" fill="#31aff5"/>
<path d="M207.2 291.2l2.7 -0.9 -1.6 -2.5 -2.7 0.9z" fill="#b1f936"/>
<path d="M227.7 316.1l3.0 -1.9 -1.4 -2.2 -3.0 1.9z" fill="#18dbc5"/>
<path d="M157.4 250.7l2.6 -4.1 -1.6 -3.2 -2.6 4.2z" fill="#c32503"/>
<path d="M212.8 328.8l3.0 -2.9 -1.5 -2.0 -3.0 3.0z" fill="#4099ff"/>
<path d="M167.8 239.3l2.5 1.0 -1.5 -3.4 -2.5 -1.0z" fill="#880802"/>
<path d="M200.9 292.3l2.5 6.7 -1.5 -2.5 -2.5 -6.9z" fill="#9cfe40"/>
<path d="M224.7 318.3l3.0 -2.1 -1.4 -2.2 -3.0 2.2z" fill="#1ad2d2"/>
<path d="M215.8 325.9l3.0 -2.7 -1.5 -2.0 -3.0 2.8z" fill="#35abf8"/>
<path d="M221.8 320.6l3.0 -2.3 -1.4 -2.1 -3.0 2.4z" fill="#20c7df"/>
<path d="M218.8 323.2l3.0 -2.6 -1.5 -2.1 -3.0 2.6z" fill="#2ab9ee"/>
<path d="M172.6 320.2l2.7 -3.2 -2.0 -1.8 -2.7 3.3z" fill="#23c3e4"/>
<path d="M204.6 292.3l2.7 -1.1 -1.6 -2.4 -2.7 1.1z" fill="#acfb38"/>
<path d="M312.5 326.4l2.5 0.5 -1.3 -2.0 -2.5 -0.5z" fill="#3ba0fd"/>
<path d="M274.4 316.3l2.5 0.5 -1.3 -2.2 -2.5 -0.6z" fill="#19d5cd"/>
<path d="M175.3 316.9l2.7 -3.1 -1.9 -1.9 -2.7 3.2z" fill="#1ad2d2"/>
<path d="M160.0 246.6l2.6 -3.8 -1.6 -3.3 -2.6 3.9z" fill="#ac1701"/>
<path d="M201.9 293.5l2.7 -1.3 -1.6 -2.4 -2.7 1.3z" fill="#a4fc3c"/>
<path d="M212.3 322.0l2.5 7.6 -1.5 -1.8 -2.5 -7.8z" fill="#3ba0fd"/>
<path d="M165.2 240.6l2.6 -1.3 -1.5 -3.4 -2.6 1.3z" fill="#8b0902"/>
<path d="M286.7 345.5l2.4 3.5 -1.0 -1.5 -2.4 -3.5z" fill="#351e58"/>
<path d="M177.9 313.8l2.7 -2.9 -1.9 -1.9 -2.7 3.0z" fill="#18e0bd"/>
<path d="M162.6 242.8l2.6 -2.2 -1.5 -3.3 -2.6 2.2z" fill="#980e01"/>
<path d="M243.6 298.5l2.4 1.5 -1.3 -2.2 -2.4 -1.6z" fill="#75fe5c"/>
<path d="M199.2 295.0l2.7 -1.5 -1.7 -2.4 -2.7 1.5z" fill="#9cfe40"/>
<path d="M180.6 310.9l2.7 -2.8 -1.9 -2.0 -2.7 2.9z" fill="#20eaac"/>
<path d="M196.6 296.7l2.7 -1.7 -1.7 -2.3 -2.7 1.7z" fill="#8fff49"/>
<path d="M183.3 308.1l2.7 -2.6 -1.9 -2.1 -2.7 2.7z" fill="#2ff19b"/>
<path d="M193.9 298.6l2.7 -1.9 -1.7 -2.3 -2.7 1.9z" fill="#80ff53"/>
<path d="M266.5 319.3l2.4 2.7 -1.2 -1.8 -2.4 -2.8z" fill="#2ab9ee"/>
<path d="M185.9 305.5l2.7 -2.5 -1.8 -2.1 -2.7 2.5z" fill="#43f787"/>
<path d="M191.3 300.7l2.7 -2.1 -1.8 -2.2 -2.7 2.1z" fill="#6dfe62"/>
<path d="M310.1 325.9l2.5 0.5 -1.3 -2.0 -2.5 -0.5z" fill="#3aa3fc"/>
<path d="M188.6 303.0l2.7 -2.3 -1.8 -2.2 -2.7 2.3z" fill="#59fb73"/>
<path d="M271.9 315.8l2.5 0.5 -1.3 -2.2 -2.5 -0.6z" fill="#18d9c8"/>
<path d="M184.4 260.3l2.5 4.4 -1.5 -3.1 -2.5 -4.5z" fill="#f36315"/>
<path d="M241.2 297.1l2.4 1.4 -1.3 -2.3 -2.4 -1.4z" fill="#80ff53"/>
<path d="M135.0 348.7l2.6 -9.0 -1.8 -1.6 -2.6 9.1z" fill="#3b2f80"/>
<path d="M307.6 325.4l2.5 0.5 -1.3 -2.0 -2.5 -0.5z" fill="#37a8fa"/>
<path d="M269.5 315.3l2.5 0.5 -1.3 -2.2 -2.5 -0.6z" fill="#18dbc5"/>
<path d="M284.4 342.1l2.4 3.4 -1.0 -1.5 -2.4 -3.4z" fill="#3d358b"/>
<path d="M146.1 297.1l2.6 -11.0 -1.7 -2.5 -2.6 11.3z" fill="#acfb38"/>
<path d="M198.4 286.8l2.5 5.5 -1.5 -2.7 -2.5 -5.6z" fill="#c3f134"/>
<path d="M264.1 316.7l2.4 2.6 -1.2 -1.8 -2.4 -2.6z" fill="#1fc9dd"/>
<path d="M305.1 324.8l2.5 0.5 -1.3 -2.0 -2.5 -0.5z" fill="#35abf8"/>
<path d="M267.0 314.7l2.5 0.5 -1.3 -2.2 -2.5 -0.6z" fill="#18dec0"/>
<path d="M238.7 295.8l2.4 1.2 -1.3 -2.3 -2.4 -1.3z" fill="#8fff49"/>
<path d="M209.8 314.8l2.5 7.2 -1.5 -2.0 -2.5 -7.4z" fill="#1ccdd8"/>
<path d="M302.7 324.3l2.5 0.5 -1.3 -2.0 -2.5 -0.5z" fill="#31aff5"/>
<path d="M181.8 256.0l2.5 4.3 -1.5 -3.2 -2.5 -4.4z" fill="#e7490c"/>
<path d="M264.5 314.2l2.5 0.5 -1.3 -2.3 -2.5 -0.6z" fill="#18e0bd"/>
<path d="M236.3 294.8l2.4 1.1 -1.4 -2.3 -2.4 -1.1z" fill="#99fe42"/>
<path d="M282.0 338.8l2.4 3.3 -1.1 -1.6 -2.4 -3.3z" fill="#4249b1"/>
<path d="M137.5 339.7l2.6 -8.9 -1.8 -1.7 -2.6 9.0z" fill="#4666dd"/>
<path d="M261.7 314.2l2.4 2.5 -1.2 -1.9 -2.4 -2.5z" fill="#19d5cd"/>
<path d="M300.2 323.8l2.5 0.5 -1.3 -2.1 -2.5 -0.5z" fill="#2fb2f4"/>
<path d="M262.1 313.6l2.5 0.5 -1.3 -2.3 -2.5 -0.6z" fill="#19e3b9"/>
<path d="M338.4 333.5l2.5 0.5 -1.3 -1.9 -2.5 -0.5z" fill="#4778f0"/>
<path d="M221.2 344.1l2.5 5.2 -1.4 -1.5 -2.5 -5.3z" fill="#372466"/>
<path d="M233.9 293.8l2.4 0.9 -1.4 -2.4 -2.4 -0.9z" fill="#a1fd3d"/>
<path d="M195.9 281.4l2.5 5.3 -1.5 -2.8 -2.5 -5.4z" fill="#e1dd37"/>
<path d="M148.6 286.0l2.6 -10.2 -1.7 -2.7 -2.6 10.5z" fill="#e9d539"/>
<path d="M297.8 323.3l2.5 0.5 -1.3 -2.1 -2.5 -0.5z" fill="#2cb7f0"/>
<path d="M259.6 313.1l2.5 0.5 -1.3 -2.3 -2.5 -0.6z" fill="#1ae4b6"/>
<path d="M335.9 333.0l2.5 0.5 -1.3 -1.9 -2.5 -0.5z" fill="#467df4"/>
<path d="M259.3 311.8l2.4 2.3 -1.2 -1.9 -2.4 -2.4z" fill="#18e0bd"/>
<path d="M279.6 335.6l2.4 3.2 -1.1 -1.6 -2.4 -3.2z" fill="#455ed3"/>
<path d="M179.3 251.7l2.5 4.3 -1.5 -3.2 -2.5 -4.4z" fill="#d43305"/>
<path d="M231.5 293.1l2.4 0.8 -1.4 -2.4 -2.4 -0.8z" fill="#a7fc3a"/>
<path d="M295.3 322.7l2.5 0.5 -1.3 -2.1 -2.5 -0.5z" fill="#2ab9ee"/>
<path d="M257.2 312.6l2.5 0.5 -1.3 -2.3 -2.5 -0.6z" fill="#1de7b2"/>
<path d="M333.4 332.5l2.5 0.5 -1.3 -1.9 -2.5 -0.5z" fill="#4680f6"/>
<path d="M140.1 330.8l2.6 -8.9 -1.8 -1.8 -2.6 9.0z" fill="#3e9bfe"/>
<path d="M207.3 308.1l2.5 6.7 -1.5 -2.2 -2.5 -6.8z" fill="#20eaac"/>
<path d="M229.1 292.5l2.4 0.6 -1.4 -2.4 -2.4 -0.6z" fill="#acfb38"/>
<path d="M256.9 309.6l2.4 2.2 -1.2 -2.0 -2.4 -2.3z" fill="#1fe9af"/>
<path d="M292.8 322.2l2.5 0.5 -1.3 -2.1 -2.5 -0.5z" fill="#27bee9"/>
<path d="M254.7 312.0l2.5 0.5 -1.3 -2.3 -2.5 -0.6z" fill="#1fe9af"/>
<path d="M331.0 332.0l2.5 0.5 -1.3 -1.9 -2.5 -0.5z" fill="#4685fa"/>
<path d="M193.4 276.6l2.5 4.9 -1.5 -2.9 -2.5 -5.0z" fill="#f5c53a"/>
<path d="M218.8 338.0l2.5 6.0 -1.4 -1.6 -2.5 -6.2z" fill="#4249b1"/>
<path d="M277.2 332.5l2.4 3.1 -1.1 -1.6 -2.4 -3.1z" fill="#4773eb"/>
<path d="M151.2 275.8l2.6 -8.5 -1.7 -2.9 -2.6 8.6z" fill="#fea431"/>
<path d="M226.6 292.0l2.4 0.5 -1.4 -2.4 -2.4 -0.5z" fill="#b1f936"/>
<path d="M176.8 248.1l2.5 3.6 -1.5 -3.3 -2.5 -3.6z" fill="#c12302"/>
<path d="M290.4 321.7l2.5 0.5 -1.3 -2.1 -2.5 -0.5z" fill="#25c0e7"/>
<path d="M252.2 311.5l2.5 0.5 -1.3 -2.3 -2.5 -0.6z" fill="#22ebaa"/>
<path d="M328.5 331.5l2.5 0.5 -1.3 -1.9 -2.5 -0.5z" fill="#4687fb"/>
<path d="M254.5 307.6l2.4 2.1 -1.2 -2.0 -2.4 -2.1z" fill="#2cf09e"/>
<path d="M224.2 291.7l2.4 0.3 -1.4 -2.5 -2.4 -0.3z" fill="#b4f836"/>
<path d="M287.9 321.2l2.5 0.5 -1.3 -2.1 -2.5 -0.5z" fill="#22c5e2"/>
<path d="M249.8 311.0l2.5 0.5 -1.3 -2.3 -2.5 -0.6z" fill="#25eca7"/>
<path d="M326.1 331.0l2.5 0.5 -1.3 -1.9 -2.5 -0.5z" fill="#458cfd"/>
<path d="M142.7 321.9l2.6 -11.1 -1.8 -2.0 -2.6 11.4z" fill="#1ad4d0"/>
<path d="M156.1 349.6l2.6 -5.5 -2.2 -1.4 -2.7 5.4z" fill="#36215f"/>
<path d="M274.8 329.4l2.4 3.0 -1.1 -1.7 -2.4 -3.0z" fill="#4685fa"/>
<path d="M221.8 291.6l2.4 0.1 -1.5 -2.5 -2.4 -0.2z" fill="#b4f836"/>
<path d="M174.3 245.7l2.5 2.4 -1.5 -3.4 -2.5 -2.4z" fill="#ac1701"/>
<path d="M153.8 267.4l2.6 -7.2 -1.6 -3.0 -2.6 7.3z" fill="#f66c19"/>
<path d="M204.8 301.5l2.5 6.6 -1.5 -2.4 -2.5 -6.8z" fill="#55fa76"/>
<path d="M285.5 320.6l2.5 0.5 -1.3 -2.1 -2.5 -0.5z" fill="#20c7df"/>
<path d="M246.8 311.2l2.9 -0.2 -1.3 -2.3 -3.0 0.2z" fill="#27eea4"/>
<path d="M190.9 272.2l2.5 4.4 -1.5 -3.0 -2.5 -4.5z" fill="#fea933"/>
<path d="M252.1 305.6l2.4 1.9 -1.3 -2.1 -2.4 -2.0z" fill="#3cf58e"/>
<path d="M323.6 330.4l2.5 0.5 -1.3 -1.9 -2.5 -0.5z" fill="#448ffe"/>
<path d="M158.8 344.1l2.6 -4.2 -2.1 -1.4 -2.7 4.2z" fill="#3f3e9c"/>
<path d="M219.4 291.6l2.4 0.0 -1.5 -2.5 -2.4 -0.0z" fill="#b7f735"/>
<path d="M216.3 331.4l2.5 6.6 -1.5 -1.7 -2.5 -6.7z" fill="#4773eb"/>
<path d="M243.9 311.7l2.9 -0.5 -1.3 -2.3 -3.0 0.5z" fill="#25eca7"/>
<path d="M161.4 339.9l2.6 -3.9 -2.1 -1.5 -2.7 4.0z" fill="#4559cb"/>
<path d="M283.0 320.1l2.5 0.5 -1.3 -2.2 -2.5 -0.5z" fill="#1fc9dd"/>
<path d="M321.2 329.9l2.5 0.5 -1.3 -2.0 -2.5 -0.5z" fill="#4391fe"/>
<path d="M216.7 291.8l2.6 -0.2 -1.5 -2.5 -2.7 0.2z" fill="#b7f735"/>
<path d="M272.5 326.5l2.4 2.9 -1.1 -1.7 -2.4 -2.9z" fill="#4196ff"/>
<path d="M240.9 312.5l2.9 -0.8 -1.3 -2.3 -3.0 0.8z" fill="#22ebaa"/>
<path d="M171.8 243.7l2.5 2.0 -1.5 -3.4 -2.5 -2.0z" fill="#9e1001"/>
<path d="M249.7 303.8l2.4 1.8 -1.3 -2.1 -2.4 -1.8z" fill="#4af880"/>
<path d="M164.0 336.0l2.6 -3.7 -2.1 -1.5 -2.7 3.8z" fill="#476ee6"/>
<path d="M156.4 260.2l2.6 -6.3 -1.6 -3.2 -2.6 6.4z" fill="#e2430a"/>
<path d="M196.7 350.0l3.0 -3.4 -1.7 -1.6 -3.0 3.4z" fill="#351e58"/>
<path d="M214.1 292.2l2.6 -0.4 -1.5 -2.5 -2.7 0.4z" fill="#b4f836"/>
<path d="M280.6 319.6l2.5 0.5 -1.3 -2.2 -2.5 -0.5z" fill="#1ccdd8"/>
<path d="M199.6 346.7l3.0 -3.3 -1.6 -1.6 -3.0 3.4z" fill="#3d358b"/>
<path d="M318.7 329.4l2.5 0.5 -1.3 -2.0 -2.5 -0.5z" fill="#4196ff"/>
<path d="M238.0 313.6l2.9 -1.1 -1.3 -2.3 -3.0 1.1z" fill="#1fe9af"/>
<path d="M166.7 332.2l2.6 -3.6 -2.1 -1.6 -2.7 3.6z" fill="#4685fa"/>
<path d="M202.6 343.3l3.0 -3.3 -1.6 -1.7 -3.0 3.4z" fill="#424bb5"/>
<path d="M211.5 292.8l2.6 -0.6 -1.6 -2.5 -2.7 0.6z" fill="#b1f936"/>
<path d="M188.4 267.8l2.5 4.3 -1.5 -3.0 -2.5 -4.4z" fill="#fd8d27"/>
<path d="M235.0 314.9l2.9 -1.3 -1.4 -2.3 -3.0 1.4z" fill="#1ae4b6"/>
<path d="M205.5 340.1l3.0 -3.2 -1.6 -1.8 -3.0 3.3z" fill="#455ed3"/>
<path d="M169.3 328.6l2.6 -3.4 -2.0 -1.7 -2.7 3.5z" fill="#4099ff"/>
<path d="M145.2 310.8l2.6 -11.5 -1.7 -2.3 -2.6 11.7z" fill="#46f884"/>
<path d="M159.0 253.9l2.6 -4.1 -1.6 -3.2 -2.6 4.1z" fill="#ca2a04"/>
<path d="M169.3 242.7l2.5 1.0 -1.5 -3.4 -2.5 -1.0z" fill="#950d01"/>
<path d="M208.5 336.8l3.0 -3.1 -1.6 -1.9 -3.0 3.2z" fill="#4773eb"/>
<path d="M232.1 316.5l3.0 -1.6 -1.4 -2.3 -3.0 1.6z" fill="#18e0bd"/>
<path d="M278.1 319.1l2.5 0.5 -1.3 -2.2 -2.5 -0.5z" fill="#1bd0d5"/>
<path d="M247.3 302.2l2.4 1.6 -1.3 -2.2 -2.4 -1.7z" fill="#5dfc6f"/>
<path d="M316.2 328.9l2.5 0.5 -1.3 -2.0 -2.5 -0.5z" fill="#4099ff"/>
<path d="M208.8 293.6l2.6 -0.8 -1.6 -2.5 -2.7 0.9z" fill="#affa37"/>
<path d="M172.0 325.2l2.6 -3.3 -2.0 -1.7 -2.7 3.4z" fill="#33adf7"/>
<path d="M211.4 333.7l3.0 -3.0 -1.5 -1.9 -3.0 3.1z" fill="#4685fa"/>
<path d="M270.1 323.8l2.4 2.8 -1.1 -1.7 -2.4 -2.8z" fill="#37a8fa"/>
<path d="M229.1 318.3l3.0 -1.8 -1.4 -2.2 -3.0 1.9z" fill="#18d9c8"/>
<path d="M202.3 294.9l2.5 6.5 -1.5 -2.5 -2.5 -6.7z" fill="#92ff47"/>
<path d="M214.4 330.7l3.0 -2.8 -1.5 -2.0 -3.0 2.9z" fill="#4196ff"/>
<path d="M226.2 320.4l3.0 -2.1 -1.4 -2.2 -3.0 2.1z" fill="#1bd0d5"/>
<path d="M217.3 327.9l3.0 -2.7 -1.5 -2.0 -3.0 2.7z" fill="#37a8fa"/>
<path d="M223.2 322.7l3.0 -2.3 -1.4 -2.1 -3.0 2.3z" fill="#22c5e2"/>
<path d="M161.6 249.8l2.6 -3.7 -1.6 -3.3 -2.6 3.8z" fill="#b41b01"/>
<path d="M206.2 294.7l2.6 -1.0 -1.6 -2.4 -2.7 1.1z" fill="#a7fc3a"/>
<path d="M220.3 325.2l3.0 -2.5 -1.5 -2.1 -3.0 2.6z" fill="#2cb7f0"/>
<path d="M174.6 321.9l2.6 -3.2 -2.0 -1.8 -2.7 3.2z" fill="#25c0e7"/>
<path d="M166.7 243.9l2.6 -1.3 -1.5 -3.4 -2.6 1.3z" fill="#950d01"/>
<path d="M164.1 246.1l2.6 -2.1 -1.5 -3.3 -2.6 2.2z" fill="#a11201"/>
<path d="M177.2 318.7l2.6 -3.0 -1.9 -1.9 -2.7 3.1z" fill="#1ad2d2"/>
<path d="M203.6 295.9l2.6 -1.3 -1.6 -2.4 -2.7 1.3z" fill="#a1fd3d"/>
<path d="M275.6 318.5l2.5 0.5 -1.3 -2.2 -2.5 -0.5z" fill="#1ad4d0"/>
<path d="M313.8 328.4l2.5 0.5 -1.3 -2.0 -2.5 -0.5z" fill="#3d9efe"/>
<path d="M179.9 315.7l2.6 -2.9 -1.9 -1.9 -2.7 2.9z" fill="#18dec0"/>
<path d="M213.8 324.0l2.5 7.4 -1.5 -1.8 -2.5 -7.6z" fill="#3ba0fd"/>
<path d="M200.9 297.4l2.6 -1.5 -1.7 -2.4 -2.7 1.5z" fill="#96fe44"/>
<path d="M244.9 300.7l2.4 1.5 -1.3 -2.2 -2.4 -1.5z" fill="#6dfe62"/>
<path d="M182.5 312.8l2.6 -2.7 -1.9 -2.0 -2.7 2.8z" fill="#1fe9af"/>
<path d="M198.3 299.0l2.6 -1.7 -1.7 -2.3 -2.7 1.7z" fill="#8bff4b"/>
<path d="M287.8 347.0l2.4 3.5 -1.0 -1.5 -2.4 -3.5z" fill="#351e58"/>
<path d="M185.1 310.1l2.6 -2.6 -1.9 -2.1 -2.7 2.6z" fill="#2cf09e"/>
<path d="M195.7 300.9l2.6 -1.8 -1.7 -2.3 -2.7 1.9z" fill="#79fe59"/>
<path d="M187.8 307.5l2.6 -2.4 -1.8 -2.1 -2.7 2.5z" fill="#3ff68a"/>
<path d="M193.0 302.9l2.6 -2.0 -1.8 -2.2 -2.7 2.1z" fill="#69fd66"/>
<path d="M190.4 305.1l2.6 -2.2 -1.8 -2.2 -2.7 2.3z" fill="#55fa76"/>
<path d="M273.2 318.0l2.5 0.5 -1.3 -2.2 -2.5 -0.5z" fill="#19d5cd"/>
<path d="M311.3 327.9l2.5 0.5 -1.3 -2.0 -2.5 -0.5z" fill="#3ba0fd"/>
<path d="M185.9 263.5l2.5 4.3 -1.5 -3.1 -2.5 -4.4z" fill="#f66c19"/>
<path d="M267.7 321.1l2.4 2.7 -1.2 -1.8 -2.4 -2.7z" fill="#2ab9ee"/>
<path d="M242.5 299.4l2.4 1.3 -1.3 -2.3 -2.4 -1.4z" fill="#7dff56"/>
<path d="M136.8 350.2l2.5 -8.9 -1.8 -1.6 -2.6 9.0z" fill="#3b2f80"/>
<path d="M270.7 317.5l2.5 0.5 -1.3 -2.2 -2.5 -0.5z" fill="#18d9c8"/>
<path d="M308.9 327.4l2.5 0.5 -1.3 -2.0 -2.5 -0.5z" fill="#38a5fb"/>
<path d="M147.8 299.3l2.6 -10.8 -1.7 -2.5 -2.6 11.0z" fill="#a7fc3a"/>
<path d="M199.9 289.6l2.5 5.4 -1.5 -2.7 -2.5 -5.5z" fill="#bcf534"/>
<path d="M285.4 343.6l2.4 3.4 -1.0 -1.5 -2.4 -3.4z" fill="#3c3286"/>
<path d="M265.3 318.5l2.4 2.5 -1.2 -1.8 -2.4 -2.6z" fill="#20c7df"/>
<path d="M268.3 317.0l2.5 0.5 -1.3 -2.2 -2.5 -0.5z" fill="#18dbc5"/>
<path d="M240.1 298.2l2.4 1.2 -1.3 -2.3 -2.4 -1.2z" fill="#88ff4e"/>
<path d="M306.4 326.9l2.5 0.5 -1.3 -2.0 -2.5 -0.5z" fill="#37a8fa"/>
<path d="M183.4 259.2l2.5 4.3 -1.5 -3.2 -2.5 -4.3z" fill="#eb500e"/>
<path d="M211.3 317.0l2.5 7.0 -1.5 -2.0 -2.5 -7.2z" fill="#1ecbda"/>
<path d="M265.8 316.4l2.5 0.5 -1.3 -2.3 -2.5 -0.5z" fill="#18dec0"/>
<path d="M303.9 326.4l2.5 0.5 -1.3 -2.0 -2.5 -0.5z" fill="#33adf7"/>
<path d="M237.7 297.1l2.4 1.0 -1.4 -2.3 -2.4 -1.1z" fill="#92ff47"/>
<path d="M139.4 341.3l2.5 -8.8 -1.8 -1.7 -2.6 8.9z" fill="#4666dd"/>
<path d="M262.9 316.1l2.4 2.4 -1.2 -1.9 -2.4 -2.5z" fill="#1ad4d0"/>
<path d="M283.1 340.4l2.4 3.3 -1.1 -1.6 -2.4 -3.3z" fill="#4249b1"/>
<path d="M263.3 315.9l2.5 0.5 -1.3 -2.3 -2.5 -0.5z" fill="#18e0bd"/>
<path d="M301.5 325.9l2.5 0.5 -1.3 -2.1 -2.5 -0.5z" fill="#31aff5"/>
<path d="M339.6 335.4l2.5 0.5 -1.3 -1.9 -2.5 -0.5z" fill="#4778f0"/>
<path d="M197.4 284.3l2.5 5.2 -1.5 -2.8 -2.5 -5.3z" fill="#dbe236"/>
<path d="M235.3 296.2l2.4 0.9 -1.4 -2.4 -2.4 -0.9z" fill="#9cfe40"/>
<path d="M150.4 288.5l2.6 -10.0 -1.7 -2.7 -2.6 10.2z" fill="#e5d938"/>
<path d="M222.7 345.6l2.5 5.1 -1.4 -1.5 -2.5 -5.2z" fill="#372466"/>
<path d="M260.9 315.4l2.5 0.5 -1.3 -2.3 -2.5 -0.5z" fill="#19e3b9"/>
<path d="M180.8 255.0l2.5 4.2 -1.5 -3.2 -2.5 -4.3z" fill="#dc3b07"/>
<path d="M299.0 325.3l2.5 0.5 -1.3 -2.1 -2.5 -0.5z" fill="#2fb2f4"/>
<path d="M337.2 334.9l2.5 0.5 -1.3 -1.9 -2.5 -0.5z" fill="#477bf2"/>
<path d="M260.5 313.8l2.4 2.3 -1.2 -1.9 -2.4 -2.3z" fill="#18dec0"/>
<path d="M232.9 295.5l2.4 0.7 -1.4 -2.4 -2.4 -0.8z" fill="#a1fd3d"/>
<path d="M280.7 337.2l2.4 3.2 -1.1 -1.6 -2.4 -3.2z" fill="#455ed3"/>
<path d="M258.4 314.9l2.5 0.5 -1.3 -2.3 -2.5 -0.5z" fill="#1ae4b6"/>
<path d="M296.6 324.8l2.5 0.5 -1.3 -2.1 -2.5 -0.5z" fill="#2cb7f0"/>
<path d="M141.9 332.5l2.5 -8.8 -1.8 -1.8 -2.6 8.9z" fill="#3e9bfe"/>
<path d="M334.7 334.4l2.5 0.5 -1.3 -1.9 -2.5 -0.5z" fill="#467df4"/>
<path d="M208.8 310.4l2.5 6.5 -1.5 -2.2 -2.5 -6.7z" fill="#1fe9af"/>
<path d="M230.5 294.9l2.4 0.6 -1.4 -2.4 -2.4 -0.6z" fill="#a7fc3a"/>
<path d="M258.2 311.7l2.4 2.2 -1.2 -2.0 -2.4 -2.2z" fill="#1de7b2"/>
<path d="M256.0 314.3l2.5 0.5 -1.3 -2.3 -2.5 -0.5z" fill="#1de7b2"/>
<path d="M294.1 324.3l2.5 0.5 -1.3 -2.1 -2.5 -0.5z" fill="#2ab9ee"/>
<path d="M194.9 279.5l2.5 4.8 -1.5 -2.9 -2.5 -4.9z" fill="#f2c93a"/>
<path d="M332.3 333.9l2.5 0.5 -1.3 -1.9 -2.5 -0.5z" fill="#4682f8"/>
<path d="M152.9 278.5l2.6 -8.3 -1.7 -2.9 -2.6 8.5z" fill="#fea933"/>
<path d="M178.3 251.5l2.5 3.5 -1.5 -3.3 -2.5 -3.6z" fill="#c82803"/>
<path d="M228.1 294.5l2.4 0.4 -1.4 -2.4 -2.4 -0.5z" fill="#acfb38"/>
<path d="M220.2 339.7l2.5 5.9 -1.4 -1.6 -2.5 -6.0z" fill="#4249b1"/>
<path d="M278.3 334.1l2.4 3.1 -1.1 -1.6 -2.4 -3.1z" fill="#4771e9"/>
<path d="M253.5 313.8l2.5 0.5 -1.3 -2.3 -2.5 -0.5z" fill="#1fe9af"/>
<path d="M291.7 323.8l2.5 0.5 -1.3 -2.1 -2.5 -0.5z" fill="#27bee9"/>
<path d="M329.8 333.4l2.5 0.5 -1.3 -1.9 -2.5 -0.5z" fill="#4685fa"/>
<path d="M225.7 294.2l2.4 0.3 -1.4 -2.5 -2.4 -0.3z" fill="#affa37"/>
<path d="M255.8 309.6l2.4 2.0 -1.2 -2.0 -2.4 -2.1z" fill="#27eea4"/>
<path d="M251.1 313.3l2.5 0.5 -1.3 -2.3 -2.5 -0.5z" fill="#22ebaa"/>
<path d="M289.2 323.3l2.5 0.5 -1.3 -2.1 -2.5 -0.5z" fill="#25c0e7"/>
<path d="M144.4 323.7l2.5 -10.9 -1.8 -2.0 -2.6 11.1z" fill="#1ad2d2"/>
<path d="M327.3 332.9l2.5 0.5 -1.3 -1.9 -2.5 -0.5z" fill="#458afc"/>
<path d="M158.3 351.1l2.6 -5.6 -2.2 -1.4 -2.6 5.5z" fill="#36215f"/>
<path d="M175.8 249.1l2.5 2.4 -1.5 -3.4 -2.5 -2.4z" fill="#b71d02"/>
<path d="M223.3 294.1l2.4 0.1 -1.5 -2.5 -2.4 -0.1z" fill="#affa37"/>
<path d="M155.5 270.2l2.6 -7.0 -1.6 -3.0 -2.6 7.2z" fill="#f8721c"/>
<path d="M192.4 275.2l2.5 4.3 -1.5 -3.0 -2.5 -4.4z" fill="#fcb136"/>
<path d="M276.0 331.1l2.4 3.0 -1.1 -1.7 -2.4 -3.0z" fill="#4685fa"/>
<path d="M206.3 304.0l2.5 6.4 -1.5 -2.4 -2.5 -6.6z" fill="#4ef97d"/>
<path d="M248.1 313.5l2.9 -0.2 -1.3 -2.3 -2.9 0.2z" fill="#22ebaa"/>
<path d="M286.7 322.8l2.5 0.5 -1.3 -2.1 -2.5 -0.5z" fill="#22c5e2"/>
<path d="M253.4 307.8l2.4 1.9 -1.3 -2.1 -2.4 -1.9z" fill="#35f394"/>
<path d="M220.9 294.1l2.4 -0.0 -1.5 -2.5 -2.4 -0.0z" fill="#b1f936"/>
<path d="M324.9 332.4l2.5 0.5 -1.3 -1.9 -2.5 -0.5z" fill="#458cfd"/>
<path d="M160.9 345.5l2.6 -4.2 -2.1 -1.4 -2.6 4.2z" fill="#3f3e9c"/>
<path d="M245.2 314.0l2.9 -0.5 -1.3 -2.3 -2.9 0.5z" fill="#20eaac"/>
<path d="M217.7 333.3l2.5 6.4 -1.5 -1.7 -2.5 -6.6z" fill="#4771e9"/>
<path d="M218.3 294.3l2.6 -0.2 -1.5 -2.5 -2.6 0.2z" fill="#b1f936"/>
<path d="M173.3 247.1l2.5 2.0 -1.5 -3.4 -2.5 -2.0z" fill="#a91601"/>
<path d="M163.6 341.3l2.6 -3.9 -2.1 -1.5 -2.6 3.9z" fill="#4559cb"/>
<path d="M284.3 322.3l2.5 0.5 -1.3 -2.2 -2.5 -0.5z" fill="#20c7df"/>
<path d="M322.4 331.9l2.5 0.5 -1.3 -2.0 -2.5 -0.5z" fill="#448ffe"/>
<path d="M158.1 263.2l2.6 -6.2 -1.6 -3.2 -2.6 6.3z" fill="#e7490c"/>
<path d="M242.3 314.8l2.9 -0.8 -1.3 -2.3 -2.9 0.8z" fill="#1fe9af"/>
<path d="M273.6 328.3l2.4 2.9 -1.1 -1.7 -2.4 -2.9z" fill="#4196ff"/>
<path d="M251.0 306.0l2.4 1.7 -1.3 -2.1 -2.4 -1.8z" fill="#46f884"/>
<path d="M166.2 337.4l2.6 -3.7 -2.1 -1.5 -2.6 3.7z" fill="#476ee6"/>
<path d="M215.7 294.6l2.6 -0.4 -1.5 -2.5 -2.6 0.4z" fill="#affa37"/>
<path d="M198.3 351.5l2.9 -3.3 -1.7 -1.6 -3.0 3.4z" fill="#341b51"/>
<path d="M281.8 321.8l2.5 0.5 -1.3 -2.2 -2.5 -0.5z" fill="#1fc9dd"/>
<path d="M239.4 315.8l2.9 -1.0 -1.3 -2.3 -2.9 1.1z" fill="#1ce6b4"/>
<path d="M201.3 348.2l2.9 -3.3 -1.6 -1.6 -3.0 3.3z" fill="#3c3286"/>
<path d="M320.0 331.4l2.5 0.5 -1.3 -2.0 -2.5 -0.5z" fill="#4294ff"/>
<path d="M189.9 270.9l2.5 4.3 -1.5 -3.0 -2.5 -4.3z" fill="#fe962b"/>
<path d="M168.8 333.8l2.6 -3.5 -2.1 -1.6 -2.6 3.6z" fill="#4685fa"/>
<path d="M213.1 295.2l2.6 -0.6 -1.6 -2.5 -2.6 0.6z" fill="#acfb38"/>
<path d="M160.6 257.0l2.6 -4.0 -1.6 -3.2 -2.6 4.1z" fill="#d02f05"/>
<path d="M170.8 246.1l2.5 1.0 -1.5 -3.4 -2.5 -1.0z" fill="#9e1001"/>
<path d="M204.2 345.0l2.9 -3.2 -1.6 -1.7 -3.0 3.3z" fill="#4249b1"/>
<path d="M236.4 317.2l2.9 -1.3 -1.4 -2.3 -2.9 1.3z" fill="#19e2bb"/>
<path d="M147.0 312.8l2.5 -11.2 -1.7 -2.3 -2.6 11.5z" fill="#43f787"/>
<path d="M171.4 330.2l2.6 -3.4 -2.0 -1.7 -2.6 3.4z" fill="#4099ff"/>
<path d="M207.1 341.8l2.9 -3.1 -1.6 -1.8 -3.0 3.2z" fill="#455ed3"/>
<path d="M210.5 296.1l2.6 -0.8 -1.6 -2.5 -2.6 0.8z" fill="#a9fb39"/>
<path d="M233.5 318.7l2.9 -1.6 -1.4 -2.3 -3.0 1.6z" fill="#18ddc2"/>
<path d="M279.4 321.3l2.5 0.5 -1.3 -2.2 -2.5 -0.5z" fill="#1ccdd8"/>
<path d="M210.1 338.6l2.9 -3.0 -1.6 -1.9 -3.0 3.1z" fill="#4771e9"/>
<path d="M248.6 304.4l2.4 1.6 -1.3 -2.2 -2.4 -1.6z" fill="#55fa76"/>
<path d="M163.2 253.0l2.6 -3.6 -1.6 -3.3 -2.6 3.7z" fill="#bc2002"/>
<path d="M203.8 297.6l2.5 6.4 -1.5 -2.5 -2.5 -6.5z" fill="#8bff4b"/>
<path d="M174.0 326.9l2.6 -3.2 -2.0 -1.7 -2.6 3.3z" fill="#33adf7"/>
<path d="M317.5 330.9l2.5 0.5 -1.3 -2.0 -2.5 -0.5z" fill="#4196ff"/>
<path d="M168.3 247.3l2.5 -1.2 -1.5 -3.4 -2.6 1.3z" fill="#a11201"/>
<path d="M230.6 320.5l2.9 -1.8 -1.4 -2.2 -3.0 1.8z" fill="#19d5cd"/>
<path d="M213.0 335.6l2.9 -2.9 -1.5 -1.9 -3.0 3.0z" fill="#4682f8"/>
<path d="M165.7 249.4l2.5 -2.1 -1.5 -3.3 -2.6 2.1z" fill="#a91601"/>
<path d="M207.9 297.1l2.6 -1.0 -1.6 -2.4 -2.6 1.0z" fill="#a1fd3d"/>
<path d="M215.9 332.7l2.9 -2.8 -1.5 -2.0 -3.0 2.8z" fill="#4294ff"/>
<path d="M227.6 322.6l2.9 -2.0 -1.4 -2.2 -3.0 2.1z" fill="#1ccdd8"/>
<path d="M271.2 325.5l2.4 2.7 -1.1 -1.7 -2.4 -2.8z" fill="#37a8fa"/>
<path d="M218.9 329.9l2.9 -2.6 -1.5 -2.0 -3.0 2.7z" fill="#38a5fb"/>
<path d="M176.6 323.6l2.6 -3.1 -2.0 -1.8 -2.6 3.2z" fill="#25c0e7"/>
<path d="M224.7 324.8l2.9 -2.2 -1.4 -2.1 -3.0 2.3z" fill="#25c0e7"/>
<path d="M221.8 327.3l2.9 -2.4 -1.5 -2.1 -3.0 2.5z" fill="#2eb4f2"/>
<path d="M205.3 298.3l2.6 -1.2 -1.6 -2.4 -2.6 1.3z" fill="#9cfe40"/>
<path d="M179.2 320.5l2.6 -3.0 -1.9 -1.9 -2.6 3.0z" fill="#1bd0d5"/>
<path d="M276.9 320.7l2.5 0.5 -1.3 -2.2 -2.5 -0.5z" fill="#1bd0d5"/>
<path d="M202.7 299.7l2.6 -1.4 -1.7 -2.4 -2.6 1.5z" fill="#92ff47"/>
<path d="M315.0 330.4l2.5 0.5 -1.3 -2.0 -2.5 -0.5z" fill="#3e9bfe"/>
<path d="M181.8 317.6l2.6 -2.8 -1.9 -1.9 -2.6 2.9z" fill="#18ddc2"/>
<path d="M215.2 326.0l2.5 7.2 -1.5 -1.8 -2.5 -7.4z" fill="#3d9efe"/>
<path d="M200.0 301.3l2.6 -1.6 -1.7 -2.3 -2.6 1.7z" fill="#84ff51"/>
<path d="M184.4 314.7l2.6 -2.7 -1.9 -2.0 -2.6 2.7z" fill="#1de7b2"/>
<path d="M246.2 303.0l2.4 1.5 -1.3 -2.2 -2.4 -1.5z" fill="#69fd66"/>
<path d="M197.4 303.1l2.6 -1.8 -1.7 -2.3 -2.6 1.8z" fill="#75fe5c"/>
<path d="M187.0 312.1l2.6 -2.5 -1.9 -2.1 -2.6 2.6z" fill="#2aefa1"/>
<path d="M187.4 266.7l2.5 4.2 -1.5 -3.1 -2.5 -4.3z" fill="#f9781e"/>
<path d="M189.6 309.6l2.6 -2.3 -1.8 -2.1 -2.6 2.4z" fill="#3cf58e"/>
<path d="M194.8 305.1l2.6 -2.0 -1.8 -2.2 -2.6 2.0z" fill="#61fc6c"/>
<path d="M192.2 307.3l2.6 -2.2 -1.8 -2.2 -2.6 2.2z" fill="#4ef97d"/>
<path d="M288.8 348.5l2.3 3.4 -1.0 -1.5 -2.4 -3.5z" fill="#341b51"/>
<path d="M274.4 320.2l2.5 0.5 -1.3 -2.2 -2.5 -0.5z" fill="#1ad4d0"/>
<path d="M312.6 329.9l2.5 0.5 -1.3 -2.0 -2.5 -0.5z" fill="#3d9efe"/>
<path d="M268.9 322.9l2.4 2.6 -1.2 -1.8 -2.4 -2.7z" fill="#2cb7f0"/>
<path d="M243.8 301.7l2.4 1.3 -1.3 -2.3 -2.4 -1.3z" fill="#75fe5c"/>
<path d="M138.7 351.7l2.5 -8.8 -1.8 -1.6 -2.5 8.9z" fill="#3b2f80"/>
<path d="M272.0 319.7l2.5 0.5 -1.3 -2.2 -2.5 -0.5z" fill="#19d5cd"/>
<path d="M149.5 301.6l2.5 -10.5 -1.7 -2.5 -2.6 10.8z" fill="#a4fc3c"/>
<path d="M310.1 329.4l2.5 0.5 -1.3 -2.0 -2.5 -0.5z" fill="#3ba0fd"/>
<path d="M201.3 292.3l2.5 5.3 -1.5 -2.7 -2.5 -5.4z" fill="#b7f735"/>
<path d="M241.5 300.5l2.4 1.2 -1.3 -2.3 -2.4 -1.2z" fill="#84ff51"/>
<path d="M269.5 319.2l2.5 0.5 -1.3 -2.2 -2.5 -0.5z" fill="#18d9c8"/>
<path d="M286.5 345.2l2.3 3.3 -1.0 -1.5 -2.4 -3.4z" fill="#3c3286"/>
<path d="M266.5 320.4l2.4 2.5 -1.2 -1.8 -2.4 -2.5z" fill="#20c7df"/>
<path d="M184.9 262.5l2.5 4.2 -1.5 -3.2 -2.5 -4.3z" fill="#ef5811"/>
<path d="M307.7 328.9l2.5 0.5 -1.3 -2.0 -2.5 -0.5z" fill="#38a5fb"/>
<path d="M212.8 319.2l2.5 6.9 -1.5 -2.0 -2.5 -7.0z" fill="#20c7df"/>
<path d="M267.1 318.7l2.5 0.5 -1.3 -2.3 -2.5 -0.5z" fill="#18dbc5"/>
<path d="M305.2 328.4l2.5 0.5 -1.3 -2.0 -2.5 -0.5z" fill="#37a8fa"/>
<path d="M239.1 299.5l2.4 1.0 -1.4 -2.3 -2.4 -1.0z" fill="#8bff4b"/>
<path d="M141.2 342.9l2.5 -8.7 -1.8 -1.7 -2.5 8.8z" fill="#4666dd"/>
<path d="M264.1 318.0l2.4 2.4 -1.2 -1.9 -2.4 -2.4z" fill="#1ad4d0"/>
<path d="M264.6 318.2l2.5 0.5 -1.3 -2.3 -2.5 -0.5z" fill="#18dec0"/>
<path d="M198.8 287.2l2.5 5.1 -1.5 -2.8 -2.5 -5.2z" fill="#d7e535"/>
<path d="M284.1 342.0l2.3 3.2 -1.1 -1.6 -2.4 -3.3z" fill="#4249b1"/>
<path d="M302.7 327.9l2.5 0.5 -1.3 -2.1 -2.5 -0.5z" fill="#33adf7"/>
<path d="M152.1 291.0l2.5 -9.8 -1.7 -2.7 -2.6 10.0z" fill="#e1dd37"/>
<path d="M236.7 298.6l2.4 0.9 -1.4 -2.4 -2.4 -0.9z" fill="#96fe44"/>
<path d="M340.9 337.3l2.5 0.5 -1.3 -1.9 -2.5 -0.5z" fill="#4776ee"/>
<path d="M182.4 258.3l2.5 4.1 -1.5 -3.2 -2.5 -4.2z" fill="#e14109"/>
<path d="M224.1 347.2l2.5 5.1 -1.4 -1.5 -2.5 -5.1z" fill="#372466"/>
<path d="M262.2 317.7l2.5 0.5 -1.3 -2.3 -2.5 -0.5z" fill="#18e0bd"/>
<path d="M300.3 327.4l2.5 0.5 -1.3 -2.1 -2.5 -0.5z" fill="#31aff5"/>
<path d="M338.4 336.8l2.5 0.5 -1.3 -1.9 -2.5 -0.5z" fill="#4778f0"/>
<path d="M234.3 297.9l2.4 0.7 -1.4 -2.4 -2.4 -0.7z" fill="#9cfe40"/>
<path d="M261.8 315.8l2.4 2.2 -1.2 -1.9 -2.4 -2.3z" fill="#18ddc2"/>
<path d="M259.7 317.2l2.5 0.5 -1.3 -2.3 -2.5 -0.5z" fill="#19e2bb"/>
<path d="M281.8 338.8l2.3 3.1 -1.1 -1.6 -2.4 -3.2z" fill="#455ed3"/>
<path d="M297.8 326.9l2.5 0.5 -1.3 -2.1 -2.5 -0.5z" fill="#2eb4f2"/>
<path d="M143.7 334.2l2.5 -8.7 -1.8 -1.8 -2.5 8.8z" fill="#4099ff"/>
<path d="M210.3 312.8l2.5 6.4 -1.5 -2.2 -2.5 -6.5z" fill="#1ce6b4"/>
<path d="M336.0 336.3l2.5 0.5 -1.3 -1.9 -2.5 -0.5z" fill="#477bf2"/>
<path d="M231.9 297.4l2.4 0.6 -1.4 -2.4 -2.4 -0.6z" fill="#a1fd3d"/>
<path d="M196.3 282.5l2.5 4.7 -1.5 -2.9 -2.5 -4.8z" fill="#eecf3a"/>
<path d="M179.9 254.9l2.5 3.5 -1.5 -3.3 -2.5 -3.5z" fill="#d02f05"/>
<path d="M154.6 281.3l2.5 -8.1 -1.7 -2.9 -2.6 8.3z" fill="#fdae35"/>
<path d="M257.2 316.7l2.5 0.5 -1.3 -2.3 -2.5 -0.5z" fill="#1ae4b6"/>
<path d="M259.4 313.7l2.4 2.1 -1.2 -2.0 -2.4 -2.2z" fill="#1ce6b4"/>
<path d="M295.4 326.4l2.5 0.5 -1.3 -2.1 -2.5 -0.5z" fill="#2cb7f0"/>
<path d="M333.5 335.8l2.5 0.5 -1.3 -1.9 -2.5 -0.5z" fill="#4680f6"/>
<path d="M229.5 297.0l2.4 0.4 -1.4 -2.4 -2.4 -0.4z" fill="#a7fc3a"/>
<path d="M221.7 341.4l2.5 5.8 -1.4 -1.6 -2.5 -5.9z" fill="#4249b1"/>
<path d="M254.8 316.2l2.5 0.5 -1.3 -2.3 -2.5 -0.5z" fill="#1ce6b4"/>
<path d="M279.4 335.8l2.3 3.0 -1.1 -1.6 -2.4 -3.1z" fill="#4771e9"/>
<path d="M292.9 325.9l2.5 0.5 -1.3 -2.1 -2.5 -0.5z" fill="#2ab9ee"/>
<path d="M227.1 296.7l2.4 0.3 -1.4 -2.5 -2.4 -0.3z" fill="#a9fb39"/>
<path d="M331.1 335.3l2.5 0.5 -1.3 -1.9 -2.5 -0.5z" fill="#4682f8"/>
<path d="M257.0 311.7l2.4 2.0 -1.2 -2.0 -2.4 -2.0z" fill="#25eca7"/>
<path d="M177.4 252.5l2.5 2.4 -1.5 -3.4 -2.5 -2.4z" fill="#c12302"/>
<path d="M252.3 315.6l2.5 0.5 -1.3 -2.3 -2.5 -0.5z" fill="#1fe9af"/>
<path d="M157.2 273.1l2.5 -6.9 -1.6 -3.0 -2.6 7.0z" fill="#fa7b1f"/>
<path d="M290.5 325.4l2.5 0.5 -1.3 -2.1 -2.5 -0.5z" fill="#27bee9"/>
<path d="M146.2 325.5l2.5 -10.7 -1.8 -2.0 -2.5 10.9z" fill="#1bd0d5"/>
<path d="M224.8 296.6l2.4 0.1 -1.5 -2.5 -2.4 -0.1z" fill="#a9fb39"/>
<path d="M160.5 352.6l2.6 -5.7 -2.2 -1.4 -2.6 5.6z" fill="#36215f"/>
<path d="M328.6 334.8l2.5 0.5 -1.3 -1.9 -2.5 -0.5z" fill="#4687fb"/>
<path d="M193.8 278.2l2.5 4.3 -1.5 -3.0 -2.5 -4.3z" fill="#fbb838"/>
<path d="M207.8 306.5l2.5 6.3 -1.5 -2.4 -2.5 -6.4z" fill="#46f884"/>
<path d="M249.4 315.9l2.9 -0.2 -1.3 -2.3 -2.9 0.2z" fill="#1fe9af"/>
<path d="M277.1 332.8l2.3 2.9 -1.1 -1.7 -2.4 -3.0z" fill="#4682f8"/>
<path d="M222.4 296.6l2.4 -0.0 -1.5 -2.5 -2.4 0.0z" fill="#acfb38"/>
<path d="M288.0 324.9l2.5 0.5 -1.3 -2.1 -2.5 -0.5z" fill="#25c0e7"/>
<path d="M254.7 309.9l2.4 1.8 -1.3 -2.1 -2.4 -1.9z" fill="#32f298"/>
<path d="M326.1 334.4l2.5 0.5 -1.3 -1.9 -2.5 -0.5z" fill="#458afc"/>
<path d="M163.1 346.9l2.6 -4.2 -2.1 -1.4 -2.6 4.2z" fill="#4040a2"/>
<path d="M174.8 250.5l2.5 2.0 -1.5 -3.4 -2.5 -2.0z" fill="#b21a01"/>
<path d="M246.5 316.4l2.9 -0.5 -1.3 -2.3 -2.9 0.5z" fill="#1fe9af"/>
<path d="M219.8 296.7l2.6 -0.2 -1.5 -2.5 -2.6 0.2z" fill="#acfb38"/>
<path d="M159.7 266.3l2.5 -6.1 -1.6 -3.2 -2.6 6.2z" fill="#eb500e"/>
<path d="M219.2 335.1l2.5 6.3 -1.5 -1.7 -2.5 -6.4z" fill="#4771e9"/>
<path d="M165.7 342.7l2.6 -3.8 -2.1 -1.5 -2.6 3.9z" fill="#4559cb"/>
<path d="M285.5 324.4l2.5 0.5 -1.3 -2.2 -2.5 -0.5z" fill="#22c5e2"/>
<path d="M323.7 333.9l2.5 0.5 -1.3 -2.0 -2.5 -0.5z" fill="#458cfd"/>
<path d="M243.6 317.1l2.9 -0.8 -1.3 -2.3 -2.9 0.8z" fill="#1ce6b4"/>
<path d="M217.2 297.1l2.6 -0.4 -1.5 -2.5 -2.6 0.4z" fill="#a9fb39"/>
<path d="M252.3 308.2l2.4 1.7 -1.3 -2.1 -2.4 -1.7z" fill="#43f787"/>
<path d="M168.3 338.9l2.6 -3.6 -2.1 -1.5 -2.6 3.7z" fill="#476ee6"/>
<path d="M191.4 274.0l2.5 4.2 -1.5 -3.0 -2.5 -4.3z" fill="#fe9e2f"/>
<path d="M274.7 330.0l2.3 2.8 -1.1 -1.7 -2.4 -2.9z" fill="#4294ff"/>
<path d="M172.3 249.4l2.5 1.0 -1.5 -3.4 -2.5 -1.0z" fill="#a91601"/>
<path d="M162.2 260.2l2.5 -4.0 -1.6 -3.2 -2.6 4.0z" fill="#d83706"/>
<path d="M200.0 353.0l2.9 -3.2 -1.7 -1.6 -2.9 3.3z" fill="#341b51"/>
<path d="M240.7 318.1l2.9 -1.0 -1.3 -2.3 -2.9 1.0z" fill="#19e3b9"/>
<path d="M283.1 324.0l2.5 0.5 -1.3 -2.2 -2.5 -0.5z" fill="#20c7df"/>
<path d="M214.6 297.7l2.6 -0.6 -1.6 -2.5 -2.6 0.6z" fill="#a7fc3a"/>
<path d="M170.9 335.3l2.6 -3.5 -2.1 -1.6 -2.6 3.5z" fill="#4685fa"/>
<path d="M321.2 333.4l2.5 0.5 -1.3 -2.0 -2.5 -0.5z" fill="#4391fe"/>
<path d="M202.9 349.8l2.9 -3.2 -1.6 -1.6 -2.9 3.3z" fill="#3c3286"/>
<path d="M237.8 319.4l2.9 -1.3 -1.4 -2.3 -2.9 1.3z" fill="#18e0bd"/>
<path d="M148.7 314.8l2.5 -11.0 -1.7 -2.3 -2.5 11.2z" fill="#3ff68a"/>
<path d="M164.8 256.2l2.5 -3.6 -1.6 -3.3 -2.6 3.6z" fill="#c52603"/>
<path d="M205.8 346.6l2.9 -3.1 -1.6 -1.7 -2.9 3.2z" fill="#4249b1"/>
<path d="M169.8 250.6l2.5 -1.2 -1.5 -3.4 -2.5 1.2z" fill="#a91601"/>
<path d="M173.4 331.8l2.6 -3.3 -2.0 -1.7 -2.6 3.4z" fill="#4099ff"/>
<path d="M212.1 298.5l2.6 -0.8 -1.6 -2.5 -2.6 0.8z" fill="#a4fc3c"/>
<path d="M167.3 252.7l2.5 -2.1 -1.5 -3.3 -2.5 2.1z" fill="#b41b01"/>
<path d="M208.7 343.5l2.9 -3.1 -1.6 -1.8 -2.9 3.1z" fill="#455ccf"/>
<path d="M205.3 300.3l2.5 6.2 -1.5 -2.5 -2.5 -6.4z" fill="#84ff51"/>
<path d="M234.9 320.9l2.9 -1.5 -1.4 -2.3 -2.9 1.6z" fill="#18d9c8"/>
<path d="M280.6 323.5l2.5 0.5 -1.3 -2.2 -2.5 -0.5z" fill="#1fc9dd"/>
<path d="M249.9 306.6l2.4 1.6 -1.3 -2.2 -2.4 -1.6z" fill="#52fa7a"/>
<path d="M211.6 340.4l2.9 -3.0 -1.6 -1.9 -2.9 3.0z" fill="#4771e9"/>
<path d="M176.0 328.5l2.6 -3.2 -2.0 -1.7 -2.6 3.2z" fill="#33adf7"/>
<path d="M232.0 322.7l2.9 -1.8 -1.4 -2.2 -2.9 1.8z" fill="#1ad4d0"/>
<path d="M209.5 299.5l2.6 -1.0 -1.6 -2.4 -2.6 1.0z" fill="#9ffd3f"/>
<path d="M318.8 332.9l2.5 0.5 -1.3 -2.0 -2.5 -0.5z" fill="#4294ff"/>
<path d="M214.6 337.4l2.9 -2.9 -1.5 -1.9 -2.9 2.9z" fill="#4682f8"/>
<path d="M229.1 324.7l2.9 -2.0 -1.4 -2.2 -2.9 2.0z" fill="#1fc9dd"/>
<path d="M217.5 334.6l2.9 -2.7 -1.5 -2.0 -2.9 2.8z" fill="#4391fe"/>
<path d="M178.6 325.4l2.6 -3.0 -2.0 -1.8 -2.6 3.1z" fill="#27bee9"/>
<path d="M226.2 326.9l2.9 -2.2 -1.4 -2.1 -2.9 2.2z" fill="#27bee9"/>
<path d="M220.4 331.9l2.9 -2.6 -1.5 -2.0 -2.9 2.6z" fill="#3aa3fc"/>
<path d="M223.3 329.3l2.9 -2.4 -1.5 -2.1 -2.9 2.4z" fill="#2fb2f4"/>
<path d="M206.9 300.7l2.6 -1.2 -1.6 -2.4 -2.6 1.2z" fill="#96fe44"/>
<path d="M272.4 327.3l2.3 2.7 -1.1 -1.7 -2.4 -2.7z" fill="#38a5fb"/>
<path d="M181.2 322.3l2.6 -2.9 -1.9 -1.9 -2.6 3.0z" fill="#1ccdd8"/>
<path d="M204.4 302.0l2.6 -1.4 -1.7 -2.4 -2.6 1.4z" fill="#8bff4b"/>
<path d="M278.2 323.0l2.5 0.5 -1.3 -2.2 -2.5 -0.5z" fill="#1ccdd8"/>
<path d="M183.8 319.4l2.6 -2.7 -1.9 -1.9 -2.6 2.8z" fill="#18dbc5"/>
<path d="M201.8 303.6l2.6 -1.6 -1.7 -2.3 -2.6 1.6z" fill="#7dff56"/>
<path d="M188.9 269.8l2.5 4.2 -1.5 -3.1 -2.5 -4.2z" fill="#fb8122"/>
<path d="M316.3 332.4l2.5 0.5 -1.3 -2.0 -2.5 -0.5z" fill="#4196ff"/>
<path d="M186.3 316.7l2.6 -2.6 -1.9 -2.0 -2.6 2.7z" fill="#1ce6b4"/>
<path d="M199.2 305.4l2.6 -1.8 -1.7 -2.3 -2.6 1.8z" fill="#6dfe62"/>
<path d="M216.7 328.1l2.5 7.0 -1.5 -1.8 -2.5 -7.2z" fill="#3e9bfe"/>
<path d="M247.6 305.2l2.4 1.4 -1.3 -2.2 -2.4 -1.5z" fill="#61fc6c"/>
<path d="M188.9 314.1l2.6 -2.4 -1.9 -2.1 -2.6 2.5z" fill="#27eea4"/>
<path d="M196.6 307.3l2.6 -1.9 -1.8 -2.2 -2.6 2.0z" fill="#5dfc6f"/>
<path d="M191.5 311.7l2.6 -2.3 -1.8 -2.1 -2.6 2.3z" fill="#38f491"/>
<path d="M194.1 309.4l2.6 -2.1 -1.8 -2.2 -2.6 2.2z" fill="#4af880"/>
<path d="M275.7 322.5l2.5 0.5 -1.3 -2.2 -2.5 -0.5z" fill="#1bd0d5"/>
<path d="M313.8 331.9l2.5 0.5 -1.3 -2.0 -2.5 -0.5z" fill="#3e9bfe"/>
<path d="M289.9 350.1l2.3 3.4 -1.0 -1.5 -2.3 -3.4z" fill="#341b51"/>
<path d="M270.1 324.8l2.3 2.6 -1.2 -1.8 -2.4 -2.6z" fill="#2eb4f2"/>
<path d="M245.2 303.9l2.4 1.3 -1.3 -2.3 -2.4 -1.3z" fill="#71fe5f"/>
<path d="M151.3 303.8l2.5 -10.3 -1.7 -2.5 -2.5 10.5z" fill="#9ffd3f"/>
<path d="M202.8 295.1l2.5 5.2 -1.5 -2.7 -2.5 -5.3z" fill="#affa37"/>
<path d="M273.2 322.0l2.5 0.5 -1.3 -2.2 -2.5 -0.5z" fill="#1ad4d0"/>
<path d="M140.5 353.2l2.5 -8.7 -1.8 -1.6 -2.5 8.8z" fill="#3b2f80"/>
<path d="M311.4 331.5l2.5 0.5 -1.3 -2.0 -2.5 -0.5z" fill="#3d9efe"/>
<path d="M186.4 265.7l2.5 4.1 -1.5 -3.2 -2.5 -4.2z" fill="#f36315"/>
<path d="M242.8 302.8l2.4 1.1 -1.3 -2.3 -2.4 -1.2z" fill="#7dff56"/>
<path d="M270.8 321.5l2.5 0.5 -1.3 -2.2 -2.5 -0.5z" fill="#19d5cd"/>
<path d="M308.9 331.0l2.5 0.5 -1.3 -2.0 -2.5 -0.5z" fill="#3aa3fc"/>
<path d="M267.7 322.3l2.3 2.5 -1.2 -1.8 -2.4 -2.5z" fill="#22c5e2"/>
<path d="M287.6 346.8l2.3 3.3 -1.0 -1.5 -2.3 -3.3z" fill="#3c3286"/>
<path d="M214.2 321.4l2.5 6.7 -1.5 -2.0 -2.5 -6.9z" fill="#22c5e2"/>
<path d="M268.3 321.0l2.5 0.5 -1.3 -2.3 -2.5 -0.5z" fill="#18d7ca"/>
<path d="M240.5 301.9l2.4 1.0 -1.4 -2.3 -2.4 -1.0z" fill="#88ff4e"/>
<path d="M306.5 330.5l2.5 0.5 -1.3 -2.0 -2.5 -0.5z" fill="#38a5fb"/>
<path d="M143.0 344.5l2.5 -8.6 -1.8 -1.7 -2.5 8.7z" fill="#4666dd"/>
<path d="M200.3 290.0l2.5 5.0 -1.5 -2.8 -2.5 -5.1z" fill="#d0ea34"/>
<path d="M265.4 320.0l2.3 2.3 -1.2 -1.9 -2.4 -2.4z" fill="#1ad2d2"/>
<path d="M153.8 293.5l2.5 -9.6 -1.7 -2.7 -2.5 9.8z" fill="#dbe236"/>
<path d="M265.9 320.5l2.5 0.5 -1.3 -2.3 -2.5 -0.5z" fill="#18dbc5"/>
<path d="M183.9 261.6l2.5 4.1 -1.5 -3.2 -2.5 -4.1z" fill="#e7490c"/>
<path d="M304.0 330.0l2.5 0.5 -1.3 -2.1 -2.5 -0.5z" fill="#37a8fa"/>
<path d="M238.1 301.0l2.4 0.8 -1.4 -2.4 -2.4 -0.9z" fill="#8fff49"/>
<path d="M285.2 343.5l2.3 3.2 -1.1 -1.6 -2.3 -3.2z" fill="#4249b1"/>
<path d="M342.2 339.1l2.5 0.5 -1.3 -1.9 -2.5 -0.5z" fill="#4773eb"/>
<path d="M263.4 320.0l2.5 0.5 -1.3 -2.3 -2.5 -0.5z" fill="#18ddc2"/>
<path d="M225.6 348.8l2.5 5.0 -1.4 -1.5 -2.5 -5.1z" fill="#36215f"/>
<path d="M301.6 329.5l2.5 0.5 -1.3 -2.1 -2.5 -0.5z" fill="#33adf7"/>
<path d="M235.7 300.4l2.4 0.7 -1.4 -2.4 -2.4 -0.7z" fill="#96fe44"/>
<path d="M339.7 338.7l2.5 0.5 -1.3 -1.9 -2.5 -0.5z" fill="#4776ee"/>
<path d="M263.0 317.8l2.3 2.2 -1.2 -1.9 -2.4 -2.2z" fill="#18dbc5"/>
<path d="M261.0 319.5l2.5 0.5 -1.3 -2.3 -2.5 -0.5z" fill="#18e0bd"/>
<path d="M299.1 329.0l2.5 0.5 -1.3 -2.1 -2.5 -0.5z" fill="#31aff5"/>
<path d="M145.5 335.9l2.5 -8.6 -1.8 -1.8 -2.5 8.7z" fill="#4099ff"/>
<path d="M211.7 315.2l2.5 6.2 -1.5 -2.2 -2.5 -6.4z" fill="#1ae4b6"/>
<path d="M233.3 299.8l2.4 0.5 -1.4 -2.4 -2.4 -0.6z" fill="#9cfe40"/>
<path d="M181.4 258.2l2.5 3.4 -1.5 -3.3 -2.5 -3.5z" fill="#d63506"/>
<path d="M282.9 340.4l2.3 3.1 -1.1 -1.6 -2.3 -3.1z" fill="#455ccf"/>
<path d="M197.8 285.4l2.5 4.6 -1.5 -2.9 -2.5 -4.7z" fill="#e9d539"/>
<path d="M337.2 338.2l2.5 0.5 -1.3 -1.9 -2.5 -0.5z" fill="#477bf2"/>
<path d="M156.3 284.0l2.5 -7.9 -1.7 -2.9 -2.5 8.1z" fill="#fbb637"/>
<path d="M258.5 319.0l2.5 0.5 -1.3 -2.3 -2.5 -0.5z" fill="#19e2bb"/>
<path d="M296.6 328.6l2.5 0.5 -1.3 -2.1 -2.5 -0.5z" fill="#2eb4f2"/>
<path d="M260.7 315.7l2.4 2.1 -1.2 -2.0 -2.4 -2.1z" fill="#1ae4b6"/>
<path d="M231.0 299.4l2.4 0.4 -1.4 -2.4 -2.4 -0.4z" fill="#a1fd3d"/>
<path d="M334.8 337.7l2.5 0.5 -1.3 -1.9 -2.5 -0.5z" fill="#467df4"/>
<path d="M256.0 318.5l2.5 0.5 -1.3 -2.3 -2.5 -0.5z" fill="#1ae4b6"/>
<path d="M223.1 343.1l2.5 5.7 -1.4 -1.6 -2.5 -5.8z" fill="#4146ac"/>
<path d="M294.2 328.1l2.5 0.5 -1.3 -2.1 -2.5 -0.5z" fill="#2cb7f0"/>
<path d="M228.6 299.2l2.4 0.3 -1.4 -2.5 -2.4 -0.3z" fill="#a4fc3c"/>
<path d="M178.9 255.9l2.5 2.4 -1.5 -3.4 -2.5 -2.4z" fill="#c82803"/>
<path d="M280.6 337.4l2.3 3.0 -1.1 -1.6 -2.3 -3.0z" fill="#4771e9"/>
<path d="M332.3 337.2l2.5 0.5 -1.3 -1.9 -2.5 -0.5z" fill="#4680f6"/>
<path d="M158.8 276.0l2.5 -6.7 -1.6 -3.0 -2.5 6.9z" fill="#fc8423"/>
<path d="M258.3 313.8l2.4 1.9 -1.2 -2.0 -2.4 -2.0z" fill="#22ebaa"/>
<path d="M253.6 318.0l2.5 0.5 -1.3 -2.3 -2.5 -0.5z" fill="#1ce6b4"/>
<path d="M195.3 281.2l2.5 4.2 -1.5 -3.0 -2.5 -4.3z" fill="#f8be39"/>
<path d="M226.2 299.0l2.4 0.1 -1.5 -2.5 -2.4 -0.1z" fill="#a4fc3c"/>
<path d="M148.0 327.3l2.5 -10.5 -1.8 -2.0 -2.5 10.7z" fill="#1ccdd8"/>
<path d="M291.7 327.6l2.5 0.5 -1.3 -2.1 -2.5 -0.5z" fill="#2ab9ee"/>
<path d="M162.7 354.1l2.6 -5.8 -2.2 -1.4 -2.6 5.7z" fill="#36215f"/>
<path d="M329.9 336.8l2.5 0.5 -1.3 -1.9 -2.5 -0.5z" fill="#4685fa"/>
<path d="M209.3 309.0l2.5 6.1 -1.5 -2.4 -2.5 -6.3z" fill="#3ff68a"/>
<path d="M223.9 299.0l2.4 -0.0 -1.5 -2.5 -2.4 0.0z" fill="#a7fc3a"/>
<path d="M250.7 318.2l2.9 -0.2 -1.3 -2.3 -2.9 0.2z" fill="#1ce6b4"/>
<path d="M176.4 253.9l2.5 2.0 -1.5 -3.4 -2.5 -2.0z" fill="#bc2002"/>
<path d="M289.3 327.1l2.5 0.5 -1.3 -2.1 -2.5 -0.5z" fill="#27bee9"/>
<path d="M256.0 312.0l2.4 1.8 -1.3 -2.1 -2.4 -1.8z" fill="#2ff19b"/>
<path d="M278.2 334.5l2.3 2.9 -1.1 -1.7 -2.3 -2.9z" fill="#4682f8"/>
<path d="M161.3 269.3l2.5 -5.9 -1.6 -3.2 -2.5 6.1z" fill="#ef5811"/>
<path d="M165.3 348.3l2.6 -4.1 -2.1 -1.4 -2.6 4.2z" fill="#4040a2"/>
<path d="M327.4 336.3l2.5 0.5 -1.3 -1.9 -2.5 -0.5z" fill="#4687fb"/>
<path d="M221.3 299.2l2.5 -0.2 -1.5 -2.5 -2.6 0.2z" fill="#a7fc3a"/>
<path d="M247.8 318.7l2.9 -0.5 -1.3 -2.3 -2.9 0.5z" fill="#1ce6b4"/>
<path d="M167.9 344.2l2.5 -3.8 -2.1 -1.5 -2.6 3.8z" fill="#4559cb"/>
<path d="M286.8 326.6l2.5 0.5 -1.3 -2.2 -2.5 -0.5z" fill="#25c0e7"/>
<path d="M220.6 336.9l2.5 6.2 -1.5 -1.7 -2.5 -6.3z" fill="#476ee6"/>
<path d="M218.8 299.6l2.5 -0.4 -1.5 -2.5 -2.6 0.4z" fill="#a4fc3c"/>
<path d="M173.9 252.8l2.5 1.0 -1.5 -3.4 -2.5 -1.0z" fill="#b41b01"/>
<path d="M244.9 319.4l2.9 -0.7 -1.3 -2.3 -2.9 0.8z" fill="#19e3b9"/>
<path d="M324.9 335.8l2.5 0.5 -1.3 -2.0 -2.5 -0.5z" fill="#458afc"/>
<path d="M192.8 277.1l2.5 4.1 -1.5 -3.0 -2.5 -4.2z" fill="#fea732"/>
<path d="M163.9 263.4l2.5 -3.9 -1.6 -3.2 -2.5 4.0z" fill="#dd3d08"/>
<path d="M253.6 310.3l2.4 1.7 -1.3 -2.1 -2.4 -1.7z" fill="#3cf58e"/>
<path d="M170.4 340.4l2.5 -3.6 -2.1 -1.5 -2.6 3.6z" fill="#476ee6"/>
<path d="M216.2 300.2l2.5 -0.6 -1.6 -2.5 -2.6 0.6z" fill="#a1fd3d"/>
<path d="M242.1 320.4l2.9 -1.0 -1.3 -2.3 -2.9 1.0z" fill="#19e2bb"/>
<path d="M166.4 259.5l2.5 -3.5 -1.6 -3.3 -2.5 3.6z" fill="#cc2b04"/>
<path d="M284.3 326.1l2.5 0.5 -1.3 -2.2 -2.5 -0.5z" fill="#23c3e4"/>
<path d="M275.9 331.8l2.3 2.8 -1.1 -1.7 -2.3 -2.8z" fill="#4294ff"/>
<path d="M201.7 354.5l2.9 -3.1 -1.7 -1.6 -2.9 3.2z" fill="#341b51"/>
<path d="M171.4 254.0l2.5 -1.1 -1.5 -3.4 -2.5 1.2z" fill="#b41b01"/>
<path d="M173.0 336.8l2.5 -3.4 -2.1 -1.6 -2.6 3.5z" fill="#4685fa"/>
<path d="M168.9 256.0l2.5 -2.0 -1.5 -3.3 -2.5 2.1z" fill="#be2102"/>
<path d="M322.5 335.4l2.5 0.5 -1.3 -2.0 -2.5 -0.5z" fill="#448ffe"/>
<path d="M204.6 351.4l2.9 -3.1 -1.6 -1.6 -2.9 3.2z" fill="#3c3286"/>
<path d="M150.5 316.8l2.5 -10.7 -1.7 -2.3 -2.5 11.0z" fill="#38f491"/>
<path d="M239.2 321.7l2.9 -1.3 -1.4 -2.3 -2.9 1.3z" fill="#18ddc2"/>
<path d="M213.7 300.9l2.5 -0.8 -1.6 -2.5 -2.6 0.8z" fill="#9ffd3f"/>
<path d="M206.8 302.9l2.5 6.1 -1.5 -2.5 -2.5 -6.2z" fill="#7dff56"/>
<path d="M175.5 333.4l2.5 -3.2 -2.0 -1.7 -2.6 3.3z" fill="#4196ff"/>
<path d="M207.5 348.3l2.9 -3.1 -1.6 -1.7 -2.9 3.1z" fill="#4146ac"/>
<path d="M236.3 323.2l2.9 -1.5 -1.4 -2.3 -2.9 1.5z" fill="#18d7ca"/>
<path d="M210.3 345.2l2.9 -3.0 -1.6 -1.8 -2.9 3.1z" fill="#455ccf"/>
<path d="M211.2 301.9l2.5 -1.0 -1.6 -2.4 -2.6 1.0z" fill="#99fe42"/>
<path d="M251.2 308.8l2.4 1.5 -1.3 -2.2 -2.4 -1.6z" fill="#4af880"/>
<path d="M281.9 325.7l2.5 0.5 -1.3 -2.2 -2.5 -0.5z" fill="#20c7df"/>
<path d="M178.0 330.2l2.5 -3.1 -2.0 -1.7 -2.6 3.2z" fill="#35abf8"/>
<path d="M233.4 324.9l2.9 -1.7 -1.4 -2.2 -2.9 1.8z" fill="#1bd0d5"/>
<path d="M213.2 342.2l2.9 -2.9 -1.6 -1.9 -2.9 3.0z" fill="#476ee6"/>
<path d="M216.1 339.3l2.9 -2.8 -1.5 -1.9 -2.9 2.9z" fill="#4680f6"/>
<path d="M320.0 334.9l2.5 0.5 -1.3 -2.0 -2.5 -0.5z" fill="#4391fe"/>
<path d="M230.5 326.8l2.9 -1.9 -1.4 -2.2 -2.9 2.0z" fill="#20c7df"/>
<path d="M208.6 303.0l2.5 -1.1 -1.6 -2.4 -2.6 1.2z" fill="#8fff49"/>
<path d="M180.6 327.1l2.5 -3.0 -2.0 -1.8 -2.6 3.0z" fill="#28bceb"/>
<path d="M219.0 336.5l2.9 -2.7 -1.5 -2.0 -2.9 2.7z" fill="#448ffe"/>
<path d="M227.7 329.0l2.9 -2.1 -1.4 -2.1 -2.9 2.2z" fill="#28bceb"/>
<path d="M221.9 333.8l2.9 -2.5 -1.5 -2.0 -2.9 2.6z" fill="#3d9efe"/>
<path d="M224.8 331.3l2.9 -2.3 -1.5 -2.1 -2.9 2.4z" fill="#33adf7"/>
<path d="M183.1 324.1l2.5 -2.8 -1.9 -1.9 -2.6 2.9z" fill="#1ccdd8"/>
<path d="M206.1 304.4l2.5 -1.3 -1.7 -2.4 -2.6 1.4z" fill="#84ff51"/>
<path d="M190.4 273.0l2.5 4.1 -1.5 -3.1 -2.5 -4.2z" fill="#fd8a26"/>
<path d="M273.6 329.1l2.3 2.7 -1.1 -1.7 -2.3 -2.7z" fill="#3aa3fc"/>
<path d="M185.7 321.3l2.5 -2.7 -1.9 -1.9 -2.6 2.7z" fill="#18d9c8"/>
<path d="M203.5 305.9l2.5 -1.5 -1.7 -2.3 -2.6 1.6z" fill="#79fe59"/>
<path d="M279.4 325.2l2.5 0.5 -1.3 -2.2 -2.5 -0.5z" fill="#1fc9dd"/>
<path d="M188.2 318.6l2.5 -2.5 -1.9 -2.0 -2.6 2.6z" fill="#1ae4b6"/>
<path d="M201.0 307.6l2.5 -1.7 -1.7 -2.3 -2.6 1.8z" fill="#69fd66"/>
<path d="M190.8 316.1l2.5 -2.4 -1.9 -2.1 -2.6 2.4z" fill="#25eca7"/>
<path d="M317.6 334.4l2.5 0.5 -1.3 -2.0 -2.5 -0.5z" fill="#4294ff"/>
<path d="M198.4 309.5l2.5 -1.9 -1.8 -2.2 -2.6 1.9z" fill="#55fa76"/>
<path d="M248.9 307.5l2.4 1.4 -1.3 -2.2 -2.4 -1.4z" fill="#59fb73"/>
<path d="M193.3 313.7l2.5 -2.2 -1.8 -2.1 -2.6 2.3z" fill="#32f298"/>
<path d="M195.9 311.5l2.5 -2.0 -1.8 -2.2 -2.6 2.1z" fill="#43f787"/>
<path d="M218.2 330.1l2.5 6.8 -1.5 -1.8 -2.5 -7.0z" fill="#4099ff"/>
<path d="M277.0 324.7l2.5 0.5 -1.3 -2.2 -2.5 -0.5z" fill="#1ccdd8"/>
<path d="M315.1 334.0l2.5 0.5 -1.3 -2.0 -2.5 -0.5z" fill="#4099ff"/>
<path d="M290.9 351.6l2.3 3.4 -1.0 -1.5 -2.3 -3.4z" fill="#341b51"/>
<path d="M204.3 297.9l2.5 5.1 -1.5 -2.7 -2.5 -5.2z" fill="#a9fb39"/>
<path d="M246.5 306.2l2.4 1.2 -1.3 -2.3 -2.4 -1.3z" fill="#69fd66"/>
<path d="M271.2 326.6l2.3 2.5 -1.2 -1.8 -2.3 -2.6z" fill="#2eb4f2"/>
<path d="M153.0 306.1l2.5 -10.1 -1.7 -2.5 -2.5 10.3z" fill="#99fe42"/>
<path d="M274.5 324.2l2.5 0.5 -1.3 -2.2 -2.5 -0.5z" fill="#1bd0d5"/>
<path d="M142.4 354.7l2.5 -8.6 -1.8 -1.6 -2.5 8.7z" fill="#3a2d79"/>
<path d="M187.9 268.9l2.5 4.0 -1.5 -3.2 -2.5 -4.1z" fill="#f66c19"/>
<path d="M312.7 333.5l2.5 0.5 -1.3 -2.0 -2.5 -0.5z" fill="#3e9bfe"/>
<path d="M244.2 305.2l2.4 1.1 -1.3 -2.3 -2.4 -1.1z" fill="#75fe5c"/>
<path d="M272.1 323.7l2.5 0.5 -1.3 -2.2 -2.5 -0.5z" fill="#1ad2d2"/>
<path d="M310.2 333.0l2.5 0.5 -1.3 -2.0 -2.5 -0.5z" fill="#3d9efe"/>
<path d="M268.9 324.2l2.3 2.4 -1.2 -1.8 -2.3 -2.5z" fill="#23c3e4"/>
<path d="M288.6 348.3l2.3 3.3 -1.0 -1.5 -2.3 -3.3z" fill="#3c3286"/>
<path d="M215.7 323.6l2.5 6.5 -1.5 -2.0 -2.5 -6.7z" fill="#23c3e4"/>
<path d="M269.6 323.2l2.5 0.5 -1.3 -2.3 -2.5 -0.5z" fill="#19d5cd"/>
<path d="M241.8 304.2l2.4 0.9 -1.4 -2.3 -2.4 -1.0z" fill="#80ff53"/>
<path d="M307.7 332.5l2.5 0.5 -1.3 -2.0 -2.5 -0.5z" fill="#3aa3fc"/>
<path d="M201.8 292.9l2.5 5.0 -1.5 -2.8 -2.5 -5.0z" fill="#c8ef34"/>
<path d="M185.4 264.9l2.5 4.0 -1.5 -3.2 -2.5 -4.1z" fill="#eb500e"/>
<path d="M144.8 346.1l2.5 -8.5 -1.8 -1.7 -2.5 8.6z" fill="#4664da"/>
<path d="M155.5 296.0l2.5 -9.3 -1.7 -2.7 -2.5 9.6z" fill="#d7e535"/>
<path d="M267.1 322.8l2.5 0.5 -1.3 -2.3 -2.5 -0.5z" fill="#18d7ca"/>
<path d="M266.6 321.9l2.3 2.3 -1.2 -1.9 -2.3 -2.3z" fill="#1bd0d5"/>
<path d="M239.5 303.4l2.4 0.8 -1.4 -2.4 -2.4 -0.8z" fill="#88ff4e"/>
<path d="M305.3 332.1l2.5 0.5 -1.3 -2.1 -2.5 -0.5z" fill="#38a5fb"/>
<path d="M343.4 341.0l2.5 0.5 -1.3 -1.9 -2.5 -0.5z" fill="#4771e9"/>
<path d="M286.3 345.1l2.3 3.2 -1.1 -1.6 -2.3 -3.2z" fill="#4249b1"/>
<path d="M264.7 322.3l2.5 0.5 -1.3 -2.3 -2.5 -0.5z" fill="#18d9c8"/>
<path d="M237.1 302.8l2.4 0.7 -1.4 -2.4 -2.4 -0.7z" fill="#8fff49"/>
<path d="M302.8 331.6l2.5 0.5 -1.3 -2.1 -2.5 -0.5z" fill="#37a8fa"/>
<path d="M227.0 350.4l2.5 4.9 -1.4 -1.5 -2.5 -5.0z" fill="#36215f"/>
<path d="M341.0 340.5l2.5 0.5 -1.3 -1.9 -2.5 -0.5z" fill="#4773eb"/>
<path d="M264.2 319.8l2.3 2.1 -1.2 -1.9 -2.3 -2.2z" fill="#18d9c8"/>
<path d="M182.9 261.6l2.5 3.3 -1.5 -3.3 -2.5 -3.4z" fill="#dd3d08"/>
<path d="M262.2 321.8l2.5 0.5 -1.3 -2.3 -2.5 -0.5z" fill="#18ddc2"/>
<path d="M199.3 288.4l2.5 4.6 -1.5 -2.9 -2.5 -4.6z" fill="#e3db38"/>
<path d="M213.2 317.5l2.5 6.1 -1.5 -2.2 -2.5 -6.2z" fill="#19e2bb"/>
<path d="M234.8 302.3l2.4 0.5 -1.4 -2.4 -2.4 -0.5z" fill="#96fe44"/>
<path d="M147.3 337.5l2.5 -8.5 -1.8 -1.8 -2.5 8.6z" fill="#4196ff"/>
<path d="M300.4 331.1l2.5 0.5 -1.3 -2.1 -2.5 -0.5z" fill="#33adf7"/>
<path d="M158.0 286.7l2.5 -7.8 -1.7 -2.9 -2.5 7.9z" fill="#f9bc39"/>
<path d="M338.5 340.1l2.5 0.5 -1.3 -1.9 -2.5 -0.5z" fill="#4778f0"/>
<path d="M284.0 342.1l2.3 3.1 -1.1 -1.6 -2.3 -3.1z" fill="#455ccf"/>
<path d="M259.8 321.3l2.5 0.5 -1.3 -2.3 -2.5 -0.5z" fill="#18dec0"/>
<path d="M232.4 301.9l2.4 0.4 -1.4 -2.4 -2.4 -0.4z" fill="#99fe42"/>
<path d="M297.9 330.7l2.5 0.5 -1.3 -2.1 -2.5 -0.5z" fill="#31aff5"/>
<path d="M261.9 317.7l2.3 2.0 -1.2 -2.0 -2.4 -2.1z" fill="#19e3b9"/>
<path d="M336.0 339.6l2.5 0.5 -1.3 -1.9 -2.5 -0.5z" fill="#477bf2"/>
<path d="M180.4 259.2l2.5 2.4 -1.5 -3.4 -2.5 -2.4z" fill="#d02f05"/>
<path d="M257.3 320.8l2.5 0.5 -1.3 -2.3 -2.5 -0.5z" fill="#19e2bb"/>
<path d="M230.1 301.6l2.4 0.2 -1.4 -2.5 -2.4 -0.3z" fill="#9cfe40"/>
<path d="M224.6 344.8l2.5 5.6 -1.4 -1.6 -2.5 -5.7z" fill="#4146ac"/>
<path d="M295.4 330.2l2.5 0.5 -1.3 -2.1 -2.5 -0.5z" fill="#2fb2f4"/>
<path d="M160.5 278.9l2.5 -6.6 -1.6 -3.0 -2.5 6.7z" fill="#fd8d27"/>
<path d="M333.6 339.2l2.5 0.5 -1.3 -1.9 -2.5 -0.5z" fill="#467df4"/>
<path d="M196.8 284.2l2.5 4.1 -1.5 -3.0 -2.5 -4.2z" fill="#f4c73a"/>
<path d="M281.7 339.1l2.3 3.0 -1.1 -1.6 -2.3 -3.0z" fill="#476ee6"/>
<path d="M259.6 315.9l2.3 1.9 -1.2 -2.0 -2.4 -1.9z" fill="#20eaac"/>
<path d="M227.7 301.5l2.4 0.1 -1.5 -2.5 -2.4 -0.1z" fill="#9ffd3f"/>
<path d="M254.8 320.3l2.5 0.5 -1.3 -2.3 -2.5 -0.5z" fill="#19e3b9"/>
<path d="M149.8 329.1l2.5 -10.3 -1.8 -2.0 -2.5 10.5z" fill="#1ccdd8"/>
<path d="M293.0 329.7l2.5 0.5 -1.3 -2.1 -2.5 -0.5z" fill="#2cb7f0"/>
<path d="M165.0 355.6l2.5 -5.9 -2.2 -1.4 -2.6 5.8z" fill="#36215f"/>
<path d="M210.7 311.5l2.5 6.0 -1.5 -2.4 -2.5 -6.1z" fill="#38f491"/>
<path d="M177.9 257.2l2.5 2.0 -1.5 -3.4 -2.5 -2.0z" fill="#c52603"/>
<path d="M331.1 338.7l2.5 0.5 -1.3 -1.9 -2.5 -0.5z" fill="#4682f8"/>
<path d="M225.4 301.5l2.4 -0.0 -1.5 -2.5 -2.4 0.0z" fill="#9ffd3f"/>
<path d="M252.0 320.5l2.9 -0.2 -1.3 -2.3 -2.9 0.2z" fill="#1ae4b6"/>
<path d="M163.0 272.3l2.5 -5.8 -1.6 -3.2 -2.5 5.9z" fill="#f26014"/>
<path d="M290.5 329.3l2.5 0.5 -1.3 -2.1 -2.5 -0.5z" fill="#2ab9ee"/>
<path d="M257.2 314.1l2.3 1.7 -1.3 -2.1 -2.4 -1.8z" fill="#2aefa1"/>
<path d="M167.5 349.7l2.5 -4.1 -2.1 -1.4 -2.6 4.1z" fill="#4040a2"/>
<path d="M222.8 301.7l2.5 -0.2 -1.5 -2.5 -2.5 0.2z" fill="#9ffd3f"/>
<path d="M279.4 336.2l2.3 2.8 -1.1 -1.7 -2.3 -2.9z" fill="#4680f6"/>
<path d="M328.7 338.3l2.5 0.5 -1.3 -1.9 -2.5 -0.5z" fill="#4685fa"/>
<path d="M249.1 321.0l2.9 -0.5 -1.3 -2.3 -2.9 0.5z" fill="#19e3b9"/>
<path d="M175.4 256.2l2.5 1.0 -1.5 -3.4 -2.5 -1.0z" fill="#be2102"/>
<path d="M165.5 266.5l2.5 -3.8 -1.6 -3.2 -2.5 3.9z" fill="#e4450a"/>
<path d="M194.3 280.1l2.5 4.1 -1.5 -3.0 -2.5 -4.1z" fill="#fcb136"/>
<path d="M170.0 345.6l2.5 -3.7 -2.1 -1.5 -2.5 3.8z" fill="#4559cb"/>
<path d="M288.1 328.8l2.5 0.5 -1.3 -2.2 -2.5 -0.5z" fill="#28bceb"/>
<path d="M220.3 302.1l2.5 -0.4 -1.5 -2.5 -2.5 0.4z" fill="#9ffd3f"/>
<path d="M222.1 338.8l2.5 6.0 -1.5 -1.7 -2.5 -6.2z" fill="#476ee6"/>
<path d="M246.3 321.7l2.9 -0.7 -1.3 -2.3 -2.9 0.7z" fill="#19e2bb"/>
<path d="M326.2 337.8l2.5 0.5 -1.3 -2.0 -2.5 -0.5z" fill="#4687fb"/>
<path d="M168.0 262.7l2.5 -3.4 -1.6 -3.3 -2.5 3.5z" fill="#d43305"/>
<path d="M172.9 257.3l2.5 -1.1 -1.5 -3.4 -2.5 1.1z" fill="#be2102"/>
<path d="M172.5 341.9l2.5 -3.5 -2.1 -1.5 -2.5 3.6z" fill="#476ee6"/>
<path d="M254.9 312.5l2.3 1.6 -1.3 -2.1 -2.4 -1.7z" fill="#38f491"/>
<path d="M217.8 302.6l2.5 -0.6 -1.6 -2.5 -2.5 0.6z" fill="#9cfe40"/>
<path d="M170.4 259.3l2.5 -2.0 -1.5 -3.3 -2.5 2.0z" fill="#c82803"/>
<path d="M243.4 322.7l2.9 -1.0 -1.3 -2.3 -2.9 1.0z" fill="#18dec0"/>
<path d="M285.6 328.3l2.5 0.5 -1.3 -2.2 -2.5 -0.5z" fill="#25c0e7"/>
<path d="M175.0 338.4l2.5 -3.3 -2.1 -1.6 -2.5 3.4z" fill="#4682f8"/>
<path d="M203.4 356.0l2.9 -3.1 -1.7 -1.6 -2.9 3.1z" fill="#341b51"/>
<path d="M152.3 318.8l2.5 -10.5 -1.7 -2.3 -2.5 10.7z" fill="#35f394"/>
<path d="M215.3 303.4l2.5 -0.7 -1.6 -2.5 -2.5 0.8z" fill="#96fe44"/>
<path d="M277.0 333.5l2.3 2.7 -1.1 -1.7 -2.3 -2.8z" fill="#4391fe"/>
<path d="M240.6 324.0l2.9 -1.2 -1.4 -2.3 -2.9 1.3z" fill="#18d9c8"/>
<path d="M208.2 305.6l2.5 5.9 -1.5 -2.5 -2.5 -6.1z" fill="#71fe5f"/>
<path d="M323.8 337.3l2.5 0.5 -1.3 -2.0 -2.5 -0.5z" fill="#458afc"/>
<path d="M206.2 353.0l2.9 -3.0 -1.6 -1.6 -2.9 3.1z" fill="#3c3286"/>
<path d="M177.6 335.0l2.5 -3.2 -2.0 -1.7 -2.5 3.2z" fill="#4196ff"/>
<path d="M209.1 349.9l2.9 -3.0 -1.6 -1.7 -2.9 3.1z" fill="#4146ac"/>
<path d="M237.7 325.4l2.9 -1.5 -1.4 -2.3 -2.9 1.5z" fill="#1ad4d0"/>
<path d="M212.8 304.3l2.5 -0.9 -1.6 -2.4 -2.5 1.0z" fill="#8fff49"/>
<path d="M212.0 346.9l2.9 -2.9 -1.6 -1.8 -2.9 3.0z" fill="#4559cb"/>
<path d="M180.1 331.8l2.5 -3.0 -2.0 -1.7 -2.5 3.1z" fill="#35abf8"/>
<path d="M252.6 311.0l2.3 1.5 -1.3 -2.2 -2.4 -1.5z" fill="#46f884"/>
<path d="M283.2 327.8l2.5 0.5 -1.3 -2.2 -2.5 -0.5z" fill="#23c3e4"/>
<path d="M234.8 327.1l2.9 -1.7 -1.4 -2.2 -2.9 1.7z" fill="#1ecbda"/>
<path d="M214.8 344.0l2.9 -2.8 -1.6 -1.9 -2.9 2.9z" fill="#466be3"/>
<path d="M210.3 305.4l2.5 -1.1 -1.6 -2.4 -2.5 1.1z" fill="#88ff4e"/>
<path d="M232.0 329.0l2.9 -1.9 -1.4 -2.2 -2.9 1.9z" fill="#23c3e4"/>
<path d="M217.7 341.2l2.9 -2.7 -1.5 -1.9 -2.9 2.8z" fill="#467df4"/>
<path d="M182.6 328.8l2.5 -2.9 -2.0 -1.8 -2.5 3.0z" fill="#28bceb"/>
<path d="M191.9 276.1l2.5 4.0 -1.5 -3.1 -2.5 -4.1z" fill="#fe962b"/>
<path d="M321.3 336.9l2.5 0.5 -1.3 -2.0 -2.5 -0.5z" fill="#448ffe"/>
<path d="M229.1 331.1l2.9 -2.1 -1.4 -2.1 -2.9 2.1z" fill="#2cb7f0"/>
<path d="M220.5 338.4l2.9 -2.6 -1.5 -2.0 -2.9 2.7z" fill="#458cfd"/>
<path d="M226.3 333.4l2.9 -2.3 -1.5 -2.1 -2.9 2.3z" fill="#35abf8"/>
<path d="M223.4 335.8l2.9 -2.5 -1.5 -2.0 -2.9 2.5z" fill="#3e9bfe"/>
<path d="M207.8 306.7l2.5 -1.3 -1.7 -2.4 -2.5 1.3z" fill="#7dff56"/>
<path d="M185.1 325.9l2.5 -2.8 -1.9 -1.9 -2.5 2.8z" fill="#1ecbda"/>
<path d="M205.3 308.2l2.5 -1.5 -1.7 -2.3 -2.5 1.5z" fill="#71fe5f"/>
<path d="M187.6 323.2l2.5 -2.6 -1.9 -1.9 -2.5 2.7z" fill="#18d7ca"/>
<path d="M202.7 309.8l2.5 -1.7 -1.7 -2.3 -2.5 1.7z" fill="#61fc6c"/>
<path d="M280.7 327.4l2.5 0.5 -1.3 -2.2 -2.5 -0.5z" fill="#20c7df"/>
<path d="M190.2 320.6l2.5 -2.5 -1.9 -2.0 -2.5 2.5z" fill="#19e2bb"/>
<path d="M274.7 330.9l2.3 2.6 -1.1 -1.7 -2.3 -2.7z" fill="#3aa3fc"/>
<path d="M200.2 311.7l2.5 -1.8 -1.8 -2.2 -2.5 1.9z" fill="#52fa7a"/>
<path d="M192.7 318.1l2.5 -2.3 -1.9 -2.1 -2.5 2.4z" fill="#20eaac"/>
<path d="M197.7 313.6l2.5 -2.0 -1.8 -2.2 -2.5 2.0z" fill="#3ff68a"/>
<path d="M195.2 315.8l2.5 -2.2 -1.8 -2.1 -2.5 2.2z" fill="#2ff19b"/>
<path d="M250.2 309.7l2.3 1.3 -1.3 -2.2 -2.4 -1.4z" fill="#55fa76"/>
<path d="M318.8 336.4l2.5 0.5 -1.3 -2.0 -2.5 -0.5z" fill="#4391fe"/>
<path d="M219.6 332.1l2.5 6.6 -1.5 -1.8 -2.5 -6.8z" fill="#4196ff"/>
<path d="M278.2 326.9l2.5 0.5 -1.3 -2.2 -2.5 -0.5z" fill="#1fc9dd"/>
<path d="M205.8 300.6l2.5 5.0 -1.5 -2.7 -2.5 -5.1z" fill="#a1fd3d"/>
<path d="M316.4 336.0l2.5 0.5 -1.3 -2.0 -2.5 -0.5z" fill="#4294ff"/>
<path d="M154.7 308.4l2.5 -9.8 -1.7 -2.5 -2.5 10.1z" fill="#92ff47"/>
<path d="M247.9 308.5l2.3 1.2 -1.3 -2.3 -2.4 -1.2z" fill="#61fc6c"/>
<path d="M189.4 272.1l2.5 4.0 -1.5 -3.2 -2.5 -4.0z" fill="#f9781e"/>
<path d="M272.4 328.4l2.3 2.5 -1.2 -1.8 -2.3 -2.5z" fill="#2fb2f4"/>
<path d="M292.0 353.1l2.3 3.4 -1.0 -1.5 -2.3 -3.4z" fill="#341b51"/>
<path d="M275.8 326.4l2.5 0.5 -1.3 -2.2 -2.5 -0.5z" fill="#1ecbda"/>
<path d="M144.2 356.2l2.4 -8.5 -1.8 -1.6 -2.5 8.6z" fill="#3a2d79"/>
<path d="M313.9 335.5l2.5 0.5 -1.3 -2.0 -2.5 -0.5z" fill="#4099ff"/>
<path d="M245.6 307.5l2.3 1.0 -1.3 -2.3 -2.4 -1.1z" fill="#6dfe62"/>
<path d="M273.3 326.0l2.5 0.5 -1.3 -2.2 -2.5 -0.5z" fill="#1bd0d5"/>
<path d="M311.5 335.1l2.5 0.5 -1.3 -2.0 -2.5 -0.5z" fill="#3e9bfe"/>
<path d="M270.1 326.1l2.3 2.4 -1.2 -1.8 -2.3 -2.4z" fill="#25c0e7"/>
<path d="M217.1 325.8l2.5 6.3 -1.5 -2.0 -2.5 -6.5z" fill="#27bee9"/>
<path d="M243.2 306.6l2.3 0.9 -1.4 -2.3 -2.4 -0.9z" fill="#79fe59"/>
<path d="M270.9 325.5l2.5 0.5 -1.3 -2.3 -2.5 -0.5z" fill="#1ad2d2"/>
<path d="M289.7 349.9l2.3 3.3 -1.0 -1.5 -2.3 -3.3z" fill="#3c3286"/>
<path d="M186.9 268.3l2.5 3.9 -1.5 -3.2 -2.5 -4.0z" fill="#f05b12"/>
<path d="M203.3 295.8l2.5 4.9 -1.5 -2.8 -2.5 -5.0z" fill="#c1f334"/>
<path d="M309.0 334.6l2.5 0.5 -1.3 -2.0 -2.5 -0.5z" fill="#3d9efe"/>
<path d="M157.2 298.5l2.5 -9.1 -1.7 -2.7 -2.5 9.3z" fill="#d2e935"/>
<path d="M146.7 347.7l2.4 -8.5 -1.8 -1.7 -2.5 8.5z" fill="#4664da"/>
<path d="M268.4 325.0l2.5 0.5 -1.3 -2.3 -2.5 -0.5z" fill="#1ad4d0"/>
<path d="M240.9 305.8l2.3 0.8 -1.4 -2.4 -2.4 -0.8z" fill="#80ff53"/>
<path d="M267.8 323.8l2.3 2.2 -1.2 -1.9 -2.3 -2.3z" fill="#1ccdd8"/>
<path d="M306.5 334.1l2.5 0.5 -1.3 -2.1 -2.5 -0.5z" fill="#3aa3fc"/>
<path d="M344.7 342.9l2.5 0.4 -1.3 -1.9 -2.5 -0.5z" fill="#476ee6"/>
<path d="M265.9 324.6l2.5 0.5 -1.3 -2.3 -2.5 -0.5z" fill="#18d7ca"/>
<path d="M287.4 346.7l2.3 3.2 -1.1 -1.6 -2.3 -3.2z" fill="#4249b1"/>
<path d="M238.5 305.2l2.3 0.6 -1.4 -2.4 -2.4 -0.7z" fill="#88ff4e"/>
<path d="M304.1 333.7l2.5 0.5 -1.3 -2.1 -2.5 -0.5z" fill="#38a5fb"/>
<path d="M184.4 265.0l2.5 3.3 -1.5 -3.3 -2.5 -3.3z" fill="#e4450a"/>
<path d="M228.5 351.9l2.5 4.9 -1.4 -1.5 -2.5 -4.9z" fill="#36215f"/>
<path d="M200.8 291.3l2.5 4.5 -1.5 -2.9 -2.5 -4.6z" fill="#dde037"/>
<path d="M342.2 342.4l2.5 0.4 -1.3 -1.9 -2.5 -0.5z" fill="#4771e9"/>
<path d="M265.5 321.7l2.3 2.1 -1.2 -1.9 -2.3 -2.1z" fill="#18d7ca"/>
<path d="M159.7 289.4l2.5 -7.6 -1.7 -2.9 -2.5 7.8z" fill="#f6c33a"/>
<path d="M263.5 324.1l2.5 0.5 -1.3 -2.3 -2.5 -0.5z" fill="#18d9c8"/>
<path d="M214.7 319.9l2.5 5.9 -1.5 -2.2 -2.5 -6.1z" fill="#18dec0"/>
<path d="M236.2 304.7l2.3 0.5 -1.4 -2.4 -2.4 -0.5z" fill="#8fff49"/>
<path d="M149.1 339.2l2.4 -8.4 -1.8 -1.8 -2.5 8.5z" fill="#4196ff"/>
<path d="M301.6 333.2l2.5 0.5 -1.3 -2.1 -2.5 -0.5z" fill="#37a8fa"/>
<path d="M339.8 342.0l2.5 0.4 -1.3 -1.9 -2.5 -0.5z" fill="#4776ee"/>
<path d="M261.0 323.6l2.5 0.5 -1.3 -2.3 -2.5 -0.5z" fill="#18dbc5"/>
<path d="M285.1 343.7l2.3 3.0 -1.1 -1.6 -2.3 -3.1z" fill="#455ccf"/>
<path d="M233.9 304.3l2.3 0.4 -1.4 -2.4 -2.4 -0.4z" fill="#92ff47"/>
<path d="M181.9 262.6l2.5 2.3 -1.5 -3.4 -2.5 -2.4z" fill="#d83706"/>
<path d="M299.2 332.8l2.5 0.5 -1.3 -2.1 -2.5 -0.5z" fill="#33adf7"/>
<path d="M263.1 319.8l2.3 2.0 -1.2 -2.0 -2.3 -2.0z" fill="#19e2bb"/>
<path d="M337.3 341.5l2.5 0.4 -1.3 -1.9 -2.5 -0.5z" fill="#4778f0"/>
<path d="M162.2 281.8l2.5 -6.5 -1.6 -3.0 -2.5 6.6z" fill="#fe992c"/>
<path d="M231.5 304.1l2.3 0.2 -1.4 -2.5 -2.4 -0.2z" fill="#96fe44"/>
<path d="M258.6 323.2l2.5 0.5 -1.3 -2.3 -2.5 -0.5z" fill="#18dec0"/>
<path d="M296.7 332.3l2.5 0.5 -1.3 -2.1 -2.5 -0.5z" fill="#31aff5"/>
<path d="M198.3 287.2l2.5 4.1 -1.5 -3.0 -2.5 -4.1z" fill="#efcd3a"/>
<path d="M226.0 346.5l2.5 5.5 -1.4 -1.6 -2.5 -5.6z" fill="#4146ac"/>
<path d="M229.2 304.0l2.3 0.1 -1.5 -2.5 -2.4 -0.1z" fill="#99fe42"/>
<path d="M334.9 341.1l2.5 0.4 -1.3 -1.9 -2.5 -0.5z" fill="#477bf2"/>
<path d="M256.1 322.7l2.5 0.5 -1.3 -2.3 -2.5 -0.5z" fill="#18e0bd"/>
<path d="M260.8 317.9l2.3 1.8 -1.2 -2.0 -2.3 -1.9z" fill="#1de7b2"/>
<path d="M282.8 340.8l2.3 2.9 -1.1 -1.6 -2.3 -3.0z" fill="#476ee6"/>
<path d="M179.4 260.6l2.5 2.0 -1.5 -3.4 -2.5 -2.0z" fill="#ce2d04"/>
<path d="M151.6 330.9l2.5 -10.0 -1.8 -2.0 -2.5 10.3z" fill="#1ecbda"/>
<path d="M212.2 314.0l2.5 5.8 -1.5 -2.4 -2.5 -6.0z" fill="#32f298"/>
<path d="M294.3 331.9l2.5 0.5 -1.3 -2.1 -2.5 -0.5z" fill="#2fb2f4"/>
<path d="M167.2 357.1l2.5 -5.9 -2.2 -1.4 -2.5 5.9z" fill="#372466"/>
<path d="M164.6 275.4l2.5 -5.7 -1.6 -3.2 -2.5 5.8z" fill="#f66c19"/>
<path d="M226.9 304.0l2.3 -0.0 -1.5 -2.5 -2.4 0.0z" fill="#99fe42"/>
<path d="M332.4 340.6l2.5 0.4 -1.3 -1.9 -2.5 -0.5z" fill="#467df4"/>
<path d="M253.3 322.9l2.8 -0.2 -1.3 -2.3 -2.9 0.2z" fill="#18e0bd"/>
<path d="M291.8 331.4l2.5 0.5 -1.3 -2.1 -2.5 -0.5z" fill="#2cb7f0"/>
<path d="M224.4 304.2l2.5 -0.2 -1.5 -2.5 -2.5 0.2z" fill="#99fe42"/>
<path d="M176.9 259.6l2.5 1.0 -1.5 -3.4 -2.5 -1.0z" fill="#c82803"/>
<path d="M258.5 316.2l2.3 1.7 -1.3 -2.1 -2.3 -1.7z" fill="#27eea4"/>
<path d="M169.7 351.1l2.5 -4.1 -2.1 -1.4 -2.5 4.1z" fill="#4040a2"/>
<path d="M167.1 269.7l2.5 -3.8 -1.6 -3.2 -2.5 3.8z" fill="#e84b0c"/>
<path d="M250.4 323.4l2.8 -0.5 -1.3 -2.3 -2.9 0.5z" fill="#18e0bd"/>
<path d="M195.8 283.2l2.5 4.0 -1.5 -3.0 -2.5 -4.1z" fill="#fbb838"/>
<path d="M329.9 340.2l2.5 0.4 -1.3 -1.9 -2.5 -0.5z" fill="#4682f8"/>
<path d="M280.5 337.9l2.3 2.8 -1.1 -1.7 -2.3 -2.8z" fill="#4680f6"/>
<path d="M221.9 304.5l2.5 -0.4 -1.5 -2.5 -2.5 0.4z" fill="#99fe42"/>
<path d="M169.6 265.9l2.5 -3.3 -1.6 -3.3 -2.5 3.4z" fill="#dc3b07"/>
<path d="M174.5 260.7l2.5 -1.1 -1.5 -3.4 -2.5 1.1z" fill="#c82803"/>
<path d="M172.1 347.0l2.5 -3.7 -2.1 -1.5 -2.5 3.7z" fill="#4559cb"/>
<path d="M289.3 331.0l2.5 0.5 -1.3 -2.2 -2.5 -0.5z" fill="#2ab9ee"/>
<path d="M247.6 324.1l2.8 -0.7 -1.3 -2.3 -2.9 0.7z" fill="#18dec0"/>
<path d="M172.0 262.6l2.5 -1.9 -1.5 -3.3 -2.5 2.0z" fill="#d02f05"/>
<path d="M223.5 340.6l2.5 5.9 -1.5 -1.7 -2.5 -6.0z" fill="#466be3"/>
<path d="M219.4 305.1l2.5 -0.5 -1.6 -2.5 -2.5 0.6z" fill="#96fe44"/>
<path d="M327.5 339.8l2.5 0.4 -1.3 -2.0 -2.5 -0.5z" fill="#4685fa"/>
<path d="M174.6 343.3l2.5 -3.5 -2.1 -1.5 -2.5 3.5z" fill="#476ee6"/>
<path d="M256.2 314.7l2.3 1.6 -1.3 -2.1 -2.3 -1.6z" fill="#32f298"/>
<path d="M244.8 325.0l2.8 -1.0 -1.3 -2.3 -2.9 1.0z" fill="#18dbc5"/>
<path d="M286.9 330.5l2.5 0.5 -1.3 -2.2 -2.5 -0.5z" fill="#28bceb"/>
<path d="M216.9 305.8l2.5 -0.7 -1.6 -2.5 -2.5 0.7z" fill="#8fff49"/>
<path d="M177.1 339.9l2.5 -3.3 -2.1 -1.6 -2.5 3.3z" fill="#4682f8"/>
<path d="M154.0 320.8l2.5 -10.2 -1.7 -2.3 -2.5 10.5z" fill="#32f298"/>
<path d="M209.7 308.3l2.5 5.8 -1.5 -2.5 -2.5 -5.9z" fill="#69fd66"/>
<path d="M241.9 326.2l2.8 -1.2 -1.4 -2.3 -2.9 1.2z" fill="#19d5cd"/>
<path d="M205.0 357.5l2.8 -3.0 -1.7 -1.6 -2.9 3.1z" fill="#341b51"/>
<path d="M278.2 335.3l2.3 2.7 -1.1 -1.7 -2.3 -2.7z" fill="#4391fe"/>
<path d="M325.0 339.3l2.5 0.4 -1.3 -2.0 -2.5 -0.5z" fill="#4687fb"/>
<path d="M214.4 306.7l2.5 -0.9 -1.6 -2.4 -2.5 0.9z" fill="#88ff4e"/>
<path d="M179.6 336.6l2.5 -3.1 -2.0 -1.7 -2.5 3.2z" fill="#4196ff"/>
<path d="M207.9 354.5l2.8 -3.0 -1.6 -1.6 -2.9 3.0z" fill="#3b2f80"/>
<path d="M239.1 327.6l2.8 -1.4 -1.4 -2.3 -2.9 1.5z" fill="#1bd0d5"/>
<path d="M210.7 351.6l2.8 -2.9 -1.6 -1.7 -2.9 3.0z" fill="#4143a7"/>
<path d="M193.4 279.3l2.5 4.0 -1.5 -3.1 -2.5 -4.0z" fill="#fe9e2f"/>
<path d="M182.1 333.5l2.5 -3.0 -2.0 -1.7 -2.5 3.0z" fill="#37a8fa"/>
<path d="M212.0 307.8l2.5 -1.1 -1.6 -2.4 -2.5 1.1z" fill="#80ff53"/>
<path d="M253.9 313.3l2.3 1.4 -1.3 -2.2 -2.3 -1.5z" fill="#3ff68a"/>
<path d="M236.3 329.3l2.8 -1.6 -1.4 -2.2 -2.9 1.7z" fill="#1fc9dd"/>
<path d="M284.4 330.0l2.5 0.5 -1.3 -2.2 -2.5 -0.5z" fill="#27bee9"/>
<path d="M213.6 348.6l2.8 -2.9 -1.6 -1.8 -2.9 2.9z" fill="#4456c7"/>
<path d="M216.4 345.8l2.8 -2.8 -1.6 -1.9 -2.9 2.8z" fill="#4669e0"/>
<path d="M233.4 331.1l2.8 -1.9 -1.4 -2.2 -2.9 1.9z" fill="#27bee9"/>
<path d="M184.6 330.5l2.5 -2.8 -2.0 -1.8 -2.5 2.9z" fill="#2ab9ee"/>
<path d="M209.5 309.0l2.5 -1.3 -1.7 -2.4 -2.5 1.3z" fill="#75fe5c"/>
<path d="M219.2 343.0l2.8 -2.7 -1.5 -1.9 -2.9 2.7z" fill="#477bf2"/>
<path d="M230.6 333.2l2.8 -2.0 -1.4 -2.1 -2.9 2.1z" fill="#2eb4f2"/>
<path d="M222.1 340.3l2.8 -2.5 -1.5 -2.0 -2.9 2.6z" fill="#458afc"/>
<path d="M227.8 335.4l2.8 -2.2 -1.5 -2.1 -2.9 2.3z" fill="#37a8fa"/>
<path d="M322.6 338.9l2.5 0.4 -1.3 -2.0 -2.5 -0.5z" fill="#458cfd"/>
<path d="M224.9 337.8l2.8 -2.4 -1.5 -2.0 -2.9 2.5z" fill="#4099ff"/>
<path d="M187.1 327.7l2.5 -2.7 -1.9 -1.9 -2.5 2.8z" fill="#1fc9dd"/>
<path d="M207.0 310.5l2.5 -1.4 -1.7 -2.3 -2.5 1.5z" fill="#69fd66"/>
<path d="M189.6 325.0l2.5 -2.5 -1.9 -1.9 -2.5 2.6z" fill="#19d5cd"/>
<path d="M204.5 312.1l2.5 -1.6 -1.7 -2.3 -2.5 1.7z" fill="#59fb73"/>
<path d="M192.1 322.5l2.5 -2.4 -1.9 -2.0 -2.5 2.5z" fill="#18e0bd"/>
<path d="M202.0 313.8l2.5 -1.8 -1.8 -2.2 -2.5 1.8z" fill="#4af880"/>
<path d="M282.0 329.6l2.5 0.5 -1.3 -2.2 -2.5 -0.5z" fill="#23c3e4"/>
<path d="M194.6 320.1l2.5 -2.2 -1.9 -2.1 -2.5 2.3z" fill="#1fe9af"/>
<path d="M199.5 315.8l2.5 -1.9 -1.8 -2.2 -2.5 2.0z" fill="#38f491"/>
<path d="M197.0 317.9l2.5 -2.1 -1.8 -2.1 -2.5 2.2z" fill="#2aefa1"/>
<path d="M275.9 332.7l2.3 2.6 -1.1 -1.7 -2.3 -2.6z" fill="#3ba0fd"/>
<path d="M251.6 312.0l2.3 1.3 -1.3 -2.2 -2.3 -1.3z" fill="#4ef97d"/>
<path d="M320.1 338.4l2.5 0.4 -1.3 -2.0 -2.5 -0.5z" fill="#448ffe"/>
<path d="M221.1 334.1l2.5 6.5 -1.5 -1.8 -2.5 -6.6z" fill="#4294ff"/>
<path d="M279.5 329.1l2.5 0.5 -1.3 -2.2 -2.5 -0.5z" fill="#22c5e2"/>
<path d="M207.2 303.4l2.5 4.9 -1.5 -2.7 -2.5 -5.0z" fill="#99fe42"/>
<path d="M156.5 310.6l2.5 -9.6 -1.7 -2.5 -2.5 9.8z" fill="#8bff4b"/>
<path d="M190.9 275.4l2.5 3.9 -1.5 -3.2 -2.5 -4.0z" fill="#fc8423"/>
<path d="M317.6 338.0l2.5 0.4 -1.3 -2.0 -2.5 -0.5z" fill="#4391fe"/>
<path d="M249.2 310.8l2.3 1.1 -1.3 -2.3 -2.3 -1.2z" fill="#59fb73"/>
<path d="M277.0 328.7l2.5 0.5 -1.3 -2.2 -2.5 -0.5z" fill="#20c7df"/>
<path d="M273.6 330.3l2.3 2.4 -1.2 -1.8 -2.3 -2.5z" fill="#31aff5"/>
<path d="M146.1 357.7l2.4 -8.4 -1.8 -1.6 -2.4 8.5z" fill="#3a2d79"/>
<path d="M293.0 354.7l2.3 3.4 -1.0 -1.5 -2.3 -3.4z" fill="#341b51"/>
<path d="M315.2 337.6l2.5 0.4 -1.3 -2.0 -2.5 -0.5z" fill="#4294ff"/>
<path d="M246.9 309.8l2.3 1.0 -1.3 -2.3 -2.3 -1.0z" fill="#65fd69"/>
<path d="M274.6 328.2l2.5 0.5 -1.3 -2.2 -2.5 -0.5z" fill="#1ecbda"/>
<path d="M312.7 337.1l2.5 0.4 -1.3 -2.0 -2.5 -0.5z" fill="#4099ff"/>
<path d="M188.4 271.6l2.5 3.8 -1.5 -3.2 -2.5 -3.9z" fill="#f46617"/>
<path d="M271.3 327.9l2.3 2.3 -1.2 -1.8 -2.3 -2.4z" fill="#27bee9"/>
<path d="M204.8 298.7l2.5 4.8 -1.5 -2.8 -2.5 -4.9z" fill="#b9f635"/>
<path d="M218.6 328.0l2.5 6.1 -1.5 -2.0 -2.5 -6.3z" fill="#28bceb"/>
<path d="M244.6 308.9l2.3 0.9 -1.4 -2.3 -2.3 -0.9z" fill="#71fe5f"/>
<path d="M272.1 327.8l2.5 0.5 -1.3 -2.3 -2.5 -0.5z" fill="#1ccdd8"/>
<path d="M158.9 301.0l2.4 -8.9 -1.7 -2.7 -2.5 9.1z" fill="#cbed34"/>
<path d="M290.7 351.4l2.3 3.2 -1.0 -1.5 -2.3 -3.3z" fill="#3c3286"/>
<path d="M310.3 336.7l2.5 0.4 -1.3 -2.0 -2.5 -0.5z" fill="#3e9bfe"/>
<path d="M148.5 349.3l2.4 -8.4 -1.8 -1.7 -2.4 8.5z" fill="#4664da"/>
<path d="M269.7 327.3l2.5 0.5 -1.3 -2.3 -2.5 -0.5z" fill="#1bd0d5"/>
<path d="M242.3 308.2l2.3 0.7 -1.4 -2.4 -2.3 -0.8z" fill="#79fe59"/>
<path d="M269.0 325.8l2.3 2.2 -1.2 -1.9 -2.3 -2.2z" fill="#1ecbda"/>
<path d="M307.8 336.2l2.5 0.4 -1.3 -2.1 -2.5 -0.5z" fill="#3d9efe"/>
<path d="M185.9 268.3l2.5 3.2 -1.5 -3.3 -2.5 -3.3z" fill="#ea4e0d"/>
<path d="M267.2 326.9l2.5 0.5 -1.3 -2.3 -2.5 -0.5z" fill="#1ad4d0"/>
<path d="M345.9 344.7l2.5 0.4 -1.3 -1.9 -2.5 -0.4z" fill="#466be3"/>
<path d="M240.0 307.6l2.3 0.6 -1.4 -2.4 -2.3 -0.6z" fill="#80ff53"/>
<path d="M288.5 348.3l2.3 3.1 -1.1 -1.6 -2.3 -3.2z" fill="#4249b1"/>
<path d="M305.3 335.8l2.5 0.4 -1.3 -2.1 -2.5 -0.5z" fill="#3aa3fc"/>
<path d="M202.3 294.3l2.5 4.4 -1.5 -2.9 -2.5 -4.5z" fill="#d4e735"/>
<path d="M161.4 292.2l2.4 -7.4 -1.7 -2.9 -2.5 7.6z" fill="#f2c93a"/>
<path d="M229.9 353.5l2.5 4.8 -1.4 -1.5 -2.5 -4.9z" fill="#36215f"/>
<path d="M264.7 326.4l2.5 0.5 -1.3 -2.3 -2.5 -0.5z" fill="#19d5cd"/>
<path d="M343.5 344.3l2.5 0.4 -1.3 -1.9 -2.5 -0.4z" fill="#476ee6"/>
<path d="M237.6 307.1l2.3 0.5 -1.4 -2.4 -2.3 -0.5z" fill="#88ff4e"/>
<path d="M266.7 323.7l2.3 2.1 -1.2 -1.9 -2.3 -2.1z" fill="#19d5cd"/>
<path d="M216.1 322.2l2.5 5.8 -1.5 -2.2 -2.5 -5.9z" fill="#18dbc5"/>
<path d="M150.9 340.9l2.4 -8.3 -1.8 -1.8 -2.4 8.4z" fill="#4294ff"/>
<path d="M302.9 335.3l2.5 0.4 -1.3 -2.1 -2.5 -0.5z" fill="#38a5fb"/>
<path d="M183.4 266.0l2.5 2.3 -1.5 -3.4 -2.5 -2.3z" fill="#e14109"/>
<path d="M235.3 306.8l2.3 0.3 -1.4 -2.4 -2.3 -0.4z" fill="#8bff4b"/>
<path d="M262.3 325.9l2.5 0.5 -1.3 -2.3 -2.5 -0.5z" fill="#18d7ca"/>
<path d="M341.0 343.9l2.5 0.4 -1.3 -1.9 -2.5 -0.4z" fill="#4773eb"/>
<path d="M286.2 345.3l2.3 3.0 -1.1 -1.6 -2.3 -3.0z" fill="#455ccf"/>
<path d="M300.4 334.9l2.5 0.4 -1.3 -2.1 -2.5 -0.5z" fill="#37a8fa"/>
<path d="M163.8 284.7l2.4 -6.3 -1.6 -3.0 -2.5 6.5z" fill="#fea130"/>
<path d="M264.4 321.8l2.3 1.9 -1.2 -2.0 -2.3 -2.0z" fill="#18dec0"/>
<path d="M233.0 306.6l2.3 0.2 -1.4 -2.5 -2.3 -0.2z" fill="#8fff49"/>
<path d="M259.8 325.5l2.5 0.5 -1.3 -2.3 -2.5 -0.5z" fill="#18dbc5"/>
<path d="M338.6 343.4l2.5 0.4 -1.3 -1.9 -2.5 -0.4z" fill="#4776ee"/>
<path d="M199.8 290.2l2.5 4.0 -1.5 -3.0 -2.5 -4.1z" fill="#ebd339"/>
<path d="M298.0 334.5l2.5 0.4 -1.3 -2.1 -2.5 -0.5z" fill="#35abf8"/>
<path d="M180.9 264.0l2.5 2.0 -1.5 -3.4 -2.5 -2.0z" fill="#d83706"/>
<path d="M227.5 348.1l2.5 5.4 -1.4 -1.6 -2.5 -5.5z" fill="#4146ac"/>
<path d="M230.7 306.5l2.3 0.1 -1.5 -2.5 -2.3 -0.1z" fill="#8fff49"/>
<path d="M336.1 343.0l2.5 0.4 -1.3 -1.9 -2.5 -0.4z" fill="#4778f0"/>
<path d="M257.4 325.0l2.5 0.5 -1.3 -2.3 -2.5 -0.5z" fill="#18ddc2"/>
<path d="M262.1 320.0l2.3 1.8 -1.2 -2.0 -2.3 -1.8z" fill="#1ce6b4"/>
<path d="M166.3 278.4l2.4 -5.5 -1.6 -3.2 -2.5 5.7z" fill="#f9751d"/>
<path d="M153.4 332.6l2.4 -9.8 -1.8 -2.0 -2.5 10.0z" fill="#1fc9dd"/>
<path d="M213.7 316.6l2.5 5.7 -1.5 -2.4 -2.5 -5.8z" fill="#2cf09e"/>
<path d="M283.9 342.4l2.3 2.9 -1.1 -1.6 -2.3 -2.9z" fill="#476ee6"/>
<path d="M295.5 334.0l2.5 0.4 -1.3 -2.1 -2.5 -0.5z" fill="#31aff5"/>
<path d="M169.4 358.6l2.5 -6.0 -2.2 -1.4 -2.5 5.9z" fill="#372466"/>
<path d="M228.4 306.5l2.3 -0.0 -1.5 -2.5 -2.3 0.0z" fill="#92ff47"/>
<path d="M254.6 325.2l2.8 -0.2 -1.3 -2.3 -2.8 0.2z" fill="#18ddc2"/>
<path d="M178.4 263.0l2.5 1.1 -1.5 -3.4 -2.5 -1.0z" fill="#d02f05"/>
<path d="M333.7 342.6l2.5 0.4 -1.3 -1.9 -2.5 -0.4z" fill="#477bf2"/>
<path d="M168.7 272.9l2.4 -3.7 -1.6 -3.2 -2.5 3.8z" fill="#ed5510"/>
<path d="M225.9 306.7l2.5 -0.2 -1.5 -2.5 -2.5 0.2z" fill="#92ff47"/>
<path d="M293.1 333.6l2.5 0.4 -1.3 -2.1 -2.5 -0.5z" fill="#2fb2f4"/>
<path d="M197.3 286.3l2.5 3.9 -1.5 -3.0 -2.5 -4.0z" fill="#f7c13a"/>
<path d="M259.8 318.4l2.3 1.6 -1.3 -2.1 -2.3 -1.7z" fill="#25eca7"/>
<path d="M171.8 352.5l2.5 -4.1 -2.1 -1.4 -2.5 4.1z" fill="#4040a2"/>
<path d="M251.8 325.7l2.8 -0.5 -1.3 -2.3 -2.8 0.5z" fill="#18ddc2"/>
<path d="M171.1 269.2l2.4 -3.2 -1.6 -3.3 -2.5 3.3z" fill="#e2430a"/>
<path d="M176.0 264.0l2.4 -1.0 -1.5 -3.4 -2.5 1.1z" fill="#d02f05"/>
<path d="M223.5 307.0l2.5 -0.3 -1.5 -2.5 -2.5 0.4z" fill="#8fff49"/>
<path d="M331.2 342.2l2.5 0.4 -1.3 -1.9 -2.5 -0.4z" fill="#4680f6"/>
<path d="M173.6 265.9l2.4 -1.9 -1.5 -3.3 -2.5 1.9z" fill="#d83706"/>
<path d="M281.6 339.6l2.3 2.8 -1.1 -1.7 -2.3 -2.8z" fill="#4680f6"/>
<path d="M174.3 348.5l2.5 -3.6 -2.1 -1.5 -2.5 3.7z" fill="#4559cb"/>
<path d="M290.6 333.1l2.5 0.4 -1.3 -2.2 -2.5 -0.5z" fill="#2eb4f2"/>
<path d="M248.9 326.4l2.8 -0.7 -1.3 -2.3 -2.8 0.7z" fill="#18dbc5"/>
<path d="M221.0 307.5l2.5 -0.5 -1.6 -2.5 -2.5 0.5z" fill="#8bff4b"/>
<path d="M225.0 342.4l2.5 5.7 -1.5 -1.7 -2.5 -5.9z" fill="#4669e0"/>
<path d="M176.8 344.8l2.5 -3.4 -2.1 -1.5 -2.5 3.5z" fill="#476ee6"/>
<path d="M328.7 341.7l2.5 0.4 -1.3 -2.0 -2.5 -0.4z" fill="#4682f8"/>
<path d="M257.5 316.8l2.3 1.5 -1.3 -2.1 -2.3 -1.6z" fill="#2ff19b"/>
<path d="M246.1 327.3l2.8 -0.9 -1.3 -2.3 -2.8 1.0z" fill="#18d7ca"/>
<path d="M218.5 308.2l2.5 -0.7 -1.6 -2.5 -2.5 0.7z" fill="#88ff4e"/>
<path d="M211.2 310.9l2.5 5.6 -1.5 -2.5 -2.5 -5.8z" fill="#5dfc6f"/>
<path d="M155.8 322.8l2.4 -10.0 -1.7 -2.3 -2.5 10.2z" fill="#2cf09e"/>
<path d="M288.1 332.7l2.5 0.4 -1.3 -2.2 -2.5 -0.5z" fill="#2cb7f0"/>
<path d="M179.2 341.4l2.5 -3.2 -2.1 -1.6 -2.5 3.3z" fill="#4682f8"/>
<path d="M243.3 328.5l2.8 -1.2 -1.4 -2.3 -2.8 1.2z" fill="#1ad2d2"/>
<path d="M216.1 309.1l2.5 -0.9 -1.6 -2.4 -2.5 0.9z" fill="#80ff53"/>
<path d="M206.7 359.0l2.8 -2.9 -1.7 -1.6 -2.8 3.0z" fill="#341b51"/>
<path d="M194.9 282.4l2.5 3.9 -1.5 -3.1 -2.5 -4.0z" fill="#fea933"/>
<path d="M181.7 338.2l2.5 -3.0 -2.0 -1.7 -2.5 3.1z" fill="#4196ff"/>
<path d="M326.3 341.3l2.5 0.4 -1.3 -2.0 -2.5 -0.4z" fill="#4685fa"/>
<path d="M240.5 329.9l2.8 -1.4 -1.4 -2.3 -2.8 1.4z" fill="#1ecbda"/>
<path d="M209.5 356.1l2.8 -2.9 -1.6 -1.6 -2.8 3.0z" fill="#3b2f80"/>
<path d="M279.3 337.0l2.3 2.6 -1.1 -1.7 -2.3 -2.7z" fill="#448ffe"/>
<path d="M213.6 310.1l2.5 -1.0 -1.6 -2.4 -2.5 1.1z" fill="#79fe59"/>
<path d="M184.1 335.2l2.5 -2.9 -2.0 -1.7 -2.5 3.0z" fill="#37a8fa"/>
<path d="M212.4 353.2l2.8 -2.9 -1.6 -1.7 -2.8 2.9z" fill="#4143a7"/>
<path d="M237.7 331.5l2.8 -1.6 -1.4 -2.2 -2.8 1.6z" fill="#22c5e2"/>
<path d="M255.2 315.5l2.3 1.4 -1.3 -2.2 -2.3 -1.4z" fill="#3cf58e"/>
<path d="M285.7 332.2l2.5 0.4 -1.3 -2.2 -2.5 -0.5z" fill="#28bceb"/>
<path d="M215.2 350.4l2.8 -2.8 -1.6 -1.8 -2.8 2.9z" fill="#4456c7"/>
<path d="M211.2 311.4l2.5 -1.2 -1.7 -2.4 -2.5 1.3z" fill="#6dfe62"/>
<path d="M234.9 333.3l2.8 -1.8 -1.4 -2.2 -2.8 1.9z" fill="#28bceb"/>
<path d="M186.6 332.3l2.5 -2.8 -2.0 -1.8 -2.5 2.8z" fill="#2ab9ee"/>
<path d="M218.0 347.6l2.8 -2.7 -1.6 -1.9 -2.8 2.8z" fill="#4666dd"/>
<path d="M232.1 335.3l2.8 -2.0 -1.4 -2.1 -2.8 2.0z" fill="#31aff5"/>
<path d="M220.8 344.9l2.8 -2.6 -1.5 -1.9 -2.8 2.7z" fill="#4778f0"/>
<path d="M208.7 312.8l2.5 -1.4 -1.7 -2.3 -2.5 1.4z" fill="#61fc6c"/>
<path d="M189.1 329.5l2.5 -2.6 -1.9 -1.9 -2.5 2.7z" fill="#20c7df"/>
<path d="M229.3 337.5l2.8 -2.2 -1.5 -2.1 -2.8 2.2z" fill="#3aa3fc"/>
<path d="M223.6 342.3l2.8 -2.5 -1.5 -2.0 -2.8 2.5z" fill="#4687fb"/>
<path d="M226.4 339.8l2.8 -2.3 -1.5 -2.0 -2.8 2.4z" fill="#4196ff"/>
<path d="M323.8 340.9l2.5 0.4 -1.3 -2.0 -2.5 -0.4z" fill="#4687fb"/>
<path d="M206.3 314.3l2.5 -1.6 -1.7 -2.3 -2.5 1.6z" fill="#52fa7a"/>
<path d="M191.5 326.9l2.5 -2.5 -1.9 -1.9 -2.5 2.5z" fill="#1ad4d0"/>
<path d="M203.8 316.0l2.5 -1.7 -1.8 -2.2 -2.5 1.8z" fill="#43f787"/>
<path d="M194.0 324.4l2.5 -2.3 -1.9 -2.0 -2.5 2.4z" fill="#18dec0"/>
<path d="M201.4 317.9l2.5 -1.9 -1.8 -2.2 -2.5 1.9z" fill="#35f394"/>
<path d="M196.4 322.1l2.5 -2.2 -1.9 -2.1 -2.5 2.2z" fill="#1de7b2"/>
<path d="M198.9 319.9l2.5 -2.0 -1.8 -2.1 -2.5 2.1z" fill="#27eea4"/>
<path d="M283.2 331.8l2.5 0.4 -1.3 -2.2 -2.5 -0.5z" fill="#27bee9"/>
<path d="M252.9 314.2l2.3 1.2 -1.3 -2.2 -2.3 -1.3z" fill="#46f884"/>
<path d="M277.1 334.5l2.3 2.5 -1.1 -1.7 -2.3 -2.6z" fill="#3ba0fd"/>
<path d="M222.5 336.2l2.5 6.3 -1.5 -1.8 -2.5 -6.5z" fill="#4391fe"/>
<path d="M321.4 340.4l2.5 0.4 -1.3 -2.0 -2.5 -0.4z" fill="#458cfd"/>
<path d="M192.4 278.6l2.5 3.8 -1.5 -3.2 -2.5 -3.9z" fill="#fe9029"/>
<path d="M208.7 306.2l2.5 4.8 -1.5 -2.7 -2.5 -4.9z" fill="#8fff49"/>
<path d="M280.8 331.4l2.5 0.4 -1.3 -2.2 -2.5 -0.5z" fill="#25c0e7"/>
<path d="M158.2 312.9l2.4 -9.3 -1.7 -2.5 -2.5 9.6z" fill="#84ff51"/>
<path d="M250.6 313.1l2.3 1.1 -1.3 -2.3 -2.3 -1.1z" fill="#52fa7a"/>
<path d="M318.9 340.0l2.5 0.4 -1.3 -2.0 -2.5 -0.4z" fill="#448ffe"/>
<path d="M278.3 330.9l2.5 0.4 -1.3 -2.2 -2.5 -0.5z" fill="#22c5e2"/>
<path d="M274.8 332.1l2.3 2.4 -1.2 -1.8 -2.3 -2.4z" fill="#31aff5"/>
<path d="M147.9 359.2l2.4 -8.3 -1.8 -1.6 -2.4 8.4z" fill="#3a2d79"/>
<path d="M316.4 339.6l2.5 0.4 -1.3 -2.0 -2.5 -0.4z" fill="#4391fe"/>
<path d="M294.1 356.2l2.3 3.3 -1.0 -1.5 -2.3 -3.4z" fill="#341b51"/>
<path d="M248.3 312.1l2.3 1.0 -1.3 -2.3 -2.3 -1.0z" fill="#5dfc6f"/>
<path d="M275.8 330.5l2.5 0.4 -1.3 -2.2 -2.5 -0.5z" fill="#20c7df"/>
<path d="M189.9 274.9l2.5 3.7 -1.5 -3.2 -2.5 -3.8z" fill="#f8721c"/>
<path d="M314.0 339.2l2.5 0.4 -1.3 -2.0 -2.5 -0.4z" fill="#4294ff"/>
<path d="M206.3 301.5l2.5 4.7 -1.5 -2.8 -2.5 -4.8z" fill="#b1f936"/>
<path d="M246.0 311.3l2.3 0.8 -1.4 -2.3 -2.3 -0.9z" fill="#69fd66"/>
<path d="M220.1 330.2l2.5 6.0 -1.5 -2.0 -2.5 -6.1z" fill="#2cb7f0"/>
<path d="M160.6 303.5l2.4 -8.7 -1.7 -2.7 -2.4 8.9z" fill="#c3f134"/>
<path d="M272.5 329.8l2.3 2.3 -1.2 -1.8 -2.3 -2.3z" fill="#28bceb"/>
<path d="M273.4 330.0l2.5 0.4 -1.3 -2.3 -2.5 -0.5z" fill="#1fc9dd"/>
<path d="M311.5 338.7l2.5 0.4 -1.3 -2.0 -2.5 -0.4z" fill="#4099ff"/>
<path d="M291.8 353.0l2.3 3.2 -1.0 -1.5 -2.3 -3.2z" fill="#3c3286"/>
<path d="M150.3 350.9l2.4 -8.3 -1.8 -1.7 -2.4 8.4z" fill="#4661d6"/>
<path d="M243.7 310.6l2.3 0.7 -1.4 -2.4 -2.3 -0.7z" fill="#71fe5f"/>
<path d="M270.9 329.6l2.5 0.4 -1.3 -2.3 -2.5 -0.5z" fill="#1ecbda"/>
<path d="M187.4 271.7l2.5 3.2 -1.5 -3.3 -2.5 -3.2z" fill="#f05b12"/>
<path d="M309.1 338.3l2.5 0.4 -1.3 -2.1 -2.5 -0.4z" fill="#3e9bfe"/>
<path d="M270.2 327.7l2.3 2.1 -1.2 -1.9 -2.3 -2.2z" fill="#1fc9dd"/>
<path d="M241.4 310.0l2.3 0.6 -1.4 -2.4 -2.3 -0.6z" fill="#79fe59"/>
<path d="M268.5 329.1l2.5 0.4 -1.3 -2.3 -2.5 -0.5z" fill="#1bd0d5"/>
<path d="M203.8 297.2l2.5 4.3 -1.5 -2.9 -2.5 -4.4z" fill="#cdec34"/>
<path d="M347.2 346.6l2.5 0.4 -1.3 -1.9 -2.5 -0.4z" fill="#4669e0"/>
<path d="M163.1 294.9l2.4 -7.3 -1.7 -2.9 -2.4 7.4z" fill="#eecf3a"/>
<path d="M306.6 337.9l2.5 0.4 -1.3 -2.1 -2.5 -0.4z" fill="#3d9efe"/>
<path d="M289.5 349.9l2.3 3.1 -1.1 -1.6 -2.3 -3.1z" fill="#4146ac"/>
<path d="M239.1 309.6l2.3 0.4 -1.4 -2.4 -2.3 -0.5z" fill="#7dff56"/>
<path d="M266.0 328.7l2.5 0.4 -1.3 -2.3 -2.5 -0.5z" fill="#1ad2d2"/>
<path d="M217.6 324.6l2.5 5.6 -1.5 -2.2 -2.5 -5.8z" fill="#18d7ca"/>
<path d="M231.4 355.1l2.5 4.7 -1.4 -1.5 -2.5 -4.8z" fill="#36215f"/>
<path d="M344.8 346.2l2.5 0.4 -1.3 -1.9 -2.5 -0.4z" fill="#466be3"/>
<path d="M267.9 325.7l2.3 2.0 -1.2 -1.9 -2.3 -2.1z" fill="#1ad4d0"/>
<path d="M184.9 269.4l2.5 2.3 -1.5 -3.4 -2.5 -2.3z" fill="#e7490c"/>
<path d="M152.7 342.6l2.4 -8.2 -1.8 -1.8 -2.4 8.3z" fill="#4391fe"/>
<path d="M304.2 337.4l2.5 0.4 -1.3 -2.1 -2.5 -0.4z" fill="#3ba0fd"/>
<path d="M236.8 309.3l2.3 0.3 -1.4 -2.4 -2.3 -0.3z" fill="#84ff51"/>
<path d="M263.6 328.3l2.5 0.4 -1.3 -2.3 -2.5 -0.5z" fill="#1ad4d0"/>
<path d="M165.5 287.6l2.4 -6.2 -1.6 -3.0 -2.4 6.3z" fill="#fea933"/>
<path d="M342.3 345.8l2.5 0.4 -1.3 -1.9 -2.5 -0.4z" fill="#4771e9"/>
<path d="M301.7 337.0l2.5 0.4 -1.3 -2.1 -2.5 -0.4z" fill="#38a5fb"/>
<path d="M201.3 293.3l2.5 3.9 -1.5 -3.0 -2.5 -4.0z" fill="#e3db38"/>
<path d="M234.5 309.1l2.3 0.2 -1.4 -2.5 -2.3 -0.2z" fill="#84ff51"/>
<path d="M287.3 346.9l2.3 3.0 -1.1 -1.6 -2.3 -3.0z" fill="#455ccf"/>
<path d="M265.6 323.8l2.3 1.9 -1.2 -2.0 -2.3 -1.9z" fill="#18ddc2"/>
<path d="M261.1 327.8l2.5 0.4 -1.3 -2.3 -2.5 -0.5z" fill="#18d7ca"/>
<path d="M182.5 267.4l2.5 2.0 -1.5 -3.4 -2.5 -2.0z" fill="#df3f08"/>
<path d="M339.8 345.4l2.5 0.4 -1.3 -1.9 -2.5 -0.4z" fill="#4773eb"/>
<path d="M299.2 336.6l2.5 0.4 -1.3 -2.1 -2.5 -0.4z" fill="#37a8fa"/>
<path d="M232.2 309.0l2.3 0.1 -1.5 -2.5 -2.3 -0.1z" fill="#88ff4e"/>
<path d="M167.9 281.4l2.4 -5.4 -1.6 -3.2 -2.4 5.5z" fill="#fb8122"/>
<path d="M228.9 349.8l2.5 5.2 -1.4 -1.6 -2.5 -5.4z" fill="#4143a7"/>
<path d="M258.6 327.4l2.5 0.4 -1.3 -2.3 -2.5 -0.5z" fill="#18d9c8"/>
<path d="M215.1 319.1l2.5 5.5 -1.5 -2.4 -2.5 -5.7z" fill="#25eca7"/>
<path d="M337.4 344.9l2.5 0.4 -1.3 -1.9 -2.5 -0.4z" fill="#4776ee"/>
<path d="M155.1 334.4l2.4 -9.6 -1.8 -2.0 -2.4 9.8z" fill="#20c7df"/>
<path d="M263.4 322.1l2.3 1.7 -1.2 -2.0 -2.3 -1.8z" fill="#1ae4b6"/>
<path d="M229.9 309.0l2.3 -0.0 -1.5 -2.5 -2.3 0.0z" fill="#88ff4e"/>
<path d="M180.0 266.4l2.5 1.1 -1.5 -3.4 -2.5 -1.1z" fill="#da3907"/>
<path d="M296.8 336.2l2.5 0.4 -1.3 -2.1 -2.5 -0.4z" fill="#35abf8"/>
<path d="M171.6 360.0l2.4 -6.1 -2.2 -1.4 -2.5 6.0z" fill="#372466"/>
<path d="M285.0 344.1l2.3 2.9 -1.1 -1.6 -2.3 -2.9z" fill="#476ee6"/>
<path d="M170.3 276.0l2.4 -3.7 -1.6 -3.2 -2.4 3.7z" fill="#f26014"/>
<path d="M255.9 327.6l2.8 -0.2 -1.3 -2.3 -2.8 0.2z" fill="#18d9c8"/>
<path d="M198.8 289.4l2.5 3.9 -1.5 -3.0 -2.5 -3.9z" fill="#f2c93a"/>
<path d="M227.4 309.1l2.4 -0.2 -1.5 -2.5 -2.5 0.2z" fill="#88ff4e"/>
<path d="M334.9 344.5l2.5 0.4 -1.3 -1.9 -2.5 -0.4z" fill="#4778f0"/>
<path d="M177.6 267.4l2.4 -1.0 -1.5 -3.4 -2.4 1.0z" fill="#da3907"/>
<path d="M172.7 272.4l2.4 -3.2 -1.6 -3.3 -2.4 3.2z" fill="#e84b0c"/>
<path d="M294.3 335.7l2.5 0.4 -1.3 -2.1 -2.5 -0.4z" fill="#33adf7"/>
<path d="M175.2 269.2l2.4 -1.9 -1.5 -3.3 -2.4 1.9z" fill="#df3f08"/>
<path d="M261.1 320.5l2.3 1.6 -1.3 -2.1 -2.3 -1.6z" fill="#20eaac"/>
<path d="M174.0 353.9l2.4 -4.0 -2.1 -1.4 -2.5 4.1z" fill="#4040a2"/>
<path d="M253.1 328.0l2.8 -0.4 -1.3 -2.3 -2.8 0.5z" fill="#18d9c8"/>
<path d="M225.0 309.5l2.4 -0.3 -1.5 -2.5 -2.5 0.3z" fill="#88ff4e"/>
<path d="M332.5 344.1l2.5 0.4 -1.3 -1.9 -2.5 -0.4z" fill="#477bf2"/>
<path d="M250.3 328.7l2.8 -0.7 -1.3 -2.3 -2.8 0.7z" fill="#18d7ca"/>
<path d="M176.4 349.9l2.4 -3.6 -2.1 -1.5 -2.5 3.6z" fill="#4559cb"/>
<path d="M222.6 310.0l2.4 -0.5 -1.6 -2.5 -2.5 0.5z" fill="#84ff51"/>
<path d="M291.9 335.3l2.5 0.4 -1.3 -2.2 -2.5 -0.4z" fill="#31aff5"/>
<path d="M282.7 341.3l2.3 2.7 -1.1 -1.7 -2.3 -2.8z" fill="#467df4"/>
<path d="M226.5 344.3l2.5 5.6 -1.5 -1.7 -2.5 -5.7z" fill="#4669e0"/>
<path d="M178.9 346.3l2.4 -3.3 -2.1 -1.5 -2.5 3.4z" fill="#476ee6"/>
<path d="M247.5 329.6l2.8 -0.9 -1.3 -2.3 -2.8 0.9z" fill="#1ad4d0"/>
<path d="M220.2 310.7l2.4 -0.7 -1.6 -2.5 -2.5 0.7z" fill="#80ff53"/>
<path d="M258.8 319.0l2.3 1.5 -1.3 -2.1 -2.3 -1.5z" fill="#2aefa1"/>
<path d="M330.0 343.7l2.5 0.4 -1.3 -2.0 -2.5 -0.4z" fill="#4680f6"/>
<path d="M212.7 313.6l2.5 5.5 -1.5 -2.5 -2.5 -5.6z" fill="#52fa7a"/>
<path d="M157.5 324.8l2.4 -9.7 -1.7 -2.3 -2.4 10.0z" fill="#2aefa1"/>
<path d="M196.4 285.6l2.5 3.8 -1.5 -3.1 -2.5 -3.9z" fill="#fcb336"/>
<path d="M289.4 334.9l2.5 0.4 -1.3 -2.2 -2.5 -0.4z" fill="#2eb4f2"/>
<path d="M181.3 342.9l2.4 -3.1 -2.1 -1.6 -2.5 3.2z" fill="#4682f8"/>
<path d="M217.7 311.5l2.4 -0.8 -1.6 -2.4 -2.5 0.9z" fill="#79fe59"/>
<path d="M244.7 330.7l2.8 -1.1 -1.4 -2.3 -2.8 1.2z" fill="#1ccdd8"/>
<path d="M183.7 339.8l2.4 -3.0 -2.0 -1.7 -2.5 3.0z" fill="#4294ff"/>
<path d="M215.3 312.5l2.4 -1.0 -1.6 -2.4 -2.5 1.0z" fill="#71fe5f"/>
<path d="M241.9 332.1l2.8 -1.4 -1.4 -2.3 -2.8 1.4z" fill="#20c7df"/>
<path d="M208.4 360.5l2.8 -2.8 -1.7 -1.6 -2.8 2.9z" fill="#341b51"/>
<path d="M327.5 343.3l2.5 0.4 -1.3 -2.0 -2.5 -0.4z" fill="#4682f8"/>
<path d="M211.2 357.7l2.8 -2.8 -1.6 -1.6 -2.8 2.9z" fill="#3b2f80"/>
<path d="M186.2 336.8l2.4 -2.8 -2.0 -1.7 -2.5 2.9z" fill="#38a5fb"/>
<path d="M239.1 333.7l2.8 -1.6 -1.4 -2.2 -2.8 1.6z" fill="#25c0e7"/>
<path d="M212.9 313.7l2.4 -1.2 -1.7 -2.4 -2.5 1.2z" fill="#65fd69"/>
<path d="M280.5 338.7l2.3 2.6 -1.1 -1.7 -2.3 -2.6z" fill="#448ffe"/>
<path d="M256.5 317.7l2.3 1.3 -1.3 -2.2 -2.3 -1.4z" fill="#35f394"/>
<path d="M214.0 354.9l2.8 -2.8 -1.6 -1.7 -2.8 2.9z" fill="#4143a7"/>
<path d="M286.9 334.4l2.5 0.4 -1.3 -2.2 -2.5 -0.4z" fill="#2cb7f0"/>
<path d="M188.6 334.0l2.4 -2.7 -2.0 -1.8 -2.5 2.8z" fill="#2cb7f0"/>
<path d="M236.3 335.4l2.8 -1.8 -1.4 -2.2 -2.8 1.8z" fill="#2cb7f0"/>
<path d="M216.8 352.1l2.8 -2.7 -1.6 -1.8 -2.8 2.8z" fill="#4454c3"/>
<path d="M210.5 315.0l2.4 -1.3 -1.7 -2.3 -2.5 1.4z" fill="#59fb73"/>
<path d="M219.6 349.4l2.8 -2.6 -1.6 -1.9 -2.8 2.7z" fill="#4666dd"/>
<path d="M233.5 337.4l2.8 -1.9 -1.4 -2.1 -2.8 2.0z" fill="#33adf7"/>
<path d="M191.0 331.3l2.4 -2.5 -1.9 -1.9 -2.5 2.6z" fill="#22c5e2"/>
<path d="M222.4 346.7l2.8 -2.5 -1.5 -1.9 -2.8 2.6z" fill="#4776ee"/>
<path d="M230.7 339.5l2.8 -2.1 -1.5 -2.1 -2.8 2.2z" fill="#3ba0fd"/>
<path d="M208.0 316.6l2.4 -1.5 -1.7 -2.3 -2.5 1.6z" fill="#4af880"/>
<path d="M225.2 344.2l2.8 -2.4 -1.5 -2.0 -2.8 2.5z" fill="#4685fa"/>
<path d="M228.0 341.8l2.8 -2.3 -1.5 -2.0 -2.8 2.3z" fill="#4294ff"/>
<path d="M193.5 328.8l2.4 -2.4 -1.9 -1.9 -2.5 2.5z" fill="#1ad2d2"/>
<path d="M205.6 318.2l2.4 -1.7 -1.8 -2.2 -2.5 1.7z" fill="#3cf58e"/>
<path d="M325.1 342.9l2.5 0.4 -1.3 -2.0 -2.5 -0.4z" fill="#4685fa"/>
<path d="M195.9 326.4l2.4 -2.3 -1.9 -2.0 -2.5 2.3z" fill="#18ddc2"/>
<path d="M203.2 320.0l2.4 -1.8 -1.8 -2.2 -2.5 1.9z" fill="#2ff19b"/>
<path d="M198.3 324.1l2.4 -2.1 -1.9 -2.1 -2.5 2.2z" fill="#1ae4b6"/>
<path d="M200.7 322.0l2.4 -2.0 -1.8 -2.1 -2.5 2.0z" fill="#22ebaa"/>
<path d="M284.5 334.0l2.5 0.4 -1.3 -2.2 -2.5 -0.4z" fill="#2ab9ee"/>
<path d="M254.2 316.5l2.3 1.2 -1.3 -2.2 -2.3 -1.2z" fill="#3ff68a"/>
<path d="M193.9 281.8l2.5 3.7 -1.5 -3.2 -2.5 -3.8z" fill="#fe9b2d"/>
<path d="M210.2 308.9l2.5 4.7 -1.5 -2.7 -2.5 -4.8z" fill="#84ff51"/>
<path d="M224.0 338.2l2.5 6.1 -1.5 -1.8 -2.5 -6.3z" fill="#448ffe"/>
<path d="M322.6 342.4l2.5 0.4 -1.3 -2.0 -2.5 -0.4z" fill="#4687fb"/>
<path d="M278.2 336.3l2.3 2.5 -1.1 -1.7 -2.3 -2.5z" fill="#3d9efe"/>
<path d="M160.0 315.1l2.4 -9.1 -1.7 -2.5 -2.4 9.3z" fill="#7dff56"/>
<path d="M282.0 333.6l2.5 0.4 -1.3 -2.2 -2.5 -0.4z" fill="#28bceb"/>
<path d="M251.9 315.4l2.3 1.1 -1.3 -2.3 -2.3 -1.1z" fill="#4af880"/>
<path d="M320.2 342.0l2.5 0.4 -1.3 -2.0 -2.5 -0.4z" fill="#458afc"/>
<path d="M279.6 333.2l2.5 0.4 -1.3 -2.2 -2.5 -0.4z" fill="#25c0e7"/>
<path d="M276.0 333.9l2.3 2.3 -1.2 -1.8 -2.3 -2.4z" fill="#33adf7"/>
<path d="M149.8 360.7l2.4 -8.2 -1.8 -1.6 -2.4 8.3z" fill="#3a2d79"/>
<path d="M317.7 341.6l2.5 0.4 -1.3 -2.0 -2.5 -0.4z" fill="#448ffe"/>
<path d="M249.7 314.5l2.3 0.9 -1.3 -2.3 -2.3 -1.0z" fill="#55fa76"/>
<path d="M191.4 278.2l2.5 3.6 -1.5 -3.2 -2.5 -3.7z" fill="#fb8122"/>
<path d="M277.1 332.7l2.5 0.4 -1.3 -2.2 -2.5 -0.4z" fill="#23c3e4"/>
<path d="M295.1 357.8l2.2 3.3 -1.0 -1.5 -2.3 -3.3z" fill="#341b51"/>
<path d="M207.7 304.4l2.5 4.6 -1.5 -2.8 -2.5 -4.7z" fill="#a7fc3a"/>
<path d="M162.4 306.0l2.4 -8.4 -1.7 -2.7 -2.4 8.7z" fill="#bef434"/>
<path d="M315.3 341.2l2.5 0.4 -1.3 -2.0 -2.5 -0.4z" fill="#4391fe"/>
<path d="M247.4 313.7l2.3 0.8 -1.4 -2.3 -2.3 -0.8z" fill="#61fc6c"/>
<path d="M221.5 332.4l2.5 5.8 -1.5 -2.0 -2.5 -6.0z" fill="#2eb4f2"/>
<path d="M274.7 332.3l2.5 0.4 -1.3 -2.3 -2.5 -0.4z" fill="#22c5e2"/>
<path d="M273.7 331.7l2.3 2.2 -1.2 -1.8 -2.3 -2.3z" fill="#2ab9ee"/>
<path d="M312.8 340.8l2.5 0.4 -1.3 -2.0 -2.5 -0.4z" fill="#4294ff"/>
<path d="M245.1 313.0l2.3 0.7 -1.4 -2.4 -2.3 -0.7z" fill="#69fd66"/>
<path d="M188.9 275.1l2.5 3.1 -1.5 -3.3 -2.5 -3.2z" fill="#f46617"/>
<path d="M152.2 352.4l2.4 -8.2 -1.8 -1.7 -2.4 8.3z" fill="#4661d6"/>
<path d="M272.2 331.9l2.5 0.4 -1.3 -2.3 -2.5 -0.4z" fill="#20c7df"/>
<path d="M292.9 354.6l2.2 3.2 -1.0 -1.5 -2.3 -3.2z" fill="#3c3286"/>
<path d="M310.3 340.4l2.5 0.4 -1.3 -2.1 -2.5 -0.4z" fill="#4196ff"/>
<path d="M271.4 329.6l2.3 2.1 -1.2 -1.9 -2.3 -2.1z" fill="#20c7df"/>
<path d="M242.8 312.5l2.3 0.5 -1.4 -2.4 -2.3 -0.6z" fill="#6dfe62"/>
<path d="M205.3 300.2l2.5 4.2 -1.5 -2.9 -2.5 -4.3z" fill="#c3f134"/>
<path d="M164.8 297.6l2.4 -7.1 -1.7 -2.9 -2.4 7.3z" fill="#e9d539"/>
<path d="M269.7 331.4l2.5 0.4 -1.3 -2.3 -2.5 -0.4z" fill="#1ecbda"/>
<path d="M348.5 348.5l2.5 0.4 -1.3 -1.9 -2.5 -0.4z" fill="#4666dd"/>
<path d="M307.9 340.0l2.5 0.4 -1.3 -2.1 -2.5 -0.4z" fill="#3e9bfe"/>
<path d="M186.5 272.8l2.5 2.3 -1.5 -3.4 -2.5 -2.3z" fill="#ed5510"/>
<path d="M240.5 312.0l2.3 0.4 -1.4 -2.4 -2.3 -0.4z" fill="#75fe5c"/>
<path d="M219.1 327.0l2.5 5.5 -1.5 -2.2 -2.5 -5.6z" fill="#1ad4d0"/>
<path d="M267.3 331.0l2.5 0.4 -1.3 -2.3 -2.5 -0.4z" fill="#1ccdd8"/>
<path d="M290.6 351.5l2.2 3.1 -1.1 -1.6 -2.3 -3.1z" fill="#4146ac"/>
<path d="M232.8 356.6l2.5 4.7 -1.4 -1.5 -2.5 -4.7z" fill="#36215f"/>
<path d="M269.2 327.7l2.3 2.0 -1.2 -1.9 -2.3 -2.0z" fill="#1ad2d2"/>
<path d="M346.0 348.1l2.5 0.4 -1.3 -1.9 -2.5 -0.4z" fill="#4669e0"/>
<path d="M154.5 344.3l2.4 -8.1 -1.8 -1.8 -2.4 8.2z" fill="#4391fe"/>
<path d="M305.4 339.5l2.5 0.4 -1.3 -2.1 -2.5 -0.4z" fill="#3d9efe"/>
<path d="M238.2 311.7l2.3 0.3 -1.4 -2.4 -2.3 -0.3z" fill="#79fe59"/>
<path d="M167.2 290.5l2.4 -6.0 -1.6 -3.0 -2.4 6.2z" fill="#fcb336"/>
<path d="M264.8 330.6l2.5 0.4 -1.3 -2.3 -2.5 -0.4z" fill="#1bd0d5"/>
<path d="M202.8 296.3l2.5 3.9 -1.5 -3.0 -2.5 -3.9z" fill="#dbe236"/>
<path d="M343.6 347.7l2.5 0.4 -1.3 -1.9 -2.5 -0.4z" fill="#476ee6"/>
<path d="M184.0 270.8l2.5 1.9 -1.5 -3.4 -2.5 -2.0z" fill="#e7490c"/>
<path d="M303.0 339.1l2.5 0.4 -1.3 -2.1 -2.5 -0.4z" fill="#3ba0fd"/>
<path d="M235.9 311.5l2.3 0.2 -1.4 -2.5 -2.3 -0.2z" fill="#7dff56"/>
<path d="M266.9 325.8l2.3 1.8 -1.2 -2.0 -2.3 -1.9z" fill="#18dbc5"/>
<path d="M262.4 330.1l2.5 0.4 -1.3 -2.3 -2.5 -0.4z" fill="#1ad2d2"/>
<path d="M288.4 348.6l2.2 2.9 -1.1 -1.6 -2.3 -3.0z" fill="#4559cb"/>
<path d="M169.6 284.5l2.4 -5.3 -1.6 -3.2 -2.4 5.4z" fill="#fd8d27"/>
<path d="M341.1 347.3l2.5 0.4 -1.3 -1.9 -2.5 -0.4z" fill="#4771e9"/>
<path d="M233.6 311.5l2.3 0.1 -1.5 -2.5 -2.3 -0.1z" fill="#80ff53"/>
<path d="M300.5 338.7l2.5 0.4 -1.3 -2.1 -2.5 -0.4z" fill="#3aa3fc"/>
<path d="M181.5 269.8l2.5 1.1 -1.5 -3.4 -2.5 -1.1z" fill="#e14109"/>
<path d="M216.6 321.6l2.5 5.4 -1.5 -2.4 -2.5 -5.5z" fill="#20eaac"/>
<path d="M259.9 329.7l2.5 0.4 -1.3 -2.3 -2.5 -0.4z" fill="#19d5cd"/>
<path d="M230.4 351.5l2.5 5.1 -1.4 -1.6 -2.5 -5.2z" fill="#4143a7"/>
<path d="M156.9 336.2l2.4 -9.4 -1.8 -2.0 -2.4 9.6z" fill="#22c5e2"/>
<path d="M231.4 311.5l2.3 -0.0 -1.5 -2.5 -2.3 0.0z" fill="#80ff53"/>
<path d="M171.9 279.2l2.4 -3.6 -1.6 -3.2 -2.4 3.7z" fill="#f66c19"/>
<path d="M338.6 346.9l2.5 0.4 -1.3 -1.9 -2.5 -0.4z" fill="#4773eb"/>
<path d="M264.6 324.2l2.3 1.7 -1.2 -2.0 -2.3 -1.7z" fill="#19e2bb"/>
<path d="M173.8 361.5l2.4 -6.2 -2.2 -1.4 -2.4 6.1z" fill="#372466"/>
<path d="M298.0 338.3l2.5 0.4 -1.3 -2.1 -2.5 -0.4z" fill="#38a5fb"/>
<path d="M200.3 292.5l2.5 3.8 -1.5 -3.0 -2.5 -3.9z" fill="#eecf3a"/>
<path d="M179.1 270.7l2.4 -1.0 -1.5 -3.4 -2.4 1.0z" fill="#e14109"/>
<path d="M174.3 275.6l2.4 -3.1 -1.6 -3.3 -2.4 3.2z" fill="#ed5510"/>
<path d="M257.1 329.9l2.8 -0.2 -1.3 -2.3 -2.8 0.2z" fill="#19d5cd"/>
<path d="M229.0 311.6l2.4 -0.2 -1.5 -2.5 -2.4 0.2z" fill="#80ff53"/>
<path d="M176.7 272.5l2.4 -1.8 -1.5 -3.3 -2.4 1.9z" fill="#e5470b"/>
<path d="M286.1 345.7l2.2 2.8 -1.1 -1.6 -2.3 -2.9z" fill="#466be3"/>
<path d="M336.2 346.5l2.5 0.4 -1.3 -1.9 -2.5 -0.4z" fill="#4776ee"/>
<path d="M295.6 337.9l2.5 0.4 -1.3 -2.1 -2.5 -0.4z" fill="#35abf8"/>
<path d="M226.6 312.0l2.4 -0.3 -1.5 -2.5 -2.4 0.3z" fill="#7dff56"/>
<path d="M254.4 330.3l2.8 -0.4 -1.3 -2.3 -2.8 0.4z" fill="#19d5cd"/>
<path d="M262.4 322.6l2.3 1.6 -1.3 -2.1 -2.3 -1.6z" fill="#1fe9af"/>
<path d="M176.2 355.3l2.4 -4.0 -2.1 -1.4 -2.4 4.0z" fill="#4143a7"/>
<path d="M333.7 346.1l2.5 0.4 -1.3 -1.9 -2.5 -0.4z" fill="#4778f0"/>
<path d="M224.2 312.4l2.4 -0.5 -1.6 -2.5 -2.4 0.5z" fill="#79fe59"/>
<path d="M251.6 331.0l2.8 -0.7 -1.3 -2.3 -2.8 0.7z" fill="#1ad2d2"/>
<path d="M178.6 351.3l2.4 -3.6 -2.1 -1.5 -2.4 3.6z" fill="#4559cb"/>
<path d="M293.1 337.5l2.5 0.4 -1.3 -2.2 -2.5 -0.4z" fill="#33adf7"/>
<path d="M283.9 343.0l2.2 2.7 -1.1 -1.7 -2.3 -2.7z" fill="#467df4"/>
<path d="M221.8 313.1l2.4 -0.7 -1.6 -2.5 -2.4 0.7z" fill="#75fe5c"/>
<path d="M214.1 316.3l2.5 5.3 -1.5 -2.5 -2.5 -5.5z" fill="#46f884"/>
<path d="M248.8 331.9l2.8 -0.9 -1.3 -2.3 -2.8 0.9z" fill="#1bd0d5"/>
<path d="M227.9 346.1l2.5 5.4 -1.5 -1.7 -2.5 -5.6z" fill="#4666dd"/>
<path d="M181.0 347.8l2.4 -3.3 -2.1 -1.5 -2.4 3.3z" fill="#476ee6"/>
<path d="M197.9 288.7l2.5 3.7 -1.5 -3.1 -2.5 -3.8z" fill="#f9bc39"/>
<path d="M260.1 321.2l2.3 1.4 -1.3 -2.1 -2.3 -1.5z" fill="#25eca7"/>
<path d="M159.3 326.8l2.4 -9.5 -1.7 -2.3 -2.4 9.7z" fill="#25eca7"/>
<path d="M331.3 345.7l2.5 0.4 -1.3 -2.0 -2.5 -0.4z" fill="#477bf2"/>
<path d="M219.4 313.9l2.4 -0.8 -1.6 -2.4 -2.4 0.8z" fill="#6dfe62"/>
<path d="M290.7 337.0l2.5 0.4 -1.3 -2.2 -2.5 -0.4z" fill="#31aff5"/>
<path d="M183.4 344.5l2.4 -3.1 -2.1 -1.6 -2.4 3.1z" fill="#4682f8"/>
<path d="M246.1 333.0l2.8 -1.1 -1.4 -2.3 -2.8 1.1z" fill="#1fc9dd"/>
<path d="M217.0 314.9l2.4 -1.0 -1.6 -2.4 -2.4 1.0z" fill="#65fd69"/>
<path d="M185.8 341.4l2.4 -2.9 -2.0 -1.7 -2.4 3.0z" fill="#4294ff"/>
<path d="M243.3 334.3l2.8 -1.3 -1.4 -2.3 -2.8 1.4z" fill="#22c5e2"/>
<path d="M210.1 362.0l2.8 -2.8 -1.7 -1.6 -2.8 2.8z" fill="#341b51"/>
<path d="M214.6 316.0l2.4 -1.1 -1.7 -2.4 -2.4 1.2z" fill="#5dfc6f"/>
<path d="M328.8 345.3l2.5 0.4 -1.3 -2.0 -2.5 -0.4z" fill="#4680f6"/>
<path d="M188.2 338.5l2.4 -2.8 -2.0 -1.7 -2.4 2.8z" fill="#38a5fb"/>
<path d="M240.5 335.9l2.8 -1.5 -1.4 -2.2 -2.8 1.6z" fill="#28bceb"/>
<path d="M212.9 359.3l2.8 -2.8 -1.6 -1.6 -2.8 2.8z" fill="#3b2f80"/>
<path d="M257.8 319.9l2.3 1.3 -1.3 -2.2 -2.3 -1.3z" fill="#2ff19b"/>
<path d="M212.2 317.3l2.4 -1.3 -1.7 -2.3 -2.4 1.3z" fill="#52fa7a"/>
<path d="M288.2 336.6l2.5 0.4 -1.3 -2.2 -2.5 -0.4z" fill="#2fb2f4"/>
<path d="M215.6 356.5l2.8 -2.7 -1.6 -1.7 -2.8 2.8z" fill="#4040a2"/>
<path d="M190.6 335.7l2.4 -2.6 -2.0 -1.8 -2.4 2.7z" fill="#2eb4f2"/>
<path d="M237.8 337.6l2.8 -1.7 -1.4 -2.2 -2.8 1.8z" fill="#2fb2f4"/>
<path d="M281.6 340.5l2.2 2.6 -1.1 -1.7 -2.3 -2.6z" fill="#458cfd"/>
<path d="M218.4 353.8l2.8 -2.6 -1.6 -1.8 -2.8 2.7z" fill="#4454c3"/>
<path d="M209.8 318.8l2.4 -1.5 -1.7 -2.3 -2.4 1.5z" fill="#43f787"/>
<path d="M193.0 333.1l2.4 -2.5 -1.9 -1.9 -2.4 2.5z" fill="#23c3e4"/>
<path d="M235.0 339.5l2.8 -1.9 -1.4 -2.1 -2.8 1.9z" fill="#37a8fa"/>
<path d="M221.2 351.1l2.8 -2.6 -1.6 -1.9 -2.8 2.6z" fill="#4664da"/>
<path d="M232.2 341.5l2.8 -2.1 -1.5 -2.1 -2.8 2.1z" fill="#3e9bfe"/>
<path d="M223.9 348.6l2.8 -2.5 -1.5 -1.9 -2.8 2.5z" fill="#4773eb"/>
<path d="M207.4 320.4l2.4 -1.6 -1.8 -2.2 -2.4 1.7z" fill="#38f491"/>
<path d="M195.4 330.6l2.4 -2.3 -1.9 -1.9 -2.4 2.4z" fill="#1bd0d5"/>
<path d="M229.5 343.8l2.8 -2.2 -1.5 -2.0 -2.8 2.3z" fill="#448ffe"/>
<path d="M226.7 346.1l2.8 -2.4 -1.5 -2.0 -2.8 2.4z" fill="#4682f8"/>
<path d="M205.0 322.2l2.4 -1.8 -1.8 -2.2 -2.4 1.8z" fill="#2aefa1"/>
<path d="M197.8 328.3l2.4 -2.2 -1.9 -2.0 -2.4 2.3z" fill="#18dbc5"/>
<path d="M202.6 324.1l2.4 -1.9 -1.8 -2.1 -2.4 2.0z" fill="#20eaac"/>
<path d="M200.2 326.1l2.4 -2.1 -1.9 -2.1 -2.4 2.1z" fill="#19e3b9"/>
<path d="M326.4 344.9l2.5 0.4 -1.3 -2.0 -2.5 -0.4z" fill="#4682f8"/>
<path d="M195.4 285.1l2.5 3.7 -1.5 -3.2 -2.5 -3.7z" fill="#fea732"/>
<path d="M285.8 336.2l2.5 0.4 -1.3 -2.2 -2.5 -0.4z" fill="#2eb4f2"/>
<path d="M255.6 318.7l2.3 1.2 -1.3 -2.2 -2.3 -1.2z" fill="#38f491"/>
<path d="M211.7 311.7l2.5 4.6 -1.5 -2.7 -2.5 -4.7z" fill="#79fe59"/>
<path d="M161.7 317.4l2.4 -8.9 -1.7 -2.5 -2.4 9.1z" fill="#75fe5c"/>
<path d="M225.5 340.2l2.5 5.9 -1.5 -1.8 -2.5 -6.1z" fill="#458afc"/>
<path d="M323.9 344.5l2.5 0.4 -1.3 -2.0 -2.5 -0.4z" fill="#4685fa"/>
<path d="M279.4 338.0l2.2 2.4 -1.1 -1.7 -2.3 -2.5z" fill="#3e9bfe"/>
<path d="M283.3 335.8l2.5 0.4 -1.3 -2.2 -2.5 -0.4z" fill="#2ab9ee"/>
<path d="M253.3 317.7l2.3 1.0 -1.3 -2.3 -2.3 -1.1z" fill="#43f787"/>
<path d="M321.4 344.1l2.5 0.4 -1.3 -2.0 -2.5 -0.4z" fill="#4687fb"/>
<path d="M280.8 335.4l2.5 0.4 -1.3 -2.2 -2.5 -0.4z" fill="#28bceb"/>
<path d="M192.9 281.5l2.5 3.6 -1.5 -3.2 -2.5 -3.6z" fill="#fd8d27"/>
<path d="M151.6 362.2l2.4 -8.1 -1.8 -1.6 -2.4 8.2z" fill="#3a2d79"/>
<path d="M251.0 316.8l2.3 0.9 -1.3 -2.3 -2.3 -0.9z" fill="#4ef97d"/>
<path d="M277.1 335.7l2.2 2.3 -1.2 -1.8 -2.3 -2.3z" fill="#35abf8"/>
<path d="M319.0 343.7l2.5 0.4 -1.3 -2.0 -2.5 -0.4z" fill="#458afc"/>
<path d="M209.2 307.3l2.5 4.5 -1.5 -2.8 -2.5 -4.6z" fill="#9ffd3f"/>
<path d="M278.4 335.0l2.5 0.4 -1.3 -2.2 -2.5 -0.4z" fill="#27bee9"/>
<path d="M164.1 308.5l2.4 -8.2 -1.7 -2.7 -2.4 8.4z" fill="#b7f735"/>
<path d="M296.2 359.3l2.2 3.3 -1.0 -1.5 -2.2 -3.3z" fill="#341b51"/>
<path d="M248.7 316.0l2.3 0.8 -1.4 -2.3 -2.3 -0.8z" fill="#55fa76"/>
<path d="M316.5 343.2l2.5 0.4 -1.3 -2.0 -2.5 -0.4z" fill="#458cfd"/>
<path d="M223.0 334.6l2.5 5.6 -1.5 -2.0 -2.5 -5.8z" fill="#31aff5"/>
<path d="M275.9 334.6l2.5 0.4 -1.3 -2.3 -2.5 -0.4z" fill="#25c0e7"/>
<path d="M274.9 333.6l2.2 2.2 -1.2 -1.8 -2.3 -2.2z" fill="#2ab9ee"/>
<path d="M190.4 278.4l2.5 3.1 -1.5 -3.3 -2.5 -3.1z" fill="#f9751d"/>
<path d="M314.1 342.8l2.5 0.4 -1.3 -2.0 -2.5 -0.4z" fill="#4391fe"/>
<path d="M246.5 315.4l2.3 0.6 -1.4 -2.4 -2.3 -0.7z" fill="#5dfc6f"/>
<path d="M273.5 334.1l2.5 0.4 -1.3 -2.3 -2.5 -0.4z" fill="#23c3e4"/>
<path d="M154.0 354.0l2.4 -8.1 -1.8 -1.7 -2.4 8.2z" fill="#4661d6"/>
<path d="M293.9 356.1l2.2 3.2 -1.0 -1.5 -2.2 -3.2z" fill="#3c3286"/>
<path d="M206.8 303.1l2.5 4.1 -1.5 -2.9 -2.5 -4.2z" fill="#bcf534"/>
<path d="M166.4 300.3l2.4 -6.9 -1.7 -2.9 -2.4 7.1z" fill="#e3db38"/>
<path d="M311.6 342.4l2.5 0.4 -1.3 -2.1 -2.5 -0.4z" fill="#4294ff"/>
<path d="M244.2 314.9l2.3 0.5 -1.4 -2.4 -2.3 -0.5z" fill="#65fd69"/>
<path d="M272.6 331.5l2.2 2.0 -1.2 -1.9 -2.3 -2.1z" fill="#22c5e2"/>
<path d="M271.0 333.7l2.5 0.4 -1.3 -2.3 -2.5 -0.4z" fill="#20c7df"/>
<path d="M188.0 276.1l2.5 2.3 -1.5 -3.4 -2.5 -2.3z" fill="#f26014"/>
<path d="M349.7 350.3l2.5 0.4 -1.3 -1.9 -2.5 -0.4z" fill="#4664da"/>
<path d="M309.1 342.0l2.5 0.4 -1.3 -2.1 -2.5 -0.4z" fill="#4196ff"/>
<path d="M241.9 314.5l2.3 0.4 -1.4 -2.4 -2.3 -0.4z" fill="#6dfe62"/>
<path d="M220.5 329.3l2.5 5.3 -1.5 -2.2 -2.5 -5.5z" fill="#1bd0d5"/>
<path d="M268.5 333.3l2.5 0.4 -1.3 -2.3 -2.5 -0.4z" fill="#1fc9dd"/>
<path d="M168.8 293.4l2.4 -5.9 -1.6 -3.0 -2.4 6.0z" fill="#f9bc39"/>
<path d="M291.7 353.1l2.2 3.0 -1.1 -1.6 -2.2 -3.1z" fill="#4146ac"/>
<path d="M156.4 346.0l2.4 -8.0 -1.8 -1.8 -2.4 8.1z" fill="#448ffe"/>
<path d="M270.4 329.6l2.2 1.9 -1.2 -1.9 -2.3 -2.0z" fill="#1bd0d5"/>
<path d="M234.3 358.2l2.5 4.6 -1.4 -1.5 -2.5 -4.7z" fill="#36215f"/>
<path d="M347.3 350.0l2.5 0.4 -1.3 -1.9 -2.5 -0.4z" fill="#4666dd"/>
<path d="M239.7 314.2l2.3 0.3 -1.4 -2.4 -2.3 -0.3z" fill="#71fe5f"/>
<path d="M306.7 341.6l2.5 0.4 -1.3 -2.1 -2.5 -0.4z" fill="#4099ff"/>
<path d="M185.5 274.2l2.5 1.9 -1.5 -3.4 -2.5 -1.9z" fill="#ec530f"/>
<path d="M204.3 299.3l2.5 3.8 -1.5 -3.0 -2.5 -3.9z" fill="#d2e935"/>
<path d="M266.1 332.9l2.5 0.4 -1.3 -2.3 -2.5 -0.4z" fill="#1ecbda"/>
<path d="M237.4 314.0l2.3 0.2 -1.4 -2.5 -2.3 -0.2z" fill="#71fe5f"/>
<path d="M344.8 349.6l2.5 0.4 -1.3 -1.9 -2.5 -0.4z" fill="#466be3"/>
<path d="M304.2 341.2l2.5 0.4 -1.3 -2.1 -2.5 -0.4z" fill="#3e9bfe"/>
<path d="M171.2 287.5l2.4 -5.1 -1.6 -3.2 -2.4 5.3z" fill="#fe992c"/>
<path d="M263.6 332.5l2.5 0.4 -1.3 -2.3 -2.5 -0.4z" fill="#1ccdd8"/>
<path d="M268.1 327.9l2.2 1.8 -1.2 -2.0 -2.3 -1.8z" fill="#18d7ca"/>
<path d="M235.1 313.9l2.3 0.1 -1.5 -2.5 -2.3 -0.1z" fill="#75fe5c"/>
<path d="M183.0 273.1l2.5 1.1 -1.5 -3.4 -2.5 -1.1z" fill="#e84b0c"/>
<path d="M289.5 350.2l2.2 2.9 -1.1 -1.6 -2.2 -2.9z" fill="#4559cb"/>
<path d="M342.4 349.2l2.5 0.4 -1.3 -1.9 -2.5 -0.4z" fill="#476ee6"/>
<path d="M301.8 340.8l2.5 0.4 -1.3 -2.1 -2.5 -0.4z" fill="#3d9efe"/>
<path d="M173.6 282.4l2.4 -3.5 -1.6 -3.2 -2.4 3.6z" fill="#fa7b1f"/>
<path d="M218.1 324.1l2.5 5.2 -1.5 -2.4 -2.5 -5.4z" fill="#1ce6b4"/>
<path d="M261.2 332.1l2.5 0.4 -1.3 -2.3 -2.5 -0.4z" fill="#1bd0d5"/>
<path d="M232.9 314.0l2.3 -0.0 -1.5 -2.5 -2.3 0.0z" fill="#75fe5c"/>
<path d="M158.7 338.0l2.4 -9.1 -1.8 -2.0 -2.4 9.4z" fill="#23c3e4"/>
<path d="M180.7 274.1l2.4 -0.9 -1.5 -3.4 -2.4 1.0z" fill="#e84b0c"/>
<path d="M231.8 353.2l2.5 5.0 -1.4 -1.6 -2.5 -5.1z" fill="#4143a7"/>
<path d="M175.9 278.8l2.4 -3.0 -1.6 -3.3 -2.4 3.1z" fill="#f36315"/>
<path d="M201.8 295.5l2.5 3.7 -1.5 -3.0 -2.5 -3.8z" fill="#e7d739"/>
<path d="M265.9 326.2l2.3 1.6 -1.2 -2.0 -2.3 -1.7z" fill="#18e0bd"/>
<path d="M339.9 348.8l2.5 0.4 -1.3 -1.9 -2.5 -0.4z" fill="#4771e9"/>
<path d="M178.3 275.8l2.4 -1.8 -1.5 -3.3 -2.4 1.8z" fill="#ec530f"/>
<path d="M176.0 363.0l2.4 -6.3 -2.2 -1.4 -2.4 6.2z" fill="#372466"/>
<path d="M299.3 340.4l2.5 0.4 -1.3 -2.1 -2.5 -0.4z" fill="#3aa3fc"/>
<path d="M230.5 314.1l2.4 -0.1 -1.5 -2.5 -2.4 0.2z" fill="#75fe5c"/>
<path d="M258.4 332.3l2.7 -0.2 -1.3 -2.3 -2.8 0.2z" fill="#1ad2d2"/>
<path d="M287.2 347.4l2.2 2.8 -1.1 -1.6 -2.2 -2.8z" fill="#466be3"/>
<path d="M337.5 348.4l2.5 0.4 -1.3 -1.9 -2.5 -0.4z" fill="#4773eb"/>
<path d="M228.1 314.4l2.4 -0.3 -1.5 -2.5 -2.4 0.3z" fill="#75fe5c"/>
<path d="M296.8 340.0l2.5 0.4 -1.3 -2.1 -2.5 -0.4z" fill="#38a5fb"/>
<path d="M255.7 332.7l2.7 -0.4 -1.3 -2.3 -2.8 0.4z" fill="#1bd0d5"/>
<path d="M178.4 356.7l2.4 -4.0 -2.1 -1.4 -2.4 4.0z" fill="#4143a7"/>
<path d="M263.6 324.7l2.3 1.5 -1.3 -2.1 -2.3 -1.6z" fill="#1ce6b4"/>
<path d="M225.8 314.9l2.4 -0.5 -1.6 -2.5 -2.4 0.5z" fill="#71fe5f"/>
<path d="M252.9 333.3l2.7 -0.6 -1.3 -2.3 -2.8 0.7z" fill="#1ccdd8"/>
<path d="M335.0 348.0l2.5 0.4 -1.3 -1.9 -2.5 -0.4z" fill="#4776ee"/>
<path d="M180.7 352.7l2.4 -3.5 -2.1 -1.5 -2.4 3.6z" fill="#4559cb"/>
<path d="M294.4 339.6l2.5 0.4 -1.3 -2.2 -2.5 -0.4z" fill="#37a8fa"/>
<path d="M199.4 291.9l2.5 3.7 -1.5 -3.1 -2.5 -3.7z" fill="#f5c53a"/>
<path d="M223.4 315.5l2.4 -0.6 -1.6 -2.5 -2.4 0.7z" fill="#6dfe62"/>
<path d="M215.6 318.9l2.5 5.1 -1.5 -2.5 -2.5 -5.3z" fill="#3ff68a"/>
<path d="M250.2 334.2l2.7 -0.9 -1.3 -2.3 -2.8 0.9z" fill="#1ecbda"/>
<path d="M161.1 328.8l2.4 -9.2 -1.7 -2.3 -2.4 9.5z" fill="#20eaac"/>
<path d="M183.1 349.2l2.4 -3.2 -2.1 -1.5 -2.4 3.3z" fill="#476ee6"/>
<path d="M285.0 344.7l2.2 2.7 -1.1 -1.7 -2.2 -2.7z" fill="#477bf2"/>
<path d="M229.4 347.9l2.5 5.3 -1.5 -1.7 -2.5 -5.4z" fill="#4664da"/>
<path d="M261.4 323.3l2.3 1.4 -1.3 -2.1 -2.3 -1.4z" fill="#22ebaa"/>
<path d="M221.0 316.3l2.4 -0.8 -1.6 -2.4 -2.4 0.8z" fill="#65fd69"/>
<path d="M332.5 347.6l2.5 0.4 -1.3 -2.0 -2.5 -0.4z" fill="#4778f0"/>
<path d="M247.5 335.3l2.7 -1.1 -1.4 -2.3 -2.8 1.1z" fill="#22c5e2"/>
<path d="M185.5 346.0l2.4 -3.0 -2.1 -1.6 -2.4 3.1z" fill="#4682f8"/>
<path d="M291.9 339.2l2.5 0.4 -1.3 -2.2 -2.5 -0.4z" fill="#35abf8"/>
<path d="M218.7 317.3l2.4 -0.9 -1.6 -2.4 -2.4 1.0z" fill="#5dfc6f"/>
<path d="M187.9 343.0l2.4 -2.8 -2.0 -1.7 -2.4 2.9z" fill="#4391fe"/>
<path d="M244.7 336.6l2.7 -1.3 -1.4 -2.3 -2.8 1.3z" fill="#25c0e7"/>
<path d="M216.3 318.4l2.4 -1.1 -1.7 -2.4 -2.4 1.1z" fill="#52fa7a"/>
<path d="M190.2 340.1l2.4 -2.7 -2.0 -1.7 -2.4 2.8z" fill="#3aa3fc"/>
<path d="M242.0 338.0l2.7 -1.5 -1.4 -2.2 -2.8 1.5z" fill="#2cb7f0"/>
<path d="M213.9 319.6l2.4 -1.3 -1.7 -2.3 -2.4 1.3z" fill="#4af880"/>
<path d="M211.8 363.5l2.7 -2.7 -1.7 -1.6 -2.8 2.8z" fill="#341b51"/>
<path d="M330.1 347.2l2.5 0.4 -1.3 -2.0 -2.5 -0.4z" fill="#477bf2"/>
<path d="M259.1 322.1l2.3 1.2 -1.3 -2.2 -2.3 -1.3z" fill="#2aefa1"/>
<path d="M214.5 360.8l2.7 -2.7 -1.6 -1.6 -2.8 2.8z" fill="#3a2d79"/>
<path d="M192.6 337.5l2.4 -2.5 -2.0 -1.8 -2.4 2.6z" fill="#2fb2f4"/>
<path d="M289.5 338.8l2.5 0.4 -1.3 -2.2 -2.5 -0.4z" fill="#33adf7"/>
<path d="M239.2 339.7l2.7 -1.7 -1.4 -2.2 -2.8 1.7z" fill="#31aff5"/>
<path d="M211.6 321.0l2.4 -1.4 -1.7 -2.3 -2.4 1.5z" fill="#3cf58e"/>
<path d="M217.3 358.2l2.7 -2.6 -1.6 -1.7 -2.8 2.7z" fill="#4040a2"/>
<path d="M195.0 334.9l2.4 -2.4 -1.9 -1.9 -2.4 2.5z" fill="#25c0e7"/>
<path d="M209.2 322.6l2.4 -1.6 -1.8 -2.2 -2.4 1.6z" fill="#32f298"/>
<path d="M236.5 341.6l2.7 -1.8 -1.4 -2.1 -2.8 1.9z" fill="#3aa3fc"/>
<path d="M220.0 355.5l2.7 -2.6 -1.6 -1.8 -2.8 2.6z" fill="#4451bf"/>
<path d="M197.3 332.5l2.4 -2.3 -1.9 -1.9 -2.4 2.3z" fill="#1ccdd8"/>
<path d="M222.7 352.9l2.7 -2.5 -1.6 -1.9 -2.8 2.6z" fill="#4661d6"/>
<path d="M206.8 324.3l2.4 -1.7 -1.8 -2.2 -2.4 1.8z" fill="#27eea4"/>
<path d="M233.7 343.6l2.7 -2.0 -1.5 -2.1 -2.8 2.1z" fill="#4099ff"/>
<path d="M282.8 342.2l2.2 2.5 -1.1 -1.7 -2.2 -2.6z" fill="#458cfd"/>
<path d="M196.9 288.3l2.5 3.6 -1.5 -3.2 -2.5 -3.7z" fill="#fcb136"/>
<path d="M199.7 330.3l2.4 -2.1 -1.9 -2.0 -2.4 2.2z" fill="#18d9c8"/>
<path d="M225.5 350.4l2.7 -2.4 -1.5 -1.9 -2.8 2.5z" fill="#4771e9"/>
<path d="M204.5 326.1l2.4 -1.8 -1.8 -2.1 -2.4 1.9z" fill="#1de7b2"/>
<path d="M231.0 345.7l2.7 -2.2 -1.5 -2.0 -2.8 2.2z" fill="#458cfd"/>
<path d="M202.1 328.1l2.4 -2.0 -1.9 -2.1 -2.4 2.1z" fill="#19e2bb"/>
<path d="M228.2 348.0l2.7 -2.3 -1.5 -2.0 -2.8 2.4z" fill="#4680f6"/>
<path d="M327.6 346.8l2.5 0.4 -1.3 -2.0 -2.5 -0.4z" fill="#467df4"/>
<path d="M213.2 314.5l2.5 4.5 -1.5 -2.7 -2.5 -4.6z" fill="#6dfe62"/>
<path d="M287.0 338.4l2.5 0.4 -1.3 -2.2 -2.5 -0.4z" fill="#31aff5"/>
<path d="M256.9 321.0l2.3 1.1 -1.3 -2.2 -2.3 -1.2z" fill="#32f298"/>
<path d="M163.4 319.6l2.4 -8.6 -1.7 -2.5 -2.4 8.9z" fill="#6dfe62"/>
<path d="M226.9 342.3l2.5 5.7 -1.5 -1.8 -2.5 -5.9z" fill="#4687fb"/>
<path d="M325.2 346.5l2.5 0.4 -1.3 -2.0 -2.5 -0.4z" fill="#4682f8"/>
<path d="M284.6 338.0l2.5 0.4 -1.3 -2.2 -2.5 -0.4z" fill="#2eb4f2"/>
<path d="M280.5 339.8l2.2 2.4 -1.1 -1.7 -2.2 -2.4z" fill="#3e9bfe"/>
<path d="M254.6 320.0l2.3 1.0 -1.3 -2.3 -2.3 -1.0z" fill="#3cf58e"/>
<path d="M194.4 284.8l2.5 3.5 -1.5 -3.2 -2.5 -3.6z" fill="#fe992c"/>
<path d="M322.7 346.1l2.5 0.4 -1.3 -2.0 -2.5 -0.4z" fill="#4685fa"/>
<path d="M282.1 337.6l2.5 0.4 -1.3 -2.2 -2.5 -0.4z" fill="#2cb7f0"/>
<path d="M252.4 319.1l2.3 0.9 -1.3 -2.3 -2.3 -0.9z" fill="#46f884"/>
<path d="M153.5 363.7l2.3 -8.0 -1.8 -1.6 -2.4 8.1z" fill="#3a2d79"/>
<path d="M210.7 310.1l2.5 4.4 -1.5 -2.8 -2.5 -4.5z" fill="#96fe44"/>
<path d="M320.2 345.7l2.5 0.4 -1.3 -2.0 -2.5 -0.4z" fill="#4687fb"/>
<path d="M278.3 337.6l2.2 2.3 -1.2 -1.8 -2.2 -2.3z" fill="#37a8fa"/>
<path d="M165.8 311.0l2.4 -8.0 -1.7 -2.7 -2.4 8.2z" fill="#affa37"/>
<path d="M279.6 337.2l2.5 0.4 -1.3 -2.2 -2.5 -0.4z" fill="#2ab9ee"/>
<path d="M250.1 318.4l2.3 0.7 -1.4 -2.3 -2.3 -0.8z" fill="#4ef97d"/>
<path d="M297.2 360.8l2.2 3.3 -1.0 -1.5 -2.2 -3.3z" fill="#341b51"/>
<path d="M317.8 345.3l2.5 0.4 -1.3 -2.0 -2.5 -0.4z" fill="#458afc"/>
<path d="M224.5 336.8l2.5 5.4 -1.5 -2.0 -2.5 -5.6z" fill="#33adf7"/>
<path d="M192.0 281.8l2.5 3.0 -1.5 -3.3 -2.5 -3.1z" fill="#fb8122"/>
<path d="M277.2 336.8l2.5 0.4 -1.3 -2.3 -2.5 -0.4z" fill="#28bceb"/>
<path d="M276.1 335.5l2.2 2.1 -1.2 -1.8 -2.2 -2.2z" fill="#2cb7f0"/>
<path d="M247.9 317.8l2.3 0.6 -1.4 -2.4 -2.3 -0.6z" fill="#55fa76"/>
<path d="M315.3 344.9l2.5 0.4 -1.3 -2.0 -2.5 -0.4z" fill="#458cfd"/>
<path d="M274.7 336.4l2.5 0.4 -1.3 -2.3 -2.5 -0.4z" fill="#27bee9"/>
<path d="M155.8 355.6l2.3 -8.0 -1.8 -1.7 -2.4 8.1z" fill="#455ed3"/>
<path d="M208.2 306.1l2.5 4.1 -1.5 -2.9 -2.5 -4.1z" fill="#b1f936"/>
<path d="M168.1 303.1l2.4 -6.7 -1.7 -2.9 -2.4 6.9z" fill="#dbe236"/>
<path d="M245.6 317.3l2.3 0.5 -1.4 -2.4 -2.3 -0.5z" fill="#5dfc6f"/>
<path d="M189.5 279.5l2.5 2.3 -1.5 -3.4 -2.5 -2.3z" fill="#f76f1a"/>
<path d="M312.9 344.5l2.5 0.4 -1.3 -2.1 -2.5 -0.4z" fill="#448ffe"/>
<path d="M295.0 357.7l2.2 3.1 -1.0 -1.5 -2.2 -3.2z" fill="#3c3286"/>
<path d="M272.3 336.0l2.5 0.4 -1.3 -2.3 -2.5 -0.4z" fill="#25c0e7"/>
<path d="M273.9 333.5l2.2 2.0 -1.2 -1.9 -2.2 -2.0z" fill="#23c3e4"/>
<path d="M243.4 316.9l2.3 0.4 -1.4 -2.4 -2.3 -0.4z" fill="#61fc6c"/>
<path d="M351.0 352.2l2.5 0.4 -1.3 -1.9 -2.5 -0.4z" fill="#4661d6"/>
<path d="M310.4 344.1l2.5 0.4 -1.3 -2.1 -2.5 -0.4z" fill="#4391fe"/>
<path d="M222.0 331.7l2.5 5.1 -1.5 -2.2 -2.5 -5.3z" fill="#1ecbda"/>
<path d="M170.5 296.3l2.3 -5.8 -1.6 -3.0 -2.4 5.9z" fill="#f6c33a"/>
<path d="M269.8 335.6l2.5 0.4 -1.3 -2.3 -2.5 -0.4z" fill="#22c5e2"/>
<path d="M187.0 277.6l2.5 1.9 -1.5 -3.4 -2.5 -1.9z" fill="#f26014"/>
<path d="M241.1 316.7l2.3 0.3 -1.4 -2.4 -2.3 -0.3z" fill="#65fd69"/>
<path d="M158.2 347.6l2.3 -7.9 -1.8 -1.8 -2.4 8.0z" fill="#448ffe"/>
<path d="M205.8 302.3l2.5 3.8 -1.5 -3.0 -2.5 -3.8z" fill="#cbed34"/>
<path d="M271.6 331.6l2.2 1.9 -1.2 -1.9 -2.2 -1.9z" fill="#1ccdd8"/>
<path d="M348.5 351.8l2.5 0.4 -1.3 -1.9 -2.5 -0.4z" fill="#4664da"/>
<path d="M307.9 343.7l2.5 0.4 -1.3 -2.1 -2.5 -0.4z" fill="#4294ff"/>
<path d="M235.7 359.8l2.5 4.5 -1.4 -1.5 -2.5 -4.6z" fill="#36215f"/>
<path d="M292.8 354.7l2.2 3.0 -1.1 -1.6 -2.2 -3.0z" fill="#4146ac"/>
<path d="M267.3 335.2l2.5 0.4 -1.3 -2.3 -2.5 -0.4z" fill="#20c7df"/>
<path d="M238.9 316.5l2.3 0.2 -1.4 -2.5 -2.3 -0.2z" fill="#69fd66"/>
<path d="M172.8 290.5l2.3 -5.0 -1.6 -3.2 -2.4 5.1z" fill="#fea431"/>
<path d="M346.1 351.5l2.5 0.4 -1.3 -1.9 -2.5 -0.4z" fill="#4666dd"/>
<path d="M305.5 343.4l2.5 0.4 -1.3 -2.1 -2.5 -0.4z" fill="#4099ff"/>
<path d="M184.6 276.5l2.5 1.1 -1.5 -3.4 -2.5 -1.1z" fill="#ef5811"/>
<path d="M264.9 334.8l2.5 0.4 -1.3 -2.3 -2.5 -0.4z" fill="#1fc9dd"/>
<path d="M269.4 329.9l2.2 1.7 -1.2 -2.0 -2.2 -1.8z" fill="#19d5cd"/>
<path d="M236.6 316.4l2.3 0.1 -1.5 -2.5 -2.3 -0.1z" fill="#69fd66"/>
<path d="M175.2 285.5l2.3 -3.5 -1.6 -3.2 -2.4 3.5z" fill="#fc8725"/>
<path d="M343.6 351.1l2.5 0.4 -1.3 -1.9 -2.5 -0.4z" fill="#466be3"/>
<path d="M182.2 277.4l2.3 -0.9 -1.5 -3.4 -2.4 0.9z" fill="#ed5510"/>
<path d="M303.0 343.0l2.5 0.4 -1.3 -2.1 -2.5 -0.4z" fill="#3e9bfe"/>
<path d="M219.6 326.6l2.5 5.1 -1.5 -2.4 -2.5 -5.2z" fill="#19e3b9"/>
<path d="M290.6 351.8l2.2 2.9 -1.1 -1.6 -2.2 -2.9z" fill="#4559cb"/>
<path d="M177.5 282.1l2.3 -2.9 -1.6 -3.3 -2.4 3.0z" fill="#f76f1a"/>
<path d="M234.4 316.5l2.3 -0.0 -1.5 -2.5 -2.3 0.0z" fill="#6dfe62"/>
<path d="M262.4 334.4l2.5 0.4 -1.3 -2.3 -2.5 -0.4z" fill="#1ecbda"/>
<path d="M203.3 298.6l2.5 3.7 -1.5 -3.0 -2.5 -3.7z" fill="#dfdf37"/>
<path d="M179.9 279.1l2.3 -1.7 -1.5 -3.3 -2.4 1.8z" fill="#f26014"/>
<path d="M160.5 339.8l2.3 -8.9 -1.8 -2.0 -2.4 9.1z" fill="#25c0e7"/>
<path d="M233.3 354.9l2.4 4.9 -1.4 -1.6 -2.5 -5.0z" fill="#4040a2"/>
<path d="M267.2 328.3l2.2 1.6 -1.2 -2.0 -2.3 -1.6z" fill="#18ddc2"/>
<path d="M178.2 364.5l2.3 -6.4 -2.2 -1.4 -2.4 6.3z" fill="#372466"/>
<path d="M341.2 350.7l2.5 0.4 -1.3 -1.9 -2.5 -0.4z" fill="#476ee6"/>
<path d="M232.0 316.6l2.3 -0.1 -1.5 -2.5 -2.4 0.1z" fill="#6dfe62"/>
<path d="M300.6 342.6l2.5 0.4 -1.3 -2.1 -2.5 -0.4z" fill="#3d9efe"/>
<path d="M259.7 334.6l2.7 -0.2 -1.3 -2.3 -2.7 0.2z" fill="#1ccdd8"/>
<path d="M229.7 316.9l2.3 -0.3 -1.5 -2.5 -2.4 0.3z" fill="#69fd66"/>
<path d="M338.7 350.3l2.5 0.4 -1.3 -1.9 -2.5 -0.4z" fill="#4771e9"/>
<path d="M288.4 349.1l2.2 2.7 -1.1 -1.6 -2.2 -2.8z" fill="#4669e0"/>
<path d="M257.0 335.0l2.7 -0.4 -1.3 -2.3 -2.7 0.4z" fill="#1ecbda"/>
<path d="M298.1 342.2l2.5 0.4 -1.3 -2.1 -2.5 -0.4z" fill="#3ba0fd"/>
<path d="M180.5 358.1l2.3 -4.0 -2.1 -1.4 -2.4 4.0z" fill="#4143a7"/>
<path d="M264.9 326.8l2.2 1.5 -1.3 -2.1 -2.3 -1.5z" fill="#19e3b9"/>
<path d="M227.3 317.4l2.3 -0.5 -1.6 -2.5 -2.4 0.5z" fill="#65fd69"/>
<path d="M200.9 295.0l2.5 3.6 -1.5 -3.1 -2.5 -3.7z" fill="#efcd3a"/>
<path d="M254.3 335.6l2.7 -0.6 -1.3 -2.3 -2.7 0.6z" fill="#1fc9dd"/>
<path d="M225.0 318.0l2.3 -0.6 -1.6 -2.5 -2.4 0.6z" fill="#61fc6c"/>
<path d="M336.3 350.0l2.5 0.4 -1.3 -1.9 -2.5 -0.4z" fill="#4773eb"/>
<path d="M182.9 354.2l2.3 -3.5 -2.1 -1.5 -2.4 3.5z" fill="#4559cb"/>
<path d="M217.1 321.6l2.5 5.0 -1.5 -2.5 -2.5 -5.1z" fill="#35f394"/>
<path d="M295.7 341.8l2.5 0.4 -1.3 -2.2 -2.5 -0.4z" fill="#3aa3fc"/>
<path d="M251.6 336.5l2.7 -0.8 -1.3 -2.3 -2.7 0.9z" fill="#22c5e2"/>
<path d="M162.8 330.9l2.3 -8.9 -1.7 -2.3 -2.4 9.2z" fill="#1fe9af"/>
<path d="M222.7 318.7l2.3 -0.8 -1.6 -2.4 -2.4 0.8z" fill="#5dfc6f"/>
<path d="M185.2 350.7l2.3 -3.2 -2.1 -1.5 -2.4 3.2z" fill="#476ee6"/>
<path d="M262.7 325.5l2.2 1.3 -1.3 -2.1 -2.3 -1.4z" fill="#1fe9af"/>
<path d="M230.8 349.8l2.4 5.1 -1.5 -1.7 -2.5 -5.3z" fill="#4664da"/>
<path d="M286.1 346.4l2.2 2.6 -1.1 -1.7 -2.2 -2.7z" fill="#477bf2"/>
<path d="M220.3 319.6l2.3 -0.9 -1.6 -2.4 -2.4 0.9z" fill="#55fa76"/>
<path d="M248.8 337.5l2.7 -1.1 -1.4 -2.3 -2.7 1.1z" fill="#25c0e7"/>
<path d="M333.8 349.6l2.5 0.4 -1.3 -2.0 -2.5 -0.4z" fill="#4776ee"/>
<path d="M187.6 347.5l2.3 -3.0 -2.1 -1.6 -2.4 3.0z" fill="#4680f6"/>
<path d="M293.2 341.4l2.5 0.4 -1.3 -2.2 -2.5 -0.4z" fill="#38a5fb"/>
<path d="M218.0 320.7l2.3 -1.1 -1.7 -2.4 -2.4 1.1z" fill="#4af880"/>
<path d="M246.1 338.8l2.7 -1.3 -1.4 -2.3 -2.7 1.3z" fill="#28bceb"/>
<path d="M189.9 344.6l2.3 -2.8 -2.0 -1.7 -2.4 2.8z" fill="#4391fe"/>
<path d="M215.7 321.9l2.3 -1.2 -1.7 -2.3 -2.4 1.3z" fill="#3ff68a"/>
<path d="M192.3 341.8l2.3 -2.6 -2.0 -1.7 -2.4 2.7z" fill="#3aa3fc"/>
<path d="M243.4 340.2l2.7 -1.4 -1.4 -2.2 -2.7 1.5z" fill="#2fb2f4"/>
<path d="M213.3 323.3l2.3 -1.4 -1.7 -2.3 -2.4 1.4z" fill="#35f394"/>
<path d="M194.6 339.2l2.3 -2.5 -2.0 -1.8 -2.4 2.5z" fill="#2fb2f4"/>
<path d="M260.4 324.3l2.2 1.2 -1.3 -2.2 -2.3 -1.2z" fill="#25eca7"/>
<path d="M198.4 291.5l2.5 3.5 -1.5 -3.2 -2.5 -3.6z" fill="#f9bc39"/>
<path d="M331.3 349.2l2.5 0.4 -1.3 -2.0 -2.5 -0.4z" fill="#4778f0"/>
<path d="M213.4 365.0l2.7 -2.6 -1.7 -1.6 -2.7 2.7z" fill="#341b51"/>
<path d="M240.7 341.9l2.7 -1.6 -1.4 -2.2 -2.7 1.7z" fill="#35abf8"/>
<path d="M290.7 341.0l2.5 0.4 -1.3 -2.2 -2.5 -0.4z" fill="#37a8fa"/>
<path d="M211.0 324.8l2.3 -1.5 -1.8 -2.2 -2.4 1.6z" fill="#2cf09e"/>
<path d="M216.2 362.4l2.7 -2.6 -1.6 -1.6 -2.7 2.7z" fill="#3a2d79"/>
<path d="M196.9 336.7l2.3 -2.3 -1.9 -1.9 -2.4 2.4z" fill="#25c0e7"/>
<path d="M208.6 326.4l2.3 -1.6 -1.8 -2.2 -2.4 1.7z" fill="#22ebaa"/>
<path d="M237.9 343.7l2.7 -1.8 -1.4 -2.1 -2.7 1.8z" fill="#3ba0fd"/>
<path d="M218.9 359.8l2.7 -2.6 -1.6 -1.7 -2.7 2.6z" fill="#3f3e9c"/>
<path d="M199.3 334.4l2.3 -2.2 -1.9 -1.9 -2.4 2.3z" fill="#1ecbda"/>
<path d="M206.3 328.2l2.3 -1.8 -1.8 -2.1 -2.4 1.8z" fill="#1ce6b4"/>
<path d="M201.6 332.2l2.3 -2.1 -1.9 -2.0 -2.4 2.1z" fill="#19d5cd"/>
<path d="M204.0 330.1l2.3 -1.9 -1.9 -2.1 -2.4 2.0z" fill="#18dec0"/>
<path d="M221.6 357.2l2.7 -2.5 -1.6 -1.8 -2.7 2.6z" fill="#434eba"/>
<path d="M235.2 345.6l2.7 -2.0 -1.5 -2.1 -2.7 2.0z" fill="#4294ff"/>
<path d="M224.3 354.7l2.7 -2.4 -1.6 -1.9 -2.7 2.5z" fill="#455ed3"/>
<path d="M232.5 347.7l2.7 -2.1 -1.5 -2.0 -2.7 2.2z" fill="#4687fb"/>
<path d="M227.1 352.3l2.7 -2.3 -1.5 -1.9 -2.7 2.4z" fill="#476ee6"/>
<path d="M229.8 350.0l2.7 -2.2 -1.5 -2.0 -2.7 2.3z" fill="#477bf2"/>
<path d="M283.9 344.0l2.2 2.5 -1.1 -1.7 -2.2 -2.5z" fill="#458afc"/>
<path d="M214.6 317.2l2.5 4.4 -1.5 -2.7 -2.5 -4.5z" fill="#5dfc6f"/>
<path d="M328.9 348.8l2.5 0.4 -1.3 -2.0 -2.5 -0.4z" fill="#477bf2"/>
<path d="M288.3 340.6l2.5 0.4 -1.3 -2.2 -2.5 -0.4z" fill="#33adf7"/>
<path d="M258.2 323.2l2.2 1.1 -1.3 -2.2 -2.3 -1.1z" fill="#2cf09e"/>
<path d="M165.2 321.9l2.3 -8.4 -1.7 -2.5 -2.4 8.6z" fill="#61fc6c"/>
<path d="M228.4 344.3l2.4 5.5 -1.5 -1.8 -2.5 -5.7z" fill="#4685fa"/>
<path d="M326.4 348.5l2.5 0.4 -1.3 -2.0 -2.5 -0.4z" fill="#467df4"/>
<path d="M285.8 340.3l2.5 0.4 -1.3 -2.2 -2.5 -0.4z" fill="#31aff5"/>
<path d="M195.9 288.1l2.5 3.4 -1.5 -3.2 -2.5 -3.5z" fill="#fea732"/>
<path d="M256.0 322.3l2.2 0.9 -1.3 -2.3 -2.3 -1.0z" fill="#35f394"/>
<path d="M281.7 341.6l2.2 2.3 -1.1 -1.7 -2.2 -2.4z" fill="#4099ff"/>
<path d="M324.0 348.1l2.5 0.4 -1.3 -2.0 -2.5 -0.4z" fill="#4680f6"/>
<path d="M283.4 339.9l2.5 0.4 -1.3 -2.2 -2.5 -0.4z" fill="#2fb2f4"/>
<path d="M212.2 313.0l2.5 4.3 -1.5 -2.8 -2.5 -4.4z" fill="#88ff4e"/>
<path d="M253.7 321.5l2.2 0.8 -1.3 -2.3 -2.3 -0.9z" fill="#3ff68a"/>
<path d="M167.5 313.5l2.3 -7.7 -1.7 -2.7 -2.4 8.0z" fill="#a7fc3a"/>
<path d="M155.4 365.1l2.3 -7.9 -1.8 -1.6 -2.3 8.0z" fill="#3a2d79"/>
<path d="M321.5 347.7l2.5 0.4 -1.3 -2.0 -2.5 -0.4z" fill="#4682f8"/>
<path d="M280.9 339.5l2.5 0.4 -1.3 -2.2 -2.5 -0.4z" fill="#2eb4f2"/>
<path d="M279.5 339.4l2.2 2.2 -1.2 -1.8 -2.2 -2.3z" fill="#38a5fb"/>
<path d="M193.5 285.2l2.5 2.9 -1.5 -3.3 -2.5 -3.0z" fill="#fe9029"/>
<path d="M251.5 320.8l2.2 0.7 -1.4 -2.3 -2.3 -0.7z" fill="#46f884"/>
<path d="M225.9 339.0l2.4 5.3 -1.5 -2.0 -2.5 -5.4z" fill="#37a8fa"/>
<path d="M319.0 347.3l2.5 0.4 -1.3 -2.0 -2.5 -0.4z" fill="#4685fa"/>
<path d="M278.4 339.1l2.5 0.4 -1.3 -2.3 -2.5 -0.4z" fill="#2cb7f0"/>
<path d="M298.3 362.4l2.2 3.3 -1.0 -1.5 -2.2 -3.3z" fill="#341b51"/>
<path d="M249.3 320.2l2.2 0.6 -1.4 -2.4 -2.3 -0.6z" fill="#4ef97d"/>
<path d="M277.3 337.3l2.2 2.1 -1.2 -1.8 -2.2 -2.1z" fill="#2eb4f2"/>
<path d="M169.8 305.8l2.3 -6.6 -1.7 -2.9 -2.4 6.7z" fill="#d4e735"/>
<path d="M316.6 347.0l2.5 0.4 -1.3 -2.0 -2.5 -0.4z" fill="#458afc"/>
<path d="M209.7 309.0l2.5 4.0 -1.5 -2.9 -2.5 -4.1z" fill="#a7fc3a"/>
<path d="M276.0 338.7l2.5 0.4 -1.3 -2.3 -2.5 -0.4z" fill="#2ab9ee"/>
<path d="M157.7 357.2l2.3 -7.9 -1.8 -1.7 -2.3 8.0z" fill="#455ed3"/>
<path d="M191.0 282.9l2.5 2.3 -1.5 -3.4 -2.5 -2.3z" fill="#fb7e21"/>
<path d="M247.0 319.7l2.2 0.5 -1.4 -2.4 -2.3 -0.5z" fill="#52fa7a"/>
<path d="M314.1 346.6l2.5 0.4 -1.3 -2.1 -2.5 -0.4z" fill="#458cfd"/>
<path d="M273.5 338.3l2.5 0.4 -1.3 -2.3 -2.5 -0.4z" fill="#28bceb"/>
<path d="M296.1 359.3l2.2 3.1 -1.0 -1.5 -2.2 -3.1z" fill="#3c3286"/>
<path d="M275.1 335.4l2.2 1.9 -1.2 -1.9 -2.2 -2.0z" fill="#25c0e7"/>
<path d="M244.8 319.4l2.2 0.4 -1.4 -2.4 -2.3 -0.4z" fill="#55fa76"/>
<path d="M172.2 299.2l2.3 -5.6 -1.6 -3.0 -2.3 5.8z" fill="#f1cb3a"/>
<path d="M223.5 334.0l2.4 5.0 -1.5 -2.2 -2.5 -5.1z" fill="#20c7df"/>
<path d="M311.7 346.2l2.5 0.4 -1.3 -2.1 -2.5 -0.4z" fill="#448ffe"/>
<path d="M352.3 354.1l2.5 0.4 -1.3 -1.9 -2.5 -0.4z" fill="#455ed3"/>
<path d="M188.5 281.0l2.5 1.9 -1.5 -3.4 -2.5 -1.9z" fill="#f76f1a"/>
<path d="M271.1 337.9l2.5 0.4 -1.3 -2.3 -2.5 -0.4z" fill="#27bee9"/>
<path d="M207.3 305.3l2.5 3.7 -1.5 -3.0 -2.5 -3.8z" fill="#c1f334"/>
<path d="M242.6 319.1l2.2 0.2 -1.4 -2.4 -2.3 -0.3z" fill="#59fb73"/>
<path d="M160.0 349.3l2.3 -7.8 -1.8 -1.8 -2.3 7.9z" fill="#458cfd"/>
<path d="M272.8 333.6l2.2 1.8 -1.2 -1.9 -2.2 -1.9z" fill="#1fc9dd"/>
<path d="M309.2 345.8l2.5 0.4 -1.3 -2.1 -2.5 -0.4z" fill="#4391fe"/>
<path d="M349.8 353.7l2.5 0.4 -1.3 -1.9 -2.5 -0.4z" fill="#4661d6"/>
<path d="M174.5 293.6l2.3 -4.9 -1.6 -3.2 -2.3 5.0z" fill="#fdae35"/>
<path d="M268.6 337.5l2.5 0.4 -1.3 -2.3 -2.5 -0.4z" fill="#23c3e4"/>
<path d="M237.2 361.4l2.4 4.5 -1.4 -1.5 -2.5 -4.5z" fill="#36215f"/>
<path d="M293.9 356.3l2.2 3.0 -1.1 -1.6 -2.2 -3.0z" fill="#4146ac"/>
<path d="M240.3 319.0l2.2 0.1 -1.4 -2.5 -2.3 -0.2z" fill="#5dfc6f"/>
<path d="M186.1 279.9l2.5 1.1 -1.5 -3.4 -2.5 -1.1z" fill="#f46617"/>
<path d="M306.8 345.5l2.5 0.4 -1.3 -2.1 -2.5 -0.4z" fill="#4294ff"/>
<path d="M176.8 288.7l2.3 -3.4 -1.6 -3.2 -2.3 3.5z" fill="#fe932a"/>
<path d="M347.4 353.4l2.5 0.4 -1.3 -1.9 -2.5 -0.4z" fill="#4664da"/>
<path d="M266.2 337.1l2.5 0.4 -1.3 -2.3 -2.5 -0.4z" fill="#22c5e2"/>
<path d="M238.1 318.9l2.2 0.1 -1.5 -2.5 -2.3 -0.1z" fill="#61fc6c"/>
<path d="M183.8 280.8l2.3 -0.9 -1.5 -3.4 -2.3 0.9z" fill="#f36315"/>
<path d="M270.6 331.9l2.2 1.7 -1.2 -2.0 -2.2 -1.7z" fill="#1ad4d0"/>
<path d="M179.1 285.3l2.3 -2.8 -1.6 -3.3 -2.3 2.9z" fill="#fb7e21"/>
<path d="M181.4 282.5l2.3 -1.7 -1.5 -3.3 -2.3 1.7z" fill="#f66c19"/>
<path d="M204.8 301.7l2.5 3.6 -1.5 -3.0 -2.5 -3.7z" fill="#d7e535"/>
<path d="M221.0 329.1l2.4 4.9 -1.5 -2.4 -2.5 -5.1z" fill="#18dec0"/>
<path d="M235.9 318.9l2.2 -0.0 -1.5 -2.5 -2.3 0.0z" fill="#61fc6c"/>
<path d="M304.3 345.1l2.5 0.4 -1.3 -2.1 -2.5 -0.4z" fill="#4196ff"/>
<path d="M344.9 353.0l2.5 0.4 -1.3 -1.9 -2.5 -0.4z" fill="#4666dd"/>
<path d="M263.7 336.8l2.5 0.4 -1.3 -2.3 -2.5 -0.4z" fill="#20c7df"/>
<path d="M291.7 353.4l2.2 2.8 -1.1 -1.6 -2.2 -2.9z" fill="#4559cb"/>
<path d="M162.3 341.6l2.3 -8.7 -1.8 -2.0 -2.3 8.9z" fill="#27bee9"/>
<path d="M233.5 319.1l2.3 -0.1 -1.5 -2.5 -2.3 0.1z" fill="#61fc6c"/>
<path d="M180.4 366.0l2.3 -6.4 -2.2 -1.4 -2.3 6.4z" fill="#372466"/>
<path d="M268.4 330.4l2.2 1.5 -1.2 -2.0 -2.2 -1.6z" fill="#18dbc5"/>
<path d="M234.7 356.6l2.4 4.8 -1.4 -1.6 -2.4 -4.9z" fill="#4040a2"/>
<path d="M301.8 344.7l2.5 0.4 -1.3 -2.1 -2.5 -0.4z" fill="#4099ff"/>
<path d="M342.4 352.6l2.5 0.4 -1.3 -1.9 -2.5 -0.4z" fill="#4669e0"/>
<path d="M261.0 336.9l2.7 -0.2 -1.3 -2.3 -2.7 0.2z" fill="#20c7df"/>
<path d="M231.2 319.4l2.3 -0.3 -1.5 -2.5 -2.3 0.3z" fill="#5dfc6f"/>
<path d="M258.3 337.3l2.7 -0.4 -1.3 -2.3 -2.7 0.4z" fill="#20c7df"/>
<path d="M299.4 344.3l2.5 0.4 -1.3 -2.1 -2.5 -0.4z" fill="#3e9bfe"/>
<path d="M340.0 352.3l2.5 0.4 -1.3 -1.9 -2.5 -0.4z" fill="#466be3"/>
<path d="M228.9 319.8l2.3 -0.4 -1.6 -2.5 -2.3 0.5z" fill="#5dfc6f"/>
<path d="M202.4 298.2l2.5 3.5 -1.5 -3.1 -2.5 -3.6z" fill="#e7d739"/>
<path d="M182.7 359.5l2.3 -3.9 -2.1 -1.4 -2.3 4.0z" fill="#4143a7"/>
<path d="M289.5 350.7l2.2 2.7 -1.1 -1.6 -2.2 -2.7z" fill="#4669e0"/>
<path d="M266.2 329.0l2.2 1.4 -1.3 -2.1 -2.2 -1.5z" fill="#19e2bb"/>
<path d="M255.6 338.0l2.7 -0.6 -1.3 -2.3 -2.7 0.6z" fill="#22c5e2"/>
<path d="M226.6 320.4l2.3 -0.6 -1.6 -2.5 -2.3 0.6z" fill="#59fb73"/>
<path d="M218.6 324.3l2.4 4.8 -1.5 -2.5 -2.5 -5.0z" fill="#2cf09e"/>
<path d="M185.0 355.6l2.3 -3.4 -2.1 -1.5 -2.3 3.5z" fill="#455ccf"/>
<path d="M296.9 344.0l2.5 0.4 -1.3 -2.2 -2.5 -0.4z" fill="#3d9efe"/>
<path d="M337.5 351.9l2.5 0.4 -1.3 -1.9 -2.5 -0.4z" fill="#4771e9"/>
<path d="M224.3 321.1l2.3 -0.7 -1.6 -2.4 -2.3 0.8z" fill="#52fa7a"/>
<path d="M164.6 332.9l2.3 -8.7 -1.7 -2.3 -2.3 8.9z" fill="#1ce6b4"/>
<path d="M252.9 338.8l2.7 -0.8 -1.3 -2.3 -2.7 0.8z" fill="#25c0e7"/>
<path d="M187.4 352.2l2.3 -3.1 -2.1 -1.5 -2.3 3.2z" fill="#476ee6"/>
<path d="M264.0 327.7l2.2 1.3 -1.3 -2.1 -2.2 -1.3z" fill="#1ce6b4"/>
<path d="M222.0 322.0l2.3 -0.9 -1.6 -2.4 -2.3 0.9z" fill="#4af880"/>
<path d="M250.2 339.8l2.7 -1.0 -1.4 -2.3 -2.7 1.1z" fill="#28bceb"/>
<path d="M232.3 351.6l2.4 5.0 -1.5 -1.7 -2.4 -5.1z" fill="#4661d6"/>
<path d="M189.7 349.1l2.3 -2.9 -2.1 -1.6 -2.3 3.0z" fill="#4680f6"/>
<path d="M294.5 343.6l2.5 0.4 -1.3 -2.2 -2.5 -0.4z" fill="#3ba0fd"/>
<path d="M335.1 351.6l2.5 0.4 -1.3 -2.0 -2.5 -0.4z" fill="#4773eb"/>
<path d="M219.7 323.0l2.3 -1.0 -1.7 -2.4 -2.3 1.1z" fill="#43f787"/>
<path d="M287.3 348.1l2.2 2.6 -1.1 -1.7 -2.2 -2.6z" fill="#4778f0"/>
<path d="M247.5 341.0l2.7 -1.2 -1.4 -2.3 -2.7 1.3z" fill="#2eb4f2"/>
<path d="M192.0 346.2l2.3 -2.7 -2.0 -1.7 -2.3 2.8z" fill="#4391fe"/>
<path d="M217.4 324.2l2.3 -1.2 -1.7 -2.3 -2.3 1.2z" fill="#38f491"/>
<path d="M199.9 294.8l2.5 3.4 -1.5 -3.2 -2.5 -3.5z" fill="#f5c53a"/>
<path d="M194.3 343.5l2.3 -2.5 -2.0 -1.7 -2.3 2.6z" fill="#3ba0fd"/>
<path d="M244.8 342.4l2.7 -1.4 -1.4 -2.2 -2.7 1.4z" fill="#33adf7"/>
<path d="M215.1 325.5l2.3 -1.3 -1.7 -2.3 -2.3 1.4z" fill="#2ff19b"/>
<path d="M196.6 340.9l2.3 -2.4 -2.0 -1.8 -2.3 2.5z" fill="#31aff5"/>
<path d="M212.8 327.0l2.3 -1.4 -1.8 -2.2 -2.3 1.5z" fill="#27eea4"/>
<path d="M261.8 326.5l2.2 1.2 -1.3 -2.2 -2.2 -1.2z" fill="#20eaac"/>
<path d="M242.1 344.0l2.7 -1.6 -1.4 -2.2 -2.7 1.6z" fill="#38a5fb"/>
<path d="M198.9 338.5l2.3 -2.3 -1.9 -1.9 -2.3 2.3z" fill="#27bee9"/>
<path d="M332.6 351.2l2.5 0.4 -1.3 -2.0 -2.5 -0.4z" fill="#4776ee"/>
<path d="M292.0 343.2l2.5 0.4 -1.3 -2.2 -2.5 -0.4z" fill="#3aa3fc"/>
<path d="M210.5 328.6l2.3 -1.6 -1.8 -2.2 -2.3 1.6z" fill="#1fe9af"/>
<path d="M215.1 366.5l2.7 -2.6 -1.7 -1.6 -2.7 2.6z" fill="#341b51"/>
<path d="M201.2 336.3l2.3 -2.1 -1.9 -1.9 -2.3 2.2z" fill="#1fc9dd"/>
<path d="M208.2 330.3l2.3 -1.7 -1.8 -2.1 -2.3 1.8z" fill="#19e3b9"/>
<path d="M239.4 345.8l2.7 -1.8 -1.4 -2.1 -2.7 1.8z" fill="#3e9bfe"/>
<path d="M203.5 334.1l2.3 -2.0 -1.9 -2.0 -2.3 2.1z" fill="#1ad4d0"/>
<path d="M217.8 364.0l2.7 -2.5 -1.6 -1.6 -2.7 2.6z" fill="#3a2d79"/>
<path d="M205.8 332.1l2.3 -1.9 -1.9 -2.1 -2.3 1.9z" fill="#18ddc2"/>
<path d="M220.5 361.4l2.7 -2.5 -1.6 -1.7 -2.7 2.6z" fill="#3f3e9c"/>
<path d="M236.7 347.7l2.7 -1.9 -1.5 -2.1 -2.7 2.0z" fill="#4391fe"/>
<path d="M223.2 359.0l2.7 -2.4 -1.6 -1.8 -2.7 2.5z" fill="#424bb5"/>
<path d="M216.1 320.0l2.5 4.3 -1.5 -2.7 -2.5 -4.4z" fill="#52fa7a"/>
<path d="M234.0 349.7l2.7 -2.0 -1.5 -2.0 -2.7 2.1z" fill="#4685fa"/>
<path d="M225.9 356.5l2.7 -2.4 -1.6 -1.9 -2.7 2.4z" fill="#455ccf"/>
<path d="M231.3 351.9l2.7 -2.2 -1.5 -2.0 -2.7 2.2z" fill="#4778f0"/>
<path d="M228.6 354.1l2.7 -2.3 -1.5 -1.9 -2.7 2.3z" fill="#466be3"/>
<path d="M285.1 345.7l2.2 2.4 -1.1 -1.7 -2.2 -2.5z" fill="#4687fb"/>
<path d="M166.9 324.2l2.3 -8.1 -1.7 -2.5 -2.3 8.4z" fill="#59fb73"/>
<path d="M330.1 350.8l2.5 0.4 -1.3 -2.0 -2.5 -0.4z" fill="#4778f0"/>
<path d="M289.5 342.8l2.5 0.4 -1.3 -2.2 -2.5 -0.4z" fill="#37a8fa"/>
<path d="M259.5 325.5l2.2 1.0 -1.3 -2.2 -2.2 -1.1z" fill="#27eea4"/>
<path d="M197.4 291.4l2.5 3.3 -1.5 -3.2 -2.5 -3.4z" fill="#fcb336"/>
<path d="M229.8 346.3l2.4 5.3 -1.5 -1.8 -2.4 -5.5z" fill="#4682f8"/>
<path d="M327.7 350.5l2.5 0.4 -1.3 -2.0 -2.5 -0.4z" fill="#477bf2"/>
<path d="M287.1 342.5l2.5 0.4 -1.3 -2.2 -2.5 -0.4z" fill="#35abf8"/>
<path d="M257.3 324.6l2.2 0.9 -1.3 -2.3 -2.2 -0.9z" fill="#2ff19b"/>
<path d="M282.9 343.4l2.2 2.3 -1.1 -1.7 -2.2 -2.3z" fill="#4196ff"/>
<path d="M325.2 350.1l2.5 0.4 -1.3 -2.0 -2.5 -0.4z" fill="#467df4"/>
<path d="M284.6 342.1l2.5 0.4 -1.3 -2.2 -2.5 -0.4z" fill="#33adf7"/>
<path d="M213.7 315.9l2.5 4.2 -1.5 -2.8 -2.5 -4.3z" fill="#7dff56"/>
<path d="M169.2 316.0l2.3 -7.5 -1.7 -2.7 -2.3 7.7z" fill="#9ffd3f"/>
<path d="M255.1 323.8l2.2 0.8 -1.3 -2.3 -2.2 -0.8z" fill="#35f394"/>
<path d="M195.0 288.5l2.5 2.9 -1.5 -3.3 -2.5 -2.9z" fill="#fe9e2f"/>
<path d="M157.2 366.6l2.3 -7.8 -1.8 -1.6 -2.3 7.9z" fill="#3a2d79"/>
<path d="M322.8 349.8l2.5 0.4 -1.3 -2.0 -2.5 -0.4z" fill="#4680f6"/>
<path d="M282.2 341.7l2.5 0.4 -1.3 -2.2 -2.5 -0.4z" fill="#31aff5"/>
<path d="M280.7 341.2l2.2 2.2 -1.2 -1.8 -2.2 -2.2z" fill="#38a5fb"/>
<path d="M252.9 323.1l2.2 0.7 -1.4 -2.3 -2.2 -0.7z" fill="#3cf58e"/>
<path d="M227.4 341.2l2.4 5.1 -1.5 -2.0 -2.4 -5.3z" fill="#3aa3fc"/>
<path d="M320.3 349.4l2.5 0.4 -1.3 -2.0 -2.5 -0.4z" fill="#4682f8"/>
<path d="M279.7 341.4l2.5 0.4 -1.3 -2.3 -2.5 -0.4z" fill="#2fb2f4"/>
<path d="M250.7 322.6l2.2 0.6 -1.4 -2.4 -2.2 -0.6z" fill="#43f787"/>
<path d="M171.5 308.5l2.3 -6.4 -1.7 -2.9 -2.3 6.6z" fill="#cbed34"/>
<path d="M299.3 363.9l2.2 3.2 -1.0 -1.5 -2.2 -3.3z" fill="#341b51"/>
<path d="M211.2 312.0l2.5 3.9 -1.5 -2.9 -2.5 -4.0z" fill="#9cfe40"/>
<path d="M192.5 286.3l2.5 2.2 -1.5 -3.4 -2.5 -2.3z" fill="#fd8d27"/>
<path d="M278.5 339.2l2.2 2.0 -1.2 -1.8 -2.2 -2.1z" fill="#2fb2f4"/>
<path d="M317.9 349.0l2.5 0.4 -1.3 -2.0 -2.5 -0.4z" fill="#4685fa"/>
<path d="M277.2 341.0l2.5 0.4 -1.3 -2.3 -2.5 -0.4z" fill="#2eb4f2"/>
<path d="M159.5 358.8l2.3 -7.8 -1.8 -1.7 -2.3 7.9z" fill="#455ed3"/>
<path d="M248.5 322.1l2.2 0.4 -1.4 -2.4 -2.2 -0.5z" fill="#4af880"/>
<path d="M315.4 348.7l2.5 0.4 -1.3 -2.1 -2.5 -0.4z" fill="#4687fb"/>
<path d="M274.8 340.6l2.5 0.4 -1.3 -2.3 -2.5 -0.4z" fill="#2cb7f0"/>
<path d="M173.8 302.1l2.3 -5.5 -1.6 -3.0 -2.3 5.6z" fill="#ebd339"/>
<path d="M246.2 321.8l2.2 0.3 -1.4 -2.4 -2.2 -0.4z" fill="#4ef97d"/>
<path d="M190.1 284.4l2.5 1.9 -1.5 -3.4 -2.5 -1.9z" fill="#fb7e21"/>
<path d="M276.3 337.3l2.2 1.9 -1.2 -1.9 -2.2 -1.9z" fill="#27bee9"/>
<path d="M297.1 360.8l2.2 3.1 -1.0 -1.5 -2.2 -3.1z" fill="#3c3286"/>
<path d="M224.9 336.4l2.4 4.8 -1.5 -2.2 -2.4 -5.0z" fill="#23c3e4"/>
<path d="M208.8 308.3l2.5 3.6 -1.5 -3.0 -2.5 -3.7z" fill="#b7f735"/>
<path d="M312.9 348.3l2.5 0.4 -1.3 -2.1 -2.5 -0.4z" fill="#458afc"/>
<path d="M272.3 340.2l2.5 0.4 -1.3 -2.3 -2.5 -0.4z" fill="#2ab9ee"/>
<path d="M353.5 356.0l2.5 0.3 -1.3 -1.9 -2.5 -0.4z" fill="#455ccf"/>
<path d="M244.0 321.6l2.2 0.2 -1.4 -2.4 -2.2 -0.2z" fill="#52fa7a"/>
<path d="M176.1 296.6l2.3 -4.7 -1.6 -3.2 -2.3 4.9z" fill="#faba39"/>
<path d="M161.8 351.0l2.3 -7.7 -1.8 -1.8 -2.3 7.8z" fill="#458afc"/>
<path d="M187.6 283.3l2.5 1.1 -1.5 -3.4 -2.5 -1.1z" fill="#f9751d"/>
<path d="M310.5 347.9l2.5 0.4 -1.3 -2.1 -2.5 -0.4z" fill="#458cfd"/>
<path d="M274.1 335.6l2.2 1.8 -1.2 -1.9 -2.2 -1.8z" fill="#20c7df"/>
<path d="M269.9 339.9l2.5 0.4 -1.3 -2.3 -2.5 -0.4z" fill="#28bceb"/>
<path d="M351.1 355.6l2.5 0.3 -1.3 -1.9 -2.5 -0.4z" fill="#455ed3"/>
<path d="M241.8 321.4l2.2 0.1 -1.4 -2.5 -2.2 -0.1z" fill="#55fa76"/>
<path d="M238.6 362.9l2.4 4.4 -1.4 -1.5 -2.4 -4.5z" fill="#36215f"/>
<path d="M178.4 291.9l2.3 -3.3 -1.6 -3.2 -2.3 3.4z" fill="#fea130"/>
<path d="M294.9 357.9l2.2 3.0 -1.1 -1.6 -2.2 -3.0z" fill="#4146ac"/>
<path d="M185.3 284.1l2.3 -0.8 -1.5 -3.4 -2.3 0.9z" fill="#f8721c"/>
<path d="M180.7 288.5l2.3 -2.8 -1.6 -3.3 -2.3 2.8z" fill="#fd8d27"/>
<path d="M239.6 321.4l2.2 0.0 -1.5 -2.5 -2.2 -0.1z" fill="#55fa76"/>
<path d="M308.0 347.6l2.5 0.4 -1.3 -2.1 -2.5 -0.4z" fill="#448ffe"/>
<path d="M183.0 285.8l2.3 -1.6 -1.5 -3.3 -2.3 1.7z" fill="#fa7b1f"/>
<path d="M267.4 339.5l2.5 0.4 -1.3 -2.3 -2.5 -0.4z" fill="#27bee9"/>
<path d="M348.6 355.3l2.5 0.3 -1.3 -1.9 -2.5 -0.4z" fill="#4661d6"/>
<path d="M206.3 304.8l2.5 3.5 -1.5 -3.0 -2.5 -3.6z" fill="#cbed34"/>
<path d="M271.9 333.9l2.2 1.6 -1.2 -2.0 -2.2 -1.7z" fill="#1bd0d5"/>
<path d="M222.5 331.6l2.4 4.8 -1.5 -2.4 -2.4 -4.9z" fill="#18dbc5"/>
<path d="M237.4 321.4l2.2 -0.0 -1.5 -2.5 -2.2 0.0z" fill="#55fa76"/>
<path d="M305.6 347.2l2.5 0.4 -1.3 -2.1 -2.5 -0.4z" fill="#4391fe"/>
<path d="M265.0 339.1l2.5 0.4 -1.3 -2.3 -2.5 -0.4z" fill="#25c0e7"/>
<path d="M346.2 354.9l2.5 0.3 -1.3 -1.9 -2.5 -0.4z" fill="#4664da"/>
<path d="M164.1 343.3l2.3 -8.5 -1.8 -2.0 -2.3 8.7z" fill="#28bceb"/>
<path d="M235.1 321.6l2.3 -0.1 -1.5 -2.5 -2.3 0.1z" fill="#55fa76"/>
<path d="M292.8 355.0l2.2 2.8 -1.1 -1.6 -2.2 -2.8z" fill="#4456c7"/>
<path d="M182.6 367.5l2.3 -6.5 -2.2 -1.4 -2.3 6.4z" fill="#372466"/>
<path d="M269.7 332.4l2.2 1.5 -1.2 -2.0 -2.2 -1.5z" fill="#18d7ca"/>
<path d="M262.3 339.3l2.7 -0.2 -1.3 -2.3 -2.7 0.2z" fill="#23c3e4"/>
<path d="M303.1 346.9l2.5 0.4 -1.3 -2.1 -2.5 -0.4z" fill="#4294ff"/>
<path d="M236.2 358.3l2.4 4.7 -1.4 -1.6 -2.4 -4.8z" fill="#4040a2"/>
<path d="M343.7 354.6l2.5 0.3 -1.3 -1.9 -2.5 -0.4z" fill="#4666dd"/>
<path d="M232.8 321.8l2.3 -0.3 -1.5 -2.5 -2.3 0.3z" fill="#55fa76"/>
<path d="M203.9 301.3l2.5 3.5 -1.5 -3.1 -2.5 -3.5z" fill="#dfdf37"/>
<path d="M259.6 339.7l2.7 -0.4 -1.3 -2.3 -2.7 0.4z" fill="#25c0e7"/>
<path d="M230.5 322.3l2.3 -0.4 -1.6 -2.5 -2.3 0.4z" fill="#52fa7a"/>
<path d="M300.6 346.5l2.5 0.4 -1.3 -2.1 -2.5 -0.4z" fill="#4196ff"/>
<path d="M341.2 354.2l2.5 0.3 -1.3 -1.9 -2.5 -0.4z" fill="#4669e0"/>
<path d="M184.9 360.9l2.3 -3.9 -2.1 -1.4 -2.3 3.9z" fill="#4143a7"/>
<path d="M267.5 331.1l2.2 1.4 -1.3 -2.1 -2.2 -1.4z" fill="#18dec0"/>
<path d="M228.2 322.8l2.3 -0.6 -1.6 -2.5 -2.3 0.6z" fill="#4ef97d"/>
<path d="M220.0 327.0l2.4 4.7 -1.5 -2.5 -2.4 -4.8z" fill="#25eca7"/>
<path d="M290.6 352.4l2.2 2.7 -1.1 -1.6 -2.2 -2.7z" fill="#4669e0"/>
<path d="M256.9 340.3l2.7 -0.6 -1.3 -2.3 -2.7 0.6z" fill="#27bee9"/>
<path d="M187.2 357.0l2.3 -3.4 -2.1 -1.5 -2.3 3.4z" fill="#455ccf"/>
<path d="M226.0 323.5l2.3 -0.7 -1.6 -2.4 -2.3 0.7z" fill="#46f884"/>
<path d="M298.2 346.1l2.5 0.4 -1.3 -2.2 -2.5 -0.4z" fill="#4099ff"/>
<path d="M166.4 334.9l2.3 -8.4 -1.7 -2.3 -2.3 8.7z" fill="#19e3b9"/>
<path d="M338.8 353.9l2.5 0.3 -1.3 -1.9 -2.5 -0.4z" fill="#466be3"/>
<path d="M254.3 341.1l2.7 -0.8 -1.3 -2.3 -2.7 0.8z" fill="#28bceb"/>
<path d="M223.7 324.4l2.3 -0.8 -1.6 -2.4 -2.3 0.9z" fill="#43f787"/>
<path d="M189.5 353.6l2.3 -3.1 -2.1 -1.5 -2.3 3.1z" fill="#476ee6"/>
<path d="M265.3 329.8l2.2 1.2 -1.3 -2.1 -2.2 -1.3z" fill="#19e3b9"/>
<path d="M251.6 342.1l2.7 -1.0 -1.4 -2.3 -2.7 1.0z" fill="#2cb7f0"/>
<path d="M221.4 325.4l2.3 -1.0 -1.7 -2.4 -2.3 1.0z" fill="#38f491"/>
<path d="M191.8 350.6l2.3 -2.8 -2.1 -1.6 -2.3 2.9z" fill="#4680f6"/>
<path d="M201.4 298.0l2.5 3.4 -1.5 -3.2 -2.5 -3.4z" fill="#eecf3a"/>
<path d="M233.7 353.4l2.4 4.8 -1.5 -1.7 -2.4 -5.0z" fill="#455ed3"/>
<path d="M295.7 345.8l2.5 0.4 -1.3 -2.2 -2.5 -0.4z" fill="#3e9bfe"/>
<path d="M336.3 353.5l2.5 0.3 -1.3 -2.0 -2.5 -0.4z" fill="#476ee6"/>
<path d="M219.1 326.5l2.3 -1.1 -1.7 -2.3 -2.3 1.2z" fill="#32f298"/>
<path d="M248.9 343.3l2.7 -1.2 -1.4 -2.3 -2.7 1.2z" fill="#31aff5"/>
<path d="M194.0 347.8l2.3 -2.6 -2.0 -1.7 -2.3 2.7z" fill="#448ffe"/>
<path d="M288.4 349.8l2.2 2.5 -1.1 -1.7 -2.2 -2.6z" fill="#4778f0"/>
<path d="M216.9 327.8l2.3 -1.3 -1.7 -2.3 -2.3 1.3z" fill="#2aefa1"/>
<path d="M196.3 345.1l2.3 -2.5 -2.0 -1.7 -2.3 2.5z" fill="#3d9efe"/>
<path d="M246.2 344.6l2.7 -1.4 -1.4 -2.2 -2.7 1.4z" fill="#37a8fa"/>
<path d="M214.6 329.2l2.3 -1.4 -1.8 -2.2 -2.3 1.4z" fill="#22ebaa"/>
<path d="M198.6 342.6l2.3 -2.3 -2.0 -1.8 -2.3 2.4z" fill="#33adf7"/>
<path d="M212.3 330.7l2.3 -1.5 -1.8 -2.2 -2.3 1.6z" fill="#1ce6b4"/>
<path d="M263.1 328.7l2.2 1.1 -1.3 -2.2 -2.2 -1.2z" fill="#1fe9af"/>
<path d="M243.6 346.2l2.7 -1.5 -1.4 -2.2 -2.7 1.6z" fill="#3ba0fd"/>
<path d="M200.9 340.3l2.3 -2.2 -1.9 -1.9 -2.3 2.3z" fill="#28bceb"/>
<path d="M210.0 332.3l2.3 -1.7 -1.8 -2.1 -2.3 1.7z" fill="#18e0bd"/>
<path d="M293.3 345.4l2.5 0.4 -1.3 -2.2 -2.5 -0.4z" fill="#3d9efe"/>
<path d="M203.2 338.1l2.3 -2.1 -1.9 -1.9 -2.3 2.1z" fill="#20c7df"/>
<path d="M207.7 334.1l2.3 -1.8 -1.9 -2.1 -2.3 1.9z" fill="#18d9c8"/>
<path d="M205.5 336.1l2.3 -1.9 -1.9 -2.0 -2.3 2.0z" fill="#1ad2d2"/>
<path d="M333.9 353.2l2.5 0.3 -1.3 -2.0 -2.5 -0.4z" fill="#4771e9"/>
<path d="M240.9 347.9l2.7 -1.7 -1.4 -2.1 -2.7 1.8z" fill="#4196ff"/>
<path d="M217.6 322.8l2.4 4.2 -1.5 -2.7 -2.5 -4.3z" fill="#46f884"/>
<path d="M216.8 368.0l2.7 -2.5 -1.7 -1.6 -2.7 2.6z" fill="#33184a"/>
<path d="M219.5 365.6l2.7 -2.5 -1.6 -1.6 -2.7 2.5z" fill="#392a73"/>
<path d="M238.2 349.7l2.7 -1.8 -1.5 -2.1 -2.7 1.9z" fill="#458cfd"/>
<path d="M222.1 363.1l2.7 -2.4 -1.6 -1.7 -2.7 2.5z" fill="#3f3b97"/>
<path d="M235.5 351.7l2.7 -2.0 -1.5 -2.0 -2.7 2.0z" fill="#4682f8"/>
<path d="M224.8 360.7l2.7 -2.4 -1.6 -1.8 -2.7 2.4z" fill="#424bb5"/>
<path d="M232.9 353.8l2.7 -2.1 -1.5 -2.0 -2.7 2.2z" fill="#4776ee"/>
<path d="M227.5 358.3l2.7 -2.3 -1.6 -1.9 -2.7 2.4z" fill="#4559cb"/>
<path d="M230.2 356.0l2.7 -2.2 -1.5 -1.9 -2.7 2.3z" fill="#4669e0"/>
<path d="M168.6 326.4l2.3 -7.9 -1.7 -2.5 -2.3 8.1z" fill="#4ef97d"/>
<path d="M290.8 345.1l2.5 0.4 -1.3 -2.2 -2.5 -0.4z" fill="#3aa3fc"/>
<path d="M260.9 327.7l2.2 1.0 -1.3 -2.2 -2.2 -1.0z" fill="#22ebaa"/>
<path d="M331.4 352.8l2.5 0.3 -1.3 -2.0 -2.5 -0.4z" fill="#4773eb"/>
<path d="M286.2 347.4l2.2 2.4 -1.1 -1.7 -2.2 -2.4z" fill="#4687fb"/>
<path d="M199.0 294.7l2.5 3.2 -1.5 -3.2 -2.5 -3.3z" fill="#f8be39"/>
<path d="M231.3 348.3l2.4 5.1 -1.5 -1.8 -2.4 -5.3z" fill="#4680f6"/>
<path d="M288.3 344.7l2.5 0.4 -1.3 -2.2 -2.5 -0.4z" fill="#38a5fb"/>
<path d="M329.0 352.5l2.5 0.3 -1.3 -2.0 -2.5 -0.4z" fill="#4776ee"/>
<path d="M258.7 326.9l2.2 0.9 -1.3 -2.3 -2.2 -0.9z" fill="#2aefa1"/>
<path d="M215.2 318.7l2.4 4.1 -1.5 -2.8 -2.5 -4.2z" fill="#6dfe62"/>
<path d="M284.0 345.2l2.2 2.3 -1.1 -1.7 -2.2 -2.3z" fill="#4294ff"/>
<path d="M285.9 344.3l2.5 0.4 -1.3 -2.2 -2.5 -0.4z" fill="#37a8fa"/>
<path d="M326.5 352.1l2.5 0.3 -1.3 -2.0 -2.5 -0.4z" fill="#4778f0"/>
<path d="M170.9 318.5l2.3 -7.3 -1.7 -2.7 -2.3 7.5z" fill="#96fe44"/>
<path d="M196.5 291.9l2.5 2.8 -1.5 -3.3 -2.5 -2.9z" fill="#fdac34"/>
<path d="M256.5 326.1l2.2 0.7 -1.3 -2.3 -2.2 -0.8z" fill="#2ff19b"/>
<path d="M159.1 368.1l2.3 -7.8 -1.8 -1.6 -2.3 7.8z" fill="#392a73"/>
<path d="M283.4 344.0l2.5 0.4 -1.3 -2.2 -2.5 -0.4z" fill="#35abf8"/>
<path d="M324.0 351.8l2.5 0.3 -1.3 -2.0 -2.5 -0.4z" fill="#477bf2"/>
<path d="M254.3 325.5l2.2 0.6 -1.4 -2.3 -2.2 -0.7z" fill="#35f394"/>
<path d="M281.9 343.1l2.2 2.1 -1.2 -1.8 -2.2 -2.2z" fill="#3aa3fc"/>
<path d="M228.8 343.4l2.4 4.9 -1.5 -2.0 -2.4 -5.1z" fill="#3d9efe"/>
<path d="M281.0 343.6l2.5 0.4 -1.3 -2.3 -2.5 -0.4z" fill="#33adf7"/>
<path d="M321.6 351.4l2.5 0.3 -1.3 -2.0 -2.5 -0.4z" fill="#467df4"/>
<path d="M173.2 311.2l2.3 -6.2 -1.7 -2.9 -2.3 6.4z" fill="#c3f134"/>
<path d="M194.0 289.7l2.5 2.2 -1.5 -3.4 -2.5 -2.2z" fill="#fe9b2d"/>
<path d="M212.7 314.9l2.4 3.8 -1.5 -2.9 -2.5 -3.9z" fill="#8fff49"/>
<path d="M252.1 325.0l2.2 0.5 -1.4 -2.4 -2.2 -0.6z" fill="#3cf58e"/>
<path d="M300.4 365.5l2.2 3.2 -1.0 -1.5 -2.2 -3.2z" fill="#341b51"/>
<path d="M278.5 343.3l2.5 0.4 -1.3 -2.3 -2.5 -0.4z" fill="#31aff5"/>
<path d="M319.1 351.1l2.5 0.3 -1.3 -2.0 -2.5 -0.4z" fill="#4680f6"/>
<path d="M279.7 341.1l2.2 2.0 -1.2 -1.8 -2.2 -2.0z" fill="#31aff5"/>
<path d="M161.3 360.4l2.3 -7.7 -1.8 -1.7 -2.3 7.8z" fill="#455ccf"/>
<path d="M249.9 324.6l2.2 0.4 -1.4 -2.4 -2.2 -0.4z" fill="#3ff68a"/>
<path d="M175.5 305.0l2.3 -5.3 -1.6 -3.0 -2.3 5.5z" fill="#e3db38"/>
<path d="M191.6 287.8l2.5 1.9 -1.5 -3.4 -2.5 -1.9z" fill="#fd8d27"/>
<path d="M276.1 342.9l2.5 0.4 -1.3 -2.3 -2.5 -0.4z" fill="#2fb2f4"/>
<path d="M316.7 350.7l2.5 0.3 -1.3 -2.1 -2.5 -0.4z" fill="#4682f8"/>
<path d="M247.7 324.3l2.2 0.3 -1.4 -2.4 -2.2 -0.3z" fill="#43f787"/>
<path d="M210.3 311.4l2.4 3.6 -1.5 -3.0 -2.5 -3.6z" fill="#a9fb39"/>
<path d="M226.4 338.7l2.4 4.7 -1.5 -2.2 -2.4 -4.8z" fill="#27bee9"/>
<path d="M277.5 339.3l2.2 1.8 -1.2 -1.9 -2.2 -1.9z" fill="#2ab9ee"/>
<path d="M298.2 362.4l2.2 3.1 -1.0 -1.5 -2.2 -3.1z" fill="#3b2f80"/>
<path d="M273.6 342.5l2.5 0.4 -1.3 -2.3 -2.5 -0.4z" fill="#2eb4f2"/>
<path d="M314.2 350.4l2.5 0.3 -1.3 -2.1 -2.5 -0.4z" fill="#4685fa"/>
<path d="M177.8 299.6l2.3 -4.6 -1.6 -3.2 -2.3 4.7z" fill="#f6c33a"/>
<path d="M245.5 324.0l2.2 0.2 -1.4 -2.4 -2.2 -0.2z" fill="#46f884"/>
<path d="M354.8 357.8l2.5 0.3 -1.3 -1.9 -2.5 -0.3z" fill="#4559cb"/>
<path d="M189.1 286.7l2.5 1.1 -1.5 -3.4 -2.5 -1.1z" fill="#fc8423"/>
<path d="M163.6 352.7l2.3 -7.6 -1.8 -1.8 -2.3 7.7z" fill="#458afc"/>
<path d="M180.0 295.0l2.3 -3.3 -1.6 -3.2 -2.3 3.3z" fill="#fdae35"/>
<path d="M243.3 323.9l2.2 0.1 -1.4 -2.5 -2.2 -0.1z" fill="#4af880"/>
<path d="M271.1 342.2l2.5 0.4 -1.3 -2.3 -2.5 -0.4z" fill="#2cb7f0"/>
<path d="M311.7 350.0l2.5 0.3 -1.3 -2.1 -2.5 -0.4z" fill="#4687fb"/>
<path d="M275.3 337.5l2.2 1.7 -1.2 -1.9 -2.2 -1.8z" fill="#22c5e2"/>
<path d="M186.9 287.5l2.3 -0.8 -1.5 -3.4 -2.3 0.8z" fill="#fb8122"/>
<path d="M352.3 357.5l2.5 0.3 -1.3 -1.9 -2.5 -0.3z" fill="#455ccf"/>
<path d="M182.3 291.8l2.3 -2.7 -1.6 -3.3 -2.3 2.8z" fill="#fe992c"/>
<path d="M184.6 289.1l2.3 -1.6 -1.5 -3.3 -2.3 1.6z" fill="#fd8a26"/>
<path d="M240.1 364.5l2.4 4.3 -1.4 -1.5 -2.4 -4.4z" fill="#36215f"/>
<path d="M241.1 323.9l2.2 0.0 -1.5 -2.5 -2.2 -0.0z" fill="#4af880"/>
<path d="M207.8 307.9l2.4 3.5 -1.5 -3.0 -2.5 -3.5z" fill="#c1f334"/>
<path d="M296.0 359.5l2.2 2.9 -1.1 -1.6 -2.2 -3.0z" fill="#4143a7"/>
<path d="M268.7 341.8l2.5 0.4 -1.3 -2.3 -2.5 -0.4z" fill="#2ab9ee"/>
<path d="M309.3 349.7l2.5 0.3 -1.3 -2.1 -2.5 -0.4z" fill="#458afc"/>
<path d="M349.9 357.2l2.5 0.3 -1.3 -1.9 -2.5 -0.3z" fill="#455ed3"/>
<path d="M224.0 334.1l2.4 4.6 -1.5 -2.4 -2.4 -4.8z" fill="#19d5cd"/>
<path d="M238.9 323.9l2.2 -0.0 -1.5 -2.5 -2.2 0.0z" fill="#4af880"/>
<path d="M273.1 336.0l2.2 1.6 -1.2 -2.0 -2.2 -1.6z" fill="#1ccdd8"/>
<path d="M266.2 341.4l2.5 0.4 -1.3 -2.3 -2.5 -0.4z" fill="#28bceb"/>
<path d="M306.8 349.4l2.5 0.3 -1.3 -2.1 -2.5 -0.4z" fill="#458cfd"/>
<path d="M347.4 356.8l2.5 0.3 -1.3 -1.9 -2.5 -0.3z" fill="#4661d6"/>
<path d="M165.8 345.1l2.3 -8.3 -1.8 -2.0 -2.3 8.5z" fill="#2cb7f0"/>
<path d="M236.6 324.0l2.2 -0.1 -1.5 -2.5 -2.3 0.1z" fill="#4af880"/>
<path d="M184.8 368.9l2.3 -6.6 -2.2 -1.4 -2.3 6.5z" fill="#372466"/>
<path d="M293.9 356.7l2.2 2.8 -1.1 -1.6 -2.2 -2.8z" fill="#4456c7"/>
<path d="M263.6 341.6l2.6 -0.2 -1.3 -2.3 -2.7 0.2z" fill="#28bceb"/>
<path d="M234.4 324.3l2.2 -0.3 -1.5 -2.5 -2.3 0.3z" fill="#4af880"/>
<path d="M270.9 334.5l2.2 1.4 -1.2 -2.0 -2.2 -1.5z" fill="#19d5cd"/>
<path d="M304.4 349.0l2.5 0.3 -1.3 -2.1 -2.5 -0.4z" fill="#448ffe"/>
<path d="M205.4 304.5l2.4 3.4 -1.5 -3.1 -2.5 -3.5z" fill="#d4e735"/>
<path d="M345.0 356.5l2.5 0.3 -1.3 -1.9 -2.5 -0.3z" fill="#4664da"/>
<path d="M237.6 360.0l2.4 4.6 -1.4 -1.6 -2.4 -4.7z" fill="#3f3e9c"/>
<path d="M232.1 324.7l2.2 -0.4 -1.6 -2.5 -2.3 0.4z" fill="#46f884"/>
<path d="M260.9 342.0l2.7 -0.4 -1.3 -2.3 -2.7 0.4z" fill="#28bceb"/>
<path d="M301.9 348.7l2.5 0.3 -1.3 -2.1 -2.5 -0.4z" fill="#4391fe"/>
<path d="M229.9 325.3l2.2 -0.5 -1.6 -2.5 -2.3 0.6z" fill="#43f787"/>
<path d="M221.5 329.6l2.4 4.5 -1.5 -2.5 -2.4 -4.7z" fill="#1fe9af"/>
<path d="M342.5 356.2l2.5 0.3 -1.3 -1.9 -2.5 -0.3z" fill="#4666dd"/>
<path d="M187.1 362.3l2.3 -3.9 -2.1 -1.4 -2.3 3.9z" fill="#4146ac"/>
<path d="M268.8 333.2l2.2 1.3 -1.3 -2.1 -2.2 -1.4z" fill="#18dbc5"/>
<path d="M258.3 342.6l2.7 -0.6 -1.3 -2.3 -2.7 0.6z" fill="#2ab9ee"/>
<path d="M227.6 325.9l2.2 -0.7 -1.6 -2.4 -2.3 0.7z" fill="#3ff68a"/>
<path d="M291.7 354.0l2.2 2.6 -1.1 -1.6 -2.2 -2.7z" fill="#4666dd"/>
<path d="M168.1 336.9l2.3 -8.2 -1.7 -2.3 -2.3 8.4z" fill="#18e0bd"/>
<path d="M189.3 358.4l2.3 -3.3 -2.1 -1.5 -2.3 3.4z" fill="#455ccf"/>
<path d="M299.4 348.3l2.5 0.3 -1.3 -2.2 -2.5 -0.4z" fill="#4294ff"/>
<path d="M255.6 343.4l2.7 -0.8 -1.3 -2.3 -2.7 0.8z" fill="#2eb4f2"/>
<path d="M225.4 326.8l2.2 -0.8 -1.6 -2.4 -2.3 0.8z" fill="#38f491"/>
<path d="M340.1 355.8l2.5 0.3 -1.3 -1.9 -2.5 -0.3z" fill="#4669e0"/>
<path d="M202.9 301.2l2.4 3.3 -1.5 -3.2 -2.5 -3.4z" fill="#e5d938"/>
<path d="M191.6 355.1l2.3 -3.0 -2.1 -1.5 -2.3 3.1z" fill="#476ee6"/>
<path d="M223.1 327.7l2.2 -0.9 -1.7 -2.4 -2.3 1.0z" fill="#32f298"/>
<path d="M266.6 332.0l2.2 1.2 -1.3 -2.1 -2.2 -1.2z" fill="#19e2bb"/>
<path d="M253.0 344.3l2.7 -1.0 -1.4 -2.3 -2.7 1.0z" fill="#2fb2f4"/>
<path d="M193.8 352.1l2.3 -2.8 -2.1 -1.6 -2.3 2.8z" fill="#4680f6"/>
<path d="M220.9 328.8l2.2 -1.1 -1.7 -2.3 -2.3 1.1z" fill="#2cf09e"/>
<path d="M297.0 348.0l2.5 0.3 -1.3 -2.2 -2.5 -0.4z" fill="#4196ff"/>
<path d="M235.2 355.3l2.4 4.7 -1.5 -1.7 -2.4 -4.8z" fill="#455ed3"/>
<path d="M250.3 345.5l2.7 -1.2 -1.4 -2.3 -2.7 1.2z" fill="#35abf8"/>
<path d="M337.6 355.5l2.5 0.3 -1.3 -2.0 -2.5 -0.3z" fill="#466be3"/>
<path d="M196.1 349.4l2.3 -2.6 -2.0 -1.7 -2.3 2.6z" fill="#448ffe"/>
<path d="M218.6 330.0l2.2 -1.2 -1.7 -2.3 -2.3 1.3z" fill="#25eca7"/>
<path d="M198.4 346.8l2.3 -2.4 -2.0 -1.7 -2.3 2.5z" fill="#3d9efe"/>
<path d="M216.4 331.3l2.2 -1.3 -1.8 -2.2 -2.3 1.4z" fill="#1fe9af"/>
<path d="M247.7 346.8l2.7 -1.3 -1.4 -2.2 -2.7 1.4z" fill="#3aa3fc"/>
<path d="M289.5 351.5l2.2 2.5 -1.1 -1.7 -2.2 -2.5z" fill="#4776ee"/>
<path d="M200.6 344.4l2.3 -2.3 -2.0 -1.8 -2.3 2.3z" fill="#35abf8"/>
<path d="M214.1 332.8l2.3 -1.5 -1.8 -2.2 -2.3 1.5z" fill="#19e3b9"/>
<path d="M202.9 342.1l2.3 -2.1 -1.9 -1.9 -2.3 2.2z" fill="#2ab9ee"/>
<path d="M211.9 334.4l2.3 -1.6 -1.8 -2.1 -2.3 1.7z" fill="#18dec0"/>
<path d="M245.0 348.3l2.7 -1.5 -1.4 -2.2 -2.7 1.5z" fill="#3e9bfe"/>
<path d="M219.1 325.6l2.4 4.1 -1.5 -2.7 -2.4 -4.2z" fill="#38f491"/>
<path d="M264.4 330.9l2.2 1.1 -1.3 -2.2 -2.2 -1.1z" fill="#1ce6b4"/>
<path d="M205.1 340.0l2.3 -2.0 -1.9 -1.9 -2.3 2.1z" fill="#22c5e2"/>
<path d="M209.6 336.1l2.3 -1.7 -1.9 -2.1 -2.3 1.8z" fill="#18d7ca"/>
<path d="M207.4 338.0l2.3 -1.9 -1.9 -2.0 -2.3 1.9z" fill="#1ccdd8"/>
<path d="M294.5 347.6l2.5 0.3 -1.3 -2.2 -2.5 -0.4z" fill="#4099ff"/>
<path d="M242.4 350.0l2.7 -1.7 -1.4 -2.1 -2.7 1.7z" fill="#4391fe"/>
<path d="M335.1 355.2l2.5 0.3 -1.3 -2.0 -2.5 -0.3z" fill="#476ee6"/>
<path d="M239.7 351.8l2.7 -1.8 -1.5 -2.1 -2.7 1.8z" fill="#4687fb"/>
<path d="M218.5 369.5l2.7 -2.4 -1.7 -1.6 -2.7 2.5z" fill="#33184a"/>
<path d="M221.1 367.1l2.7 -2.4 -1.6 -1.6 -2.7 2.5z" fill="#392a73"/>
<path d="M237.1 353.7l2.7 -1.9 -1.5 -2.0 -2.7 2.0z" fill="#467df4"/>
<path d="M170.4 328.7l2.3 -7.7 -1.7 -2.5 -2.3 7.9z" fill="#46f884"/>
<path d="M223.8 364.7l2.7 -2.4 -1.6 -1.7 -2.7 2.4z" fill="#3f3b97"/>
<path d="M234.4 355.7l2.7 -2.0 -1.5 -2.0 -2.7 2.1z" fill="#4771e9"/>
<path d="M226.4 362.4l2.7 -2.3 -1.6 -1.8 -2.7 2.4z" fill="#4249b1"/>
<path d="M231.7 357.9l2.7 -2.1 -1.5 -1.9 -2.7 2.2z" fill="#4666dd"/>
<path d="M229.1 360.1l2.7 -2.2 -1.6 -1.9 -2.7 2.3z" fill="#4456c7"/>
<path d="M200.5 298.0l2.4 3.2 -1.5 -3.2 -2.5 -3.2z" fill="#f2c93a"/>
<path d="M292.1 347.3l2.5 0.3 -1.3 -2.2 -2.5 -0.4z" fill="#3e9bfe"/>
<path d="M262.2 330.0l2.2 0.9 -1.3 -2.2 -2.2 -1.0z" fill="#1fe9af"/>
<path d="M332.7 354.8l2.5 0.3 -1.3 -2.0 -2.5 -0.3z" fill="#4771e9"/>
<path d="M287.4 349.2l2.2 2.4 -1.1 -1.7 -2.2 -2.4z" fill="#4685fa"/>
<path d="M232.7 350.4l2.4 4.9 -1.5 -1.8 -2.4 -5.1z" fill="#467df4"/>
<path d="M289.6 346.9l2.5 0.3 -1.3 -2.2 -2.5 -0.4z" fill="#3d9efe"/>
<path d="M330.2 354.5l2.5 0.3 -1.3 -2.0 -2.5 -0.3z" fill="#4773eb"/>
<path d="M260.0 329.2l2.2 0.8 -1.3 -2.3 -2.2 -0.9z" fill="#25eca7"/>
<path d="M216.6 321.6l2.4 4.0 -1.5 -2.8 -2.4 -4.1z" fill="#5dfc6f"/>
<path d="M198.0 295.3l2.4 2.8 -1.5 -3.3 -2.5 -2.8z" fill="#fbb838"/>
<path d="M172.6 321.0l2.3 -7.1 -1.7 -2.7 -2.3 7.3z" fill="#8bff4b"/>
<path d="M287.2 346.6l2.5 0.3 -1.3 -2.2 -2.5 -0.4z" fill="#3ba0fd"/>
<path d="M285.2 347.0l2.2 2.2 -1.1 -1.7 -2.2 -2.3z" fill="#4294ff"/>
<path d="M327.8 354.2l2.5 0.3 -1.3 -2.0 -2.5 -0.3z" fill="#4776ee"/>
<path d="M257.8 328.5l2.2 0.7 -1.3 -2.3 -2.2 -0.7z" fill="#2aefa1"/>
<path d="M160.9 369.6l2.2 -7.7 -1.8 -1.6 -2.3 7.8z" fill="#392a73"/>
<path d="M284.7 346.2l2.5 0.3 -1.3 -2.2 -2.5 -0.4z" fill="#3aa3fc"/>
<path d="M325.3 353.8l2.5 0.3 -1.3 -2.0 -2.5 -0.3z" fill="#4778f0"/>
<path d="M255.7 327.9l2.2 0.6 -1.4 -2.3 -2.2 -0.6z" fill="#2ff19b"/>
<path d="M195.6 293.1l2.5 2.2 -1.5 -3.4 -2.5 -2.2z" fill="#fea933"/>
<path d="M283.0 344.9l2.2 2.1 -1.2 -1.8 -2.2 -2.1z" fill="#3ba0fd"/>
<path d="M174.9 314.0l2.3 -6.1 -1.7 -2.9 -2.3 6.2z" fill="#b9f635"/>
<path d="M230.3 345.6l2.4 4.7 -1.5 -2.0 -2.4 -4.9z" fill="#3e9bfe"/>
<path d="M214.2 317.9l2.4 3.7 -1.5 -2.9 -2.4 -3.8z" fill="#80ff53"/>
<path d="M282.2 345.9l2.5 0.3 -1.3 -2.3 -2.5 -0.4z" fill="#38a5fb"/>
<path d="M322.8 353.5l2.5 0.3 -1.3 -2.0 -2.5 -0.3z" fill="#477bf2"/>
<path d="M253.5 327.4l2.2 0.5 -1.4 -2.4 -2.2 -0.5z" fill="#32f298"/>
<path d="M279.8 345.5l2.5 0.3 -1.3 -2.3 -2.5 -0.4z" fill="#37a8fa"/>
<path d="M320.4 353.1l2.5 0.3 -1.3 -2.0 -2.5 -0.3z" fill="#467df4"/>
<path d="M251.3 327.0l2.2 0.4 -1.4 -2.4 -2.2 -0.4z" fill="#35f394"/>
<path d="M301.4 367.0l2.1 3.2 -1.0 -1.5 -2.2 -3.2z" fill="#341b51"/>
<path d="M193.1 291.2l2.5 1.9 -1.5 -3.4 -2.5 -1.9z" fill="#fe9e2f"/>
<path d="M280.9 343.0l2.2 1.9 -1.2 -1.8 -2.2 -2.0z" fill="#33adf7"/>
<path d="M177.2 307.9l2.3 -5.2 -1.6 -3.0 -2.3 5.3z" fill="#dbe236"/>
<path d="M163.2 362.0l2.2 -7.6 -1.8 -1.7 -2.3 7.7z" fill="#455ccf"/>
<path d="M277.3 345.2l2.5 0.3 -1.3 -2.3 -2.5 -0.4z" fill="#33adf7"/>
<path d="M317.9 352.8l2.5 0.3 -1.3 -2.1 -2.5 -0.3z" fill="#4680f6"/>
<path d="M249.1 326.7l2.2 0.3 -1.4 -2.4 -2.2 -0.3z" fill="#3cf58e"/>
<path d="M211.7 314.4l2.4 3.5 -1.5 -3.0 -2.4 -3.6z" fill="#9ffd3f"/>
<path d="M227.9 341.1l2.4 4.5 -1.5 -2.2 -2.4 -4.7z" fill="#2cb7f0"/>
<path d="M179.4 302.7l2.3 -4.5 -1.6 -3.2 -2.3 4.6z" fill="#efcd3a"/>
<path d="M190.7 290.1l2.5 1.1 -1.5 -3.4 -2.5 -1.1z" fill="#fe932a"/>
<path d="M278.7 341.2l2.2 1.8 -1.2 -1.9 -2.2 -1.8z" fill="#2cb7f0"/>
<path d="M274.9 344.8l2.5 0.3 -1.3 -2.3 -2.5 -0.4z" fill="#31aff5"/>
<path d="M246.9 326.5l2.2 0.2 -1.4 -2.4 -2.2 -0.2z" fill="#3cf58e"/>
<path d="M315.5 352.5l2.5 0.3 -1.3 -2.1 -2.5 -0.3z" fill="#4682f8"/>
<path d="M299.3 363.9l2.1 3.0 -1.0 -1.5 -2.2 -3.1z" fill="#3b2f80"/>
<path d="M181.7 298.2l2.3 -3.2 -1.6 -3.2 -2.3 3.3z" fill="#fbb838"/>
<path d="M356.1 359.7l2.5 0.3 -1.3 -1.9 -2.5 -0.3z" fill="#4456c7"/>
<path d="M188.4 290.8l2.2 -0.7 -1.5 -3.4 -2.3 0.8z" fill="#fe932a"/>
<path d="M165.4 354.4l2.2 -7.5 -1.8 -1.8 -2.3 7.6z" fill="#4687fb"/>
<path d="M244.7 326.4l2.2 0.1 -1.4 -2.5 -2.2 -0.1z" fill="#3ff68a"/>
<path d="M183.9 295.0l2.2 -2.6 -1.6 -3.3 -2.3 2.7z" fill="#fea732"/>
<path d="M186.2 292.4l2.2 -1.6 -1.5 -3.3 -2.3 1.6z" fill="#fe992c"/>
<path d="M272.4 344.5l2.5 0.3 -1.3 -2.3 -2.5 -0.4z" fill="#2fb2f4"/>
<path d="M313.0 352.1l2.5 0.3 -1.3 -2.1 -2.5 -0.3z" fill="#4685fa"/>
<path d="M276.5 339.5l2.2 1.7 -1.2 -1.9 -2.2 -1.7z" fill="#23c3e4"/>
<path d="M353.6 359.4l2.5 0.3 -1.3 -1.9 -2.5 -0.3z" fill="#4559cb"/>
<path d="M209.3 311.0l2.4 3.4 -1.5 -3.0 -2.4 -3.5z" fill="#b4f836"/>
<path d="M242.5 326.4l2.2 0.0 -1.5 -2.5 -2.2 -0.0z" fill="#3ff68a"/>
<path d="M241.5 366.1l2.4 4.3 -1.4 -1.5 -2.4 -4.3z" fill="#36215f"/>
<path d="M269.9 344.1l2.5 0.3 -1.3 -2.3 -2.5 -0.4z" fill="#2eb4f2"/>
<path d="M310.5 351.8l2.5 0.3 -1.3 -2.1 -2.5 -0.3z" fill="#4687fb"/>
<path d="M297.1 361.0l2.1 2.9 -1.1 -1.6 -2.2 -2.9z" fill="#4143a7"/>
<path d="M225.4 336.7l2.4 4.4 -1.5 -2.4 -2.4 -4.6z" fill="#1bd0d5"/>
<path d="M240.4 326.4l2.2 -0.0 -1.5 -2.5 -2.2 0.0z" fill="#3ff68a"/>
<path d="M351.2 359.1l2.5 0.3 -1.3 -1.9 -2.5 -0.3z" fill="#455ccf"/>
<path d="M274.4 338.0l2.2 1.5 -1.2 -2.0 -2.2 -1.6z" fill="#1fc9dd"/>
<path d="M267.5 343.8l2.5 0.3 -1.3 -2.3 -2.5 -0.4z" fill="#2cb7f0"/>
<path d="M308.1 351.5l2.5 0.3 -1.3 -2.1 -2.5 -0.3z" fill="#458afc"/>
<path d="M238.1 326.5l2.2 -0.1 -1.5 -2.5 -2.2 0.1z" fill="#3ff68a"/>
<path d="M167.6 346.9l2.2 -8.0 -1.8 -2.0 -2.3 8.3z" fill="#2eb4f2"/>
<path d="M348.7 358.7l2.5 0.3 -1.3 -1.9 -2.5 -0.3z" fill="#455ed3"/>
<path d="M206.9 307.6l2.4 3.3 -1.5 -3.1 -2.4 -3.4z" fill="#cbed34"/>
<path d="M235.9 326.8l2.2 -0.3 -1.5 -2.5 -2.2 0.3z" fill="#3ff68a"/>
<path d="M187.0 370.4l2.2 -6.7 -2.2 -1.4 -2.3 6.6z" fill="#38276d"/>
<path d="M264.9 344.0l2.6 -0.2 -1.3 -2.3 -2.6 0.2z" fill="#2cb7f0"/>
<path d="M305.6 351.1l2.5 0.3 -1.3 -2.1 -2.5 -0.3z" fill="#458afc"/>
<path d="M272.2 336.6l2.2 1.4 -1.2 -2.0 -2.2 -1.4z" fill="#1ad2d2"/>
<path d="M295.0 358.3l2.1 2.7 -1.1 -1.6 -2.2 -2.8z" fill="#4456c7"/>
<path d="M346.2 358.4l2.5 0.3 -1.3 -1.9 -2.5 -0.3z" fill="#4661d6"/>
<path d="M233.7 327.2l2.2 -0.4 -1.6 -2.5 -2.2 0.4z" fill="#3cf58e"/>
<path d="M239.1 361.6l2.4 4.4 -1.4 -1.6 -2.4 -4.6z" fill="#3f3e9c"/>
<path d="M262.2 344.3l2.6 -0.4 -1.3 -2.3 -2.7 0.4z" fill="#2eb4f2"/>
<path d="M223.0 332.3l2.4 4.4 -1.5 -2.5 -2.4 -4.5z" fill="#19e3b9"/>
<path d="M231.5 327.7l2.2 -0.5 -1.6 -2.5 -2.2 0.5z" fill="#38f491"/>
<path d="M303.2 350.8l2.5 0.3 -1.3 -2.1 -2.5 -0.3z" fill="#458cfd"/>
<path d="M189.3 363.7l2.2 -3.9 -2.1 -1.4 -2.3 3.9z" fill="#4146ac"/>
<path d="M343.8 358.1l2.5 0.3 -1.3 -1.9 -2.5 -0.3z" fill="#4664da"/>
<path d="M259.6 344.9l2.6 -0.6 -1.3 -2.3 -2.7 0.6z" fill="#2eb4f2"/>
<path d="M270.0 335.3l2.2 1.3 -1.3 -2.1 -2.2 -1.3z" fill="#18d9c8"/>
<path d="M229.3 328.3l2.2 -0.7 -1.6 -2.4 -2.2 0.7z" fill="#35f394"/>
<path d="M169.9 338.9l2.2 -7.9 -1.7 -2.3 -2.3 8.2z" fill="#18dec0"/>
<path d="M204.4 304.4l2.4 3.2 -1.5 -3.2 -2.4 -3.3z" fill="#dde037"/>
<path d="M191.5 359.9l2.2 -3.3 -2.1 -1.5 -2.3 3.3z" fill="#455ccf"/>
<path d="M227.0 329.1l2.2 -0.8 -1.6 -2.4 -2.2 0.8z" fill="#2ff19b"/>
<path d="M257.0 345.7l2.6 -0.8 -1.3 -2.3 -2.7 0.8z" fill="#31aff5"/>
<path d="M300.7 350.5l2.5 0.3 -1.3 -2.2 -2.5 -0.3z" fill="#448ffe"/>
<path d="M292.8 355.7l2.1 2.6 -1.1 -1.6 -2.2 -2.6z" fill="#4666dd"/>
<path d="M341.3 357.8l2.5 0.3 -1.3 -1.9 -2.5 -0.3z" fill="#4666dd"/>
<path d="M224.8 330.0l2.2 -0.9 -1.7 -2.4 -2.2 0.9z" fill="#2aefa1"/>
<path d="M193.7 356.6l2.2 -2.9 -2.1 -1.5 -2.3 3.0z" fill="#476ee6"/>
<path d="M254.3 346.6l2.6 -0.9 -1.4 -2.3 -2.7 1.0z" fill="#35abf8"/>
<path d="M267.9 334.2l2.2 1.1 -1.3 -2.1 -2.2 -1.2z" fill="#18dec0"/>
<path d="M222.6 331.1l2.2 -1.0 -1.7 -2.3 -2.2 1.1z" fill="#25eca7"/>
<path d="M195.9 353.7l2.2 -2.7 -2.1 -1.6 -2.3 2.8z" fill="#467df4"/>
<path d="M298.3 350.1l2.5 0.3 -1.3 -2.2 -2.5 -0.3z" fill="#4391fe"/>
<path d="M251.7 347.7l2.6 -1.1 -1.4 -2.3 -2.7 1.2z" fill="#38a5fb"/>
<path d="M220.4 332.2l2.2 -1.2 -1.7 -2.3 -2.2 1.2z" fill="#20eaac"/>
<path d="M236.6 357.1l2.4 4.5 -1.5 -1.7 -2.4 -4.7z" fill="#455ccf"/>
<path d="M198.2 351.0l2.2 -2.5 -2.0 -1.7 -2.3 2.6z" fill="#448ffe"/>
<path d="M338.9 357.5l2.5 0.3 -1.3 -2.0 -2.5 -0.3z" fill="#4669e0"/>
<path d="M218.2 333.5l2.2 -1.3 -1.8 -2.2 -2.2 1.3z" fill="#1ce6b4"/>
<path d="M200.4 348.4l2.2 -2.3 -2.0 -1.7 -2.3 2.4z" fill="#3e9bfe"/>
<path d="M249.1 349.0l2.6 -1.3 -1.4 -2.2 -2.7 1.3z" fill="#3d9efe"/>
<path d="M215.9 334.9l2.2 -1.4 -1.8 -2.2 -2.3 1.5z" fill="#18e0bd"/>
<path d="M220.6 328.3l2.4 4.0 -1.5 -2.7 -2.4 -4.1z" fill="#2ff19b"/>
<path d="M202.6 346.1l2.2 -2.2 -2.0 -1.8 -2.3 2.3z" fill="#35abf8"/>
<path d="M213.7 336.5l2.2 -1.5 -1.8 -2.1 -2.3 1.6z" fill="#18dbc5"/>
<path d="M204.8 343.9l2.2 -2.1 -1.9 -1.9 -2.3 2.1z" fill="#2cb7f0"/>
<path d="M211.5 338.1l2.2 -1.7 -1.9 -2.1 -2.3 1.7z" fill="#1ad4d0"/>
<path d="M246.5 350.5l2.6 -1.4 -1.4 -2.2 -2.7 1.5z" fill="#4196ff"/>
<path d="M207.1 341.9l2.2 -1.9 -1.9 -1.9 -2.3 2.0z" fill="#25c0e7"/>
<path d="M209.3 339.9l2.2 -1.8 -1.9 -2.0 -2.3 1.9z" fill="#1ecbda"/>
<path d="M290.7 353.2l2.1 2.5 -1.1 -1.7 -2.2 -2.5z" fill="#4776ee"/>
<path d="M265.7 333.1l2.2 1.0 -1.3 -2.2 -2.2 -1.1z" fill="#19e3b9"/>
<path d="M295.8 349.8l2.5 0.3 -1.3 -2.2 -2.5 -0.3z" fill="#4294ff"/>
<path d="M243.8 352.1l2.6 -1.6 -1.4 -2.1 -2.7 1.7z" fill="#448ffe"/>
<path d="M202.0 301.4l2.4 3.1 -1.5 -3.2 -2.4 -3.2z" fill="#ebd339"/>
<path d="M172.1 330.9l2.2 -7.4 -1.7 -2.5 -2.3 7.7z" fill="#3cf58e"/>
<path d="M241.2 353.8l2.6 -1.7 -1.5 -2.1 -2.7 1.8z" fill="#4685fa"/>
<path d="M336.4 357.1l2.5 0.3 -1.3 -2.0 -2.5 -0.3z" fill="#4669e0"/>
<path d="M238.6 355.7l2.6 -1.9 -1.5 -2.0 -2.7 1.9z" fill="#477bf2"/>
<path d="M220.1 371.0l2.6 -2.3 -1.7 -1.6 -2.7 2.4z" fill="#33184a"/>
<path d="M222.8 368.7l2.6 -2.3 -1.6 -1.6 -2.7 2.4z" fill="#392a73"/>
<path d="M235.9 357.6l2.6 -2.0 -1.5 -2.0 -2.7 2.0z" fill="#476ee6"/>
<path d="M225.4 366.4l2.6 -2.3 -1.6 -1.7 -2.7 2.4z" fill="#3e3891"/>
<path d="M233.3 359.7l2.6 -2.1 -1.5 -1.9 -2.7 2.1z" fill="#4661d6"/>
<path d="M228.0 364.1l2.6 -2.2 -1.6 -1.8 -2.7 2.3z" fill="#4146ac"/>
<path d="M230.7 361.9l2.6 -2.2 -1.6 -1.9 -2.7 2.2z" fill="#4454c3"/>
<path d="M293.3 349.5l2.5 0.3 -1.3 -2.2 -2.5 -0.3z" fill="#4196ff"/>
<path d="M263.5 332.2l2.2 0.9 -1.3 -2.2 -2.2 -0.9z" fill="#1ce6b4"/>
<path d="M333.9 356.8l2.5 0.3 -1.3 -2.0 -2.5 -0.3z" fill="#466be3"/>
<path d="M288.5 350.9l2.1 2.3 -1.1 -1.7 -2.2 -2.4z" fill="#4685fa"/>
<path d="M234.2 352.4l2.4 4.7 -1.5 -1.8 -2.4 -4.9z" fill="#4778f0"/>
<path d="M290.9 349.1l2.5 0.3 -1.3 -2.2 -2.5 -0.3z" fill="#4099ff"/>
<path d="M218.1 324.5l2.4 3.9 -1.5 -2.8 -2.4 -4.0z" fill="#4ef97d"/>
<path d="M261.4 331.5l2.2 0.8 -1.3 -2.3 -2.2 -0.8z" fill="#1fe9af"/>
<path d="M199.5 298.6l2.4 2.7 -1.5 -3.3 -2.4 -2.8z" fill="#f5c53a"/>
<path d="M331.5 356.5l2.5 0.3 -1.3 -2.0 -2.5 -0.3z" fill="#476ee6"/>
<path d="M174.3 323.5l2.2 -6.8 -1.7 -2.7 -2.3 7.1z" fill="#80ff53"/>
<path d="M288.4 348.8l2.5 0.3 -1.3 -2.2 -2.5 -0.3z" fill="#3e9bfe"/>
<path d="M259.2 330.8l2.2 0.7 -1.3 -2.3 -2.2 -0.7z" fill="#22ebaa"/>
<path d="M329.0 356.2l2.5 0.3 -1.3 -2.0 -2.5 -0.3z" fill="#4771e9"/>
<path d="M286.4 348.8l2.1 2.2 -1.1 -1.7 -2.2 -2.2z" fill="#4391fe"/>
<path d="M286.0 348.5l2.5 0.3 -1.3 -2.2 -2.5 -0.3z" fill="#3d9efe"/>
<path d="M197.1 296.4l2.4 2.2 -1.5 -3.4 -2.5 -2.2z" fill="#fbb838"/>
<path d="M162.8 371.1l2.2 -7.6 -1.8 -1.6 -2.2 7.7z" fill="#392a73"/>
<path d="M257.0 330.2l2.2 0.6 -1.4 -2.3 -2.2 -0.6z" fill="#27eea4"/>
<path d="M326.6 355.8l2.5 0.3 -1.3 -2.0 -2.5 -0.3z" fill="#4773eb"/>
<path d="M176.6 316.7l2.2 -5.9 -1.7 -2.9 -2.3 6.1z" fill="#affa37"/>
<path d="M215.7 320.8l2.4 3.7 -1.5 -2.9 -2.4 -3.7z" fill="#71fe5f"/>
<path d="M231.8 347.8l2.4 4.6 -1.5 -2.0 -2.4 -4.7z" fill="#4196ff"/>
<path d="M284.2 346.7l2.1 2.0 -1.2 -1.8 -2.2 -2.1z" fill="#3d9efe"/>
<path d="M283.5 348.1l2.5 0.3 -1.3 -2.3 -2.5 -0.3z" fill="#3ba0fd"/>
<path d="M254.9 329.8l2.2 0.5 -1.4 -2.4 -2.2 -0.5z" fill="#2cf09e"/>
<path d="M324.1 355.5l2.5 0.3 -1.3 -2.0 -2.5 -0.3z" fill="#4776ee"/>
<path d="M194.6 294.6l2.4 1.9 -1.5 -3.4 -2.5 -1.9z" fill="#fdac34"/>
<path d="M178.8 310.8l2.2 -5.1 -1.6 -3.0 -2.3 5.2z" fill="#d2e935"/>
<path d="M281.0 347.8l2.5 0.3 -1.3 -2.3 -2.5 -0.3z" fill="#3aa3fc"/>
<path d="M252.7 329.4l2.2 0.4 -1.4 -2.4 -2.2 -0.4z" fill="#2ff19b"/>
<path d="M321.6 355.2l2.5 0.3 -1.3 -2.0 -2.5 -0.3z" fill="#4778f0"/>
<path d="M165.0 363.6l2.2 -7.5 -1.8 -1.7 -2.2 7.6z" fill="#4559cb"/>
<path d="M282.1 344.9l2.1 1.9 -1.2 -1.8 -2.2 -1.9z" fill="#35abf8"/>
<path d="M302.4 368.5l2.1 3.2 -1.0 -1.5 -2.1 -3.2z" fill="#341b51"/>
<path d="M213.2 317.4l2.4 3.4 -1.5 -3.0 -2.4 -3.5z" fill="#92ff47"/>
<path d="M278.6 347.5l2.5 0.3 -1.3 -2.3 -2.5 -0.3z" fill="#38a5fb"/>
<path d="M250.5 329.1l2.2 0.3 -1.4 -2.4 -2.2 -0.3z" fill="#32f298"/>
<path d="M181.1 305.7l2.2 -4.3 -1.6 -3.2 -2.3 4.5z" fill="#e9d539"/>
<path d="M192.2 293.4l2.4 1.1 -1.5 -3.4 -2.5 -1.1z" fill="#fea130"/>
<path d="M319.2 354.9l2.5 0.3 -1.3 -2.1 -2.5 -0.3z" fill="#477bf2"/>
<path d="M229.3 343.5l2.4 4.4 -1.5 -2.2 -2.4 -4.5z" fill="#2fb2f4"/>
<path d="M248.4 329.0l2.2 0.2 -1.4 -2.4 -2.2 -0.2z" fill="#35f394"/>
<path d="M183.3 301.4l2.2 -3.2 -1.6 -3.2 -2.3 3.2z" fill="#f6c33a"/>
<path d="M276.1 347.1l2.5 0.3 -1.3 -2.3 -2.5 -0.3z" fill="#37a8fa"/>
<path d="M279.9 343.1l2.1 1.7 -1.2 -1.9 -2.2 -1.8z" fill="#2eb4f2"/>
<path d="M190.0 294.2l2.2 -0.7 -1.5 -3.4 -2.2 0.7z" fill="#fea130"/>
<path d="M316.7 354.6l2.5 0.3 -1.3 -2.1 -2.5 -0.3z" fill="#467df4"/>
<path d="M185.5 298.2l2.2 -2.5 -1.6 -3.3 -2.2 2.6z" fill="#fcb336"/>
<path d="M187.7 295.7l2.2 -1.5 -1.5 -3.3 -2.2 1.6z" fill="#fea933"/>
<path d="M357.3 361.6l2.5 0.3 -1.3 -1.9 -2.5 -0.3z" fill="#4454c3"/>
<path d="M246.2 328.9l2.2 0.1 -1.4 -2.5 -2.2 -0.1z" fill="#35f394"/>
<path d="M300.3 365.5l2.1 3.0 -1.0 -1.5 -2.1 -3.0z" fill="#3b2f80"/>
<path d="M167.2 356.1l2.2 -7.4 -1.8 -1.8 -2.2 7.5z" fill="#4685fa"/>
<path d="M273.7 346.8l2.5 0.3 -1.3 -2.3 -2.5 -0.3z" fill="#35abf8"/>
<path d="M210.8 314.0l2.4 3.3 -1.5 -3.0 -2.4 -3.4z" fill="#a9fb39"/>
<path d="M314.3 354.2l2.5 0.3 -1.3 -2.1 -2.5 -0.3z" fill="#4680f6"/>
<path d="M277.8 341.5l2.1 1.6 -1.2 -1.9 -2.2 -1.7z" fill="#27bee9"/>
<path d="M244.0 328.8l2.2 0.0 -1.5 -2.5 -2.2 -0.0z" fill="#35f394"/>
<path d="M354.9 361.3l2.5 0.3 -1.3 -1.9 -2.5 -0.3z" fill="#4456c7"/>
<path d="M271.2 346.5l2.5 0.3 -1.3 -2.3 -2.5 -0.3z" fill="#33adf7"/>
<path d="M242.9 367.7l2.4 4.2 -1.4 -1.5 -2.4 -4.3z" fill="#351e58"/>
<path d="M226.9 339.2l2.4 4.3 -1.5 -2.4 -2.4 -4.4z" fill="#1ecbda"/>
<path d="M311.8 353.9l2.5 0.3 -1.3 -2.1 -2.5 -0.3z" fill="#4682f8"/>
<path d="M241.8 328.9l2.2 -0.0 -1.5 -2.5 -2.2 0.0z" fill="#38f491"/>
<path d="M352.4 360.9l2.5 0.3 -1.3 -1.9 -2.5 -0.3z" fill="#4559cb"/>
<path d="M298.2 362.6l2.1 2.9 -1.1 -1.6 -2.1 -2.9z" fill="#4143a7"/>
<path d="M275.6 340.0l2.1 1.5 -1.2 -2.0 -2.2 -1.5z" fill="#20c7df"/>
<path d="M239.7 329.0l2.2 -0.1 -1.5 -2.5 -2.2 0.1z" fill="#38f491"/>
<path d="M268.7 346.1l2.5 0.3 -1.3 -2.3 -2.5 -0.3z" fill="#31aff5"/>
<path d="M309.4 353.6l2.5 0.3 -1.3 -2.1 -2.5 -0.3z" fill="#4685fa"/>
<path d="M169.4 348.7l2.2 -7.8 -1.8 -2.0 -2.2 8.0z" fill="#2fb2f4"/>
<path d="M208.4 310.8l2.4 3.2 -1.5 -3.1 -2.4 -3.3z" fill="#bef434"/>
<path d="M350.0 360.6l2.5 0.3 -1.3 -1.9 -2.5 -0.3z" fill="#455ccf"/>
<path d="M237.5 329.3l2.2 -0.3 -1.5 -2.5 -2.2 0.3z" fill="#35f394"/>
<path d="M266.1 346.3l2.6 -0.2 -1.3 -2.3 -2.6 0.2z" fill="#31aff5"/>
<path d="M189.2 371.9l2.2 -6.8 -2.2 -1.4 -2.2 6.7z" fill="#38276d"/>
<path d="M306.9 353.3l2.5 0.3 -1.3 -2.1 -2.5 -0.3z" fill="#4687fb"/>
<path d="M273.5 338.7l2.1 1.4 -1.2 -2.0 -2.2 -1.4z" fill="#1bd0d5"/>
<path d="M235.3 329.6l2.2 -0.4 -1.6 -2.5 -2.2 0.4z" fill="#35f394"/>
<path d="M347.5 360.3l2.5 0.3 -1.3 -1.9 -2.5 -0.3z" fill="#455ccf"/>
<path d="M296.1 359.9l2.1 2.7 -1.1 -1.6 -2.1 -2.7z" fill="#4454c3"/>
<path d="M263.5 346.7l2.6 -0.4 -1.3 -2.3 -2.6 0.4z" fill="#31aff5"/>
<path d="M240.5 363.3l2.4 4.3 -1.4 -1.6 -2.4 -4.4z" fill="#3f3b97"/>
<path d="M224.5 335.0l2.4 4.2 -1.5 -2.5 -2.4 -4.4z" fill="#18dec0"/>
<path d="M233.1 330.1l2.2 -0.5 -1.6 -2.5 -2.2 0.5z" fill="#32f298"/>
<path d="M304.4 353.0l2.5 0.3 -1.3 -2.1 -2.5 -0.3z" fill="#4687fb"/>
<path d="M191.4 365.1l2.2 -3.8 -2.1 -1.4 -2.2 3.9z" fill="#4146ac"/>
<path d="M230.9 330.8l2.2 -0.6 -1.6 -2.4 -2.2 0.7z" fill="#2cf09e"/>
<path d="M260.9 347.2l2.6 -0.5 -1.3 -2.3 -2.6 0.6z" fill="#33adf7"/>
<path d="M271.3 337.4l2.2 1.2 -1.3 -2.1 -2.2 -1.3z" fill="#19d5cd"/>
<path d="M205.9 307.7l2.4 3.1 -1.5 -3.2 -2.4 -3.2z" fill="#d2e935"/>
<path d="M345.0 360.0l2.5 0.3 -1.3 -1.9 -2.5 -0.3z" fill="#455ed3"/>
<path d="M171.6 340.9l2.2 -7.7 -1.7 -2.3 -2.2 7.9z" fill="#18dbc5"/>
<path d="M228.7 331.5l2.2 -0.7 -1.6 -2.4 -2.2 0.8z" fill="#2aefa1"/>
<path d="M258.3 348.0l2.6 -0.7 -1.3 -2.3 -2.6 0.8z" fill="#35abf8"/>
<path d="M193.6 361.3l2.2 -3.2 -2.1 -1.5 -2.2 3.3z" fill="#455ccf"/>
<path d="M302.0 352.6l2.5 0.3 -1.3 -2.2 -2.5 -0.3z" fill="#458afc"/>
<path d="M226.5 332.4l2.2 -0.9 -1.7 -2.4 -2.2 0.9z" fill="#25eca7"/>
<path d="M293.9 357.4l2.1 2.6 -1.1 -1.6 -2.1 -2.6z" fill="#4666dd"/>
<path d="M342.6 359.7l2.5 0.3 -1.3 -1.9 -2.5 -0.3z" fill="#4661d6"/>
<path d="M195.8 358.1l2.2 -2.9 -2.1 -1.5 -2.2 2.9z" fill="#476ee6"/>
<path d="M255.7 348.9l2.6 -0.9 -1.4 -2.3 -2.6 0.9z" fill="#38a5fb"/>
<path d="M224.3 333.4l2.2 -1.0 -1.7 -2.3 -2.2 1.0z" fill="#20eaac"/>
<path d="M269.2 336.3l2.2 1.1 -1.3 -2.1 -2.2 -1.1z" fill="#18dbc5"/>
<path d="M198.0 355.2l2.2 -2.6 -2.1 -1.6 -2.2 2.7z" fill="#467df4"/>
<path d="M222.1 334.5l2.2 -1.1 -1.7 -2.3 -2.2 1.2z" fill="#1ce6b4"/>
<path d="M253.1 349.9l2.6 -1.1 -1.4 -2.3 -2.6 1.1z" fill="#3ba0fd"/>
<path d="M299.5 352.3l2.5 0.3 -1.3 -2.2 -2.5 -0.3z" fill="#458cfd"/>
<path d="M220.0 335.7l2.2 -1.2 -1.8 -2.2 -2.2 1.3z" fill="#19e2bb"/>
<path d="M200.2 352.5l2.2 -2.4 -2.0 -1.7 -2.2 2.5z" fill="#458cfd"/>
<path d="M238.1 358.9l2.4 4.4 -1.5 -1.7 -2.4 -4.5z" fill="#4559cb"/>
<path d="M222.0 331.1l2.4 3.9 -1.5 -2.7 -2.4 -4.0z" fill="#25eca7"/>
<path d="M217.8 337.1l2.2 -1.4 -1.8 -2.2 -2.2 1.4z" fill="#18ddc2"/>
<path d="M202.4 350.1l2.2 -2.3 -2.0 -1.7 -2.2 2.3z" fill="#3e9bfe"/>
<path d="M340.1 359.4l2.5 0.3 -1.3 -2.0 -2.5 -0.3z" fill="#4664da"/>
<path d="M250.5 351.2l2.6 -1.2 -1.4 -2.2 -2.6 1.3z" fill="#4099ff"/>
<path d="M215.6 338.6l2.2 -1.5 -1.8 -2.1 -2.2 1.5z" fill="#18d7ca"/>
<path d="M204.6 347.8l2.2 -2.1 -2.0 -1.8 -2.2 2.2z" fill="#37a8fa"/>
<path d="M203.5 304.7l2.4 3.0 -1.5 -3.2 -2.4 -3.1z" fill="#e1dd37"/>
<path d="M213.4 340.2l2.2 -1.6 -1.9 -2.1 -2.2 1.7z" fill="#1bd0d5"/>
<path d="M206.8 345.7l2.2 -2.0 -1.9 -1.9 -2.2 2.1z" fill="#2eb4f2"/>
<path d="M211.2 341.9l2.2 -1.7 -1.9 -2.0 -2.2 1.8z" fill="#20c7df"/>
<path d="M209.0 343.7l2.2 -1.9 -1.9 -1.9 -2.2 1.9z" fill="#27bee9"/>
<path d="M247.9 352.6l2.6 -1.4 -1.4 -2.2 -2.6 1.4z" fill="#4391fe"/>
<path d="M267.0 335.4l2.2 1.0 -1.3 -2.2 -2.2 -1.0z" fill="#18dec0"/>
<path d="M173.8 333.2l2.2 -7.2 -1.7 -2.5 -2.2 7.4z" fill="#35f394"/>
<path d="M297.1 352.0l2.5 0.3 -1.3 -2.2 -2.5 -0.3z" fill="#448ffe"/>
<path d="M245.3 354.1l2.6 -1.6 -1.4 -2.1 -2.6 1.6z" fill="#458afc"/>
<path d="M291.8 354.9l2.1 2.4 -1.1 -1.7 -2.1 -2.5z" fill="#4773eb"/>
<path d="M242.7 355.8l2.6 -1.7 -1.5 -2.1 -2.6 1.7z" fill="#4680f6"/>
<path d="M337.7 359.1l2.5 0.3 -1.3 -2.0 -2.5 -0.3z" fill="#4666dd"/>
<path d="M240.1 357.6l2.6 -1.8 -1.5 -2.0 -2.6 1.9z" fill="#4776ee"/>
<path d="M237.5 359.6l2.6 -1.9 -1.5 -2.0 -2.6 2.0z" fill="#466be3"/>
<path d="M221.8 372.5l2.6 -2.3 -1.7 -1.6 -2.6 2.3z" fill="#33184a"/>
<path d="M234.9 361.6l2.6 -2.0 -1.5 -1.9 -2.6 2.1z" fill="#455ed3"/>
<path d="M224.4 370.3l2.6 -2.2 -1.6 -1.6 -2.6 2.3z" fill="#38276d"/>
<path d="M227.0 368.0l2.6 -2.2 -1.6 -1.7 -2.6 2.3z" fill="#3d358b"/>
<path d="M232.3 363.7l2.6 -2.1 -1.6 -1.9 -2.6 2.2z" fill="#4451bf"/>
<path d="M229.7 365.8l2.6 -2.2 -1.6 -1.8 -2.6 2.2z" fill="#4146ac"/>
<path d="M264.9 334.5l2.2 0.9 -1.3 -2.2 -2.2 -0.9z" fill="#19e3b9"/>
<path d="M294.6 351.7l2.5 0.3 -1.3 -2.2 -2.5 -0.3z" fill="#4391fe"/>
<path d="M335.2 358.8l2.5 0.3 -1.3 -2.0 -2.5 -0.3z" fill="#4669e0"/>
<path d="M201.0 302.0l2.4 2.7 -1.5 -3.3 -2.4 -2.7z" fill="#eecf3a"/>
<path d="M219.6 327.3l2.4 3.8 -1.5 -2.8 -2.4 -3.9z" fill="#3ff68a"/>
<path d="M289.7 352.7l2.1 2.3 -1.1 -1.7 -2.1 -2.3z" fill="#4682f8"/>
<path d="M235.7 354.4l2.4 4.5 -1.5 -1.8 -2.4 -4.7z" fill="#4776ee"/>
<path d="M292.1 351.4l2.5 0.3 -1.3 -2.2 -2.5 -0.3z" fill="#4294ff"/>
<path d="M262.7 333.8l2.2 0.7 -1.3 -2.3 -2.2 -0.8z" fill="#1ce6b4"/>
<path d="M176.1 326.0l2.2 -6.6 -1.7 -2.7 -2.2 6.8z" fill="#75fe5c"/>
<path d="M332.7 358.5l2.5 0.3 -1.3 -2.0 -2.5 -0.3z" fill="#466be3"/>
<path d="M289.7 351.0l2.5 0.3 -1.3 -2.2 -2.5 -0.3z" fill="#4196ff"/>
<path d="M260.6 333.1l2.2 0.6 -1.3 -2.3 -2.2 -0.7z" fill="#1fe9af"/>
<path d="M330.3 358.2l2.5 0.3 -1.3 -2.0 -2.5 -0.3z" fill="#476ee6"/>
<path d="M198.6 299.8l2.4 2.2 -1.5 -3.4 -2.4 -2.2z" fill="#f6c33a"/>
<path d="M287.5 350.6l2.1 2.1 -1.1 -1.7 -2.1 -2.2z" fill="#448ffe"/>
<path d="M178.3 319.4l2.2 -5.7 -1.7 -2.9 -2.2 5.9z" fill="#a7fc3a"/>
<path d="M287.2 350.7l2.5 0.3 -1.3 -2.2 -2.5 -0.3z" fill="#4099ff"/>
<path d="M217.2 323.8l2.4 3.6 -1.5 -2.9 -2.4 -3.7z" fill="#61fc6c"/>
<path d="M258.4 332.6l2.2 0.5 -1.4 -2.3 -2.2 -0.6z" fill="#22ebaa"/>
<path d="M164.6 372.6l2.2 -7.5 -1.8 -1.6 -2.2 7.6z" fill="#392a73"/>
<path d="M327.8 357.9l2.5 0.3 -1.3 -2.0 -2.5 -0.3z" fill="#4771e9"/>
<path d="M233.2 350.0l2.4 4.4 -1.5 -2.0 -2.4 -4.6z" fill="#4391fe"/>
<path d="M284.8 350.4l2.5 0.3 -1.3 -2.3 -2.5 -0.3z" fill="#3e9bfe"/>
<path d="M256.3 332.2l2.2 0.4 -1.4 -2.4 -2.2 -0.5z" fill="#25eca7"/>
<path d="M285.4 348.6l2.1 2.0 -1.2 -1.8 -2.1 -2.0z" fill="#3e9bfe"/>
<path d="M196.2 298.0l2.4 1.8 -1.5 -3.4 -2.4 -1.9z" fill="#fbb838"/>
<path d="M325.4 357.6l2.5 0.3 -1.3 -2.0 -2.5 -0.3z" fill="#4771e9"/>
<path d="M180.5 313.7l2.2 -4.9 -1.6 -3.0 -2.2 5.1z" fill="#c6f034"/>
<path d="M282.3 350.1l2.5 0.3 -1.3 -2.3 -2.5 -0.3z" fill="#3d9efe"/>
<path d="M254.1 331.8l2.2 0.3 -1.4 -2.4 -2.2 -0.4z" fill="#27eea4"/>
<path d="M322.9 357.3l2.5 0.3 -1.3 -2.0 -2.5 -0.3z" fill="#4773eb"/>
<path d="M214.7 320.4l2.4 3.4 -1.5 -3.0 -2.4 -3.4z" fill="#80ff53"/>
<path d="M166.8 365.1l2.2 -7.4 -1.8 -1.7 -2.2 7.5z" fill="#4559cb"/>
<path d="M182.7 308.8l2.2 -4.2 -1.6 -3.2 -2.2 4.3z" fill="#dfdf37"/>
<path d="M193.7 296.8l2.4 1.1 -1.5 -3.4 -2.4 -1.1z" fill="#fcb136"/>
<path d="M283.3 346.7l2.1 1.8 -1.2 -1.8 -2.1 -1.9z" fill="#37a8fa"/>
<path d="M252.0 331.6l2.2 0.2 -1.4 -2.4 -2.2 -0.3z" fill="#2aefa1"/>
<path d="M279.8 349.8l2.5 0.3 -1.3 -2.3 -2.5 -0.3z" fill="#3ba0fd"/>
<path d="M303.5 370.1l2.1 3.2 -1.0 -1.5 -2.1 -3.2z" fill="#341b51"/>
<path d="M320.5 357.0l2.5 0.3 -1.3 -2.1 -2.5 -0.3z" fill="#4776ee"/>
<path d="M184.9 304.5l2.2 -3.1 -1.6 -3.2 -2.2 3.2z" fill="#efcd3a"/>
<path d="M230.8 345.8l2.4 4.2 -1.5 -2.2 -2.4 -4.4z" fill="#33adf7"/>
<path d="M191.5 297.5l2.2 -0.7 -1.5 -3.4 -2.2 0.7z" fill="#fcb136"/>
<path d="M249.8 331.4l2.2 0.2 -1.4 -2.4 -2.2 -0.2z" fill="#2cf09e"/>
<path d="M187.1 301.4l2.2 -2.5 -1.6 -3.3 -2.2 2.5z" fill="#f7c13a"/>
<path d="M189.3 299.0l2.2 -1.5 -1.5 -3.3 -2.2 1.5z" fill="#fbb637"/>
<path d="M277.4 349.4l2.5 0.3 -1.3 -2.3 -2.5 -0.3z" fill="#3aa3fc"/>
<path d="M281.1 345.0l2.1 1.7 -1.2 -1.9 -2.1 -1.7z" fill="#2fb2f4"/>
<path d="M318.0 356.7l2.5 0.3 -1.3 -2.1 -2.5 -0.3z" fill="#4778f0"/>
<path d="M247.7 331.3l2.2 0.1 -1.4 -2.5 -2.2 -0.1z" fill="#2cf09e"/>
<path d="M212.3 317.1l2.4 3.3 -1.5 -3.0 -2.4 -3.3z" fill="#9cfe40"/>
<path d="M358.6 363.4l2.5 0.3 -1.3 -1.9 -2.5 -0.3z" fill="#4451bf"/>
<path d="M169.0 357.7l2.2 -7.3 -1.8 -1.8 -2.2 7.4z" fill="#4685fa"/>
<path d="M274.9 349.1l2.5 0.3 -1.3 -2.3 -2.5 -0.3z" fill="#38a5fb"/>
<path d="M301.4 367.1l2.1 3.0 -1.0 -1.5 -2.1 -3.0z" fill="#3b2f80"/>
<path d="M315.5 356.4l2.5 0.3 -1.3 -2.1 -2.5 -0.3z" fill="#477bf2"/>
<path d="M245.5 331.3l2.2 0.0 -1.5 -2.5 -2.2 -0.0z" fill="#2cf09e"/>
<path d="M279.0 343.5l2.1 1.6 -1.2 -1.9 -2.1 -1.6z" fill="#28bceb"/>
<path d="M356.1 363.1l2.5 0.3 -1.3 -1.9 -2.5 -0.3z" fill="#4454c3"/>
<path d="M272.5 348.8l2.5 0.3 -1.3 -2.3 -2.5 -0.3z" fill="#37a8fa"/>
<path d="M228.4 341.7l2.4 4.1 -1.5 -2.4 -2.4 -4.3z" fill="#22c5e2"/>
<path d="M243.3 331.4l2.2 -0.0 -1.5 -2.5 -2.2 0.0z" fill="#2ff19b"/>
<path d="M313.1 356.0l2.5 0.3 -1.3 -2.1 -2.5 -0.3z" fill="#467df4"/>
<path d="M244.4 369.2l2.4 4.1 -1.4 -1.5 -2.4 -4.2z" fill="#351e58"/>
<path d="M353.7 362.8l2.5 0.3 -1.3 -1.9 -2.5 -0.3z" fill="#4454c3"/>
<path d="M241.2 331.5l2.2 -0.1 -1.5 -2.5 -2.2 0.1z" fill="#2ff19b"/>
<path d="M209.9 314.0l2.4 3.2 -1.5 -3.1 -2.4 -3.2z" fill="#b1f936"/>
<path d="M270.0 348.5l2.5 0.3 -1.3 -2.3 -2.5 -0.3z" fill="#37a8fa"/>
<path d="M276.9 342.0l2.1 1.4 -1.2 -2.0 -2.1 -1.5z" fill="#23c3e4"/>
<path d="M299.3 364.2l2.1 2.8 -1.1 -1.6 -2.1 -2.9z" fill="#4143a7"/>
<path d="M171.2 350.5l2.2 -7.6 -1.8 -2.0 -2.2 7.8z" fill="#31aff5"/>
<path d="M310.6 355.7l2.5 0.3 -1.3 -2.1 -2.5 -0.3z" fill="#4680f6"/>
<path d="M239.0 331.7l2.2 -0.2 -1.5 -2.5 -2.2 0.3z" fill="#2cf09e"/>
<path d="M351.2 362.6l2.5 0.3 -1.3 -1.9 -2.5 -0.3z" fill="#4456c7"/>
<path d="M267.4 348.7l2.6 -0.2 -1.3 -2.3 -2.6 0.2z" fill="#35abf8"/>
<path d="M191.4 373.4l2.2 -6.9 -2.2 -1.4 -2.2 6.8z" fill="#38276d"/>
<path d="M236.9 332.1l2.2 -0.4 -1.6 -2.5 -2.2 0.4z" fill="#2cf09e"/>
<path d="M308.2 355.4l2.5 0.3 -1.3 -2.1 -2.5 -0.3z" fill="#4682f8"/>
<path d="M274.7 340.7l2.1 1.3 -1.2 -2.0 -2.1 -1.4z" fill="#1ecbda"/>
<path d="M225.9 337.6l2.4 4.1 -1.5 -2.5 -2.4 -4.2z" fill="#18d9c8"/>
<path d="M264.8 349.0l2.6 -0.3 -1.3 -2.3 -2.6 0.4z" fill="#37a8fa"/>
<path d="M234.7 332.6l2.2 -0.5 -1.6 -2.5 -2.2 0.5z" fill="#2aefa1"/>
<path d="M348.8 362.3l2.5 0.3 -1.3 -1.9 -2.5 -0.3z" fill="#4559cb"/>
<path d="M242.0 365.0l2.4 4.2 -1.4 -1.6 -2.4 -4.3z" fill="#3f3b97"/>
<path d="M297.2 361.5l2.1 2.7 -1.1 -1.6 -2.1 -2.7z" fill="#4454c3"/>
<path d="M207.4 310.9l2.4 3.1 -1.5 -3.2 -2.4 -3.1z" fill="#c6f034"/>
<path d="M232.6 333.2l2.2 -0.6 -1.6 -2.4 -2.2 0.6z" fill="#27eea4"/>
<path d="M305.7 355.1l2.5 0.3 -1.3 -2.1 -2.5 -0.3z" fill="#4682f8"/>
<path d="M262.3 349.5l2.6 -0.5 -1.3 -2.3 -2.6 0.5z" fill="#37a8fa"/>
<path d="M193.6 366.5l2.2 -3.8 -2.1 -1.4 -2.2 3.8z" fill="#4146ac"/>
<path d="M272.6 339.6l2.1 1.2 -1.3 -2.1 -2.2 -1.2z" fill="#1ad2d2"/>
<path d="M173.4 342.9l2.2 -7.4 -1.7 -2.3 -2.2 7.7z" fill="#18d7ca"/>
<path d="M346.3 362.0l2.5 0.3 -1.3 -1.9 -2.5 -0.3z" fill="#455ccf"/>
<path d="M230.4 333.9l2.2 -0.7 -1.6 -2.4 -2.2 0.7z" fill="#22ebaa"/>
<path d="M259.7 350.2l2.6 -0.7 -1.3 -2.3 -2.6 0.7z" fill="#3aa3fc"/>
<path d="M195.8 362.7l2.2 -3.2 -2.1 -1.5 -2.2 3.2z" fill="#455ccf"/>
<path d="M228.2 334.7l2.2 -0.8 -1.7 -2.4 -2.2 0.9z" fill="#1fe9af"/>
<path d="M303.2 354.8l2.5 0.3 -1.3 -2.2 -2.5 -0.3z" fill="#4685fa"/>
<path d="M226.1 335.7l2.2 -0.9 -1.7 -2.3 -2.2 1.0z" fill="#1ce6b4"/>
<path d="M257.1 351.1l2.6 -0.9 -1.4 -2.3 -2.6 0.9z" fill="#3ba0fd"/>
<path d="M198.0 359.5l2.2 -2.8 -2.1 -1.5 -2.2 2.9z" fill="#476ee6"/>
<path d="M343.8 361.7l2.5 0.3 -1.3 -1.9 -2.5 -0.3z" fill="#455ed3"/>
<path d="M295.0 359.0l2.1 2.5 -1.1 -1.6 -2.1 -2.6z" fill="#4664da"/>
<path d="M223.9 336.7l2.2 -1.1 -1.7 -2.3 -2.2 1.1z" fill="#19e3b9"/>
<path d="M270.5 338.5l2.1 1.1 -1.3 -2.1 -2.2 -1.1z" fill="#18d7ca"/>
<path d="M200.1 356.7l2.2 -2.6 -2.1 -1.6 -2.2 2.6z" fill="#467df4"/>
<path d="M254.5 352.2l2.6 -1.0 -1.4 -2.3 -2.6 1.1z" fill="#4099ff"/>
<path d="M221.7 337.9l2.2 -1.2 -1.8 -2.2 -2.2 1.2z" fill="#18dec0"/>
<path d="M223.5 333.9l2.4 3.8 -1.5 -2.7 -2.4 -3.9z" fill="#1de7b2"/>
<path d="M205.0 308.0l2.4 2.9 -1.5 -3.2 -2.4 -3.0z" fill="#d7e535"/>
<path d="M300.8 354.5l2.5 0.3 -1.3 -2.2 -2.5 -0.3z" fill="#4687fb"/>
<path d="M202.3 354.1l2.2 -2.4 -2.0 -1.7 -2.2 2.4z" fill="#458cfd"/>
<path d="M219.6 339.2l2.2 -1.3 -1.8 -2.2 -2.2 1.4z" fill="#18d9c8"/>
<path d="M204.4 351.8l2.2 -2.2 -2.0 -1.7 -2.2 2.3z" fill="#4099ff"/>
<path d="M251.9 353.4l2.6 -1.2 -1.4 -2.2 -2.6 1.2z" fill="#4294ff"/>
<path d="M217.4 340.6l2.2 -1.4 -1.8 -2.1 -2.2 1.5z" fill="#1ad4d0"/>
<path d="M239.5 360.8l2.4 4.3 -1.5 -1.7 -2.4 -4.4z" fill="#4456c7"/>
<path d="M206.6 349.6l2.2 -2.1 -2.0 -1.8 -2.2 2.1z" fill="#38a5fb"/>
<path d="M215.3 342.2l2.2 -1.5 -1.9 -2.1 -2.2 1.6z" fill="#1ccdd8"/>
<path d="M341.4 361.4l2.5 0.3 -1.3 -2.0 -2.5 -0.3z" fill="#4661d6"/>
<path d="M208.8 347.5l2.2 -1.9 -1.9 -1.9 -2.2 2.0z" fill="#2fb2f4"/>
<path d="M213.1 343.8l2.2 -1.7 -1.9 -2.0 -2.2 1.7z" fill="#22c5e2"/>
<path d="M210.9 345.6l2.2 -1.8 -1.9 -1.9 -2.2 1.9z" fill="#28bceb"/>
<path d="M249.4 354.7l2.6 -1.4 -1.4 -2.2 -2.6 1.4z" fill="#458cfd"/>
<path d="M175.6 335.5l2.2 -6.9 -1.7 -2.5 -2.2 7.2z" fill="#2cf09e"/>
<path d="M268.3 337.6l2.1 0.9 -1.3 -2.2 -2.2 -1.0z" fill="#18dbc5"/>
<path d="M246.8 356.2l2.6 -1.5 -1.4 -2.1 -2.6 1.6z" fill="#4685fa"/>
<path d="M298.3 354.2l2.5 0.3 -1.3 -2.2 -2.5 -0.3z" fill="#458afc"/>
<path d="M244.2 357.9l2.6 -1.6 -1.5 -2.1 -2.6 1.7z" fill="#477bf2"/>
<path d="M292.9 356.6l2.1 2.4 -1.1 -1.7 -2.1 -2.4z" fill="#4773eb"/>
<path d="M241.6 359.6l2.6 -1.7 -1.5 -2.0 -2.6 1.8z" fill="#4771e9"/>
<path d="M338.9 361.1l2.5 0.3 -1.3 -2.0 -2.5 -0.3z" fill="#4664da"/>
<path d="M239.0 361.5l2.6 -1.9 -1.5 -2.0 -2.6 1.9z" fill="#4666dd"/>
<path d="M236.4 363.4l2.6 -1.9 -1.5 -1.9 -2.6 2.0z" fill="#455ccf"/>
<path d="M233.8 365.5l2.6 -2.0 -1.6 -1.9 -2.6 2.1z" fill="#434eba"/>
<path d="M223.5 374.0l2.6 -2.2 -1.7 -1.6 -2.6 2.3z" fill="#33184a"/>
<path d="M231.3 367.5l2.6 -2.1 -1.6 -1.8 -2.6 2.2z" fill="#4143a7"/>
<path d="M226.1 371.8l2.6 -2.2 -1.6 -1.6 -2.6 2.2z" fill="#38276d"/>
<path d="M228.7 369.7l2.6 -2.1 -1.6 -1.7 -2.6 2.2z" fill="#3d358b"/>
<path d="M266.2 336.8l2.1 0.8 -1.3 -2.2 -2.2 -0.9z" fill="#18e0bd"/>
<path d="M295.9 353.9l2.5 0.3 -1.3 -2.2 -2.5 -0.3z" fill="#458cfd"/>
<path d="M202.6 305.4l2.4 2.6 -1.5 -3.3 -2.4 -2.7z" fill="#e5d938"/>
<path d="M221.1 330.2l2.4 3.7 -1.5 -2.8 -2.4 -3.8z" fill="#32f298"/>
<path d="M336.5 360.8l2.5 0.3 -1.3 -2.0 -2.5 -0.3z" fill="#4664da"/>
<path d="M177.8 328.5l2.2 -6.4 -1.7 -2.7 -2.2 6.6z" fill="#65fd69"/>
<path d="M293.4 353.6l2.5 0.3 -1.3 -2.2 -2.5 -0.3z" fill="#448ffe"/>
<path d="M264.1 336.0l2.1 0.7 -1.3 -2.3 -2.2 -0.7z" fill="#19e3b9"/>
<path d="M237.1 356.4l2.4 4.3 -1.5 -1.8 -2.4 -4.5z" fill="#4773eb"/>
<path d="M290.8 354.4l2.1 2.2 -1.1 -1.7 -2.1 -2.3z" fill="#4680f6"/>
<path d="M334.0 360.5l2.5 0.3 -1.3 -2.0 -2.5 -0.3z" fill="#4666dd"/>
<path d="M200.1 303.2l2.4 2.2 -1.5 -3.4 -2.4 -2.2z" fill="#eecf3a"/>
<path d="M290.9 353.3l2.5 0.3 -1.3 -2.2 -2.5 -0.3z" fill="#4391fe"/>
<path d="M261.9 335.4l2.1 0.6 -1.3 -2.3 -2.2 -0.6z" fill="#1ae4b6"/>
<path d="M331.6 360.2l2.5 0.3 -1.3 -2.0 -2.5 -0.3z" fill="#4669e0"/>
<path d="M180.0 322.1l2.2 -5.6 -1.7 -2.9 -2.2 5.7z" fill="#9cfe40"/>
<path d="M288.7 352.3l2.1 2.1 -1.1 -1.7 -2.1 -2.1z" fill="#458cfd"/>
<path d="M218.7 326.7l2.4 3.5 -1.5 -2.9 -2.4 -3.6z" fill="#52fa7a"/>
<path d="M288.5 353.0l2.5 0.3 -1.3 -2.2 -2.5 -0.3z" fill="#4294ff"/>
<path d="M259.8 335.0l2.1 0.5 -1.4 -2.3 -2.2 -0.5z" fill="#1de7b2"/>
<path d="M166.5 374.1l2.2 -7.4 -1.8 -1.6 -2.2 7.5z" fill="#392a73"/>
<path d="M329.1 359.9l2.5 0.3 -1.3 -2.0 -2.5 -0.3z" fill="#466be3"/>
<path d="M197.7 301.4l2.4 1.8 -1.5 -3.4 -2.4 -1.8z" fill="#f5c53a"/>
<path d="M234.7 352.2l2.4 4.2 -1.5 -2.0 -2.4 -4.4z" fill="#458cfd"/>
<path d="M286.0 352.7l2.5 0.3 -1.3 -2.3 -2.5 -0.3z" fill="#4196ff"/>
<path d="M257.7 334.6l2.1 0.4 -1.4 -2.4 -2.2 -0.4z" fill="#1fe9af"/>
<path d="M182.2 316.6l2.2 -4.8 -1.6 -3.0 -2.2 4.9z" fill="#bcf534"/>
<path d="M286.6 350.4l2.1 1.9 -1.2 -1.8 -2.1 -2.0z" fill="#4099ff"/>
<path d="M326.6 359.6l2.5 0.3 -1.3 -2.0 -2.5 -0.3z" fill="#476ee6"/>
<path d="M255.5 334.2l2.1 0.3 -1.4 -2.4 -2.2 -0.3z" fill="#20eaac"/>
<path d="M283.6 352.4l2.5 0.3 -1.3 -2.3 -2.5 -0.3z" fill="#4196ff"/>
<path d="M216.2 323.4l2.4 3.3 -1.5 -3.0 -2.4 -3.4z" fill="#71fe5f"/>
<path d="M195.2 300.2l2.4 1.1 -1.5 -3.4 -2.4 -1.1z" fill="#f8be39"/>
<path d="M184.3 311.8l2.2 -4.1 -1.6 -3.2 -2.2 4.2z" fill="#d4e735"/>
<path d="M324.2 359.3l2.5 0.3 -1.3 -2.0 -2.5 -0.3z" fill="#4771e9"/>
<path d="M168.7 366.7l2.2 -7.3 -1.8 -1.7 -2.2 7.4z" fill="#4456c7"/>
<path d="M253.4 334.0l2.1 0.2 -1.4 -2.4 -2.2 -0.2z" fill="#22ebaa"/>
<path d="M284.5 348.6l2.1 1.8 -1.2 -1.8 -2.1 -1.8z" fill="#3aa3fc"/>
<path d="M186.5 307.7l2.2 -3.0 -1.6 -3.2 -2.2 3.1z" fill="#e7d739"/>
<path d="M281.1 352.1l2.5 0.3 -1.3 -2.3 -2.5 -0.3z" fill="#4099ff"/>
<path d="M193.1 300.9l2.2 -0.6 -1.5 -3.4 -2.2 0.7z" fill="#f9bc39"/>
<path d="M188.7 304.7l2.2 -2.4 -1.6 -3.3 -2.2 2.5z" fill="#f1cb3a"/>
<path d="M190.9 302.3l2.2 -1.4 -1.5 -3.3 -2.2 1.5z" fill="#f7c13a"/>
<path d="M232.3 348.2l2.4 4.1 -1.5 -2.2 -2.4 -4.2z" fill="#38a5fb"/>
<path d="M321.7 359.0l2.5 0.3 -1.3 -2.1 -2.5 -0.3z" fill="#4771e9"/>
<path d="M304.5 371.6l2.1 3.1 -1.0 -1.5 -2.1 -3.2z" fill="#341b51"/>
<path d="M251.3 333.9l2.1 0.1 -1.4 -2.4 -2.2 -0.2z" fill="#25eca7"/>
<path d="M278.7 351.8l2.5 0.3 -1.3 -2.3 -2.5 -0.3z" fill="#3e9bfe"/>
<path d="M213.8 320.2l2.4 3.2 -1.5 -3.0 -2.4 -3.3z" fill="#8fff49"/>
<path d="M282.4 347.0l2.1 1.7 -1.2 -1.9 -2.1 -1.7z" fill="#31aff5"/>
<path d="M319.3 358.7l2.5 0.3 -1.3 -2.1 -2.5 -0.3z" fill="#4773eb"/>
<path d="M249.1 333.8l2.1 0.1 -1.4 -2.5 -2.2 -0.1z" fill="#25eca7"/>
<path d="M170.8 359.4l2.2 -7.2 -1.8 -1.8 -2.2 7.3z" fill="#4682f8"/>
<path d="M276.2 351.4l2.5 0.3 -1.3 -2.3 -2.5 -0.3z" fill="#3d9efe"/>
<path d="M359.9 365.3l2.5 0.3 -1.3 -1.9 -2.5 -0.3z" fill="#434eba"/>
<path d="M247.0 333.8l2.1 0.0 -1.5 -2.5 -2.2 -0.0z" fill="#25eca7"/>
<path d="M316.8 358.5l2.5 0.3 -1.3 -2.1 -2.5 -0.3z" fill="#4776ee"/>
<path d="M302.4 368.6l2.1 3.0 -1.0 -1.5 -2.1 -3.0z" fill="#3b2f80"/>
<path d="M280.2 345.4l2.1 1.5 -1.2 -1.9 -2.1 -1.6z" fill="#2cb7f0"/>
<path d="M244.8 333.9l2.1 -0.0 -1.5 -2.5 -2.2 0.0z" fill="#27eea4"/>
<path d="M229.8 344.2l2.4 4.0 -1.5 -2.4 -2.4 -4.1z" fill="#27bee9"/>
<path d="M357.4 365.0l2.5 0.3 -1.3 -1.9 -2.5 -0.3z" fill="#434eba"/>
<path d="M273.7 351.1l2.5 0.3 -1.3 -2.3 -2.5 -0.3z" fill="#3ba0fd"/>
<path d="M314.3 358.2l2.5 0.3 -1.3 -2.1 -2.5 -0.3z" fill="#4778f0"/>
<path d="M211.4 317.1l2.4 3.1 -1.5 -3.1 -2.4 -3.2z" fill="#a4fc3c"/>
<path d="M245.8 370.8l2.4 4.1 -1.4 -1.5 -2.4 -4.1z" fill="#351e58"/>
<path d="M242.7 334.0l2.1 -0.1 -1.5 -2.5 -2.2 0.1z" fill="#25eca7"/>
<path d="M354.9 364.7l2.5 0.3 -1.3 -1.9 -2.5 -0.3z" fill="#4451bf"/>
<path d="M271.3 350.8l2.5 0.3 -1.3 -2.3 -2.5 -0.3z" fill="#3aa3fc"/>
<path d="M278.1 344.1l2.1 1.4 -1.2 -2.0 -2.1 -1.4z" fill="#25c0e7"/>
<path d="M173.0 352.3l2.2 -7.4 -1.8 -2.0 -2.2 7.6z" fill="#33adf7"/>
<path d="M240.6 334.2l2.1 -0.2 -1.5 -2.5 -2.2 0.2z" fill="#25eca7"/>
<path d="M311.9 357.9l2.5 0.3 -1.3 -2.1 -2.5 -0.3z" fill="#477bf2"/>
<path d="M300.3 365.8l2.1 2.8 -1.1 -1.6 -2.1 -2.8z" fill="#4143a7"/>
<path d="M268.7 351.0l2.6 -0.2 -1.3 -2.3 -2.6 0.2z" fill="#3aa3fc"/>
<path d="M352.5 364.5l2.5 0.3 -1.3 -1.9 -2.5 -0.3z" fill="#4454c3"/>
<path d="M238.5 334.5l2.1 -0.3 -1.6 -2.5 -2.2 0.4z" fill="#25eca7"/>
<path d="M193.7 374.9l2.1 -6.9 -2.2 -1.4 -2.2 6.9z" fill="#38276d"/>
<path d="M309.4 357.6l2.5 0.3 -1.3 -2.1 -2.5 -0.3z" fill="#467df4"/>
<path d="M276.0 342.8l2.1 1.3 -1.2 -2.0 -2.1 -1.3z" fill="#20c7df"/>
<path d="M227.4 340.3l2.4 3.9 -1.5 -2.5 -2.4 -4.1z" fill="#1ad4d0"/>
<path d="M236.3 335.0l2.1 -0.5 -1.6 -2.5 -2.2 0.5z" fill="#22ebaa"/>
<path d="M208.9 314.1l2.4 3.0 -1.5 -3.2 -2.4 -3.1z" fill="#b7f735"/>
<path d="M266.2 351.3l2.6 -0.3 -1.3 -2.3 -2.6 0.3z" fill="#3aa3fc"/>
<path d="M350.0 364.2l2.5 0.3 -1.3 -1.9 -2.5 -0.3z" fill="#4456c7"/>
<path d="M234.2 335.6l2.1 -0.6 -1.6 -2.4 -2.2 0.6z" fill="#20eaac"/>
<path d="M243.4 366.7l2.4 4.1 -1.4 -1.6 -2.4 -4.2z" fill="#3f3b97"/>
<path d="M307.0 357.3l2.5 0.3 -1.3 -2.1 -2.5 -0.3z" fill="#467df4"/>
<path d="M298.3 363.2l2.1 2.6 -1.1 -1.6 -2.1 -2.7z" fill="#4454c3"/>
<path d="M263.6 351.8l2.6 -0.5 -1.3 -2.3 -2.6 0.5z" fill="#3ba0fd"/>
<path d="M195.8 367.9l2.1 -3.8 -2.1 -1.4 -2.2 3.8z" fill="#4249b1"/>
<path d="M232.1 336.2l2.1 -0.7 -1.6 -2.4 -2.2 0.7z" fill="#1de7b2"/>
<path d="M175.2 344.9l2.2 -7.2 -1.7 -2.3 -2.2 7.4z" fill="#1ad4d0"/>
<path d="M273.9 341.7l2.1 1.1 -1.3 -2.1 -2.1 -1.2z" fill="#1ccdd8"/>
<path d="M347.6 363.9l2.5 0.3 -1.3 -1.9 -2.5 -0.3z" fill="#4559cb"/>
<path d="M229.9 337.0l2.1 -0.8 -1.7 -2.4 -2.2 0.8z" fill="#1ce6b4"/>
<path d="M261.0 352.5l2.6 -0.7 -1.3 -2.3 -2.6 0.7z" fill="#3d9efe"/>
<path d="M197.9 364.2l2.1 -3.1 -2.1 -1.5 -2.2 3.2z" fill="#455ccf"/>
<path d="M304.5 357.0l2.5 0.3 -1.3 -2.2 -2.5 -0.3z" fill="#4680f6"/>
<path d="M227.8 337.9l2.1 -0.9 -1.7 -2.3 -2.2 0.9z" fill="#19e3b9"/>
<path d="M258.5 353.4l2.6 -0.9 -1.4 -2.3 -2.6 0.9z" fill="#4099ff"/>
<path d="M200.1 361.0l2.1 -2.8 -2.1 -1.5 -2.2 2.8z" fill="#476ee6"/>
<path d="M225.7 339.0l2.1 -1.0 -1.7 -2.3 -2.2 1.1z" fill="#18e0bd"/>
<path d="M206.5 311.3l2.4 2.8 -1.5 -3.2 -2.4 -2.9z" fill="#c8ef34"/>
<path d="M345.1 363.6l2.5 0.3 -1.3 -1.9 -2.5 -0.3z" fill="#4559cb"/>
<path d="M271.8 340.7l2.1 1.0 -1.3 -2.1 -2.1 -1.1z" fill="#1ad4d0"/>
<path d="M225.0 336.6l2.4 3.7 -1.5 -2.7 -2.4 -3.8z" fill="#19e3b9"/>
<path d="M223.5 340.1l2.1 -1.1 -1.8 -2.2 -2.2 1.2z" fill="#18dbc5"/>
<path d="M202.2 358.2l2.1 -2.5 -2.1 -1.6 -2.2 2.6z" fill="#467df4"/>
<path d="M255.9 354.4l2.6 -1.0 -1.4 -2.3 -2.6 1.0z" fill="#4294ff"/>
<path d="M296.2 360.7l2.1 2.5 -1.1 -1.6 -2.1 -2.5z" fill="#4664da"/>
<path d="M221.4 341.3l2.1 -1.2 -1.8 -2.2 -2.2 1.3z" fill="#19d5cd"/>
<path d="M302.0 356.7l2.5 0.3 -1.3 -2.2 -2.5 -0.3z" fill="#4682f8"/>
<path d="M204.3 355.7l2.1 -2.3 -2.0 -1.7 -2.2 2.4z" fill="#458afc"/>
<path d="M219.3 342.7l2.1 -1.4 -1.8 -2.1 -2.2 1.4z" fill="#1bd0d5"/>
<path d="M206.5 353.4l2.1 -2.1 -2.0 -1.7 -2.2 2.2z" fill="#4196ff"/>
<path d="M253.4 355.6l2.6 -1.2 -1.4 -2.2 -2.6 1.2z" fill="#448ffe"/>
<path d="M217.1 344.2l2.1 -1.5 -1.9 -2.1 -2.2 1.5z" fill="#1fc9dd"/>
<path d="M208.6 351.3l2.1 -2.0 -2.0 -1.8 -2.2 2.1z" fill="#3aa3fc"/>
<path d="M215.0 345.8l2.1 -1.6 -1.9 -2.0 -2.2 1.7z" fill="#25c0e7"/>
<path d="M210.7 349.3l2.1 -1.8 -1.9 -1.9 -2.2 1.9z" fill="#31aff5"/>
<path d="M212.9 347.5l2.1 -1.7 -1.9 -1.9 -2.2 1.8z" fill="#2ab9ee"/>
<path d="M241.0 362.6l2.4 4.1 -1.5 -1.7 -2.4 -4.3z" fill="#4454c3"/>
<path d="M177.3 337.7l2.2 -6.7 -1.7 -2.5 -2.2 6.9z" fill="#27eea4"/>
<path d="M342.7 363.3l2.5 0.3 -1.3 -2.0 -2.5 -0.3z" fill="#455ccf"/>
<path d="M250.8 356.9l2.6 -1.3 -1.4 -2.2 -2.6 1.4z" fill="#4687fb"/>
<path d="M269.7 339.8l2.1 0.9 -1.3 -2.2 -2.1 -0.9z" fill="#18d7ca"/>
<path d="M248.2 358.3l2.6 -1.5 -1.4 -2.1 -2.6 1.5z" fill="#4680f6"/>
<path d="M299.6 356.4l2.5 0.3 -1.3 -2.2 -2.5 -0.3z" fill="#4685fa"/>
<path d="M245.7 359.9l2.6 -1.6 -1.5 -2.1 -2.6 1.6z" fill="#4776ee"/>
<path d="M243.1 361.6l2.6 -1.7 -1.5 -2.0 -2.6 1.7z" fill="#476ee6"/>
<path d="M204.1 308.7l2.4 2.6 -1.5 -3.3 -2.4 -2.6z" fill="#d9e436"/>
<path d="M340.2 363.1l2.5 0.3 -1.3 -2.0 -2.5 -0.3z" fill="#455ed3"/>
<path d="M240.6 363.4l2.6 -1.8 -1.5 -2.0 -2.6 1.9z" fill="#4664da"/>
<path d="M294.1 358.3l2.1 2.3 -1.1 -1.7 -2.1 -2.4z" fill="#4771e9"/>
<path d="M238.0 365.3l2.6 -1.9 -1.5 -1.9 -2.6 1.9z" fill="#4559cb"/>
<path d="M235.4 367.2l2.6 -2.0 -1.6 -1.9 -2.6 2.0z" fill="#424bb5"/>
<path d="M232.9 369.3l2.6 -2.0 -1.6 -1.8 -2.6 2.1z" fill="#4040a2"/>
<path d="M230.3 371.3l2.6 -2.1 -1.6 -1.7 -2.6 2.1z" fill="#3c3286"/>
<path d="M227.7 373.4l2.6 -2.1 -1.6 -1.6 -2.6 2.2z" fill="#38276d"/>
<path d="M225.2 375.5l2.6 -2.1 -1.7 -1.6 -2.6 2.2z" fill="#33184a"/>
<path d="M267.5 339.0l2.1 0.8 -1.3 -2.2 -2.1 -0.8z" fill="#18dbc5"/>
<path d="M297.1 356.1l2.5 0.3 -1.3 -2.2 -2.5 -0.3z" fill="#4687fb"/>
<path d="M222.6 333.1l2.4 3.6 -1.5 -2.8 -2.4 -3.7z" fill="#27eea4"/>
<path d="M179.5 331.0l2.2 -6.2 -1.7 -2.7 -2.2 6.4z" fill="#59fb73"/>
<path d="M337.7 362.8l2.5 0.3 -1.3 -2.0 -2.5 -0.3z" fill="#4661d6"/>
<path d="M265.4 338.3l2.1 0.7 -1.3 -2.3 -2.1 -0.7z" fill="#18dec0"/>
<path d="M294.7 355.8l2.5 0.3 -1.3 -2.2 -2.5 -0.3z" fill="#458afc"/>
<path d="M238.6 358.5l2.4 4.1 -1.5 -1.8 -2.4 -4.3z" fill="#476ee6"/>
<path d="M201.6 306.6l2.4 2.2 -1.5 -3.4 -2.4 -2.2z" fill="#e5d938"/>
<path d="M292.0 356.2l2.1 2.2 -1.1 -1.7 -2.1 -2.2z" fill="#4680f6"/>
<path d="M335.3 362.5l2.5 0.3 -1.3 -2.0 -2.5 -0.3z" fill="#4664da"/>
<path d="M292.2 355.5l2.5 0.3 -1.3 -2.2 -2.5 -0.3z" fill="#458afc"/>
<path d="M263.3 337.8l2.1 0.6 -1.3 -2.3 -2.1 -0.6z" fill="#19e2bb"/>
<path d="M181.7 324.9l2.2 -5.4 -1.7 -2.9 -2.2 5.6z" fill="#8fff49"/>
<path d="M220.1 329.7l2.4 3.4 -1.5 -2.9 -2.4 -3.5z" fill="#43f787"/>
<path d="M332.8 362.2l2.5 0.3 -1.3 -2.0 -2.5 -0.3z" fill="#4664da"/>
<path d="M261.2 337.3l2.1 0.5 -1.4 -2.3 -2.1 -0.5z" fill="#19e3b9"/>
<path d="M289.7 355.2l2.5 0.3 -1.3 -2.2 -2.5 -0.3z" fill="#458cfd"/>
<path d="M289.9 354.1l2.1 2.0 -1.1 -1.7 -2.1 -2.1z" fill="#458cfd"/>
<path d="M199.2 304.8l2.4 1.8 -1.5 -3.4 -2.4 -1.8z" fill="#ecd13a"/>
<path d="M168.3 375.6l2.1 -7.3 -1.8 -1.6 -2.2 7.4z" fill="#392a73"/>
<path d="M330.4 361.9l2.5 0.3 -1.3 -2.0 -2.5 -0.3z" fill="#4666dd"/>
<path d="M183.8 319.5l2.2 -4.6 -1.6 -3.0 -2.2 4.8z" fill="#affa37"/>
<path d="M236.2 354.4l2.4 4.0 -1.5 -2.0 -2.4 -4.2z" fill="#4687fb"/>
<path d="M259.1 336.9l2.1 0.4 -1.4 -2.4 -2.1 -0.4z" fill="#1ae4b6"/>
<path d="M287.3 354.9l2.5 0.3 -1.3 -2.3 -2.5 -0.3z" fill="#448ffe"/>
<path d="M327.9 361.7l2.5 0.3 -1.3 -2.0 -2.5 -0.3z" fill="#4669e0"/>
<path d="M196.8 303.6l2.4 1.2 -1.5 -3.4 -2.4 -1.1z" fill="#f2c93a"/>
<path d="M287.8 352.2l2.1 1.9 -1.2 -1.8 -2.1 -1.9z" fill="#4196ff"/>
<path d="M186.0 314.8l2.2 -4.0 -1.6 -3.2 -2.2 4.1z" fill="#cbed34"/>
<path d="M217.7 326.4l2.4 3.2 -1.5 -3.0 -2.4 -3.3z" fill="#5dfc6f"/>
<path d="M256.9 336.7l2.1 0.3 -1.4 -2.4 -2.1 -0.3z" fill="#1ce6b4"/>
<path d="M284.8 354.6l2.5 0.3 -1.3 -2.3 -2.5 -0.3z" fill="#4391fe"/>
<path d="M188.1 310.9l2.2 -3.0 -1.6 -3.2 -2.2 3.0z" fill="#dde037"/>
<path d="M194.6 304.2l2.2 -0.6 -1.5 -3.4 -2.2 0.6z" fill="#f2c93a"/>
<path d="M325.4 361.4l2.5 0.3 -1.3 -2.0 -2.5 -0.3z" fill="#466be3"/>
<path d="M254.8 336.5l2.1 0.2 -1.4 -2.4 -2.1 -0.2z" fill="#1de7b2"/>
<path d="M170.5 368.3l2.1 -7.2 -1.8 -1.7 -2.2 7.3z" fill="#4456c7"/>
<path d="M190.3 307.9l2.2 -2.3 -1.6 -3.3 -2.2 2.4z" fill="#e9d539"/>
<path d="M192.5 305.6l2.2 -1.4 -1.5 -3.3 -2.2 1.4z" fill="#efcd3a"/>
<path d="M282.4 354.4l2.5 0.3 -1.3 -2.3 -2.5 -0.3z" fill="#4294ff"/>
<path d="M285.7 350.5l2.1 1.7 -1.2 -1.8 -2.1 -1.8z" fill="#3ba0fd"/>
<path d="M233.7 350.5l2.4 3.9 -1.5 -2.2 -2.4 -4.1z" fill="#3ba0fd"/>
<path d="M252.7 336.3l2.1 0.1 -1.4 -2.4 -2.1 -0.1z" fill="#1fe9af"/>
<path d="M323.0 361.1l2.5 0.3 -1.3 -2.1 -2.5 -0.3z" fill="#476ee6"/>
<path d="M305.6 373.1l2.1 3.1 -1.0 -1.5 -2.1 -3.1z" fill="#341b51"/>
<path d="M215.3 323.3l2.4 3.1 -1.5 -3.0 -2.4 -3.2z" fill="#7dff56"/>
<path d="M279.9 354.1l2.5 0.3 -1.3 -2.3 -2.5 -0.3z" fill="#4196ff"/>
<path d="M250.6 336.3l2.1 0.1 -1.4 -2.5 -2.1 -0.1z" fill="#1fe9af"/>
<path d="M320.5 360.8l2.5 0.3 -1.3 -2.1 -2.5 -0.3z" fill="#476ee6"/>
<path d="M283.6 348.9l2.1 1.6 -1.2 -1.9 -2.1 -1.7z" fill="#35abf8"/>
<path d="M172.6 361.1l2.1 -7.1 -1.8 -1.8 -2.2 7.2z" fill="#4680f6"/>
<path d="M277.5 353.8l2.5 0.3 -1.3 -2.3 -2.5 -0.3z" fill="#4099ff"/>
<path d="M248.5 336.3l2.1 -0.0 -1.5 -2.5 -2.1 -0.0z" fill="#1fe9af"/>
<path d="M318.1 360.6l2.5 0.3 -1.3 -2.1 -2.5 -0.3z" fill="#4771e9"/>
<path d="M246.3 336.3l2.1 -0.0 -1.5 -2.5 -2.1 0.0z" fill="#1fe9af"/>
<path d="M231.3 346.7l2.4 3.8 -1.5 -2.4 -2.4 -4.0z" fill="#2cb7f0"/>
<path d="M303.5 370.2l2.1 3.0 -1.0 -1.5 -2.1 -3.0z" fill="#3b2f80"/>
<path d="M275.0 353.5l2.5 0.3 -1.3 -2.3 -2.5 -0.3z" fill="#4099ff"/>
<path d="M281.5 347.4l2.1 1.5 -1.2 -1.9 -2.1 -1.5z" fill="#2eb4f2"/>
<path d="M212.9 320.3l2.4 3.0 -1.5 -3.1 -2.4 -3.1z" fill="#96fe44"/>
<path d="M315.6 360.3l2.5 0.3 -1.3 -2.1 -2.5 -0.3z" fill="#4773eb"/>
<path d="M244.2 336.5l2.1 -0.1 -1.5 -2.5 -2.1 0.1z" fill="#1fe9af"/>
<path d="M247.3 372.4l2.4 4.0 -1.4 -1.5 -2.4 -4.1z" fill="#351e58"/>
<path d="M272.5 353.2l2.5 0.3 -1.3 -2.3 -2.5 -0.3z" fill="#3e9bfe"/>
<path d="M242.1 336.7l2.1 -0.2 -1.5 -2.5 -2.1 0.2z" fill="#1fe9af"/>
<path d="M174.8 354.1l2.1 -7.2 -1.8 -2.0 -2.2 7.4z" fill="#37a8fa"/>
<path d="M279.4 346.1l2.1 1.3 -1.2 -2.0 -2.1 -1.4z" fill="#28bceb"/>
<path d="M313.1 360.0l2.5 0.3 -1.3 -2.1 -2.5 -0.3z" fill="#4776ee"/>
<path d="M240.0 337.0l2.1 -0.3 -1.6 -2.5 -2.1 0.3z" fill="#1fe9af"/>
<path d="M301.4 367.4l2.1 2.8 -1.1 -1.6 -2.1 -2.8z" fill="#4040a2"/>
<path d="M270.0 353.3l2.5 -0.2 -1.3 -2.3 -2.6 0.2z" fill="#3d9efe"/>
<path d="M195.9 376.4l2.1 -7.0 -2.2 -1.4 -2.1 6.9z" fill="#38276d"/>
<path d="M210.4 317.4l2.4 2.9 -1.5 -3.2 -2.4 -3.0z" fill="#a9fb39"/>
<path d="M228.9 343.0l2.4 3.7 -1.5 -2.5 -2.4 -3.9z" fill="#1ecbda"/>
<path d="M237.9 337.4l2.1 -0.4 -1.6 -2.5 -2.1 0.5z" fill="#1de7b2"/>
<path d="M310.7 359.7l2.5 0.3 -1.3 -2.1 -2.5 -0.3z" fill="#4778f0"/>
<path d="M277.3 344.9l2.1 1.2 -1.2 -2.0 -2.1 -1.3z" fill="#23c3e4"/>
<path d="M267.5 353.7l2.5 -0.3 -1.3 -2.3 -2.6 0.3z" fill="#3e9bfe"/>
<path d="M235.8 338.0l2.1 -0.5 -1.6 -2.4 -2.1 0.6z" fill="#1ce6b4"/>
<path d="M264.9 354.2l2.5 -0.5 -1.3 -2.3 -2.6 0.5z" fill="#4099ff"/>
<path d="M244.9 368.4l2.4 4.0 -1.4 -1.6 -2.4 -4.1z" fill="#3e3891"/>
<path d="M233.7 338.6l2.1 -0.6 -1.6 -2.4 -2.1 0.7z" fill="#1ae4b6"/>
<path d="M308.2 359.4l2.5 0.3 -1.3 -2.1 -2.5 -0.3z" fill="#4778f0"/>
<path d="M176.9 346.9l2.1 -6.9 -1.7 -2.3 -2.2 7.2z" fill="#1bd0d5"/>
<path d="M198.0 369.4l2.1 -3.8 -2.1 -1.4 -2.1 3.8z" fill="#4249b1"/>
<path d="M299.3 364.8l2.1 2.6 -1.1 -1.6 -2.1 -2.6z" fill="#4454c3"/>
<path d="M275.2 343.8l2.1 1.1 -1.3 -2.1 -2.1 -1.1z" fill="#1fc9dd"/>
<path d="M231.6 339.4l2.1 -0.8 -1.7 -2.4 -2.1 0.8z" fill="#19e2bb"/>
<path d="M262.4 354.8l2.5 -0.7 -1.3 -2.3 -2.6 0.7z" fill="#4196ff"/>
<path d="M229.5 340.2l2.1 -0.9 -1.7 -2.3 -2.1 0.9z" fill="#18dec0"/>
<path d="M208.0 314.6l2.4 2.8 -1.5 -3.2 -2.4 -2.8z" fill="#bcf534"/>
<path d="M200.1 365.6l2.1 -3.1 -2.1 -1.5 -2.1 3.1z" fill="#455ccf"/>
<path d="M305.8 359.2l2.5 0.3 -1.3 -2.2 -2.5 -0.3z" fill="#477bf2"/>
<path d="M227.4 341.2l2.1 -1.0 -1.7 -2.3 -2.1 1.0z" fill="#18dbc5"/>
<path d="M259.9 355.7l2.5 -0.8 -1.4 -2.3 -2.6 0.9z" fill="#4294ff"/>
<path d="M226.5 339.4l2.4 3.6 -1.5 -2.7 -2.4 -3.7z" fill="#18ddc2"/>
<path d="M202.2 362.5l2.1 -2.7 -2.1 -1.5 -2.1 2.8z" fill="#476ee6"/>
<path d="M225.3 342.3l2.1 -1.1 -1.8 -2.2 -2.1 1.1z" fill="#18d7ca"/>
<path d="M273.1 342.8l2.1 1.0 -1.3 -2.1 -2.1 -1.0z" fill="#1bd0d5"/>
<path d="M257.3 356.6l2.5 -1.0 -1.4 -2.3 -2.6 1.0z" fill="#448ffe"/>
<path d="M204.3 359.8l2.1 -2.4 -2.1 -1.6 -2.1 2.5z" fill="#467df4"/>
<path d="M223.2 343.5l2.1 -1.2 -1.8 -2.2 -2.1 1.2z" fill="#1ad2d2"/>
<path d="M221.1 344.8l2.1 -1.3 -1.8 -2.1 -2.1 1.4z" fill="#1ecbda"/>
<path d="M206.4 357.3l2.1 -2.2 -2.0 -1.7 -2.1 2.3z" fill="#458afc"/>
<path d="M303.3 358.9l2.5 0.3 -1.3 -2.2 -2.5 -0.3z" fill="#467df4"/>
<path d="M297.3 362.3l2.1 2.5 -1.1 -1.6 -2.1 -2.5z" fill="#4661d6"/>
<path d="M219.0 346.2l2.1 -1.4 -1.9 -2.1 -2.1 1.5z" fill="#22c5e2"/>
<path d="M208.5 355.1l2.1 -2.1 -2.0 -1.7 -2.1 2.1z" fill="#4196ff"/>
<path d="M254.8 357.8l2.5 -1.1 -1.4 -2.2 -2.6 1.2z" fill="#4687fb"/>
<path d="M179.1 340.0l2.1 -6.5 -1.7 -2.5 -2.2 6.7z" fill="#20eaac"/>
<path d="M216.9 347.7l2.1 -1.5 -1.9 -2.0 -2.1 1.6z" fill="#27bee9"/>
<path d="M210.6 353.0l2.1 -1.9 -2.0 -1.8 -2.1 2.0z" fill="#3ba0fd"/>
<path d="M214.8 349.3l2.1 -1.6 -1.9 -1.9 -2.1 1.7z" fill="#2eb4f2"/>
<path d="M212.7 351.1l2.1 -1.8 -1.9 -1.9 -2.1 1.8z" fill="#35abf8"/>
<path d="M252.2 359.0l2.5 -1.3 -1.4 -2.2 -2.6 1.3z" fill="#4682f8"/>
<path d="M242.5 364.4l2.4 4.0 -1.5 -1.7 -2.4 -4.1z" fill="#4454c3"/>
<path d="M271.0 342.0l2.1 0.8 -1.3 -2.2 -2.1 -0.9z" fill="#1ad4d0"/>
<path d="M205.6 312.1l2.4 2.5 -1.5 -3.3 -2.4 -2.6z" fill="#cbed34"/>
<path d="M249.7 360.4l2.5 -1.4 -1.4 -2.1 -2.6 1.5z" fill="#477bf2"/>
<path d="M300.8 358.6l2.5 0.3 -1.3 -2.2 -2.5 -0.3z" fill="#4680f6"/>
<path d="M247.2 362.0l2.5 -1.5 -1.5 -2.1 -2.6 1.6z" fill="#4773eb"/>
<path d="M244.6 363.6l2.5 -1.6 -1.5 -2.0 -2.6 1.7z" fill="#4669e0"/>
<path d="M242.1 365.3l2.5 -1.7 -1.5 -2.0 -2.6 1.8z" fill="#455ed3"/>
<path d="M239.6 367.1l2.5 -1.8 -1.5 -1.9 -2.6 1.9z" fill="#4456c7"/>
<path d="M224.1 335.9l2.4 3.5 -1.5 -2.8 -2.4 -3.6z" fill="#1fe9af"/>
<path d="M237.0 369.0l2.5 -1.9 -1.6 -1.9 -2.6 2.0z" fill="#4249b1"/>
<path d="M268.9 341.3l2.1 0.7 -1.3 -2.2 -2.1 -0.8z" fill="#18d7ca"/>
<path d="M234.5 371.0l2.5 -1.9 -1.6 -1.8 -2.6 2.0z" fill="#3f3e9c"/>
<path d="M295.2 360.0l2.1 2.3 -1.1 -1.7 -2.1 -2.3z" fill="#4771e9"/>
<path d="M231.9 373.0l2.5 -2.0 -1.6 -1.7 -2.6 2.1z" fill="#3c3286"/>
<path d="M229.4 375.0l2.5 -2.0 -1.6 -1.6 -2.6 2.1z" fill="#372466"/>
<path d="M298.4 358.3l2.5 0.3 -1.3 -2.2 -2.5 -0.3z" fill="#4682f8"/>
<path d="M226.9 377.0l2.5 -2.0 -1.7 -1.6 -2.6 2.1z" fill="#33184a"/>
<path d="M181.2 333.5l2.1 -5.9 -1.7 -2.7 -2.2 6.2z" fill="#4af880"/>
<path d="M203.2 310.0l2.4 2.1 -1.5 -3.4 -2.4 -2.2z" fill="#d9e436"/>
<path d="M266.8 340.6l2.1 0.6 -1.3 -2.3 -2.1 -0.7z" fill="#18dbc5"/>
<path d="M295.9 358.0l2.5 0.3 -1.3 -2.2 -2.5 -0.3z" fill="#4682f8"/>
<path d="M240.0 360.5l2.4 3.9 -1.5 -1.8 -2.4 -4.1z" fill="#466be3"/>
<path d="M293.1 357.9l2.1 2.1 -1.1 -1.7 -2.1 -2.2z" fill="#467df4"/>
<path d="M183.3 327.6l2.1 -5.2 -1.7 -2.9 -2.2 5.4z" fill="#80ff53"/>
<path d="M264.7 340.1l2.1 0.5 -1.3 -2.3 -2.1 -0.6z" fill="#18ddc2"/>
<path d="M293.5 357.8l2.5 0.3 -1.3 -2.2 -2.5 -0.3z" fill="#4685fa"/>
<path d="M221.6 332.6l2.4 3.3 -1.5 -2.9 -2.4 -3.4z" fill="#32f298"/>
<path d="M200.7 308.2l2.4 1.8 -1.5 -3.4 -2.4 -1.8z" fill="#e1dd37"/>
<path d="M262.6 339.7l2.1 0.4 -1.4 -2.3 -2.1 -0.5z" fill="#18e0bd"/>
<path d="M291.0 357.5l2.5 0.3 -1.3 -2.2 -2.5 -0.3z" fill="#4687fb"/>
<path d="M185.5 322.4l2.1 -4.5 -1.6 -3.0 -2.2 4.6z" fill="#a4fc3c"/>
<path d="M291.0 355.9l2.1 2.0 -1.1 -1.7 -2.1 -2.0z" fill="#458afc"/>
<path d="M170.2 377.1l2.1 -7.2 -1.8 -1.6 -2.1 7.3z" fill="#392a73"/>
<path d="M237.6 356.6l2.4 3.8 -1.5 -2.0 -2.4 -4.0z" fill="#4682f8"/>
<path d="M260.5 339.3l2.1 0.3 -1.4 -2.4 -2.1 -0.4z" fill="#19e2bb"/>
<path d="M198.3 307.0l2.4 1.2 -1.5 -3.4 -2.4 -1.2z" fill="#e9d539"/>
<path d="M288.6 357.2l2.5 0.3 -1.3 -2.3 -2.5 -0.3z" fill="#458afc"/>
<path d="M187.6 317.9l2.1 -3.8 -1.6 -3.2 -2.2 4.0z" fill="#bef434"/>
<path d="M219.2 329.4l2.4 3.2 -1.5 -3.0 -2.4 -3.2z" fill="#4ef97d"/>
<path d="M258.4 339.1l2.1 0.3 -1.4 -2.4 -2.1 -0.3z" fill="#19e3b9"/>
<path d="M288.9 354.1l2.1 1.8 -1.2 -1.8 -2.1 -1.9z" fill="#4294ff"/>
<path d="M189.8 314.0l2.1 -2.9 -1.6 -3.2 -2.2 3.0z" fill="#d0ea34"/>
<path d="M196.2 307.5l2.1 -0.6 -1.5 -3.4 -2.2 0.6z" fill="#e9d539"/>
<path d="M286.1 356.9l2.5 0.3 -1.3 -2.3 -2.5 -0.3z" fill="#458cfd"/>
<path d="M191.9 311.1l2.1 -2.2 -1.6 -3.3 -2.2 2.3z" fill="#dde037"/>
<path d="M194.0 308.9l2.1 -1.4 -1.5 -3.3 -2.2 1.4z" fill="#e5d938"/>
<path d="M256.3 338.9l2.1 0.2 -1.4 -2.4 -2.1 -0.2z" fill="#19e3b9"/>
<path d="M172.3 369.9l2.1 -7.1 -1.8 -1.7 -2.1 7.2z" fill="#4456c7"/>
<path d="M283.6 356.6l2.5 0.3 -1.3 -2.3 -2.5 -0.3z" fill="#458cfd"/>
<path d="M235.2 352.9l2.4 3.8 -1.5 -2.2 -2.4 -3.9z" fill="#4099ff"/>
<path d="M286.9 352.4l2.1 1.7 -1.2 -1.8 -2.1 -1.7z" fill="#3d9efe"/>
<path d="M254.2 338.8l2.1 0.1 -1.4 -2.4 -2.1 -0.1z" fill="#1ae4b6"/>
<path d="M216.8 326.4l2.4 3.1 -1.5 -3.0 -2.4 -3.1z" fill="#69fd66"/>
<path d="M281.2 356.4l2.5 0.3 -1.3 -2.3 -2.5 -0.3z" fill="#448ffe"/>
<path d="M252.1 338.8l2.1 0.0 -1.4 -2.5 -2.1 -0.1z" fill="#1ae4b6"/>
<path d="M284.8 350.8l2.1 1.6 -1.2 -1.9 -2.1 -1.6z" fill="#37a8fa"/>
<path d="M249.9 338.8l2.1 -0.0 -1.5 -2.5 -2.1 0.0z" fill="#1ae4b6"/>
<path d="M278.7 356.1l2.5 0.3 -1.3 -2.3 -2.5 -0.3z" fill="#4391fe"/>
<path d="M174.4 362.8l2.1 -7.0 -1.8 -1.8 -2.1 7.1z" fill="#467df4"/>
<path d="M247.8 338.8l2.1 -0.0 -1.5 -2.5 -2.1 0.0z" fill="#1ae4b6"/>
<path d="M214.4 323.4l2.4 3.0 -1.5 -3.1 -2.4 -3.0z" fill="#84ff51"/>
<path d="M232.8 349.2l2.4 3.7 -1.5 -2.4 -2.4 -3.8z" fill="#31aff5"/>
<path d="M276.3 355.8l2.5 0.3 -1.3 -2.3 -2.5 -0.3z" fill="#4294ff"/>
<path d="M282.7 349.4l2.1 1.4 -1.2 -1.9 -2.1 -1.5z" fill="#2fb2f4"/>
<path d="M245.8 338.9l2.1 -0.1 -1.5 -2.5 -2.1 0.1z" fill="#1ae4b6"/>
<path d="M273.8 355.5l2.5 0.3 -1.3 -2.3 -2.5 -0.3z" fill="#4294ff"/>
<path d="M243.7 339.1l2.1 -0.2 -1.5 -2.5 -2.1 0.2z" fill="#1ae4b6"/>
<path d="M248.7 373.9l2.4 3.9 -1.4 -1.5 -2.4 -4.0z" fill="#351e58"/>
<path d="M176.6 355.8l2.1 -6.9 -1.8 -2.0 -2.1 7.2z" fill="#38a5fb"/>
<path d="M280.6 348.1l2.1 1.3 -1.2 -2.0 -2.1 -1.3z" fill="#2ab9ee"/>
<path d="M241.6 339.5l2.1 -0.3 -1.6 -2.5 -2.1 0.3z" fill="#1ae4b6"/>
<path d="M211.9 320.6l2.4 2.8 -1.5 -3.2 -2.4 -2.9z" fill="#9cfe40"/>
<path d="M271.3 355.7l2.5 -0.2 -1.3 -2.3 -2.5 0.2z" fill="#4196ff"/>
<path d="M198.1 377.9l2.1 -7.1 -2.2 -1.4 -2.1 7.0z" fill="#38276d"/>
<path d="M230.4 345.6l2.4 3.6 -1.5 -2.5 -2.4 -3.7z" fill="#22c5e2"/>
<path d="M239.6 339.9l2.1 -0.4 -1.6 -2.5 -2.1 0.4z" fill="#19e3b9"/>
<path d="M268.8 356.0l2.5 -0.3 -1.3 -2.3 -2.5 0.3z" fill="#4294ff"/>
<path d="M278.5 347.0l2.1 1.2 -1.2 -2.0 -2.1 -1.2z" fill="#25c0e7"/>
<path d="M237.5 340.4l2.1 -0.5 -1.6 -2.4 -2.1 0.5z" fill="#19e2bb"/>
<path d="M235.4 341.0l2.1 -0.6 -1.6 -2.4 -2.1 0.6z" fill="#18e0bd"/>
<path d="M266.3 356.5l2.5 -0.5 -1.3 -2.3 -2.5 0.5z" fill="#4294ff"/>
<path d="M178.7 348.9l2.1 -6.7 -1.7 -2.3 -2.1 6.9z" fill="#1ecbda"/>
<path d="M246.3 370.1l2.4 3.9 -1.4 -1.6 -2.4 -4.0z" fill="#3e3891"/>
<path d="M200.2 370.8l2.1 -3.7 -2.1 -1.4 -2.1 3.8z" fill="#4249b1"/>
<path d="M233.3 341.7l2.1 -0.7 -1.7 -2.4 -2.1 0.8z" fill="#18ddc2"/>
<path d="M209.5 317.9l2.4 2.7 -1.5 -3.2 -2.4 -2.8z" fill="#acfb38"/>
<path d="M276.4 345.9l2.1 1.0 -1.3 -2.1 -2.1 -1.1z" fill="#22c5e2"/>
<path d="M263.8 357.1l2.5 -0.6 -1.3 -2.3 -2.5 0.7z" fill="#4391fe"/>
<path d="M231.3 342.5l2.1 -0.8 -1.7 -2.3 -2.1 0.9z" fill="#18dbc5"/>
<path d="M202.2 367.0l2.1 -3.0 -2.1 -1.5 -2.1 3.1z" fill="#455ccf"/>
<path d="M229.2 343.4l2.1 -0.9 -1.7 -2.3 -2.1 1.0z" fill="#18d7ca"/>
<path d="M228.0 342.2l2.4 3.5 -1.5 -2.7 -2.4 -3.6z" fill="#19d5cd"/>
<path d="M261.2 357.9l2.5 -0.8 -1.4 -2.3 -2.5 0.8z" fill="#458cfd"/>
<path d="M227.1 344.5l2.1 -1.0 -1.8 -2.2 -2.1 1.1z" fill="#1ad4d0"/>
<path d="M204.3 364.0l2.1 -2.7 -2.1 -1.5 -2.1 2.7z" fill="#476ee6"/>
<path d="M225.1 345.6l2.1 -1.1 -1.8 -2.2 -2.1 1.2z" fill="#1ccdd8"/>
<path d="M274.4 345.0l2.1 0.9 -1.3 -2.1 -2.1 -1.0z" fill="#1ecbda"/>
<path d="M258.7 358.9l2.5 -0.9 -1.4 -2.3 -2.5 1.0z" fill="#4687fb"/>
<path d="M206.4 361.3l2.1 -2.4 -2.1 -1.6 -2.1 2.4z" fill="#477bf2"/>
<path d="M223.0 346.8l2.1 -1.2 -1.8 -2.1 -2.1 1.3z" fill="#20c7df"/>
<path d="M208.5 358.9l2.1 -2.2 -2.0 -1.7 -2.1 2.2z" fill="#4687fb"/>
<path d="M180.8 342.2l2.1 -6.2 -1.7 -2.5 -2.1 6.5z" fill="#1ce6b4"/>
<path d="M220.9 348.2l2.1 -1.3 -1.9 -2.1 -2.1 1.4z" fill="#23c3e4"/>
<path d="M256.2 360.0l2.5 -1.1 -1.4 -2.2 -2.5 1.1z" fill="#4682f8"/>
<path d="M210.5 356.8l2.1 -2.0 -2.0 -1.7 -2.1 2.1z" fill="#4294ff"/>
<path d="M218.8 349.6l2.1 -1.5 -1.9 -2.0 -2.1 1.5z" fill="#2ab9ee"/>
<path d="M216.8 351.2l2.1 -1.6 -1.9 -1.9 -2.1 1.6z" fill="#2fb2f4"/>
<path d="M212.6 354.8l2.1 -1.8 -2.0 -1.8 -2.1 1.9z" fill="#3d9efe"/>
<path d="M214.7 352.9l2.1 -1.7 -1.9 -1.9 -2.1 1.8z" fill="#37a8fa"/>
<path d="M207.1 315.5l2.4 2.4 -1.5 -3.3 -2.4 -2.5z" fill="#bcf534"/>
<path d="M253.7 361.2l2.5 -1.2 -1.4 -2.2 -2.5 1.3z" fill="#467df4"/>
<path d="M243.9 366.3l2.4 3.8 -1.5 -1.7 -2.4 -4.0z" fill="#4451bf"/>
<path d="M272.3 344.2l2.1 0.8 -1.3 -2.2 -2.1 -0.8z" fill="#1bd0d5"/>
<path d="M251.2 362.5l2.5 -1.4 -1.4 -2.1 -2.5 1.4z" fill="#4776ee"/>
<path d="M248.7 364.0l2.5 -1.5 -1.5 -2.1 -2.5 1.5z" fill="#476ee6"/>
<path d="M225.5 338.8l2.4 3.4 -1.5 -2.8 -2.4 -3.5z" fill="#19e3b9"/>
<path d="M246.1 365.6l2.5 -1.6 -1.5 -2.0 -2.5 1.6z" fill="#4666dd"/>
<path d="M243.6 367.2l2.5 -1.7 -1.5 -2.0 -2.5 1.7z" fill="#455ccf"/>
<path d="M241.1 369.0l2.5 -1.8 -1.5 -1.9 -2.5 1.8z" fill="#4451bf"/>
<path d="M182.9 336.0l2.1 -5.7 -1.7 -2.7 -2.1 5.9z" fill="#3ff68a"/>
<path d="M270.2 343.5l2.1 0.7 -1.3 -2.2 -2.1 -0.7z" fill="#1ad4d0"/>
<path d="M238.6 370.8l2.5 -1.8 -1.6 -1.9 -2.5 1.9z" fill="#4146ac"/>
<path d="M236.1 372.7l2.5 -1.9 -1.6 -1.8 -2.5 1.9z" fill="#3f3b97"/>
<path d="M233.6 374.6l2.5 -1.9 -1.6 -1.7 -2.5 2.0z" fill="#3b2f80"/>
<path d="M231.1 376.6l2.5 -1.9 -1.6 -1.6 -2.5 2.0z" fill="#372466"/>
<path d="M228.5 378.5l2.5 -2.0 -1.7 -1.6 -2.5 2.0z" fill="#33184a"/>
<path d="M204.7 313.4l2.4 2.1 -1.5 -3.4 -2.4 -2.1z" fill="#cbed34"/>
<path d="M268.1 342.9l2.1 0.6 -1.3 -2.3 -2.1 -0.6z" fill="#19d5cd"/>
<path d="M241.5 362.5l2.4 3.7 -1.5 -1.8 -2.4 -3.9z" fill="#4669e0"/>
<path d="M185.0 330.3l2.1 -5.0 -1.7 -2.9 -2.1 5.2z" fill="#6dfe62"/>
<path d="M223.1 335.6l2.4 3.2 -1.5 -2.9 -2.4 -3.3z" fill="#27eea4"/>
<path d="M266.0 342.4l2.1 0.5 -1.3 -2.3 -2.1 -0.5z" fill="#18d9c8"/>
<path d="M202.2 311.6l2.4 1.8 -1.5 -3.4 -2.4 -1.8z" fill="#d4e735"/>
<path d="M187.2 325.3l2.1 -4.4 -1.6 -3.0 -2.1 4.5z" fill="#96fe44"/>
<path d="M263.9 342.0l2.1 0.4 -1.4 -2.3 -2.1 -0.4z" fill="#18dbc5"/>
<path d="M199.8 310.4l2.4 1.2 -1.5 -3.4 -2.4 -1.2z" fill="#dde037"/>
<path d="M172.0 378.6l2.1 -7.1 -1.8 -1.6 -2.1 7.2z" fill="#38276d"/>
<path d="M189.3 320.9l2.1 -3.7 -1.6 -3.2 -2.1 3.8z" fill="#b1f936"/>
<path d="M239.1 358.8l2.4 3.7 -1.5 -2.0 -2.4 -3.8z" fill="#467df4"/>
<path d="M261.9 341.7l2.1 0.3 -1.4 -2.4 -2.1 -0.3z" fill="#18ddc2"/>
<path d="M220.7 332.5l2.4 3.1 -1.5 -3.0 -2.4 -3.2z" fill="#3cf58e"/>
<path d="M197.7 310.9l2.1 -0.5 -1.5 -3.4 -2.1 0.6z" fill="#dfdf37"/>
<path d="M191.4 317.2l2.1 -2.8 -1.6 -3.2 -2.1 2.9z" fill="#c3f134"/>
<path d="M259.8 341.5l2.1 0.2 -1.4 -2.4 -2.1 -0.3z" fill="#18dec0"/>
<path d="M195.6 312.2l2.1 -1.3 -1.5 -3.3 -2.1 1.4z" fill="#dbe236"/>
<path d="M193.5 314.4l2.1 -2.1 -1.6 -3.3 -2.1 2.2z" fill="#d2e935"/>
<path d="M257.7 341.4l2.1 0.2 -1.4 -2.4 -2.1 -0.2z" fill="#18dec0"/>
<path d="M174.1 371.5l2.1 -7.0 -1.8 -1.7 -2.1 7.1z" fill="#4454c3"/>
<path d="M218.3 329.4l2.4 3.0 -1.5 -3.0 -2.4 -3.1z" fill="#55fa76"/>
<path d="M236.7 355.3l2.4 3.6 -1.5 -2.2 -2.4 -3.8z" fill="#4294ff"/>
<path d="M255.6 341.3l2.1 0.1 -1.4 -2.4 -2.1 -0.1z" fill="#18e0bd"/>
<path d="M253.5 341.2l2.1 0.0 -1.4 -2.5 -2.1 -0.0z" fill="#18e0bd"/>
<path d="M251.4 341.3l2.1 -0.0 -1.5 -2.5 -2.1 0.0z" fill="#18e0bd"/>
<path d="M176.2 364.5l2.1 -6.9 -1.8 -1.8 -2.1 7.0z" fill="#467df4"/>
<path d="M215.9 326.6l2.4 2.9 -1.5 -3.1 -2.4 -3.0z" fill="#71fe5f"/>
<path d="M249.3 341.3l2.1 -0.1 -1.5 -2.5 -2.1 0.0z" fill="#18e0bd"/>
<path d="M234.3 351.7l2.4 3.5 -1.5 -2.4 -2.4 -3.7z" fill="#37a8fa"/>
<path d="M247.3 341.4l2.0 -0.1 -1.5 -2.5 -2.1 0.1z" fill="#18e0bd"/>
<path d="M245.3 341.6l2.0 -0.2 -1.5 -2.5 -2.1 0.2z" fill="#18e0bd"/>
<path d="M178.3 357.6l2.1 -6.7 -1.8 -2.0 -2.1 6.9z" fill="#3aa3fc"/>
<path d="M213.4 323.8l2.4 2.7 -1.5 -3.2 -2.4 -2.8z" fill="#88ff4e"/>
<path d="M243.2 341.9l2.0 -0.3 -1.6 -2.5 -2.1 0.3z" fill="#18dec0"/>
<path d="M231.8 348.3l2.4 3.4 -1.5 -2.5 -2.4 -3.6z" fill="#28bceb"/>
<path d="M241.2 342.3l2.0 -0.4 -1.6 -2.5 -2.1 0.4z" fill="#18dec0"/>
<path d="M200.3 379.3l2.1 -7.2 -2.2 -1.4 -2.1 7.1z" fill="#38276d"/>
<path d="M239.1 342.8l2.0 -0.5 -1.6 -2.4 -2.1 0.5z" fill="#18ddc2"/>
<path d="M237.1 343.4l2.0 -0.6 -1.6 -2.4 -2.1 0.6z" fill="#18dbc5"/>
<path d="M211.0 321.2l2.4 2.6 -1.5 -3.2 -2.4 -2.7z" fill="#9ffd3f"/>
<path d="M180.4 350.9l2.1 -6.4 -1.7 -2.3 -2.1 6.7z" fill="#20c7df"/>
<path d="M235.1 344.0l2.0 -0.7 -1.7 -2.4 -2.1 0.7z" fill="#18d7ca"/>
<path d="M202.3 372.2l2.0 -3.7 -2.1 -1.4 -2.1 3.7z" fill="#4249b1"/>
<path d="M233.0 344.8l2.0 -0.8 -1.7 -2.3 -2.1 0.8z" fill="#19d5cd"/>
<path d="M229.4 344.9l2.4 3.4 -1.5 -2.7 -2.4 -3.5z" fill="#1ccdd8"/>
<path d="M231.0 345.7l2.0 -0.9 -1.7 -2.3 -2.1 0.9z" fill="#1ad2d2"/>
<path d="M204.4 368.4l2.0 -3.0 -2.1 -1.5 -2.1 3.0z" fill="#455ed3"/>
<path d="M228.9 346.7l2.0 -1.0 -1.8 -2.2 -2.1 1.0z" fill="#1ccdd8"/>
<path d="M206.4 365.4l2.0 -2.6 -2.1 -1.5 -2.1 2.7z" fill="#476ee6"/>
<path d="M226.9 347.7l2.0 -1.1 -1.8 -2.2 -2.1 1.1z" fill="#1fc9dd"/>
<path d="M224.8 348.9l2.0 -1.2 -1.8 -2.1 -2.1 1.2z" fill="#22c5e2"/>
<path d="M208.5 362.8l2.0 -2.3 -2.1 -1.6 -2.1 2.4z" fill="#477bf2"/>
<path d="M208.6 318.8l2.4 2.4 -1.5 -3.3 -2.4 -2.4z" fill="#affa37"/>
<path d="M182.5 344.5l2.1 -6.0 -1.7 -2.5 -2.1 6.2z" fill="#19e2bb"/>
<path d="M222.8 350.2l2.0 -1.3 -1.9 -2.1 -2.1 1.3z" fill="#27bee9"/>
<path d="M210.5 360.5l2.0 -2.1 -2.0 -1.7 -2.1 2.2z" fill="#4687fb"/>
<path d="M220.7 351.6l2.0 -1.4 -1.9 -2.0 -2.1 1.5z" fill="#2cb7f0"/>
<path d="M212.6 358.4l2.0 -1.9 -2.0 -1.7 -2.1 2.0z" fill="#4391fe"/>
<path d="M218.7 353.1l2.0 -1.5 -1.9 -1.9 -2.1 1.6z" fill="#31aff5"/>
<path d="M214.6 356.5l2.0 -1.8 -2.0 -1.8 -2.1 1.8z" fill="#3e9bfe"/>
<path d="M216.7 354.7l2.0 -1.6 -1.9 -1.9 -2.1 1.7z" fill="#38a5fb"/>
<path d="M227.0 341.7l2.4 3.3 -1.5 -2.8 -2.4 -3.4z" fill="#18ddc2"/>
<path d="M184.6 338.5l2.1 -5.5 -1.7 -2.7 -2.1 5.7z" fill="#32f298"/>
<path d="M206.2 316.7l2.4 2.1 -1.5 -3.4 -2.4 -2.1z" fill="#bcf534"/>
<path d="M186.7 333.0l2.1 -4.9 -1.7 -2.9 -2.1 5.0z" fill="#5dfc6f"/>
<path d="M203.8 314.9l2.4 1.8 -1.5 -3.4 -2.4 -1.8z" fill="#c6f034"/>
<path d="M224.6 338.5l2.4 3.2 -1.5 -2.9 -2.4 -3.2z" fill="#1de7b2"/>
<path d="M188.8 328.2l2.1 -4.2 -1.6 -3.0 -2.1 4.4z" fill="#88ff4e"/>
<path d="M201.3 313.8l2.4 1.2 -1.5 -3.4 -2.4 -1.2z" fill="#d0ea34"/>
<path d="M190.9 323.9l2.1 -3.6 -1.6 -3.2 -2.1 3.7z" fill="#a1fd3d"/>
<path d="M222.2 335.5l2.4 3.1 -1.5 -3.0 -2.4 -3.1z" fill="#2cf09e"/>
<path d="M173.9 380.1l2.1 -7.0 -1.8 -1.6 -2.1 7.1z" fill="#38276d"/>
<path d="M199.3 314.2l2.1 -0.5 -1.5 -3.4 -2.1 0.5z" fill="#d2e935"/>
<path d="M193.0 320.4l2.1 -2.8 -1.6 -3.2 -2.1 2.8z" fill="#b7f735"/>
<path d="M197.2 315.5l2.1 -1.3 -1.5 -3.3 -2.1 1.3z" fill="#cdec34"/>
<path d="M195.1 317.6l2.1 -2.1 -1.6 -3.3 -2.1 2.1z" fill="#c3f134"/>
<path d="M219.8 332.5l2.4 2.9 -1.5 -3.0 -2.4 -3.0z" fill="#43f787"/>
<path d="M176.0 373.1l2.1 -6.9 -1.8 -1.7 -2.1 7.0z" fill="#4454c3"/>
<path d="M217.4 329.7l2.4 2.8 -1.5 -3.1 -2.4 -2.9z" fill="#5dfc6f"/>
<path d="M178.0 366.2l2.1 -6.8 -1.8 -1.8 -2.1 6.9z" fill="#477bf2"/>
<path d="M214.9 327.0l2.4 2.7 -1.5 -3.2 -2.4 -2.7z" fill="#75fe5c"/>
<path d="M180.1 359.4l2.1 -6.5 -1.8 -2.0 -2.1 6.7z" fill="#3ba0fd"/>
<path d="M212.5 324.5l2.4 2.5 -1.5 -3.2 -2.4 -2.6z" fill="#8bff4b"/>
<path d="M182.2 352.9l2.1 -6.2 -1.7 -2.3 -2.1 6.4z" fill="#23c3e4"/>
<path d="M210.1 322.2l2.4 2.3 -1.5 -3.3 -2.4 -2.4z" fill="#9ffd3f"/>
<path d="M184.3 346.7l2.1 -5.7 -1.7 -2.5 -2.1 6.0z" fill="#18ddc2"/>
<path d="M207.7 320.1l2.4 2.1 -1.5 -3.4 -2.4 -2.1z" fill="#acfb38"/>
<path d="M186.3 341.0l2.1 -5.3 -1.7 -2.7 -2.1 5.5z" fill="#2aefa1"/>
<path d="M188.4 335.8l2.1 -4.7 -1.7 -2.9 -2.1 4.9z" fill="#4ef97d"/>
<path d="M205.3 318.3l2.4 1.8 -1.5 -3.4 -2.4 -1.8z" fill="#b7f735"/>
<path d="M190.5 331.1l2.1 -4.1 -1.6 -3.0 -2.1 4.2z" fill="#75fe5c"/>
<path d="M202.9 317.1l2.4 1.2 -1.5 -3.4 -2.4 -1.2z" fill="#c1f334"/>
<path d="M192.6 327.0l2.1 -3.4 -1.6 -3.2 -2.1 3.6z" fill="#92ff47"/>
<path d="M200.8 317.6l2.1 -0.4 -1.5 -3.4 -2.1 0.5z" fill="#c3f134"/>
<path d="M194.6 323.5l2.1 -2.7 -1.6 -3.2 -2.1 2.8z" fill="#a7fc3a"/>
<path d="M198.7 318.8l2.1 -1.2 -1.5 -3.3 -2.1 1.3z" fill="#bef434"/>
<path d="M196.7 320.8l2.1 -2.0 -1.6 -3.3 -2.1 2.1z" fill="#b4f836"/>
</g>
<defs><linearGradient id="cb" x1="0" y1="1" x2="0" y2="0">
<stop offset="0.00" stop-color="#30123b"/>
<stop offset="0.05" stop-color="#3d358b"/>
<stop offset="0.10" stop-color="#4559cb"/>
<stop offset="0.15" stop-color="#477bf2"/>
<stop offset="0.20" stop-color="#3e9bfe"/>
<stop offset="0.25" stop-color="#28bceb"/>
<stop offset="0.30" stop-color="#19d5cd"/>
<stop offset="0.35" stop-color="#20eaac"/>
<stop offset="0.40" stop-color="#46f884"/>
<stop offset="0.45" stop-color="#79fe59"/>
<stop offset="0.50" stop-color="#a4fc3c"/>
<stop offset="0.55" stop-color="#c3f134"/>
<stop offset="0.60" stop-color="#e1dd37"/>
<stop offset="0.65" stop-color="#f6c33a"/>
<stop offset="0.70" stop-color="#fea431"/>
<stop offset="0.75" stop-color="#fb7e21"/>
<stop offset="0.80" stop-color="#f05b12"/>
<stop offset="0.85" stop-color="#dd3d08"/>
<stop offset="0.90" stop-color="#c32503"/>
<stop offset="0.95" stop-color="#a11201"/>
<stop offset="1.00" stop-color="#7a0403"/>
</linearGradient></defs>
<rect x="372.7" y="168.9" width="8.5" height="201.7" fill="url(#cb)" stroke="#333" stroke-width="0.3"/>
<line x1="380" y1="371.1" x2="381.2" y2="371.1" stroke="#333" stroke-width="0.3"/>
<text x="383.3" y="372.6" font-size="4.3" fill="#444" font-family="Liberation Sans, sans-serif">0</text>
<line x1="380" y1="349.0" x2="381.2" y2="349.0" stroke="#333" stroke-width="0.3"/>
<text x="383.3" y="350.5" font-size="4.3" fill="#444" font-family="Liberation Sans, sans-serif">10</text>
<line x1="380" y1="326.9" x2="381.2" y2="326.9" stroke="#333" stroke-width="0.3"/>
<text x="383.3" y="328.4" font-size="4.3" fill="#444" font-family="Liberation Sans, sans-serif">20</text>
<line x1="380" y1="304.8" x2="381.2" y2="304.8" stroke="#333" stroke-width="0.3"/>
<text x="383.3" y="306.3" font-size="4.3" fill="#444" font-family="Liberation Sans, sans-serif">30</text>
<line x1="380" y1="282.7" x2="381.2" y2="282.7" stroke="#333" stroke-width="0.3"/>
<text x="383.3" y="284.2" font-size="4.3" fill="#444" font-family="Liberation Sans, sans-serif">40</text>
<line x1="380" y1="260.6" x2="381.2" y2="260.6" stroke="#333" stroke-width="0.3"/>
<text x="383.3" y="262.1" font-size="4.3" fill="#444" font-family="Liberation Sans, sans-serif">50</text>
<line x1="380" y1="238.5" x2="381.2" y2="238.5" stroke="#333" stroke-width="0.3"/>
<text x="383.3" y="240.0" font-size="4.3" fill="#444" font-family="Liberation Sans, sans-serif">60</text>
<line x1="380" y1="216.4" x2="381.2" y2="216.4" stroke="#333" stroke-width="0.3"/>
<text x="383.3" y="217.9" font-size="4.3" fill="#444" font-family="Liberation Sans, sans-serif">70</text>
<line x1="380" y1="194.3" x2="381.2" y2="194.3" stroke="#333" stroke-width="0.3"/>
<text x="383.3" y="195.8" font-size="4.3" fill="#444" font-family="Liberation Sans, sans-serif">80</text>
<line x1="380" y1="172.2" x2="381.2" y2="172.2" stroke="#333" stroke-width="0.3"/>
<text x="383.3" y="173.7" font-size="4.3" fill="#444" font-family="Liberation Sans, sans-serif">90</text>
<text x="0" y="0" transform="translate(250.6,404.9) rotate(-1)" font-size="12.2" text-anchor="middle" font-family="Liberation Sans, sans-serif" textLength="125" lengthAdjust="spacingAndGlyphs">Melting temperature (°C)</text>
<text x="0" y="0" transform="translate(20.6,251.8) rotate(-90)" font-size="11.5" text-anchor="middle" font-family="Liberation Sans, sans-serif" textLength="89" lengthAdjust="spacingAndGlyphs">Improvement (%)</text>
<text x="0" y="0" transform="translate(35.4,362.7) rotate(235)" font-size="11.6" text-anchor="middle" font-family="Liberation Sans, sans-serif" textLength="102" lengthAdjust="spacingAndGlyphs">PCM expansion (%)</text>
<text x="105.9" y="155.8" font-size="11" text-anchor="middle" font-family="Liberation Sans, sans-serif" textLength="83.5" lengthAdjust="spacingAndGlyphs">Depth = 3000 m</text>
<line x1="133.2" y1="225.4" x2="133.2" y2="167" stroke="#111" stroke-width="1.5"/>
<path d="M130.6 168.5L133.2 162L135.79999999999998 168.5Z" fill="#111"/>
<text x="203.1" y="155.8" font-size="11" text-anchor="middle" font-family="Liberation Sans, sans-serif" textLength="83.5" lengthAdjust="spacingAndGlyphs">Depth = 5000 m</text>
<line x1="196" y1="257" x2="196" y2="167" stroke="#111" stroke-width="1.5"/>
<path d="M193.4 168.5L196 162L198.6 168.5Z" fill="#111"/>
<text x="304.1" y="157.8" font-size="11" text-anchor="middle" font-family="Liberation Sans, sans-serif" textLength="83.5" lengthAdjust="spacingAndGlyphs">Depth = 7000 m</text>
<line x1="270.9" y1="288.8" x2="270.9" y2="167" stroke="#111" stroke-width="1.5"/>
<path d="M268.29999999999995 168.5L270.9 162L273.5 168.5Z" fill="#111"/>
<rect x="462.6" y="3.4" width="215.1" height="173.3" fill="none" stroke="#4a4a4a" stroke-width="1.1"/>
<line x1="459.4" y1="176.7" x2="462.6" y2="176.7" stroke="#4a4a4a" stroke-width="0.9"/>
<text x="457.2" y="179.6" font-size="8.2" fill="#262626" text-anchor="end" textLength="7.6" lengthAdjust="spacingAndGlyphs" font-family="Liberation Sans, sans-serif">60</text>
<line x1="460.8" y1="162.3" x2="462.6" y2="162.3" stroke="#4a4a4a" stroke-width="0.9"/>
<line x1="459.4" y1="147.8" x2="462.6" y2="147.8" stroke="#4a4a4a" stroke-width="0.9"/>
<text x="457.2" y="150.7" font-size="8.2" fill="#262626" text-anchor="end" textLength="7.6" lengthAdjust="spacingAndGlyphs" font-family="Liberation Sans, sans-serif">80</text>
<line x1="460.8" y1="133.4" x2="462.6" y2="133.4" stroke="#4a4a4a" stroke-width="0.9"/>
<line x1="459.4" y1="118.9" x2="462.6" y2="118.9" stroke="#4a4a4a" stroke-width="0.9"/>
<text x="457.2" y="121.8" font-size="8.2" fill="#262626" text-anchor="end" textLength="11.3" lengthAdjust="spacingAndGlyphs" font-family="Liberation Sans, sans-serif">100</text>
<line x1="460.8" y1="104.5" x2="462.6" y2="104.5" stroke="#4a4a4a" stroke-width="0.9"/>
<line x1="459.4" y1="90.0" x2="462.6" y2="90.0" stroke="#4a4a4a" stroke-width="0.9"/>
<text x="457.2" y="92.9" font-size="8.2" fill="#262626" text-anchor="end" textLength="11.3" lengthAdjust="spacingAndGlyphs" font-family="Liberation Sans, sans-serif">120</text>
<line x1="460.8" y1="75.6" x2="462.6" y2="75.6" stroke="#4a4a4a" stroke-width="0.9"/>
<line x1="459.4" y1="61.2" x2="462.6" y2="61.2" stroke="#4a4a4a" stroke-width="0.9"/>
<text x="457.2" y="64.1" font-size="8.2" fill="#262626" text-anchor="end" textLength="11.3" lengthAdjust="spacingAndGlyphs" font-family="Liberation Sans, sans-serif">140</text>
<line x1="460.8" y1="46.7" x2="462.6" y2="46.7" stroke="#4a4a4a" stroke-width="0.9"/>
<line x1="459.4" y1="32.3" x2="462.6" y2="32.3" stroke="#4a4a4a" stroke-width="0.9"/>
<text x="457.2" y="35.2" font-size="8.2" fill="#262626" text-anchor="end" textLength="11.3" lengthAdjust="spacingAndGlyphs" font-family="Liberation Sans, sans-serif">160</text>
<line x1="460.8" y1="17.8" x2="462.6" y2="17.8" stroke="#4a4a4a" stroke-width="0.9"/>
<line x1="459.4" y1="3.4" x2="462.6" y2="3.4" stroke="#4a4a4a" stroke-width="0.9"/>
<text x="457.2" y="6.3" font-size="8.2" fill="#262626" text-anchor="end" textLength="11.3" lengthAdjust="spacingAndGlyphs" font-family="Liberation Sans, sans-serif">180</text>
<line x1="462.6" y1="176.7" x2="462.6" y2="178.5" stroke="#4a4a4a" stroke-width="0.9"/>
<line x1="484.1" y1="176.7" x2="484.1" y2="179.9" stroke="#4a4a4a" stroke-width="0.9"/>
<text x="484.1" y="188.9" font-size="8.2" fill="#262626" text-anchor="middle" textLength="7.6" lengthAdjust="spacingAndGlyphs" font-family="Liberation Sans, sans-serif">40</text>
<line x1="505.6" y1="176.7" x2="505.6" y2="178.5" stroke="#4a4a4a" stroke-width="0.9"/>
<line x1="527.1" y1="176.7" x2="527.1" y2="179.9" stroke="#4a4a4a" stroke-width="0.9"/>
<text x="527.1" y="188.9" font-size="8.2" fill="#262626" text-anchor="middle" textLength="7.6" lengthAdjust="spacingAndGlyphs" font-family="Liberation Sans, sans-serif">60</text>
<line x1="548.6" y1="176.7" x2="548.6" y2="178.5" stroke="#4a4a4a" stroke-width="0.9"/>
<line x1="570.1" y1="176.7" x2="570.1" y2="179.9" stroke="#4a4a4a" stroke-width="0.9"/>
<text x="570.1" y="188.9" font-size="8.2" fill="#262626" text-anchor="middle" textLength="7.6" lengthAdjust="spacingAndGlyphs" font-family="Liberation Sans, sans-serif">80</text>
<line x1="591.7" y1="176.7" x2="591.7" y2="178.5" stroke="#4a4a4a" stroke-width="0.9"/>
<line x1="613.2" y1="176.7" x2="613.2" y2="179.9" stroke="#4a4a4a" stroke-width="0.9"/>
<text x="613.2" y="188.9" font-size="8.2" fill="#262626" text-anchor="middle" textLength="11.3" lengthAdjust="spacingAndGlyphs" font-family="Liberation Sans, sans-serif">100</text>
<line x1="634.7" y1="176.7" x2="634.7" y2="178.5" stroke="#4a4a4a" stroke-width="0.9"/>
<line x1="656.2" y1="176.7" x2="656.2" y2="179.9" stroke="#4a4a4a" stroke-width="0.9"/>
<text x="656.2" y="188.9" font-size="8.2" fill="#262626" text-anchor="middle" textLength="11.3" lengthAdjust="spacingAndGlyphs" font-family="Liberation Sans, sans-serif">120</text>
<line x1="677.7" y1="176.7" x2="677.7" y2="178.5" stroke="#4a4a4a" stroke-width="0.9"/>
<text x="570.5" y="202.8" font-size="9" fill="#222" text-anchor="middle" textLength="87" lengthAdjust="spacingAndGlyphs" font-family="Liberation Sans, sans-serif">Inlet temperature (°C)</text>
<text x="0" y="0" transform="translate(440.6,89.8) rotate(-90)" font-size="9" text-anchor="middle" fill="#222" textLength="58.7" lengthAdjust="spacingAndGlyphs" font-family="Liberation Sans, sans-serif">Flowrate (kg/s)</text>
<path d="M484.1 94.2C485.9 93.1 491.3 89.5 494.9 87.2C498.4 84.8 502.0 82.7 505.6 80.2C509.2 77.7 512.8 74.7 516.4 72.1C520.0 69.5 523.5 67.3 527.1 64.6C530.7 61.9 534.3 58.7 537.9 56.0C541.5 53.3 544.9 51.0 548.6 48.5C552.3 45.9 558.1 42.0 560.0 40.7" fill="none" stroke="#2a2aff" stroke-width="1.3"/>
<path d="M560.0 40.7L562.2 42.4L580.3 138.9L582.2 140.3L591.7 142.9L613.2 147.8L623.9 150.1L634.7 153.3L645.4 158.5L656.2 162.3" fill="none" stroke="#2a2aff" stroke-width="1.3" stroke-linejoin="round"/>
<path d="M484.1 131.6C486.5 130.8 494.1 128.4 498.7 126.4C503.4 124.4 507.3 122.5 512.1 119.7C516.9 116.8 522.5 112.7 527.6 109.3C532.6 105.8 537.4 102.6 542.2 98.7C547.0 94.9 552.1 89.5 556.4 86.1C560.7 82.8 564.2 81.2 568.0 78.8C571.8 76.4 575.5 74.3 579.4 71.7C583.3 69.1 587.7 66.1 591.7 63.3C595.6 60.6 601.2 56.5 603.1 55.1L604.6 56.8L622.2 150.4L626.1 151.3L634.7 153.3L645.4 158.5L656.2 162.3" fill="none" stroke="#ff2020" stroke-width="1.3" stroke-dasharray="6.5 4.5" stroke-linejoin="round"/>
<rect x="469.3" y="11.2" width="73.5" height="30" fill="#fff" stroke="#b0b0b0" stroke-width="0.8"/>
<line x1="469.6" y1="18.9" x2="491" y2="18.9" stroke="#2a2aff" stroke-width="1.4"/>
<line x1="469.6" y1="33.3" x2="491" y2="33.3" stroke="#ff2020" stroke-width="1.4" stroke-dasharray="7.2 6.2"/>
<text x="493.1" y="21.7" font-size="8.8" fill="#222" font-family="Liberation Sans, sans-serif">T</text>
<text x="499.7" y="24.2" font-size="5.6" fill="#222" font-family="Liberation Sans, sans-serif">m</text>
<text x="506.2" y="21.7" font-size="8.8" fill="#222" textLength="30.4" lengthAdjust="spacingAndGlyphs" font-family="Liberation Sans, sans-serif">= 80 °C</text>
<text x="493.1" y="35.8" font-size="8.8" fill="#222" font-family="Liberation Sans, sans-serif">T</text>
<text x="499.7" y="38.3" font-size="5.6" fill="#222" font-family="Liberation Sans, sans-serif">m</text>
<text x="506.2" y="35.8" font-size="8.8" fill="#222" textLength="35.1" lengthAdjust="spacingAndGlyphs" font-family="Liberation Sans, sans-serif">= 100 °C</text>
<rect x="550.6" y="8.5" width="59.9" height="29.2" fill="#fff" stroke="#d8d8d8" stroke-width="0.7"/>
<text x="580.5" y="15.9" font-size="7.6" fill="#222" text-anchor="middle" textLength="58.8" lengthAdjust="spacingAndGlyphs" font-family="Liberation Sans, sans-serif">Max hydro-turbine</text>
<text x="580.5" y="25.0" font-size="7" fill="#444" text-anchor="middle" font-family="Liberation Sans, sans-serif">≈</text>
<text x="578.9" y="34.4" font-size="7.6" fill="#222" text-anchor="middle" textLength="27.5" lengthAdjust="spacingAndGlyphs" font-family="Liberation Sans, sans-serif">Max MW</text>
<text x="593.9" y="36.3" font-size="4.8" fill="#222" font-family="Liberation Sans, sans-serif">e</text>
<rect x="614.1" y="8.5" width="61.4" height="29.2" fill="#fff" stroke="#d8d8d8" stroke-width="0.7"/>
<text x="644.8" y="15.9" font-size="7.6" fill="#222" text-anchor="middle" textLength="59.5" lengthAdjust="spacingAndGlyphs" font-family="Liberation Sans, sans-serif">Max thermosiphon</text>
<text x="644.8" y="25.0" font-size="7" fill="#444" text-anchor="middle" font-family="Liberation Sans, sans-serif">≈</text>
<text x="642.2" y="34.4" font-size="7.6" fill="#222" text-anchor="middle" textLength="27.5" lengthAdjust="spacingAndGlyphs" font-family="Liberation Sans, sans-serif">Max MW</text>
<text x="656.4" y="36.3" font-size="4.8" fill="#222" font-family="Liberation Sans, sans-serif">th</text>
<line x1="580.2" y1="71" x2="580.2" y2="42" stroke="#111" stroke-width="0.7"/>
<path d="M578.6 43.4L580.2 38.2L581.8 43.4Z" fill="#111"/>
<line x1="603.2" y1="55.5" x2="612.6" y2="41.6" stroke="#111" stroke-width="0.7"/>
<path d="M611.0 41.0L615.0 38.2L613.7 42.8Z" fill="#111"/>
<rect x="463.1" y="214.6" width="215.9" height="173.0" fill="none" stroke="#4a4a4a" stroke-width="1.1"/>
<line x1="459.9" y1="387.6" x2="463.1" y2="387.6" stroke="#4a4a4a" stroke-width="0.9"/>
<text x="457.8" y="390.5" font-size="8.2" fill="#262626" text-anchor="end" textLength="10.8" lengthAdjust="spacingAndGlyphs" font-family="Liberation Sans, sans-serif">0.0</text>
<line x1="461.3" y1="376.8" x2="463.1" y2="376.8" stroke="#4a4a4a" stroke-width="0.9"/>
<line x1="459.9" y1="366.0" x2="463.1" y2="366.0" stroke="#4a4a4a" stroke-width="0.9"/>
<text x="457.8" y="368.9" font-size="8.2" fill="#262626" text-anchor="end" textLength="10.8" lengthAdjust="spacingAndGlyphs" font-family="Liberation Sans, sans-serif">0.5</text>
<line x1="461.3" y1="355.2" x2="463.1" y2="355.2" stroke="#4a4a4a" stroke-width="0.9"/>
<line x1="459.9" y1="344.4" x2="463.1" y2="344.4" stroke="#4a4a4a" stroke-width="0.9"/>
<text x="457.8" y="347.2" font-size="8.2" fill="#262626" text-anchor="end" textLength="10.8" lengthAdjust="spacingAndGlyphs" font-family="Liberation Sans, sans-serif">1.0</text>
<line x1="461.3" y1="333.5" x2="463.1" y2="333.5" stroke="#4a4a4a" stroke-width="0.9"/>
<line x1="459.9" y1="322.7" x2="463.1" y2="322.7" stroke="#4a4a4a" stroke-width="0.9"/>
<text x="457.8" y="325.6" font-size="8.2" fill="#262626" text-anchor="end" textLength="10.8" lengthAdjust="spacingAndGlyphs" font-family="Liberation Sans, sans-serif">1.5</text>
<line x1="461.3" y1="311.9" x2="463.1" y2="311.9" stroke="#4a4a4a" stroke-width="0.9"/>
<line x1="459.9" y1="301.1" x2="463.1" y2="301.1" stroke="#4a4a4a" stroke-width="0.9"/>
<text x="457.8" y="304.0" font-size="8.2" fill="#262626" text-anchor="end" textLength="10.8" lengthAdjust="spacingAndGlyphs" font-family="Liberation Sans, sans-serif">2.0</text>
<line x1="461.3" y1="290.3" x2="463.1" y2="290.3" stroke="#4a4a4a" stroke-width="0.9"/>
<line x1="459.9" y1="279.5" x2="463.1" y2="279.5" stroke="#4a4a4a" stroke-width="0.9"/>
<text x="457.8" y="282.4" font-size="8.2" fill="#262626" text-anchor="end" textLength="10.8" lengthAdjust="spacingAndGlyphs" font-family="Liberation Sans, sans-serif">2.5</text>
<line x1="461.3" y1="268.7" x2="463.1" y2="268.7" stroke="#4a4a4a" stroke-width="0.9"/>
<line x1="459.9" y1="257.9" x2="463.1" y2="257.9" stroke="#4a4a4a" stroke-width="0.9"/>
<text x="457.8" y="260.8" font-size="8.2" fill="#262626" text-anchor="end" textLength="10.8" lengthAdjust="spacingAndGlyphs" font-family="Liberation Sans, sans-serif">3.0</text>
<line x1="461.3" y1="247.0" x2="463.1" y2="247.0" stroke="#4a4a4a" stroke-width="0.9"/>
<line x1="459.9" y1="236.2" x2="463.1" y2="236.2" stroke="#4a4a4a" stroke-width="0.9"/>
<text x="457.8" y="239.1" font-size="8.2" fill="#262626" text-anchor="end" textLength="10.8" lengthAdjust="spacingAndGlyphs" font-family="Liberation Sans, sans-serif">3.5</text>
<line x1="461.3" y1="225.4" x2="463.1" y2="225.4" stroke="#4a4a4a" stroke-width="0.9"/>
<line x1="459.9" y1="214.6" x2="463.1" y2="214.6" stroke="#4a4a4a" stroke-width="0.9"/>
<text x="457.8" y="217.5" font-size="8.2" fill="#262626" text-anchor="end" textLength="10.8" lengthAdjust="spacingAndGlyphs" font-family="Liberation Sans, sans-serif">4.0</text>
<line x1="463.1" y1="387.6" x2="463.1" y2="390.8" stroke="#4a4a4a" stroke-width="0.9"/>
<text x="463.1" y="399.8" font-size="8.2" fill="#262626" text-anchor="middle" textLength="7.6" lengthAdjust="spacingAndGlyphs" font-family="Liberation Sans, sans-serif">20</text>
<line x1="481.1" y1="387.6" x2="481.1" y2="389.4" stroke="#4a4a4a" stroke-width="0.9"/>
<line x1="499.1" y1="387.6" x2="499.1" y2="390.8" stroke="#4a4a4a" stroke-width="0.9"/>
<text x="499.1" y="399.8" font-size="8.2" fill="#262626" text-anchor="middle" textLength="7.6" lengthAdjust="spacingAndGlyphs" font-family="Liberation Sans, sans-serif">40</text>
<line x1="517.1" y1="387.6" x2="517.1" y2="389.4" stroke="#4a4a4a" stroke-width="0.9"/>
<line x1="535.1" y1="387.6" x2="535.1" y2="390.8" stroke="#4a4a4a" stroke-width="0.9"/>
<text x="535.1" y="399.8" font-size="8.2" fill="#262626" text-anchor="middle" textLength="7.6" lengthAdjust="spacingAndGlyphs" font-family="Liberation Sans, sans-serif">60</text>
<line x1="553.1" y1="387.6" x2="553.1" y2="389.4" stroke="#4a4a4a" stroke-width="0.9"/>
<line x1="571.1" y1="387.6" x2="571.1" y2="390.8" stroke="#4a4a4a" stroke-width="0.9"/>
<text x="571.1" y="399.8" font-size="8.2" fill="#262626" text-anchor="middle" textLength="7.6" lengthAdjust="spacingAndGlyphs" font-family="Liberation Sans, sans-serif">80</text>
<line x1="589.0" y1="387.6" x2="589.0" y2="389.4" stroke="#4a4a4a" stroke-width="0.9"/>
<line x1="607.0" y1="387.6" x2="607.0" y2="390.8" stroke="#4a4a4a" stroke-width="0.9"/>
<text x="607.0" y="399.8" font-size="8.2" fill="#262626" text-anchor="middle" textLength="11.3" lengthAdjust="spacingAndGlyphs" font-family="Liberation Sans, sans-serif">100</text>
<line x1="625.0" y1="387.6" x2="625.0" y2="389.4" stroke="#4a4a4a" stroke-width="0.9"/>
<line x1="643.0" y1="387.6" x2="643.0" y2="390.8" stroke="#4a4a4a" stroke-width="0.9"/>
<text x="643.0" y="399.8" font-size="8.2" fill="#262626" text-anchor="middle" textLength="11.3" lengthAdjust="spacingAndGlyphs" font-family="Liberation Sans, sans-serif">120</text>
<line x1="661.0" y1="387.6" x2="661.0" y2="389.4" stroke="#4a4a4a" stroke-width="0.9"/>
<line x1="679.0" y1="387.6" x2="679.0" y2="390.8" stroke="#4a4a4a" stroke-width="0.9"/>
<text x="679.0" y="399.8" font-size="8.2" fill="#262626" text-anchor="middle" textLength="11.3" lengthAdjust="spacingAndGlyphs" font-family="Liberation Sans, sans-serif">140</text>
<text x="570.9" y="414.6" font-size="9" fill="#222" text-anchor="middle" textLength="86.6" lengthAdjust="spacingAndGlyphs" font-family="Liberation Sans, sans-serif">Inlet temperature (°C)</text>
<text x="0" y="0" transform="translate(438.8,310.8) rotate(-90)" font-size="8.4" fill="#222" textLength="13.8" lengthAdjust="spacingAndGlyphs" font-family="Liberation Sans, sans-serif">MW</text>
<text x="0" y="0" transform="translate(442.2,296.6) rotate(-90)" font-size="5.2" fill="#222" font-family="Liberation Sans, sans-serif">e</text>
<path d="M499.1 375.5C499.7 373.3 501.1 369.4 503.0 362.5C505.0 355.6 508.1 342.5 511.0 334.0C513.8 325.4 517.1 317.5 520.1 311.0C523.2 304.6 525.7 300.7 529.1 295.0C532.5 289.4 536.2 282.6 540.6 276.9C545.1 271.2 550.8 264.8 555.6 260.9C560.3 257.0 564.7 255.4 569.1 253.5C573.5 251.7 577.9 250.3 581.8 249.8C585.8 249.4 588.4 249.8 592.6 250.9C596.8 252.0 601.6 253.6 607.0 256.6C612.4 259.5 619.0 263.5 625.0 268.7C631.0 273.8 640.0 284.2 643.0 287.3" fill="none" stroke="#2a9a2a" stroke-width="1.3" stroke-dasharray="6 4.2"/>
<path d="M499.1 358.6C500.7 353.4 505.5 335.9 508.6 327.1C511.7 318.2 515.2 310.5 517.8 305.4C520.4 300.4 522.0 299.2 524.3 296.8C526.6 294.3 528.6 293.6 531.5 290.7C534.4 287.8 538.3 282.4 541.7 279.5C545.2 276.5 548.2 274.4 552.2 273.0C556.1 271.6 561.9 271.4 565.7 271.3C569.4 271.1 570.8 271.2 574.7 272.1C578.5 273.1 583.6 274.4 589.0 276.9C594.4 279.4 601.0 283.2 607.0 287.3C613.0 291.4 620.4 297.6 625.0 301.5C629.7 305.4 633.3 309.1 634.9 310.6" fill="none" stroke="#2a2aff" stroke-width="1.2" stroke-dasharray="6 2.5 1.5 2.5"/>
<path d="M499.1 358.6C500.7 353.4 505.5 336.1 508.6 327.1C511.7 318.0 515.1 310.6 517.8 304.1C520.5 297.6 521.4 294.0 524.6 288.1C527.9 282.3 532.6 275.4 537.2 269.1C541.8 262.8 547.4 255.3 552.2 250.5C556.9 245.7 561.8 242.6 565.7 240.1C569.5 237.6 571.3 236.5 575.0 235.4C578.7 234.2 583.9 233.6 587.8 233.4C591.6 233.3 594.4 233.7 598.0 234.5C601.7 235.3 605.4 236.1 609.9 238.4C614.4 240.7 621.0 245.3 625.0 248.3C629.0 251.4 631.0 253.3 634.0 256.6C637.0 259.8 641.5 266.1 643.0 268.0" fill="none" stroke="#ff2020" stroke-width="1.3"/>
<rect x="542.5" y="344.1" width="129.4" height="35.1" fill="#fff" stroke="#c0c0c0" stroke-width="0.8"/>
<line x1="543.1" y1="350.2" x2="564.6" y2="350.2" stroke="#2a2aff" stroke-width="1.3" stroke-dasharray="6 2.5 1.5 2.5"/>
<line x1="543.1" y1="361.5" x2="564.6" y2="361.5" stroke="#2a9a2a" stroke-width="1.3" stroke-dasharray="7.5 5.5"/>
<line x1="543.1" y1="372.7" x2="564.6" y2="372.7" stroke="#ff2020" stroke-width="1.3"/>
<text x="566.6" y="353.9" font-size="9" fill="#222" textLength="23.5" lengthAdjust="spacingAndGlyphs" font-family="Liberation Sans, sans-serif">Water</text>
<text x="566.6" y="364.9" font-size="9" fill="#222" textLength="72" lengthAdjust="spacingAndGlyphs" font-family="Liberation Sans, sans-serif">PCS (Latent heat)</text>
<text x="566.6" y="376.2" font-size="9" fill="#222" textLength="103.2" lengthAdjust="spacingAndGlyphs" font-family="Liberation Sans, sans-serif">PCS (Thermal expansion)</text>
<defs><linearGradient id="res" x1="0" y1="0" x2="0" y2="1"><stop offset="0" stop-color="#8e9ee0"/><stop offset="0.2" stop-color="#9c95cf"/><stop offset="0.45" stop-color="#b58aa8"/><stop offset="0.7" stop-color="#c67d88"/><stop offset="1" stop-color="#d4837e"/></linearGradient><linearGradient id="leg" x1="0" y1="0" x2="0" y2="1"><stop offset="0" stop-color="#7a7070" stop-opacity="0.8"/><stop offset="1" stop-color="#b08a98" stop-opacity="0"/></linearGradient></defs>
<rect x="103.1" y="87.3" width="210.4" height="43.1" fill="url(#res)"/>
<rect x="168.3" y="99.3" width="84.4" height="0.8" fill="#a87890" opacity="0.35"/>
<rect x="172.7" y="108.5" width="112.7" height="0.8" fill="#c88f95" opacity="0.35"/>
<rect x="131.1" y="100.1" width="159.5" height="0.8" fill="#c88f95" opacity="0.35"/>
<rect x="169.0" y="111.1" width="87.7" height="0.8" fill="#b06a78" opacity="0.35"/>
<rect x="121.2" y="99.0" width="151.1" height="0.8" fill="#c88f95" opacity="0.35"/>
<rect x="183.6" y="118.9" width="47.7" height="0.8" fill="#a87890" opacity="0.35"/>
<rect x="196.6" y="91.7" width="116.9" height="0.8" fill="#c88f95" opacity="0.35"/>
<rect x="189.3" y="108.4" width="124.2" height="0.8" fill="#a87890" opacity="0.35"/>
<rect x="154.2" y="120.7" width="127.4" height="0.8" fill="#a87890" opacity="0.35"/>
<rect x="215.3" y="107.3" width="98.2" height="0.8" fill="#b06a78" opacity="0.35"/>
<rect x="162.4" y="91.4" width="71.0" height="0.8" fill="#a87890" opacity="0.35"/>
<rect x="178.2" y="107.0" width="76.1" height="0.8" fill="#a87890" opacity="0.35"/>
<rect x="171.9" y="122.5" width="104.1" height="0.8" fill="#c88f95" opacity="0.35"/>
<rect x="211.5" y="112.8" width="102.0" height="0.8" fill="#b06a78" opacity="0.35"/>
<rect x="221.9" y="123.4" width="91.6" height="0.8" fill="#b06a78" opacity="0.35"/>
<rect x="142.2" y="117.2" width="105.0" height="0.8" fill="#a87890" opacity="0.35"/>
<rect x="188.7" y="112.2" width="65.3" height="0.8" fill="#a87890" opacity="0.35"/>
<rect x="117.9" y="100.4" width="97.8" height="0.8" fill="#a87890" opacity="0.35"/>
<rect x="113.6" y="128.6" width="136.1" height="0.8" fill="#c88f95" opacity="0.35"/>
<rect x="105.4" y="125.0" width="91.3" height="0.8" fill="#c88f95" opacity="0.35"/>
<rect x="108.3" y="124.0" width="113.7" height="0.8" fill="#b06a78" opacity="0.35"/>
<rect x="173.4" y="104.7" width="106.1" height="0.8" fill="#c88f95" opacity="0.35"/>
<rect x="103.1" y="87.3" width="210.4" height="1.2" fill="#a6b6ea"/>
<rect x="103.1" y="87.3" width="210.4" height="43.1" fill="none" stroke="#9098b8" stroke-width="0.5"/>
<rect x="114.3" y="87.3" width="6.4" height="17" fill="url(#leg)"/>
<rect x="297.2" y="87.3" width="6.4" height="17" fill="url(#leg)"/>
<path d="M114.1 104.2H120.4V123.3H123.4L117 130.3L110.5 123.3H114.1Z" fill="#a9c8f0" stroke="#8a9cc4" stroke-width="0.6"/>
<path d="M297.6 130.3V113H295L300.6 106L306.2 113H303.6V130.3Z" fill="#f6b98e" stroke="#d49a80" stroke-width="0.6"/>
<rect x="114.3" y="75" width="6.4" height="12.5" fill="#7c7474"/>
<rect x="114.3" y="75" width="1.2" height="12.5" fill="#5a5454"/>
<path d="M181.4 74V79.5Q181.4 83 185 83H233.5Q237.4 83 237.4 79.5V69" fill="none" stroke="#5f5a5a" stroke-width="8"/>
<path d="M181.4 74V79.5Q181.4 83 185 83H233.5Q237.4 83 237.4 79.5V69" fill="none" stroke="#7a7472" stroke-width="5.6"/>
<path d="M185 79.6H233.5" stroke="#4a3530" stroke-width="0.9"/>
<path d="M206.2 82.9L210 80.6V82H219.5V83.8H210V85.2Z" fill="#f9c9a2"/>
<path d="M253 62.7H296Q300.4 62.7 300.4 67V87.3" fill="none" stroke="#5f5a5a" stroke-width="7.2"/>
<path d="M253 62.7H296Q300.4 62.7 300.4 67V87.3" fill="none" stroke="#7a7472" stroke-width="5"/>
<path d="M269.4 62.4L273.5 59.8V61.4H284.3V63.4H273.5V65Z" fill="#f5a878"/>
<rect x="251.3" y="59.3" width="3" height="7" fill="#c8ccd4"/>
<rect x="227.2" y="57.5" width="23" height="12.6" rx="1" fill="#c4c6ce"/>
<rect x="228.2" y="68.2" width="21" height="2" fill="#a8a8b4"/>
<rect x="229.1" y="41" width="17.3" height="4" fill="#c8cace"/>
<rect x="231" y="44.5" width="14" height="3" fill="#22bfc0"/>
<rect x="243" y="49" width="9.5" height="16.5" rx="1.5" fill="#19b4b8"/>
<circle cx="238" cy="56" r="10.3" fill="#1cc6c6"/>
<circle cx="237.6" cy="56.2" r="7" fill="#14b0b4"/>
<circle cx="237.2" cy="55.6" r="4.4" fill="#46e4e2"/>
<rect x="235" y="56" width="4.2" height="9.5" fill="#3ad8d8"/>
<path d="M247 52.2H264.6V57.5" fill="none" stroke="#2cc4cc" stroke-width="1"/>
<path d="M246 47Q252 42 255 50" fill="none" stroke="#c8ccd2" stroke-width="0.8"/>
<rect x="265.2" y="53.5" width="1.5" height="5" fill="#6cc070"/>
<rect x="260.8" y="65.8" width="7.5" height="4.4" fill="#8fb0c8"/>
<rect x="262.5" y="65.8" width="4" height="3" fill="#4f98c0"/>
<rect x="129.3" y="12.7" width="31.2" height="8.5" fill="#4e3b4c"/>
<rect x="160.4" y="12.7" width="33.9" height="8.5" fill="#6d3a33"/>
<rect x="113.5" y="21" width="47" height="54.7" fill="#5c4849"/>
<rect x="160.4" y="21" width="51.5" height="54.7" fill="#7d4530"/>
<text x="186.3" y="36.1" font-size="10.4" fill="#f8f0ea" text-anchor="middle" textLength="21" lengthAdjust="spacingAndGlyphs" font-family="Liberation Sans, sans-serif" font-weight="bold">ORC</text>
<text x="186.3" y="49.6" font-size="10.4" fill="#f8f0ea" text-anchor="middle" textLength="31" lengthAdjust="spacingAndGlyphs" font-family="Liberation Sans, sans-serif" font-weight="bold">Power</text>
<text x="186.3" y="62.5" font-size="10.4" fill="#f8f0ea" text-anchor="middle" textLength="25.5" lengthAdjust="spacingAndGlyphs" font-family="Liberation Sans, sans-serif" font-weight="bold">Plant</text>
<text x="246.1" y="19.8" font-size="9.8" fill="#1a1a1a" text-anchor="middle" textLength="63.5" lengthAdjust="spacingAndGlyphs" font-family="Liberation Sans, sans-serif" font-weight="bold">Hydroelectric</text>
<text x="246.1" y="32.4" font-size="9.8" fill="#1a1a1a" text-anchor="middle" textLength="37" lengthAdjust="spacingAndGlyphs" font-family="Liberation Sans, sans-serif" font-weight="bold">Turbine</text>
<text x="207.6" y="105.5" font-size="9.8" fill="#1e1a20" text-anchor="middle" textLength="58" lengthAdjust="spacingAndGlyphs" font-family="Liberation Sans, sans-serif" font-weight="bold">Geothermal</text>
<text x="207.6" y="118.8" font-size="9.8" fill="#1e1a20" text-anchor="middle" textLength="47" lengthAdjust="spacingAndGlyphs" font-family="Liberation Sans, sans-serif" font-weight="bold">Reservoir</text>
<text x="0" y="0" transform="translate(11.6,20.3) scale(0.93,1)" font-size="21" fill="#111" font-family="Liberation Sans, sans-serif">a)</text>
<text x="0" y="0" transform="translate(12.3,181.6) scale(0.93,1)" font-size="21" fill="#111" font-family="Liberation Sans, sans-serif">b)</text>
<text x="0" y="0" transform="translate(414.8,20.6) scale(0.93,1)" font-size="21" fill="#111" font-family="Liberation Sans, sans-serif">c)</text>
<text x="0" y="0" transform="translate(416.6,198.6) scale(0.93,1)" font-size="21" fill="#111" font-family="Liberation Sans, sans-serif">d)</text></svg></body></html>
